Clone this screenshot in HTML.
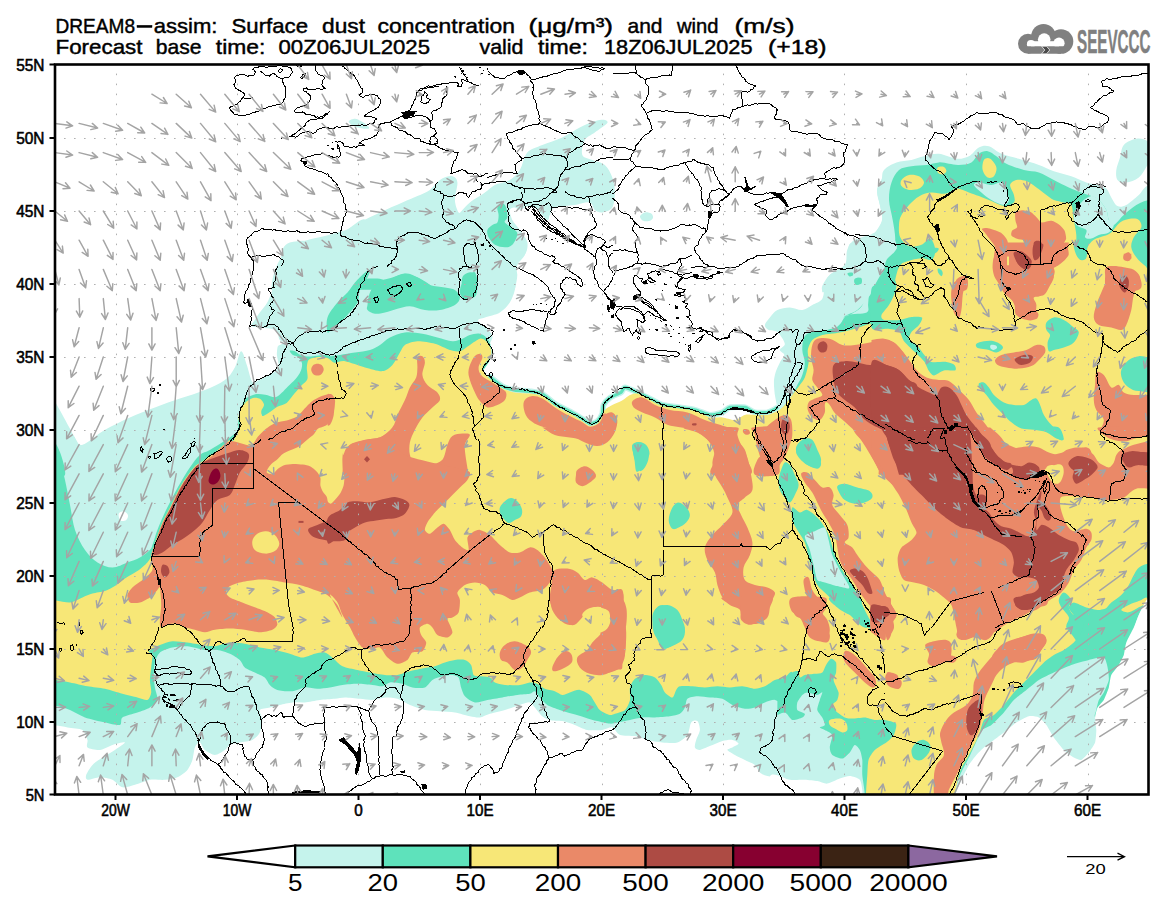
<!DOCTYPE html>
<html><head><meta charset="utf-8"><title>DREAM8 dust forecast</title>
<style>html,body{margin:0;padding:0;background:#fff;}body{width:1165px;height:907px;overflow:hidden;font-family:"Liberation Sans",sans-serif;}svg{display:block;font-family:"Liberation Sans",sans-serif;}.t{fill:#000;}</style></head><body>
<svg width="1165" height="907" viewBox="0 0 1165 907">
<rect x="0" y="0" width="1165" height="907" fill="#fff"/>
<defs><clipPath id="clip"><rect x="55.0" y="64.5" width="1093.5" height="730.0"/></clipPath></defs>
<g clip-path="url(#clip)">
<g id="fills" stroke="none">
<path fill="#c5f3ec" d="M271.1,289.8C271.9,284.8 272.1,279.8 273.6,274.8C275.0,269.8 277.1,264.0 279.8,259.8C282.5,255.7 285.6,253.0 289.8,249.8C294.0,246.7 299.0,243.4 304.8,241.1C310.6,238.8 317.9,238.0 324.8,236.1C331.6,234.2 338.9,232.1 346.0,229.9C353.1,227.6 363.9,212.8 367.2,222.4C370.8,232.4 367.2,267.3 367.2,289.8L271.1,289.8Z"/>
<path fill="#c5f3ec" d="M52.5,397.4C55.8,403.2 58.7,408.2 62.5,414.9C66.2,421.5 71.7,432.3 75.0,437.3C77.6,441.3 77.9,446.0 82.5,444.8C87.5,443.6 97.0,434.4 105.0,429.8C112.9,425.3 121.6,421.1 129.9,417.4C138.3,413.6 146.6,410.5 154.9,407.4C163.2,404.2 171.6,401.5 179.9,398.6C188.2,395.7 197.4,393.0 204.9,389.9C212.4,386.8 219.9,383.6 224.9,379.9C229.9,376.1 232.1,372.2 234.8,367.4C237.6,362.6 239.1,351.6 241.1,351.2C243.1,350.7 245.0,359.9 246.8,364.9C248.6,369.9 250.1,377.7 251.8,381.1C253.3,383.9 254.2,385.0 257.3,385.4C262.0,386.0 272.3,385.0 279.8,384.9L354.7,384.9L354.7,494.8L52.5,494.8L52.5,397.4Z"/>
<path fill="#c5f3ec" d="M289.8,242.5C278.3,246.3 282.3,261.7 279.8,267.5C277.8,272.1 276.1,273.7 274.8,277.5C273.6,281.2 273.6,285.8 272.3,290.0C271.1,294.1 269.4,298.7 267.3,302.5C265.2,306.2 261.9,309.5 259.8,312.4C257.7,315.4 256.1,317.6 254.8,319.9C253.6,322.2 249.6,324.8 252.3,326.2C255.7,327.8 270.2,327.6 274.8,329.9C279.3,332.2 277.9,337.4 279.8,339.9C281.7,342.4 286.1,341.3 286.1,344.9C286.1,349.1 282.5,359.1 279.8,364.9C277.1,370.7 269.8,374.9 269.8,379.9C269.8,384.9 276.5,389.9 279.8,394.9L354.7,394.9L354.7,242.5C333.1,242.5 302.3,238.3 289.8,242.5Z"/>
<path fill="#c5f3ec" d="M287.9,342.6C283.1,342.8 278.6,345.5 277.9,346.3C277.2,347.2 276.8,353.8 276.9,355.1C277.0,356.5 279.0,365.3 278.9,366.4C278.8,367.5 276.9,370.5 275.4,371.5C273.9,372.5 258.3,380.3 256.5,381.5C254.7,382.7 249.1,388.0 248.4,389.0C247.6,390.1 245.6,396.7 245.2,397.8L350.8,397.8C350.8,390.5 354.9,346.2 350.8,342.6C346.6,338.9 292.8,342.3 287.9,342.6Z"/>
<path fill="#c5f3ec" d="M304.8,784.8C305.8,783.6 310.4,781.9 312.3,782.3C314.2,782.8 316.0,785.9 316.0,787.3C316.0,788.8 313.9,790.7 312.3,791.1C310.6,791.5 307.3,790.9 306.0,789.8C304.8,788.8 303.7,786.1 304.8,784.8Z"/>
<path fill="#c5f3ec" d="M327.5,238.6C328.8,232.9 335.4,237.1 340.0,234.9C344.6,232.6 348.3,228.6 355.0,224.9C361.6,221.1 372.0,216.1 380.0,212.4C387.9,208.6 396.2,205.1 402.4,202.4C408.7,199.7 412.8,198.2 417.4,196.1C422.0,194.1 426.2,192.6 429.9,189.9C433.7,187.2 436.2,182.2 439.9,179.9C443.7,177.6 449.5,175.7 452.4,176.2C455.3,176.6 457.0,178.8 457.4,182.4C457.8,186.4 454.7,194.9 454.9,199.9C455.1,204.9 457.4,210.7 458.6,212.4C459.9,214.0 460.9,211.2 462.4,209.9C464.3,208.2 466.1,205.3 469.9,202.4C473.6,199.5 480.7,195.3 484.9,192.4C489.0,189.5 490.7,187.0 494.9,184.9C499.0,182.8 505.7,182.4 509.8,179.9C514.0,177.4 516.9,174.5 519.8,169.9C522.8,165.3 523.6,156.6 527.3,152.4C531.1,148.3 536.5,147.4 542.3,144.9C548.1,142.4 556.1,140.3 562.3,137.4C568.5,134.5 574.4,130.1 579.8,127.4C585.2,124.7 590.6,122.4 594.8,121.2C598.9,119.9 602.7,119.7 604.8,119.9C606.5,120.2 608.4,121.6 607.3,122.9C605.6,125.0 598.5,129.6 594.8,132.4C591.0,135.3 586.9,136.2 584.8,139.9C582.7,143.7 581.0,151.6 582.3,154.9C583.5,158.2 588.5,158.2 592.3,159.9C596.0,161.6 601.4,162.0 604.8,164.9C608.1,167.8 610.6,172.8 612.3,177.4C613.9,182.0 614.8,187.4 614.8,192.4C614.8,197.4 614.3,204.0 612.3,207.4C610.2,210.7 605.2,212.0 602.3,212.4C599.4,212.8 596.9,211.5 594.8,209.9C592.7,208.2 593.1,203.2 589.8,202.4C586.4,201.5 580.6,204.0 574.8,204.9C569.0,205.7 559.0,205.7 554.8,207.4C551.0,208.9 551.1,212.8 549.8,214.9C548.6,216.9 549.4,220.7 547.3,219.9C545.2,219.0 540.2,212.2 537.3,209.9C534.4,207.6 531.9,206.5 529.8,206.1C527.7,205.7 526.5,206.8 524.8,207.4C523.2,208.0 521.5,209.9 519.8,209.9C518.2,209.9 516.5,207.4 514.8,207.4C513.2,207.4 510.3,207.8 509.8,209.9C509.4,212.0 510.7,216.5 512.3,219.9C514.0,223.2 517.3,226.1 519.8,229.9C522.3,233.6 526.5,238.2 527.3,242.3C528.2,246.5 526.9,251.5 524.8,254.8C522.8,258.2 516.1,259.0 514.8,262.3C513.6,265.7 517.3,270.2 517.3,274.8C517.3,279.4 515.7,284.8 514.8,289.8L327.5,289.8C327.5,272.7 325.4,247.8 327.5,238.6Z"/>
<path fill="#c5f3ec" d="M348.7,121.2C349.2,120.1 352.9,118.7 355.0,118.7C357.1,118.7 359.1,120.1 361.2,121.2C363.3,122.3 366.2,124.2 367.5,125.4C368.6,126.6 370.0,128.3 368.7,128.7C367.5,129.1 362.7,128.5 360.0,127.9C357.3,127.4 354.4,126.6 352.5,125.4C350.6,124.3 348.3,122.3 348.7,121.2Z"/>
<path fill="#c5f3ec" d="M327.5,242.5L527.3,242.5C526.5,246.7 526.5,251.2 524.8,255.0C523.2,258.7 518.8,261.2 517.3,265.0C515.9,268.7 516.5,273.3 516.1,277.5C515.7,281.6 515.9,285.8 514.8,290.0C513.8,294.1 512.3,298.7 509.8,302.5C507.3,306.2 504.0,309.9 499.9,312.4C495.7,314.9 488.5,316.1 484.9,317.4C481.7,318.6 477.7,318.8 477.9,320.4C478.1,322.1 483.7,324.8 486.1,327.4C488.5,330.1 491.7,333.3 492.4,336.2C493.0,339.1 489.9,341.8 489.9,344.9C489.9,348.0 493.4,351.6 492.4,354.9C491.3,358.2 484.9,362.0 483.6,364.9C482.4,367.8 483.4,369.9 484.9,372.4C486.3,374.9 489.4,377.2 492.4,379.9C495.3,382.6 499.0,385.7 502.4,388.6L327.5,388.6L327.5,242.5Z"/>
<path fill="#c5f3ec" d="M361.2,778.6C361.6,776.5 364.3,772.1 367.5,769.9C370.6,767.6 376.2,765.9 380.0,764.9C383.7,763.8 387.0,763.4 389.9,763.6C392.9,763.8 397.0,764.7 397.4,766.1C397.9,767.6 395.4,770.9 392.4,772.4C389.5,773.8 383.7,773.6 380.0,774.9C376.2,776.1 372.5,778.6 370.0,779.8C367.7,781.0 366.4,782.6 365.0,782.3C363.5,782.1 360.8,780.7 361.2,778.6Z"/>
<path fill="#c5f3ec" d="M640.0,216.1C640.4,214.8 643.1,212.8 645.0,212.4C646.8,212.0 649.9,212.7 651.2,213.6C652.5,214.5 653.4,216.6 653.0,217.9C652.5,219.1 650.5,220.7 648.7,221.1C647.0,221.5 643.9,221.2 642.5,220.4C641.0,219.5 639.6,217.4 640.0,216.1Z"/>
<path fill="#c5f3ec" d="M897.3,164.9C891.8,166.6 888.1,170.7 884.8,174.9C881.4,179.1 878.1,184.9 877.3,189.9C876.4,194.9 878.9,199.9 879.8,204.9C880.6,209.9 883.1,215.3 882.3,219.9C881.4,224.4 879.4,229.0 874.8,232.4C870.2,235.7 859.4,236.9 854.8,239.8C850.2,242.8 849.0,245.7 847.3,249.8C845.6,254.0 847.7,260.7 844.8,264.8C841.9,269.0 833.6,271.3 829.8,274.8C826.1,278.4 823.6,283.1 822.3,286.1C821.2,288.6 822.3,290.2 822.3,292.3L917.2,292.3L917.2,164.9C910.6,164.9 902.7,163.2 897.3,164.9Z"/>
<path fill="#c5f3ec" d="M852.3,242.5C844.6,244.5 851.5,255.8 849.8,260.0C848.1,264.2 845.6,265.0 842.3,267.5C839.0,270.0 832.7,272.1 829.8,275.0C826.9,277.9 826.1,281.0 824.8,285.0C823.6,288.9 824.4,295.4 822.3,298.7C820.2,302.0 815.7,303.1 812.3,304.9C809.0,306.8 806.1,309.5 802.3,309.9C798.6,310.4 794.0,307.4 789.8,307.4C785.7,307.4 780.7,308.3 777.4,309.9C774.0,311.6 771.9,314.9 769.9,317.4C767.8,319.9 765.1,322.9 764.9,324.9C764.7,327.0 766.5,328.8 768.6,329.9C770.7,331.1 774.6,329.6 777.4,331.9C780.1,334.2 784.4,340.7 784.8,343.7C785.3,346.7 779.9,348.0 779.9,349.9C779.8,351.8 784.3,352.8 784.3,354.9C784.3,357.0 781.4,359.1 779.9,362.4C778.3,365.7 775.9,370.3 774.9,374.9C773.8,379.5 773.4,384.9 773.6,389.9C773.8,394.9 775.1,401.1 776.1,404.9C777.1,408.5 778.6,409.9 779.9,412.4L917.2,412.4L917.2,242.5C895.6,242.5 863.5,239.6 852.3,242.5Z"/>
<path fill="#c5f3ec" d="M881.5,179.9C882.7,176.6 881.5,172.8 884.0,169.9C886.5,167.0 891.9,164.1 896.5,162.4C901.1,160.7 906.9,161.0 911.5,159.9C916.0,158.9 919.4,157.2 924.0,156.2C928.5,155.1 933.5,153.3 938.9,153.7C944.4,154.1 951.4,158.2 956.4,158.7C961.4,159.1 965.2,158.0 968.9,156.2C972.7,154.3 975.6,149.1 978.9,147.4C982.2,145.8 985.2,145.1 988.9,146.2C992.6,147.2 996.4,151.6 1001.4,153.7C1006.4,155.8 1012.6,156.8 1018.9,158.7C1025.1,160.5 1033.0,162.8 1038.9,164.9C1044.7,167.0 1048.4,169.3 1053.8,171.2C1059.3,173.0 1065.9,174.3 1071.3,176.2C1076.7,178.0 1081.7,180.9 1086.3,182.4C1090.9,183.9 1095.5,183.9 1098.8,184.9C1102.1,185.9 1104.2,186.6 1106.3,188.6C1108.4,190.7 1109.4,194.5 1111.3,197.4C1113.2,200.3 1115.0,204.9 1117.5,206.1C1120.0,207.4 1122.8,206.7 1126.3,204.9C1129.8,203.0 1135.0,198.2 1138.8,194.9C1142.5,191.6 1142.9,187.4 1148.8,184.9C1154.6,182.4 1165.4,181.6 1173.7,179.9L1173.7,289.8L871.5,289.8C871.5,271.5 870.9,244.4 871.5,234.9C871.6,232.9 873.9,233.9 875.0,232.4C876.7,229.9 881.2,224.4 882.0,219.9C882.8,215.3 880.8,209.9 880.0,204.9C879.2,199.9 876.7,194.1 877.0,189.9C877.2,185.7 880.3,183.2 881.5,179.9Z"/>
<path fill="#c5f3ec" d="M1123.8,144.9C1126.5,141.8 1132.3,139.3 1136.3,138.7C1140.2,138.1 1144.6,138.9 1147.5,141.2C1150.4,143.5 1153.8,148.5 1153.8,152.4C1153.8,156.4 1150.0,160.7 1147.5,164.9C1145.0,169.1 1142.3,174.5 1138.8,177.4C1135.2,180.3 1129.8,182.0 1126.3,182.4C1122.7,182.8 1119.2,182.0 1117.5,179.9C1115.9,177.8 1115.9,173.7 1116.3,169.9C1116.7,166.2 1118.8,161.6 1120.0,157.4C1121.3,153.3 1121.1,148.1 1123.8,144.9Z"/>
<path fill="#c5f3ec" d="M50.0,480.0L1000.0,480.0L1000.0,830.0L50.0,830.0Z"/>
<path fill="#ffffff" d="M73.7,432.5C74.2,430.4 77.7,429.0 80.0,428.8C82.3,428.5 86.0,429.8 87.5,431.2C88.9,432.7 89.3,435.6 88.7,437.5C88.1,439.4 85.6,441.9 83.7,442.5C81.9,443.1 79.1,442.9 77.5,441.2C75.8,439.6 73.3,434.6 73.7,432.5Z"/>
<path fill="#ffffff" d="M118.7,513.7C119.2,512.1 122.2,511.0 123.7,511.2C125.2,511.4 127.5,513.5 127.9,514.9C128.4,516.4 127.4,519.0 126.2,519.9C124.9,520.8 121.7,521.5 120.4,520.4C119.2,519.4 118.2,515.2 118.7,513.7Z"/>
<path fill="#ffffff" d="M489.9,369.9C489.9,371.4 488.6,375.7 489.9,377.4C491.1,379.1 499.9,385.6 502.4,386.9C504.9,388.2 512.1,390.1 514.8,390.6C517.6,391.1 527.1,391.5 529.8,391.9C532.6,392.2 539.8,393.1 542.3,394.4C544.8,395.6 552.1,402.6 554.8,404.4C557.6,406.1 567.0,410.4 569.8,411.9C572.5,413.4 580.3,418.1 582.3,419.4C584.3,420.6 588.3,424.1 589.8,424.3C591.3,424.6 596.0,422.8 597.3,421.8C598.5,420.9 601.6,416.1 602.3,414.4C602.9,412.7 602.8,406.5 603.5,404.9C604.3,403.2 608.0,399.1 609.8,397.9C611.5,396.7 619.5,393.9 621.0,392.9C622.5,391.9 623.3,387.9 625.0,387.9C626.6,387.9 635.2,391.9 637.5,392.9C639.7,393.9 645.0,396.6 647.5,397.9C650.0,399.1 659.2,404.4 662.5,405.4C665.7,406.4 676.7,407.4 679.9,407.9C683.2,408.4 691.9,409.6 694.9,410.4C697.9,411.1 707.2,415.1 709.9,415.4C712.7,415.6 720.4,413.6 722.4,412.9C724.4,412.1 727.6,408.4 729.9,407.9C732.1,407.4 742.4,407.4 744.9,407.9C747.4,408.4 752.6,412.4 754.9,412.9C757.1,413.4 765.2,413.3 767.4,412.9C769.6,412.4 776.1,410.4 776.9,408.6C777.6,406.8 775.2,397.7 774.9,394.9C774.5,392.0 773.7,382.4 773.6,379.9C773.5,377.4 773.6,371.9 773.6,369.9L489.9,369.9Z"/>
<path fill="none" stroke="#c5f3ec" stroke-width="6.0" stroke-linejoin="round" stroke-linecap="round" d="M489.9,376.9C491.1,377.8 499.9,385.1 502.4,386.4C504.9,387.7 512.1,389.6 514.8,390.1C517.6,390.6 527.1,391.0 529.8,391.4C532.6,391.8 539.8,392.6 542.3,393.9C544.8,395.1 552.1,402.1 554.8,403.9C557.6,405.6 567.0,409.9 569.8,411.4C572.5,412.9 580.3,417.6 582.3,418.9C584.3,420.1 588.3,423.6 589.8,423.8C591.3,424.1 596.0,422.3 597.3,421.4C598.5,420.4 601.6,415.5 602.3,413.9C602.9,412.2 602.8,406.5 603.5,404.9C604.3,403.3 608.0,399.1 609.8,397.9C611.5,396.6 619.5,393.4 621.0,392.4C622.5,391.3 623.3,387.4 625.0,387.4C626.6,387.4 635.2,391.4 637.5,392.4C639.7,393.4 645.0,396.1 647.5,397.4C650.0,398.6 659.2,403.9 662.5,404.9C665.7,405.9 676.7,406.9 679.9,407.4C683.2,407.9 691.9,409.1 694.9,409.9C697.9,410.6 707.2,414.6 709.9,414.9C712.7,415.1 720.4,413.1 722.4,412.4C724.4,411.6 727.6,407.9 729.9,407.4C732.1,406.9 742.4,406.9 744.9,407.4C747.4,407.9 752.6,411.9 754.9,412.4C757.1,412.9 765.2,412.8 767.4,412.4C769.6,411.9 775.9,408.5 776.9,408.1"/>
<path fill="#ffffff" d="M52.5,724.9C56.5,725.6 63.5,726.7 67.5,727.4C71.5,728.1 79.8,728.2 82.5,729.9C85.1,731.6 86.8,737.5 87.5,739.9C88.1,742.2 85.8,746.0 87.5,747.4C89.1,748.7 96.6,750.2 100.0,749.9C103.3,749.5 109.1,745.9 112.5,744.9C115.8,743.9 124.6,741.7 124.9,742.4C125.3,743.0 117.9,747.9 114.9,749.9C112.0,751.9 105.5,755.4 102.5,757.4C99.5,759.4 94.6,762.5 92.5,764.9C90.3,767.2 86.9,772.9 86.2,774.9C85.6,776.8 85.6,779.5 87.5,779.8C89.3,780.2 96.6,777.3 100.0,777.3C103.3,777.3 109.5,778.5 112.5,779.8C115.4,781.2 119.4,786.7 122.4,787.3C125.4,788.0 131.3,785.8 134.9,784.8C138.6,783.8 145.9,780.5 149.9,779.8C153.9,779.2 161.2,780.2 164.9,779.8C168.6,779.5 174.4,778.7 177.4,777.3C180.4,776.0 185.4,772.2 187.4,769.9C189.4,767.5 191.4,762.9 192.4,759.9C193.4,756.9 193.9,749.7 194.9,747.4C195.9,745.0 198.5,742.0 199.9,742.4C201.2,742.7 202.9,748.2 204.9,749.9C206.9,751.5 212.2,754.9 214.9,754.9C217.5,754.9 222.9,751.2 224.9,749.9C226.9,748.5 227.9,745.9 229.9,744.9C231.8,743.9 236.8,743.0 239.8,742.4C242.8,741.7 249.7,741.2 252.3,739.9C255.0,738.5 258.5,735.1 259.8,732.4C261.2,729.7 262.3,722.9 262.3,719.9C262.3,716.9 258.8,711.6 259.8,709.9C260.8,708.2 267.2,708.1 269.8,707.4C272.5,706.7 276.8,705.6 279.8,704.9C282.8,704.2 289.0,702.7 292.3,702.4C295.6,702.1 301.1,702.7 304.8,702.4C308.5,702.1 315.8,700.4 319.8,699.9C323.8,699.4 331.4,699.0 334.8,698.7C338.1,698.3 341.6,697.4 345.0,697.4C348.3,697.4 356.3,698.3 360.0,698.7C363.6,699.0 369.1,700.1 372.5,699.9C375.8,699.7 381.6,697.6 385.0,697.4C388.3,697.3 394.1,697.7 397.4,698.7C400.8,699.7 406.3,703.4 409.9,704.9C413.6,706.4 420.9,709.1 424.9,709.9C428.9,710.7 435.9,710.8 439.9,711.2C443.9,711.5 450.9,711.7 454.9,712.4C458.9,713.1 466.6,715.5 469.9,716.2C473.2,716.8 477.2,717.7 479.9,717.4C482.5,717.1 486.5,714.7 489.9,713.7C493.2,712.7 500.9,711.1 504.9,709.9C508.8,708.7 516.5,705.9 519.8,704.9C523.2,703.9 527.8,702.1 529.8,702.4C531.8,702.7 533.2,705.6 534.8,707.4C536.5,709.2 540.3,714.5 542.3,716.2C544.3,717.8 547.1,719.2 549.8,719.9C552.5,720.6 559.0,720.5 562.3,721.1C565.6,721.8 571.5,723.7 574.8,724.9C578.1,726.1 583.6,729.2 587.3,729.9C590.9,730.6 598.9,730.2 602.3,729.9C605.6,729.6 609.9,726.7 612.3,727.4C614.6,728.1 617.0,733.7 620.0,734.9C623.0,736.1 631.3,735.5 635.0,736.1C638.6,736.8 643.8,739.0 647.5,739.9C651.1,740.7 658.5,742.0 662.5,742.4C666.4,742.7 674.1,743.4 677.4,742.4C680.8,741.4 685.6,737.5 687.4,734.9C689.3,732.2 689.8,724.2 691.2,722.4C692.5,720.6 696.3,720.1 697.4,721.1C698.6,722.1 700.1,727.4 699.9,729.9C699.8,732.4 696.8,737.5 696.2,739.9C695.5,742.2 694.4,746.0 694.9,747.4C695.4,748.7 697.9,750.0 699.9,749.9C701.9,749.7 706.9,747.3 709.9,746.1C712.9,745.0 719.4,742.0 722.4,741.1C725.4,740.3 730.2,739.5 732.4,739.9C734.6,740.2 738.6,742.6 738.6,743.6C738.6,744.6 733.9,746.5 732.4,747.4C730.9,748.2 727.1,748.9 727.4,749.9C727.7,750.9 732.6,753.5 734.9,754.9C737.2,756.2 742.2,758.5 744.9,759.9C747.5,761.2 752.9,763.2 754.9,764.9C756.9,766.5 758.2,770.9 759.9,772.4C761.5,773.9 764.7,775.4 767.4,776.1C770.0,776.8 775.5,776.8 779.9,777.3C784.2,777.9 797.3,771.6 800.0,780.0C802.7,788.4 800.0,824.0 800.0,840.0L40.0,840.0L52.5,724.9Z"/>
<path fill="#5ee2bb" d="M52.5,442.3C53.8,438.6 58.0,447.1 60.0,452.3C62.1,457.7 66.2,471.1 65.0,474.8C63.7,478.6 54.5,480.1 52.5,474.8C50.4,469.4 51.3,446.1 52.5,442.3Z"/>
<path fill="#5ee2bb" d="M289.8,350.7C290.2,350.1 293.7,350.6 295.5,351.4C297.3,352.1 298.2,354.2 300.5,355.1C302.8,356.0 305.3,356.6 309.3,356.6C313.5,356.6 321.2,354.9 325.6,355.1C330.0,355.4 331.5,357.6 335.7,358.3C339.9,358.9 349.1,352.3 350.8,358.9C353.3,368.8 350.8,398.3 350.8,417.9L262.8,417.9C262.0,415.4 260.3,412.7 260.3,410.4C260.3,408.1 262.9,405.9 262.8,404.1C262.7,402.3 261.1,400.7 259.7,399.7C258.2,398.8 256.2,398.0 254.0,398.5C251.8,398.9 248.5,400.8 246.5,402.2C244.5,403.7 242.5,407.6 242.1,407.3C241.7,406.9 242.6,402.2 244.0,400.4C245.3,398.5 248.2,397.0 250.3,396.0C252.3,394.9 254.0,394.3 256.5,394.1C259.0,393.9 262.2,394.2 265.3,394.7C268.5,395.2 272.7,397.5 275.4,397.2C278.1,396.9 279.6,394.6 281.7,392.8C283.8,391.0 285.6,388.8 287.9,386.5C290.2,384.2 293.4,381.5 295.5,379.0C297.6,376.5 299.4,374.1 300.5,371.5C301.6,368.8 302.4,365.7 302.0,363.3C301.6,360.9 299.5,358.4 298.0,357.0C296.5,355.6 294.3,356.2 293.0,355.1C291.6,354.1 289.4,351.4 289.8,350.7Z"/>
<path fill="#5ee2bb" d="M240.2,416.7C241.4,417.1 243.2,420.9 245.2,423.0C247.2,425.1 251.7,426.9 252.1,429.2C252.6,431.5 249.9,434.7 247.7,436.8C245.5,438.9 241.2,440.3 238.9,441.8C236.6,443.3 235.4,444.9 233.9,445.6C232.5,446.2 229.7,447.2 230.2,445.6C230.8,443.1 236.3,434.7 237.7,430.5C239.0,426.3 237.9,422.8 238.3,420.5C238.7,418.6 239.0,416.3 240.2,416.7Z"/>
<path fill="#5ee2bb" d="M52.5,442.5C53.3,442.5 54.6,441.5 55.0,442.5C56.2,445.4 58.3,453.7 60.0,460.0C61.7,466.2 63.3,472.5 65.0,480.0C66.7,487.5 68.3,496.6 70.0,504.9C71.7,513.3 72.5,522.4 75.0,529.9C77.5,537.4 81.2,544.5 85.0,549.9C88.7,555.3 92.9,559.5 97.5,562.4C102.0,565.3 107.5,567.4 112.5,567.4C117.4,567.4 122.9,564.1 127.4,562.4C132.0,560.7 136.2,559.5 139.9,557.4C143.7,555.3 147.8,552.2 149.9,549.9C152.1,547.6 151.8,546.6 152.9,543.7C154.2,540.3 155.4,535.1 157.4,529.9C159.4,524.7 162.4,517.8 164.9,512.4C167.4,507.0 169.9,502.2 172.4,497.4C174.9,492.7 177.0,488.7 179.9,483.7C182.8,478.7 186.6,472.3 189.9,467.5C193.2,462.7 196.5,457.9 199.9,455.0C203.2,452.1 205.5,452.5 209.9,450.0C214.9,447.1 224.4,441.2 229.9,437.5C235.3,433.7 238.2,430.8 242.3,427.5L354.7,427.5L354.7,629.8L52.5,629.8L52.5,442.5Z"/>
<path fill="#5ee2bb" d="M497.4,207.4C498.0,205.5 500.9,203.6 502.4,203.6C503.8,203.6 505.3,205.1 506.1,207.4C506.9,209.7 507.6,214.9 507.3,217.4C507.1,219.9 503.6,220.3 504.9,222.4C506.1,224.4 512.8,227.8 514.8,229.9C516.6,231.6 517.8,232.4 517.3,234.9C516.9,237.3 514.4,242.8 512.3,244.8C510.3,246.9 507.8,247.3 504.9,247.3C501.9,247.3 497.6,246.5 494.9,244.8C492.2,243.2 489.9,239.8 488.6,237.3C487.4,234.9 486.7,231.9 487.4,229.9C488.0,227.8 490.7,226.1 492.4,224.9C494.0,223.6 496.3,224.0 497.4,222.4C498.4,220.7 498.6,217.4 498.6,214.9C498.6,212.4 496.7,209.2 497.4,207.4Z"/>
<path fill="#5ee2bb" d="M462.4,277.3C463.4,274.4 467.8,272.7 469.9,272.3C472.0,271.9 474.0,272.5 474.9,274.8C475.9,277.7 478.0,287.3 476.1,289.8C474.3,292.3 465.9,291.9 463.6,289.8C461.3,287.7 461.3,280.2 462.4,277.3Z"/>
<path fill="#5ee2bb" d="M355.0,289.8C357.5,286.5 358.7,281.7 362.5,279.8C366.2,277.9 373.3,278.6 377.5,278.6C381.6,278.6 383.0,280.6 387.5,279.8C392.0,279.0 399.9,274.0 404.9,273.6C409.9,273.2 413.3,275.4 417.4,277.3C421.6,279.2 427.4,282.7 429.9,284.8C431.8,286.4 431.6,288.1 432.4,289.8L355.0,289.8Z"/>
<path fill="#5ee2bb" d="M367.5,304.9C367.9,302.0 368.3,296.2 370.0,292.5C371.6,288.7 373.7,285.0 377.5,282.5C381.2,280.0 387.9,278.9 392.4,277.5C397.0,276.0 400.8,273.7 404.9,273.7C409.1,273.7 413.3,275.6 417.4,277.5C421.6,279.3 425.3,283.3 429.9,285.0C434.5,286.6 440.7,286.6 444.9,287.5C449.1,288.3 452.4,288.3 454.9,290.0C457.4,291.6 459.9,295.0 459.9,297.5C459.9,300.0 458.2,302.9 454.9,304.9C451.6,307.0 444.9,309.1 439.9,309.9C434.9,310.8 429.9,310.6 424.9,309.9C419.9,309.3 414.5,306.4 409.9,306.2C405.4,306.0 401.6,307.7 397.4,308.7C393.3,309.7 388.7,311.6 385.0,312.4C381.2,313.3 377.9,314.1 375.0,313.7C372.0,313.3 368.7,311.4 367.5,309.9C366.2,308.5 367.2,307.2 367.5,304.9Z"/>
<path fill="#5ee2bb" d="M462.4,282.5C464.1,279.6 467.8,276.6 469.9,275.0C471.8,273.4 473.6,271.2 474.9,272.5C476.1,273.7 477.2,278.7 477.4,282.5C477.6,286.2 477.4,292.3 476.1,295.0C474.9,297.7 472.0,298.1 469.9,298.7C467.8,299.3 465.3,299.7 463.6,298.7C462.0,297.7 460.1,295.2 459.9,292.5C459.7,289.8 460.7,285.4 462.4,282.5Z"/>
<path fill="#5ee2bb" d="M327.5,317.4C329.2,312.4 334.2,306.6 337.5,302.5C340.8,298.3 344.6,295.8 347.5,292.5C350.4,289.1 352.1,285.8 355.0,282.5C357.9,279.1 362.5,274.6 365.0,272.5C366.9,270.9 369.5,269.1 370.0,270.0C370.4,270.8 369.1,274.3 367.5,277.5C365.8,280.8 361.6,285.8 360.0,290.0C358.3,294.1 359.6,298.3 357.5,302.5C355.4,306.6 350.4,311.6 347.5,314.9C344.6,318.3 342.9,319.7 340.0,322.4C337.1,325.1 332.1,329.5 330.0,331.2C329.0,332.0 327.7,333.7 327.5,332.4C327.1,330.1 325.8,322.4 327.5,317.4Z"/>
<path fill="#5ee2bb" d="M327.5,358.7C329.6,355.3 335.4,355.9 340.0,354.9C344.6,353.9 350.0,353.2 355.0,352.4C360.0,351.6 365.8,351.2 370.0,349.9C374.1,348.7 376.6,347.0 380.0,344.9C383.3,342.8 385.8,339.5 389.9,337.4C394.1,335.3 399.5,333.1 404.9,332.4C410.3,331.8 417.0,332.8 422.4,333.7C427.8,334.5 432.4,336.2 437.4,337.4C442.4,338.7 448.2,341.0 452.4,341.2C456.6,341.4 459.5,339.7 462.4,338.7C465.3,337.6 467.0,335.8 469.9,334.9C472.8,334.1 477.0,333.1 479.9,333.7C482.8,334.3 485.5,336.4 487.4,338.7C489.2,341.0 490.7,343.9 491.1,347.4C491.5,351.0 491.7,355.3 489.9,359.9C488.0,364.5 483.2,369.9 479.9,374.9L327.5,374.9C327.5,369.5 325.4,362.0 327.5,358.7Z"/>
<path fill="#5ee2bb" d="M897.3,258.7C891.0,259.2 884.3,260.4 879.8,261.2C875.2,262.1 871.4,261.0 869.8,263.7C868.1,266.4 869.4,273.1 869.8,277.5C870.2,281.8 872.7,286.4 872.3,290.0C871.9,293.5 869.8,295.4 867.3,298.7C864.8,302.0 861.0,307.0 857.3,309.9C853.5,312.9 847.9,313.7 844.8,316.2C841.7,318.7 841.5,322.6 838.6,324.9C835.6,327.2 831.3,328.9 827.3,329.9C823.4,331.0 818.6,330.1 814.8,331.2C811.1,332.2 806.9,333.1 804.8,336.2C802.7,339.3 802.3,345.5 802.3,349.9C802.3,354.3 804.8,358.2 804.8,362.4C804.8,366.6 803.6,371.1 802.3,374.9C801.1,378.6 799.0,381.6 797.3,384.9C795.7,388.2 794.4,391.5 792.3,394.9C790.3,398.2 786.9,401.9 784.8,404.9C782.8,407.8 780.7,409.0 779.9,412.4C779.0,415.7 779.9,420.7 779.9,424.8L917.2,424.8L917.2,258.7C910.6,258.7 903.5,258.3 897.3,258.7Z"/>
<path fill="#5ee2bb" d="M854.8,278.7C855.7,278.0 858.7,277.3 859.8,278.0C860.8,278.6 861.5,281.3 861.0,282.5C860.5,283.6 857.9,285.0 856.8,285.0C855.7,285.0 854.6,283.5 854.3,282.5C854.0,281.4 853.9,279.5 854.8,278.7Z"/>
<path fill="none" stroke="#5ee2bb" stroke-width="3.2" stroke-linejoin="round" stroke-linecap="round" d="M489.9,376.9C491.1,377.8 499.9,385.1 502.4,386.4C504.9,387.7 512.1,389.6 514.8,390.1C517.6,390.6 527.1,391.0 529.8,391.4C532.6,391.8 539.8,392.6 542.3,393.9C544.8,395.1 552.1,402.1 554.8,403.9C557.6,405.6 567.0,409.9 569.8,411.4C572.5,412.9 580.3,417.6 582.3,418.9C584.3,420.1 588.3,423.6 589.8,423.8C591.3,424.1 596.0,422.3 597.3,421.4C598.5,420.4 601.6,415.5 602.3,413.9C602.9,412.2 602.8,406.5 603.5,404.9C604.3,403.3 608.0,399.1 609.8,397.9C611.5,396.6 619.5,393.4 621.0,392.4C622.5,391.3 623.3,387.4 625.0,387.4C626.6,387.4 635.2,391.4 637.5,392.4C639.7,393.4 645.0,396.1 647.5,397.4C650.0,398.6 659.2,403.9 662.5,404.9C665.7,405.9 676.7,406.9 679.9,407.4C683.2,407.9 691.9,409.1 694.9,409.9C697.9,410.6 707.2,414.6 709.9,414.9C712.7,415.1 720.4,413.1 722.4,412.4C724.4,411.6 727.6,407.9 729.9,407.4C732.1,406.9 742.4,406.9 744.9,407.4C747.4,407.9 752.6,411.9 754.9,412.4C757.1,412.9 765.2,412.8 767.4,412.4C769.6,411.9 775.9,408.5 776.9,408.1"/>
<path fill="#5ee2bb" d="M892.7,219.9C891.7,213.2 889.2,206.1 889.0,199.9C888.8,193.6 889.8,187.4 891.5,182.4C893.2,177.4 895.6,172.6 899.0,169.9C902.3,167.2 906.9,167.0 911.5,166.2C916.0,165.3 921.9,165.5 926.5,164.9C931.0,164.3 935.2,162.6 938.9,162.4C942.7,162.2 945.6,163.2 948.9,163.7C952.3,164.1 955.2,165.1 958.9,164.9C962.7,164.7 968.1,164.3 971.4,162.4C974.7,160.5 976.2,155.5 978.9,153.7C981.6,151.8 984.7,150.8 987.7,151.2C990.6,151.6 993.3,154.1 996.4,156.2C999.5,158.2 1001.8,161.4 1006.4,163.7C1011.0,166.0 1018.5,168.4 1023.9,169.9C1029.3,171.4 1033.9,170.7 1038.9,172.4C1043.9,174.1 1048.9,177.4 1053.8,179.9C1058.8,182.4 1064.3,185.3 1068.8,187.4C1073.4,189.5 1077.6,190.9 1081.3,192.4C1085.1,193.8 1088.4,194.9 1091.3,196.1C1094.2,197.4 1096.3,197.6 1098.8,199.9C1101.3,202.2 1104.6,206.5 1106.3,209.9C1108.0,213.2 1107.6,217.4 1108.8,219.9C1110.0,222.4 1111.3,225.7 1113.8,224.9C1116.3,224.0 1120.0,218.2 1123.8,214.9C1127.5,211.5 1132.1,207.4 1136.3,204.9C1140.4,202.4 1142.9,201.4 1148.8,199.9C1155.0,198.2 1165.4,196.6 1173.7,194.9L1173.7,289.8L871.5,289.8C871.5,282.3 869.8,271.7 871.5,267.3C873.2,263.0 878.2,265.7 881.5,263.6C884.8,261.5 889.2,258.8 891.5,254.8C893.8,250.9 895.0,245.7 895.2,239.8C895.4,234.0 893.8,226.5 892.7,219.9Z"/>
<path fill="#5ee2bb" d="M52.5,704.9C57.8,706.2 65.7,708.2 70.0,709.9C74.3,711.6 80.3,715.7 85.0,717.4C89.6,719.1 100.3,721.4 105.0,722.4C109.6,723.4 117.6,725.6 119.9,724.9C122.3,724.2 120.1,719.1 122.4,717.4C124.8,715.7 133.8,713.7 137.4,712.4C141.1,711.1 147.3,709.1 149.9,707.4C152.6,705.7 156.7,702.6 157.4,699.9C158.1,697.3 155.4,690.8 154.9,687.4C154.4,684.1 153.7,678.3 153.7,674.9C153.7,671.6 154.1,665.4 154.9,662.4C155.7,659.4 157.6,654.5 159.9,652.5C162.2,650.5 168.7,648.3 172.4,647.5C176.1,646.6 183.1,645.9 187.4,646.2C191.7,646.5 200.9,649.5 204.9,650.0C208.9,650.5 214.0,649.5 217.4,650.0C220.7,650.5 226.9,652.4 229.9,653.7C232.8,655.0 237.8,658.1 239.8,659.9C241.8,661.8 242.8,665.8 244.8,667.4C246.8,669.1 252.2,671.1 254.8,672.4C257.5,673.8 262.8,675.8 264.8,677.4C266.8,679.1 268.2,683.3 269.8,684.9C271.5,686.6 274.3,689.1 277.3,689.9C280.3,690.8 288.6,691.5 292.3,691.2C296.0,690.8 301.5,687.8 304.8,687.4C308.1,687.1 313.9,688.7 317.3,688.7C320.6,688.7 326.4,687.9 329.8,687.4C333.1,686.9 338.8,685.4 342.5,684.9C346.2,684.4 353.5,683.7 357.5,683.7C361.5,683.7 369.1,684.6 372.5,684.9C375.8,685.3 380.1,686.5 382.5,686.2C384.8,685.8 387.3,682.8 389.9,682.4C392.6,682.1 399.4,683.0 402.4,683.7C405.4,684.3 409.4,686.9 412.4,687.4C415.4,687.9 422.3,688.4 424.9,687.4C427.6,686.4 430.1,681.4 432.4,679.9C434.7,678.4 439.7,676.9 442.4,676.2C445.1,675.5 450.2,674.8 452.4,674.9C454.6,675.1 457.5,675.8 458.6,677.4C459.8,679.1 460.3,684.9 461.1,687.4C462.0,689.9 463.1,694.2 464.9,696.2C466.7,698.2 471.9,701.9 474.9,702.4C477.9,702.9 483.7,700.6 487.4,699.9C491.0,699.2 498.4,698.1 502.4,697.4C506.4,696.8 513.7,695.4 517.3,694.9C521.0,694.4 527.5,694.2 529.8,693.7C532.2,693.2 533.5,690.7 534.8,691.2C536.2,691.7 538.2,695.6 539.8,697.4C541.5,699.2 544.7,703.2 547.3,704.9C550.0,706.6 556.5,708.7 559.8,709.9C563.1,711.1 569.0,712.7 572.3,713.7C575.6,714.7 581.5,716.4 584.8,717.4C588.1,718.4 593.9,720.3 597.3,721.1C600.6,722.0 607.1,723.5 609.8,723.6C612.5,723.8 614.8,722.9 617.5,722.4C620.2,721.9 626.6,720.6 630.0,719.9C633.3,719.2 639.1,717.7 642.5,717.4C645.8,717.1 651.3,717.6 655.0,717.4C658.6,717.2 666.6,716.7 669.9,716.2C673.3,715.7 677.9,714.8 679.9,713.7C681.9,712.5 683.9,709.4 684.9,707.4C685.9,705.4 685.8,700.2 687.4,698.7C689.1,697.2 694.4,696.3 697.4,696.2C700.4,696.0 706.6,697.1 709.9,697.4C713.2,697.8 719.4,697.7 722.4,698.7C725.4,699.7 729.4,703.6 732.4,704.9C735.4,706.2 741.9,708.3 744.9,708.7C747.9,709.0 752.2,708.2 754.9,707.4C757.5,706.6 762.2,703.4 764.9,702.4C767.5,701.4 772.5,699.6 774.9,699.9C777.2,700.2 781.0,703.2 782.3,704.9C783.7,706.6 783.5,710.4 784.8,712.4C786.2,714.4 790.3,721.6 792.3,719.9C794.4,718.2 798.0,705.3 800.0,700.0L800.0,600.0L30.0,600.0L30.0,700.0C36.0,701.3 47.2,703.6 52.5,704.9Z"/>
<path fill="#c5f3ec" d="M1091.3,196.1C1088.4,196.6 1084.2,199.3 1081.3,202.4C1078.4,205.5 1074.7,211.1 1073.8,214.9C1073.0,218.6 1074.2,222.4 1076.3,224.9C1078.4,227.4 1084.9,227.8 1086.3,229.9C1087.8,231.9 1084.2,235.9 1085.1,237.3C1085.9,238.8 1089.0,239.0 1091.3,238.6C1093.6,238.2 1095.9,235.9 1098.8,234.9C1101.7,233.8 1106.3,234.0 1108.8,232.4C1111.3,230.7 1113.8,226.9 1113.8,224.9C1113.8,222.8 1110.0,222.4 1108.8,219.9C1107.6,217.4 1108.0,213.2 1106.3,209.9C1104.6,206.5 1101.3,202.2 1098.8,199.9C1096.3,197.6 1094.2,195.7 1091.3,196.1Z"/>
<path fill="#c5f3ec" d="M978.9,182.4C981.8,182.4 987.7,184.9 991.4,184.9C995.1,184.9 998.9,181.6 1001.4,182.4C1003.9,183.2 1005.1,187.0 1006.4,189.9C1007.6,192.8 1009.3,197.4 1008.9,199.9C1008.5,202.4 1006.8,204.9 1003.9,204.9C1001.0,204.9 995.1,202.0 991.4,199.9C987.7,197.8 984.3,194.9 981.4,192.4C978.5,189.9 974.3,186.6 973.9,184.9C973.5,183.2 976.4,182.4 978.9,182.4Z"/>
<path fill="#c5f3ec" d="M891.4,228.6C892.1,229.3 892.1,231.7 892.8,234.1C893.7,237.3 897.1,244.0 896.9,247.9C896.7,251.7 893.0,254.5 891.4,257.5C889.8,260.4 889.1,262.7 887.3,265.7C885.5,268.7 882.5,272.1 880.4,275.3C878.4,278.5 876.8,281.7 874.9,284.9C873.1,288.1 870.6,291.3 869.4,294.6C868.3,297.8 868.5,301.2 868.1,304.2C867.6,307.1 870.0,310.6 866.7,312.4C863.3,314.2 851.8,313.3 847.5,315.2C843.1,317.0 842.9,321.1 840.6,323.4C838.3,325.7 835.8,328.4 833.7,328.9C831.7,329.3 827.8,327.5 828.2,326.1C828.7,324.8 832.6,322.9 836.5,320.6C842.0,317.4 856.4,312.9 861.2,306.9C866.0,301.0 864.4,292.3 865.3,284.9C866.2,277.6 863.3,269.4 866.7,263.0C870.1,256.6 882.3,252.0 885.9,246.5C889.6,241.0 887.8,233.0 888.7,230.0C889.1,228.7 890.7,227.9 891.4,228.6Z"/>
<path fill="#f7e777" d="M901.5,179.9C902.7,178.0 906.1,175.5 909.0,174.9C911.9,174.3 916.5,174.9 919.0,176.2C921.5,177.4 924.0,180.3 924.0,182.4C924.0,184.5 921.5,187.4 919.0,188.6C916.5,189.9 911.9,190.3 909.0,189.9C906.1,189.5 902.7,187.8 901.5,186.1C900.2,184.5 900.2,181.8 901.5,179.9Z"/>
<path fill="#f7e777" d="M937.7,167.4C938.7,166.5 942.5,166.3 943.9,166.9C945.4,167.5 946.6,169.9 946.4,171.2C946.2,172.4 944.1,174.2 942.7,174.4C941.2,174.6 938.5,173.6 937.7,172.4C936.9,171.2 936.7,168.3 937.7,167.4Z"/>
<path fill="#f7e777" d="M983.9,159.9C985.2,158.0 988.1,157.4 990.2,158.7C992.2,159.9 995.8,164.5 996.4,167.4C997.0,170.3 995.4,174.5 993.9,176.2C992.4,177.8 989.5,178.4 987.7,177.4C985.8,176.4 983.3,172.8 982.7,169.9C982.0,167.0 982.7,161.8 983.9,159.9Z"/>
<path fill="#f7e777" d="M899.0,224.9C899.2,221.1 899.4,218.6 901.5,214.9C903.6,211.1 908.1,205.7 911.5,202.4C914.8,199.0 918.1,196.6 921.5,194.9C924.8,193.2 927.3,192.6 931.5,192.4C935.6,192.2 942.3,194.3 946.4,193.6C950.6,193.0 952.7,188.8 956.4,188.6C960.2,188.4 965.2,191.1 968.9,192.4C972.7,193.6 975.2,194.7 978.9,196.1C982.7,197.6 987.2,199.5 991.4,201.1C995.6,202.8 1000.1,205.9 1003.9,206.1C1007.6,206.3 1012.2,204.3 1013.9,202.4C1015.5,200.5 1014.5,197.8 1013.9,194.9C1013.3,192.0 1009.7,187.4 1010.1,184.9C1010.6,182.4 1013.7,180.5 1016.4,179.9C1019.1,179.3 1023.0,179.9 1026.4,181.1C1029.7,182.4 1033.0,185.1 1036.4,187.4C1039.7,189.7 1043.4,192.8 1046.4,194.9C1049.3,197.0 1050.9,198.6 1053.8,199.9C1056.8,201.1 1060.9,201.5 1063.8,202.4C1066.8,203.2 1069.7,202.0 1071.3,204.9C1073.0,207.8 1073.0,214.9 1073.8,219.9C1074.7,224.9 1075.9,229.9 1076.3,234.9C1076.7,239.8 1075.7,245.7 1076.3,249.8C1077.0,254.0 1078.4,258.6 1080.1,259.8C1081.7,261.1 1085.1,259.4 1086.3,257.3C1087.6,255.3 1086.3,250.3 1087.6,247.3C1088.8,244.4 1091.1,241.7 1093.8,239.8C1096.5,238.0 1100.9,237.3 1103.8,236.1C1106.7,234.9 1108.6,234.6 1111.3,232.4C1114.0,230.1 1116.7,224.7 1120.0,222.4C1123.4,220.1 1128.2,219.0 1131.3,218.6C1134.4,218.2 1137.1,218.4 1138.8,219.9C1140.4,221.3 1142.1,224.4 1141.3,227.4C1140.4,230.3 1135.4,234.0 1133.8,237.3C1132.1,240.7 1130.9,244.0 1131.3,247.3C1131.7,250.7 1134.2,254.4 1136.3,257.3C1138.4,260.2 1141.7,263.2 1143.8,264.8C1145.7,266.4 1146.3,267.1 1148.8,267.3C1153.8,267.7 1169.6,263.6 1173.7,267.3C1177.9,271.1 1173.7,282.3 1173.7,289.8L894.0,289.8C894.4,286.5 894.4,283.6 895.2,279.8C896.1,276.1 897.1,270.7 899.0,267.3C900.9,264.0 903.1,261.5 906.5,259.8C909.8,258.2 914.8,257.3 919.0,257.3C923.1,257.3 928.7,261.1 931.5,259.8C934.2,258.6 935.4,253.4 935.2,249.8C935.0,246.3 932.5,239.4 930.2,238.6C927.9,237.8 925.0,243.6 921.5,244.8C917.9,246.1 912.5,247.3 909.0,246.1C905.4,244.8 901.9,240.9 900.2,237.3C898.6,233.8 898.8,228.6 899.0,224.9Z"/>
<path fill="#f7e777" d="M52.5,599.9C57.8,600.4 66.0,602.7 70.0,602.4C74.0,602.0 79.5,598.5 82.5,597.4C85.5,596.2 89.5,594.4 92.5,593.6C95.5,592.8 102.0,592.1 105.0,591.1C108.0,590.1 112.3,587.8 114.9,586.1C117.6,584.5 121.9,580.6 124.9,578.6C127.9,576.6 134.4,573.3 137.4,571.1C140.4,569.0 145.6,564.4 147.4,562.4C149.3,560.4 150.6,558.2 151.4,556.1C152.3,554.1 152.6,551.0 153.9,546.9C155.2,542.7 159.1,530.5 161.4,524.9C163.7,519.3 168.7,510.3 171.4,504.9C174.1,499.6 178.4,489.9 181.4,485.0C184.4,480.0 191.2,470.5 193.9,467.5C196.5,464.4 198.6,464.0 201.4,462.0C204.2,460.0 211.1,455.4 214.9,452.5C218.7,449.6 227.6,441.2 229.9,440.0C231.4,439.1 230.3,445.1 231.4,443.7C232.8,441.9 239.3,430.2 240.2,426.7C241.1,423.3 238.2,420.4 238.3,417.9C238.4,415.5 240.3,410.0 240.8,408.5C241.1,407.6 241.5,407.6 242.1,406.9C242.8,406.0 244.9,402.8 246.5,401.6C248.1,400.4 252.2,398.2 254.0,397.8C255.9,397.5 259.0,398.2 260.3,399.1C261.6,400.0 263.9,403.2 264.1,404.7C264.2,406.3 261.5,409.5 261.3,411.0C261.1,412.5 261.4,416.0 262.6,416.1C263.8,416.1 268.3,412.9 270.4,411.7C272.4,410.4 275.7,407.8 277.9,406.6C280.1,405.5 284.7,404.4 286.7,402.9C288.7,401.4 291.1,397.5 293.0,395.3C294.8,393.1 298.6,388.7 300.5,386.5C302.4,384.4 306.6,381.5 307.4,379.0C308.2,376.5 306.7,370.2 306.8,367.7C306.9,365.2 307.5,361.5 308.3,360.2C309.1,358.8 311.4,358.3 313.1,357.9C314.7,357.5 318.6,357.0 320.6,357.0C322.6,357.1 326.3,357.5 328.1,358.3C330.0,359.0 332.2,362.3 334.4,362.7C336.7,363.0 340.9,360.5 345.0,361.2C349.1,361.8 360.0,366.1 365.0,367.4C370.0,368.7 378.8,371.5 382.5,371.1C386.1,370.8 390.1,367.4 392.4,364.9C394.8,362.4 398.3,355.1 399.9,352.4C401.6,349.7 402.6,346.4 404.9,344.9C407.3,343.4 413.4,341.3 417.4,341.2C421.4,341.0 430.6,342.5 434.9,343.7C439.2,344.8 446.6,348.9 449.9,349.9C453.2,350.9 457.2,351.8 459.9,351.2C462.6,350.5 467.2,346.6 469.9,344.9C472.5,343.2 477.7,339.2 479.9,338.7C482.0,338.2 484.6,339.7 486.1,341.2C487.6,342.7 490.6,347.7 491.1,349.9C491.6,352.1 491.0,355.2 489.9,357.4C488.8,359.6 483.5,364.0 482.9,366.1C482.2,368.3 483.6,371.6 484.9,373.6C486.1,375.6 490.0,379.1 492.4,381.1C494.7,383.1 499.4,387.1 502.4,388.6C505.4,390.1 511.2,391.7 514.8,392.4C518.5,393.0 526.2,393.1 529.8,393.6C533.5,394.1 539.0,394.5 542.3,396.1C545.7,397.8 551.1,403.8 554.8,406.1C558.5,408.4 566.1,411.6 569.8,413.6C573.5,415.6 579.6,419.4 582.3,421.1C584.9,422.8 587.8,425.8 589.8,426.1C591.8,426.4 595.5,424.9 597.3,423.6C599.0,422.3 601.8,417.9 602.8,416.1C603.8,414.3 603.5,411.4 604.8,409.9C606.0,408.4 610.1,406.0 612.3,404.9C614.5,403.7 618.9,402.4 621.2,401.1C623.6,399.8 627.8,395.9 630.0,394.9C632.1,393.9 635.1,393.1 637.5,393.6C639.8,394.1 644.1,397.0 647.5,398.6C650.8,400.3 658.1,404.8 662.5,406.1C666.8,407.4 675.6,407.9 679.9,408.6C684.3,409.3 690.9,409.9 694.9,411.1C698.9,412.3 706.2,416.5 709.9,417.4C713.6,418.2 719.1,417.0 722.4,417.4C725.7,417.7 731.9,420.2 734.9,419.9C737.9,419.5 742.2,415.5 744.9,414.9C747.5,414.2 751.9,414.9 754.9,414.9C757.9,414.9 764.4,415.4 767.4,414.9C770.4,414.4 775.0,412.4 777.4,411.1C779.7,409.8 782.8,407.0 784.8,404.9C786.8,402.7 790.3,397.5 792.3,394.9C794.3,392.2 798.2,387.2 799.8,384.9C801.5,382.5 803.7,380.4 804.8,377.4C806.0,374.4 808.2,366.1 808.6,362.4C809.0,358.7 807.3,352.9 807.8,349.9C808.3,346.9 810.4,341.9 812.3,339.9C814.3,337.9 818.7,335.9 822.3,334.9C826.0,333.9 835.5,333.3 839.8,332.4C844.1,331.6 850.8,329.8 854.8,328.7C858.8,327.5 866.4,324.8 869.8,323.7C873.1,322.5 878.2,321.8 879.8,319.9C881.4,318.1 880.6,313.1 881.8,309.9C882.9,306.8 886.4,298.7 888.5,296.2C890.6,293.7 894.9,292.5 897.3,291.2L1180.0,291.0L1180.0,830.0L800.0,830.0L797.0,760.0C796.5,744.0 795.6,711.7 795.0,700.0C794.4,688.3 793.7,675.4 792.3,672.4C791.0,669.4 787.2,676.4 784.8,677.4C782.5,678.4 777.5,678.8 774.9,679.9C772.2,681.1 767.5,685.0 764.9,686.2C762.2,687.3 757.9,688.7 754.9,688.7C751.9,688.7 745.7,686.3 742.4,686.2C739.1,686.0 733.2,687.4 729.9,687.4C726.6,687.4 720.7,686.2 717.4,686.2C714.1,686.2 708.2,687.4 704.9,687.4C701.6,687.4 695.8,686.3 692.4,686.2C689.1,686.0 682.1,685.7 679.9,686.2C677.8,686.7 677.2,688.4 676.2,689.9C675.2,691.4 673.9,697.1 672.4,697.4C670.9,697.8 666.4,694.1 664.9,692.4C663.5,690.8 662.5,686.9 661.2,684.9C659.9,682.9 657.1,678.8 655.0,677.4C652.8,676.1 647.6,674.8 645.0,674.9C642.3,675.1 637.0,677.0 635.0,678.7C633.0,680.3 630.6,684.6 630.0,687.4C629.3,690.3 630.6,696.9 630.0,699.9C629.3,702.9 627.0,708.1 625.0,709.9C623.0,711.7 617.0,713.0 615.0,713.7C613.0,714.3 611.8,715.4 609.8,714.9C607.7,714.4 601.8,711.6 599.8,709.9C597.8,708.2 596.1,704.4 594.8,702.4C593.4,700.4 591.8,696.6 589.8,694.9C587.8,693.3 582.5,690.3 579.8,689.9C577.1,689.6 572.1,691.8 569.8,692.4C567.5,693.1 564.3,695.1 562.3,694.9C560.3,694.8 557.1,692.0 554.8,691.2C552.5,690.3 547.1,689.7 544.8,688.7C542.5,687.7 539.3,684.5 537.3,683.7C535.3,682.8 532.2,682.3 529.8,682.4C527.5,682.6 523.2,684.6 519.8,684.9C516.5,685.3 508.2,685.3 504.9,684.9C501.5,684.6 496.9,683.4 494.9,682.4C492.9,681.4 491.9,678.3 489.9,677.4C487.9,676.6 482.0,676.5 479.9,676.2C477.7,675.9 474.8,676.4 473.6,674.9C472.5,673.4 472.3,666.9 471.1,664.9C470.0,662.9 467.1,660.6 464.9,659.9C462.7,659.3 457.6,659.6 454.9,659.9C452.2,660.3 447.6,661.6 444.9,662.4C442.2,663.3 437.2,665.5 434.9,666.2C432.6,666.9 430.1,666.9 427.4,667.4C424.8,667.9 417.9,669.3 414.9,669.9C411.9,670.6 407.3,671.8 404.9,672.4C402.6,673.1 400.1,674.6 397.4,674.9C394.8,675.3 388.6,675.3 385.0,674.9C381.3,674.6 373.6,673.1 370.0,672.4C366.3,671.8 361.1,670.8 357.5,669.9C353.8,669.1 345.9,667.9 342.5,666.2C339.1,664.5 334.6,659.3 332.3,657.5C329.9,655.6 327.1,653.0 324.8,652.5C322.4,652.0 317.8,653.0 314.8,653.7C311.8,654.4 305.6,657.5 302.3,657.5C299.0,657.5 293.5,654.7 289.8,653.7C286.1,652.7 278.8,650.8 274.8,650.0C270.8,649.1 263.8,648.3 259.8,647.5C255.8,646.6 248.8,644.4 244.8,643.7C240.8,643.0 233.8,642.1 229.9,642.5C225.9,642.8 218.5,645.9 214.9,646.2C211.2,646.5 206.0,645.5 202.4,645.0C198.7,644.5 191.4,643.0 187.4,642.5C183.4,642.0 176.1,640.9 172.4,641.2C168.7,641.5 163.1,643.6 159.9,645.0C156.7,646.3 149.7,649.9 148.7,651.2C147.7,652.5 152.1,652.8 152.4,655.0C152.8,657.1 151.5,664.1 151.2,667.4C150.8,670.8 149.9,676.6 149.9,679.9C149.9,683.3 151.5,689.8 151.2,692.4C150.8,695.1 149.3,699.2 147.4,699.9C145.6,700.6 140.8,698.2 137.4,697.4C134.1,696.6 126.8,694.8 122.4,693.7C118.1,692.5 109.6,689.7 105.0,688.7C100.3,687.7 92.1,687.0 87.5,686.2C82.8,685.3 74.6,683.3 70.0,682.4C65.3,681.6 57.8,680.0 52.5,679.9C47.2,679.9 34.3,687.3 30.0,682.0C25.7,676.7 20.0,651.2 20.0,640.0C20.0,628.8 25.7,603.4 30.0,598.0C34.3,592.6 47.2,599.3 52.5,599.9Z"/>
<path fill="#f7e777" d="M893.0,280.0L1180.0,280.0L1180.0,300.0L893.0,300.0Z"/>
<path fill="#5ee2bb" d="M499.9,507.4C500.6,505.4 503.0,502.8 504.9,501.2C506.7,499.6 509.0,497.9 511.1,497.9C513.2,497.9 515.6,499.4 517.3,501.2C519.1,503.0 521.2,506.2 521.8,508.7C522.5,511.2 522.3,514.3 521.1,516.2C519.9,518.1 516.9,518.8 514.8,519.9C512.8,521.0 510.5,523.1 508.6,522.9C506.7,522.7 505.0,520.2 503.6,518.7C502.2,517.1 501.0,515.6 500.4,513.7C499.7,511.8 499.1,509.5 499.9,507.4Z"/>
<path fill="#5ee2bb" d="M797.3,444.8C798.8,442.7 802.3,439.4 804.8,438.6C807.3,437.8 810.2,438.0 812.3,439.8C814.4,441.7 815.9,446.5 817.3,449.8C818.8,453.2 821.1,456.9 821.1,459.8C821.1,462.7 819.6,466.5 817.3,467.3C815.0,468.1 810.2,466.5 807.3,464.8C804.4,463.1 801.7,459.6 799.8,457.3C798.0,455.0 796.5,453.2 796.1,451.1C795.7,449.0 795.9,446.9 797.3,444.8Z"/>
<path fill="#5ee2bb" d="M632.5,444.8C633.5,442.7 637.7,441.9 640.0,442.3C642.3,442.7 644.8,444.8 646.2,447.3C647.7,449.8 648.9,454.0 648.7,457.3C648.5,460.7 646.4,465.0 645.0,467.3C643.5,469.6 641.4,471.5 640.0,471.1C638.5,470.6 637.3,467.5 636.2,464.8C635.2,462.1 634.4,458.2 633.7,454.8C633.1,451.5 631.4,446.9 632.5,444.8Z"/>
<path fill="#5ee2bb" d="M632.5,445.0C633.4,443.2 636.4,442.0 638.7,442.0C641.0,442.0 644.4,443.0 646.2,445.0C648.0,446.9 649.7,450.8 649.5,453.7C649.3,456.6 646.5,459.8 645.0,462.5C643.4,465.2 641.4,468.5 640.0,470.0C638.7,471.2 637.1,472.8 636.2,471.2C635.3,469.5 635.0,463.1 634.5,460.0C633.9,456.9 633.3,455.0 633.0,452.5C632.6,450.0 631.5,446.7 632.5,445.0Z"/>
<path fill="#5ee2bb" d="M668.7,519.9C668.7,516.4 670.8,510.3 672.4,507.4C674.1,504.5 676.4,502.4 678.7,502.4C681.0,502.4 684.3,505.4 686.2,507.4C688.1,509.5 689.9,512.4 689.9,514.9C689.9,517.4 688.1,520.3 686.2,522.4C684.3,524.5 681.0,526.4 678.7,527.4C676.4,528.5 674.1,529.9 672.4,528.7C670.8,527.4 668.7,523.5 668.7,519.9Z"/>
<path fill="#5ee2bb" d="M652.5,622.3C652.7,618.6 653.3,612.8 655.0,609.8C656.6,606.9 659.5,604.9 662.5,604.9C665.4,604.9 669.5,607.3 672.4,609.8C675.4,612.3 677.9,616.5 679.9,619.8C682.0,623.2 684.5,626.5 684.9,629.8C685.3,633.2 684.5,637.1 682.4,639.8C680.4,642.5 675.8,644.6 672.4,646.1C669.1,647.5 664.9,649.6 662.5,648.6C660.0,647.5 658.9,642.5 657.5,639.8C656.0,637.1 654.5,635.2 653.7,632.3C652.9,629.4 652.3,626.1 652.5,622.3Z"/>
<path fill="#5ee2bb" d="M796.1,451.2C796.5,448.7 800.0,445.8 802.3,443.7C804.6,441.7 808.0,438.5 809.8,438.7C811.7,439.0 812.3,442.3 813.6,445.0C814.8,447.7 816.1,451.9 817.3,455.0C818.6,458.1 821.1,461.4 821.1,463.7C821.1,466.0 819.6,468.5 817.3,468.7C815.0,468.9 810.2,466.6 807.3,465.0C804.4,463.3 801.7,461.0 799.8,458.7C798.0,456.4 795.7,453.7 796.1,451.2Z"/>
<path fill="#5ee2bb" d="M837.3,486.2C838.1,484.5 841.5,483.5 844.8,483.7C848.1,483.9 853.1,486.2 857.3,487.5C861.4,488.7 867.3,489.5 869.8,491.2C872.3,492.9 873.1,495.6 872.3,497.4C871.4,499.3 867.7,501.4 864.8,502.4C861.9,503.5 858.1,504.1 854.8,503.7C851.5,503.3 847.3,501.6 844.8,499.9C842.3,498.3 841.0,496.0 839.8,493.7C838.6,491.4 836.5,487.9 837.3,486.2Z"/>
<path fill="#5ee2bb" d="M784.8,462.5C786.3,461.6 788.3,463.0 789.8,465.0C791.5,467.1 793.4,471.6 794.8,475.0C796.3,478.3 798.6,481.6 798.6,485.0C798.6,488.3 796.3,492.0 794.8,494.9C793.4,497.9 791.5,502.0 789.8,502.4C788.2,502.9 786.5,499.5 784.8,497.4C783.2,495.4 780.9,492.9 779.9,489.9C778.8,487.0 778.4,483.3 778.6,480.0C778.8,476.6 780.1,472.9 781.1,470.0C782.1,467.1 783.4,463.3 784.8,462.5Z"/>
<path fill="#5ee2bb" d="M792.3,507.4C793.6,506.2 797.3,512.0 799.8,512.4C802.3,512.8 804.4,509.1 807.3,509.9C810.2,510.8 814.4,514.5 817.3,517.4C820.2,520.3 822.7,524.1 824.8,527.4C826.9,530.7 828.1,532.8 829.8,537.4C831.5,542.0 832.7,549.5 834.8,554.9C836.9,560.3 839.4,564.9 842.3,569.9C845.2,574.9 849.4,579.9 852.3,584.9C855.2,589.9 857.5,594.9 859.8,599.9C862.1,604.9 864.8,610.3 866.0,614.8C867.3,619.4 868.3,625.7 867.3,627.3C866.2,629.0 862.7,626.9 859.8,624.8C856.9,622.8 853.5,618.2 849.8,614.8C846.0,611.5 841.0,608.2 837.3,604.9C833.6,601.5 830.6,598.2 827.3,594.9C824.0,591.5 819.8,588.6 817.3,584.9C814.8,581.1 813.8,577.0 812.3,572.4C810.9,567.8 809.8,562.4 808.6,557.4C807.3,552.4 806.7,547.0 804.8,542.4C803.0,537.8 799.4,533.7 797.3,529.9C795.3,526.2 793.2,523.7 792.3,519.9C791.5,516.2 791.1,508.7 792.3,507.4Z"/>
<path fill="#5ee2bb" d="M652.5,615.0C653.1,612.1 655.0,609.2 657.5,607.5C660.0,605.8 664.1,604.6 667.4,605.0C670.8,605.4 674.9,607.5 677.4,610.0C679.9,612.5 681.2,616.7 682.4,620.0C683.7,623.3 685.3,626.6 684.9,630.0C684.5,633.3 682.0,637.5 679.9,640.0C677.9,642.5 674.9,643.5 672.4,645.0C669.9,646.4 667.0,649.1 664.9,648.7C662.9,648.3 661.0,645.2 660.0,642.5C658.9,639.8 659.7,635.4 658.7,632.5C657.7,629.6 654.7,627.9 653.7,625.0C652.7,622.1 651.8,617.9 652.5,615.0Z"/>
<path fill="#5ee2bb" d="M829.8,597.5C826.1,599.2 834.8,605.0 837.3,607.5C839.8,610.0 841.9,610.8 844.8,612.5C847.7,614.2 851.5,615.4 854.8,617.5C858.1,619.6 862.3,623.1 864.8,625.0C867.0,626.7 868.5,628.7 869.8,628.7C871.0,628.7 872.6,627.0 872.3,625.0C871.9,622.7 868.9,618.3 867.3,615.0C865.6,611.7 863.5,607.9 862.3,605.0C861.0,602.1 863.2,598.3 859.8,597.5C854.4,596.3 833.6,595.8 829.8,597.5Z"/>
<path fill="#5ee2bb" d="M792.3,672.4C793.9,671.1 797.7,670.6 798.6,671.2C799.5,671.8 799.1,677.0 799.8,677.4C800.6,677.9 803.1,675.4 804.8,674.9C806.6,674.5 812.8,674.0 814.8,673.7C816.9,673.4 821.0,673.5 822.3,672.4C823.6,671.4 825.0,666.5 826.1,664.9C827.1,663.3 829.9,659.0 831.1,658.7C832.2,658.4 835.5,660.8 836.1,662.4C836.6,664.0 836.3,670.4 836.1,672.4C835.8,674.5 833.3,677.6 833.6,679.9C833.8,682.3 838.1,690.1 838.6,692.4C839.0,694.8 838.0,698.5 837.3,699.9C836.6,701.4 832.5,703.6 832.3,704.9C832.2,706.2 834.6,709.7 836.1,711.2C837.5,712.6 842.9,716.5 844.8,717.4C846.7,718.3 850.0,718.6 852.3,718.6C854.6,718.6 862.2,717.3 864.8,717.4C867.4,717.5 872.4,719.6 874.8,719.9C877.1,720.2 882.3,719.5 884.8,719.9C887.2,720.3 895.0,721.9 896.0,723.6C897.1,725.4 894.9,732.7 893.8,734.9C892.6,737.1 888.5,740.6 886.3,742.4C884.0,744.1 876.8,747.8 874.8,749.9C872.7,751.9 869.4,756.9 868.5,759.9C867.7,762.8 867.6,770.8 867.3,774.9C867.0,778.9 866.2,788.4 866.0,794.8C865.9,801.2 866.0,821.6 866.0,829.8L777.4,829.8L777.4,699.9C779.1,695.8 783.1,685.6 784.8,682.4C786.6,679.2 790.7,673.7 792.3,672.4Z"/>
<path fill="#5ee2bb" d="M847.5,273.3C847.9,272.6 851.4,272.2 852.3,272.6C853.2,272.9 853.4,274.7 853.0,275.3C852.5,276.0 850.4,276.8 849.5,276.4C848.6,276.1 847.0,273.9 847.5,273.3Z"/>
<path fill="#5ee2bb" d="M855.4,278.8C856.3,277.7 860.2,277.3 861.2,278.1C862.2,278.9 862.3,282.5 861.5,283.6C860.6,284.6 857.0,285.1 856.0,284.3C855.0,283.4 854.6,279.8 855.4,278.8Z"/>
<path fill="#5ee2bb" d="M899.0,248.0C896.0,248.3 895.6,250.9 894.0,252.5C892.3,254.1 887.8,257.7 886.5,260.0C885.2,262.3 884.7,267.0 884.0,270.0C883.3,273.0 883.2,280.0 881.5,282.5C879.8,285.0 872.7,283.5 871.5,288.7C870.2,294.7 869.5,322.1 871.5,327.4C873.5,332.8 882.8,328.2 886.5,328.7C890.2,329.2 896.6,329.5 899.0,331.2C901.3,332.8 902.0,338.5 904.0,341.2C906.0,343.8 911.3,348.5 914.0,351.2C916.6,353.8 922.0,358.5 924.0,361.2C926.0,363.8 927.6,369.2 929.0,371.1C930.3,373.0 932.0,375.5 933.9,375.4C935.9,375.3 941.1,371.1 943.9,370.4C946.8,369.7 953.8,371.1 955.2,370.4C956.6,369.7 955.6,366.0 954.4,364.9C953.3,363.8 949.5,362.3 946.4,361.9C943.4,361.5 934.4,362.9 931.5,361.9C928.5,360.9 926.0,356.7 924.0,354.4C922.0,352.1 918.5,346.4 916.5,344.4C914.5,342.4 909.6,341.1 909.0,339.4C908.3,337.8 910.1,333.9 911.5,331.9C912.8,330.0 917.6,326.9 919.0,324.9C920.4,323.0 923.0,318.5 922.0,317.4C921.0,316.4 914.5,316.6 911.5,316.9C908.4,317.3 902.6,319.5 899.0,319.9C895.3,320.3 886.3,320.6 884.0,319.9C881.7,319.3 880.8,316.9 881.5,314.9C882.2,312.9 887.3,307.6 889.0,304.9C890.7,302.3 893.0,297.6 894.0,295.0C895.0,292.3 896.5,287.6 896.5,285.0C896.5,282.3 893.6,277.6 894.0,275.0C894.3,272.3 896.6,267.0 899.0,265.0C901.3,263.0 908.1,261.0 911.5,260.0C914.8,259.0 920.6,258.5 924.0,257.5C927.3,256.5 934.6,253.8 936.4,252.5C938.2,251.3 939.8,248.2 937.7,248.0C932.7,247.4 904.8,247.4 899.0,248.0Z"/>
<path fill="#5ee2bb" d="M1046.4,322.4C1047.6,320.4 1050.9,317.9 1053.8,317.4C1056.8,317.0 1060.5,318.3 1063.8,319.9C1067.2,321.6 1071.3,325.3 1073.8,327.4C1076.3,329.5 1078.8,329.9 1078.8,332.4C1078.8,334.9 1076.3,339.9 1073.8,342.4C1071.3,344.9 1067.2,346.2 1063.8,347.4C1060.5,348.7 1056.3,349.3 1053.8,349.9C1051.6,350.5 1049.9,352.4 1048.9,351.2C1047.8,349.9 1047.4,345.1 1047.6,342.4C1047.8,339.7 1050.3,337.0 1050.1,334.9C1049.9,332.8 1047.0,332.0 1046.4,329.9C1045.7,327.8 1045.1,324.5 1046.4,322.4Z"/>
<path fill="#5ee2bb" d="M976.4,343.7C977.6,342.6 981.0,341.6 983.9,341.2C986.8,340.8 991.0,340.5 993.9,341.2C996.8,341.8 999.9,343.7 1001.4,344.9C1002.7,346.1 1003.5,347.4 1002.6,348.7C1001.8,349.9 998.7,352.2 996.4,352.4C994.1,352.6 991.4,350.5 988.9,349.9C986.4,349.3 983.4,349.1 981.4,348.7C979.4,348.2 977.7,348.2 976.9,347.4C976.1,346.6 975.2,344.7 976.4,343.7Z"/>
<path fill="#5ee2bb" d="M978.9,383.6C979.5,382.6 982.2,381.8 983.9,382.4C985.6,383.0 987.2,385.3 988.9,387.4C990.6,389.5 991.4,392.4 993.9,394.9C996.4,397.4 1000.6,400.7 1003.9,402.4C1007.2,404.0 1010.6,404.4 1013.9,404.9C1017.2,405.3 1021.0,405.7 1023.9,404.9C1026.8,404.0 1029.3,400.9 1031.4,399.9C1033.4,398.8 1034.9,397.8 1036.4,398.6C1037.8,399.5 1038.9,402.2 1040.1,404.9C1041.4,407.6 1042.0,411.5 1043.9,414.9C1045.7,418.2 1048.4,421.5 1051.3,424.8C1054.3,428.2 1059.5,432.3 1061.3,434.8C1062.7,436.7 1063.4,439.2 1062.6,439.8C1061.8,440.5 1058.9,439.8 1056.3,438.6C1053.6,437.3 1050.1,433.8 1046.4,432.3C1042.6,430.9 1038.0,430.5 1033.9,429.8C1029.7,429.2 1025.1,429.8 1021.4,428.6C1017.6,427.3 1014.3,424.6 1011.4,422.3C1008.5,420.1 1006.8,417.8 1003.9,414.9C1001.0,411.9 996.8,408.2 993.9,404.9C991.0,401.5 988.7,397.6 986.4,394.9C984.1,392.2 981.4,390.5 980.2,388.6C978.9,386.8 978.3,384.7 978.9,383.6Z"/>
<path fill="#5ee2bb" d="M1121.3,369.9C1122.3,366.6 1125.9,362.2 1128.8,359.9C1131.7,357.6 1135.4,356.6 1138.8,356.2C1142.1,355.7 1145.0,357.2 1148.8,357.4C1152.5,357.6 1159.2,352.2 1161.3,357.4C1163.3,362.8 1165.0,384.3 1161.3,389.9C1157.5,395.5 1144.2,391.5 1138.8,391.1C1134.0,390.8 1131.5,389.3 1128.8,387.4C1126.1,385.5 1123.8,382.8 1122.5,379.9C1121.3,377.0 1120.2,373.2 1121.3,369.9Z"/>
<path fill="#5ee2bb" d="M1073.8,242.5C1072.6,244.6 1075.1,252.1 1076.3,255.0C1077.6,257.9 1079.7,259.6 1081.3,260.0C1083.0,260.4 1086.0,260.0 1086.3,257.5C1086.7,254.6 1085.9,245.0 1083.8,242.5C1081.7,240.0 1075.1,240.4 1073.8,242.5Z"/>
<path fill="#5ee2bb" d="M1138.8,242.5C1135.9,245.4 1142.1,255.4 1143.8,260.0C1145.4,264.6 1145.9,268.3 1148.8,270.0C1151.7,271.6 1159.2,274.6 1161.3,270.0C1163.3,265.4 1165.0,247.1 1161.3,242.5C1157.5,237.9 1141.7,239.6 1138.8,242.5Z"/>
<path fill="#5ee2bb" d="M937.7,268.7C938.1,268.1 940.1,268.8 940.9,269.5C941.8,270.2 942.6,271.9 942.7,273.0C942.8,274.1 942.2,276.2 941.4,276.2C940.7,276.2 939.1,274.2 938.4,273.0C937.8,271.7 937.3,269.3 937.7,268.7Z"/>
<path fill="#5ee2bb" d="M1046.4,427.5C1045.5,428.5 1051.6,431.7 1053.8,433.7C1056.1,435.8 1058.4,439.2 1060.1,440.0C1061.7,440.8 1064.0,440.5 1063.8,438.7C1063.6,436.7 1061.8,429.4 1058.8,427.5C1055.9,425.6 1047.2,426.5 1046.4,427.5Z"/>
<path fill="#5ee2bb" d="M1058.8,599.9C1059.3,597.4 1061.8,592.4 1063.8,592.4C1065.9,592.4 1070.5,597.4 1071.3,599.9C1072.2,602.4 1068.4,604.9 1068.8,607.3C1069.3,609.8 1071.7,614.4 1073.8,614.8C1075.9,615.3 1078.4,610.3 1081.3,609.8C1084.2,609.4 1087.6,612.3 1091.3,612.3C1095.1,612.3 1100.5,611.5 1103.8,609.8C1107.1,608.2 1108.4,604.9 1111.3,602.4C1114.2,599.9 1118.4,597.8 1121.3,594.9C1124.2,591.9 1126.7,588.2 1128.8,584.9C1130.9,581.5 1131.7,578.0 1133.8,574.9C1135.9,571.8 1136.7,568.6 1141.3,566.1C1145.9,563.6 1154.6,562.0 1161.3,559.9L1161.3,659.8L1073.8,659.8C1075.5,655.6 1078.8,651.1 1078.8,647.3C1078.8,643.6 1075.9,640.7 1073.8,637.3C1071.7,634.0 1067.2,630.7 1066.3,627.3C1065.5,624.0 1069.7,620.7 1068.8,617.3C1068.0,614.0 1063.0,610.3 1061.3,607.3C1059.7,604.4 1058.4,602.4 1058.8,599.9Z"/>
<path fill="#5ee2bb" d="M983.9,719.9C985.7,717.6 991.6,716.7 993.9,714.9C996.2,713.2 1001.6,707.5 1003.9,704.9C1006.2,702.3 1011.5,695.0 1013.9,692.4C1016.2,689.8 1021.5,684.8 1023.9,682.4C1026.2,680.1 1031.5,674.8 1033.9,672.4C1036.2,670.1 1041.5,664.5 1043.9,662.4C1046.2,660.4 1051.5,656.4 1053.8,655.0C1056.2,653.5 1061.5,651.4 1063.8,650.0C1066.2,648.5 1071.8,644.5 1073.8,642.5C1075.9,640.4 1080.2,634.8 1081.3,632.5C1082.5,630.1 1084.7,624.5 1083.8,622.5C1082.9,620.4 1075.6,616.7 1073.8,615.0C1072.1,613.2 1068.8,609.0 1068.8,607.5C1068.8,606.0 1071.8,602.5 1073.8,602.5C1075.9,602.5 1083.4,606.6 1086.3,607.5C1089.2,608.4 1095.9,610.0 1098.8,610.0C1101.7,610.0 1108.7,607.5 1111.3,607.5C1113.9,607.5 1119.0,610.0 1121.3,610.0C1123.6,610.0 1129.2,608.4 1131.3,607.5C1133.3,606.6 1137.3,603.7 1138.8,602.5C1140.2,601.3 1141.1,598.1 1143.8,597.5C1146.4,596.9 1157.2,597.5 1161.3,597.5L1161.3,829.8L948.9,829.8C951.3,817.0 956.6,783.6 958.9,774.9C961.3,766.1 966.6,759.5 968.9,754.9C971.3,750.2 977.2,739.0 978.9,734.9C980.7,730.8 982.2,722.2 983.9,719.9Z"/>
<path fill="#5ee2bb" d="M911.5,749.9C911.9,747.2 914.4,744.0 916.5,742.4C918.5,740.7 921.7,739.5 924.0,739.9C926.2,740.3 929.4,742.8 930.2,744.9C931.0,747.0 930.4,749.9 929.0,752.4C927.5,754.9 924.0,758.8 921.5,759.9C919.0,760.9 915.6,760.3 914.0,758.6C912.3,756.9 911.1,752.6 911.5,749.9Z"/>
<path fill="#c5f3ec" d="M804.8,536.2C805.3,534.3 812.8,532.0 814.8,531.2C816.8,530.3 823.4,526.5 824.8,527.4C826.2,528.3 827.8,537.2 828.6,539.9C829.3,542.7 831.2,551.9 832.3,554.9C833.4,557.9 838.2,566.9 839.8,569.9C841.4,572.9 847.7,583.0 848.5,584.9C849.3,586.4 849.7,588.5 848.5,588.6C847.4,588.7 839.7,586.7 837.3,586.1C834.9,585.5 826.8,583.0 824.8,582.4C822.8,581.7 818.4,581.6 817.3,579.9C816.2,578.1 814.3,567.9 813.6,564.9C812.8,561.9 810.7,552.8 809.8,549.9C809.0,547.0 804.3,538.0 804.8,536.2Z"/>
<path fill="#c5f3ec" d="M784.8,712.4C787.2,712.7 790.3,719.3 792.3,719.9C794.4,720.5 800.9,718.1 802.3,717.4C803.8,716.7 805.4,714.5 804.8,713.7C804.2,712.8 798.2,711.2 797.3,709.9C796.5,708.6 796.8,704.2 797.3,702.4C797.9,700.7 801.2,696.1 802.3,694.9C803.5,693.8 805.6,692.4 807.3,692.4C809.1,692.4 815.6,694.9 817.3,694.9C819.1,694.9 822.0,691.8 822.3,692.4C822.6,693.0 820.4,697.9 819.8,699.9C819.2,702.0 817.0,707.9 817.3,709.9C817.6,711.9 821.4,715.7 822.3,717.4C823.2,719.1 825.1,723.7 824.8,724.9C824.5,726.1 819.8,726.8 819.8,727.4C819.8,728.0 823.4,729.0 824.8,729.9C826.3,730.8 831.7,732.8 832.3,734.9C832.9,736.9 829.8,745.0 829.8,747.4C829.8,749.7 830.8,753.6 832.3,754.9C833.8,756.2 840.3,758.9 842.3,758.6C844.3,758.3 848.3,754.0 849.8,752.4C851.2,750.8 853.6,745.2 854.8,744.9C856.0,744.6 858.9,748.1 859.8,749.9C860.7,751.6 862.0,756.9 862.3,759.9C862.6,762.8 862.0,770.8 862.3,774.9C862.6,778.9 864.5,788.4 864.8,794.8C865.1,801.2 864.8,821.6 864.8,829.8L772.4,829.8L772.4,717.4C775.3,716.2 782.5,712.1 784.8,712.4Z"/>
<path fill="#c5f3ec" d="M990.9,344.9C991.8,344.5 994.9,344.9 995.9,345.4C996.9,345.9 997.3,347.2 996.9,347.9C996.5,348.7 994.5,349.9 993.4,349.9C992.3,349.9 990.8,348.7 990.4,347.9C990.0,347.1 990.0,345.3 990.9,344.9Z"/>
<path fill="#c5f3ec" d="M1126.3,659.8C1120.9,657.3 1127.5,649.8 1128.8,644.8C1130.0,639.8 1132.1,634.8 1133.8,629.8C1135.4,624.8 1136.7,619.4 1138.8,614.8C1140.9,610.3 1142.5,606.1 1146.3,602.4C1150.0,598.6 1159.2,584.5 1161.3,592.4C1163.8,601.9 1167.1,648.6 1161.3,659.8C1155.4,671.0 1131.7,662.3 1126.3,659.8Z"/>
<path fill="#c5f3ec" d="M981.4,729.9C982.6,728.9 989.2,726.6 991.4,724.9C993.6,723.1 1001.6,714.9 1003.9,712.4C1006.1,709.9 1011.6,702.2 1013.9,699.9C1016.1,697.7 1023.9,691.9 1026.4,689.9C1028.9,687.9 1036.1,681.7 1038.9,679.9C1041.6,678.2 1050.6,673.9 1053.8,672.4C1057.1,670.9 1067.8,666.2 1071.3,664.9C1074.8,663.7 1085.6,660.7 1088.8,659.9C1092.1,659.2 1101.9,656.7 1103.8,657.5C1105.7,658.2 1107.1,665.2 1107.6,667.4C1108.1,669.7 1109.2,677.4 1108.8,679.9C1108.4,682.4 1104.8,690.4 1103.8,692.4C1102.8,694.4 1099.6,698.2 1098.8,699.9C1098.1,701.7 1096.6,708.2 1096.3,709.9C1096.0,711.7 1093.1,716.7 1095.8,717.4C1098.6,718.1 1117.2,721.6 1123.8,717.4C1130.3,713.2 1153.8,683.4 1161.3,674.9L1161.3,829.8L951.4,829.8C952.0,822.8 953.6,800.3 954.4,794.8C955.3,789.3 958.6,778.8 960.2,774.9C961.8,770.9 968.2,758.9 970.2,754.9C972.1,750.9 978.3,737.4 979.4,734.9C980.4,732.7 980.2,730.9 981.4,729.9Z"/>
<path fill="#ffffff" d="M769.9,776.4C772.2,770.5 785.8,779.4 789.8,779.8C793.9,780.3 801.6,779.7 804.8,779.8C808.0,780.0 814.7,780.7 817.3,781.1C819.9,781.5 824.7,783.9 827.3,783.6C829.9,783.3 837.2,779.5 839.8,778.6C842.4,777.7 847.5,776.0 849.8,776.1C852.1,776.2 858.3,778.2 859.8,779.8C861.2,781.4 862.0,787.8 862.3,789.8C862.6,791.9 862.3,794.0 862.3,797.3C862.3,802.0 862.3,822.2 862.3,829.8L769.9,829.8C769.9,817.3 767.5,782.2 769.9,776.4Z"/>
<path fill="#f7e777" d="M829.8,719.9C831.5,718.9 837.1,718.2 839.8,718.6C842.5,719.1 844.8,720.5 846.0,722.4C847.3,724.3 847.9,728.2 847.3,729.9C846.7,731.6 844.4,732.6 842.3,732.4C840.2,732.2 836.9,729.9 834.8,728.6C832.7,727.4 830.6,726.4 829.8,724.9C829.0,723.4 828.1,720.9 829.8,719.9Z"/>
<path fill="#ffffff" d="M1133.8,659.8C1129.6,656.9 1135.4,647.7 1136.3,642.3C1137.1,636.9 1137.5,632.3 1138.8,627.3C1140.0,622.3 1142.1,616.5 1143.8,612.3C1145.4,608.2 1145.9,604.9 1148.8,602.4C1151.7,599.9 1160.0,591.4 1161.3,597.4C1163.3,606.9 1165.8,649.4 1161.3,659.8C1156.7,670.2 1137.9,662.7 1133.8,659.8Z"/>
<path fill="#f7e777" d="M1121.3,609.8C1121.3,608.6 1125.9,606.3 1128.8,604.9C1131.7,603.4 1135.9,602.4 1138.8,601.1C1141.7,599.9 1144.8,597.1 1146.3,597.4C1147.7,597.6 1148.8,600.7 1147.5,602.4C1146.3,604.0 1141.9,605.7 1138.8,607.3C1135.7,609.0 1131.7,611.9 1128.8,612.3C1125.9,612.8 1121.3,611.1 1121.3,609.8Z"/>
<path fill="#ffffff" d="M953.9,799.8C954.7,794.8 959.9,783.3 961.4,779.8C962.9,776.4 967.4,767.4 968.9,764.9C970.4,762.4 974.9,756.6 976.4,754.9C977.9,753.1 982.2,748.9 983.9,747.4C985.7,745.9 991.9,741.4 993.9,739.9C995.9,738.4 1001.6,734.1 1003.9,732.4C1006.1,730.6 1013.9,724.0 1016.4,722.4C1018.9,720.8 1026.6,716.7 1028.9,716.2C1031.1,715.7 1037.1,716.5 1038.9,717.4C1040.6,718.3 1044.9,722.9 1046.4,724.9C1047.9,726.9 1052.1,734.9 1053.8,737.4C1055.6,739.9 1061.8,747.9 1063.8,749.9C1065.8,751.9 1072.1,756.4 1073.8,757.4C1075.6,758.4 1079.8,760.4 1081.3,759.9C1082.8,759.4 1087.4,754.1 1088.8,752.4C1090.2,750.6 1094.3,744.6 1095.1,742.4C1095.8,740.1 1096.3,732.4 1096.3,729.9C1096.3,727.4 1094.9,719.6 1095.1,717.4C1095.2,715.2 1096.7,709.2 1097.6,707.4C1098.4,705.7 1102.7,701.9 1103.8,699.9C1104.9,697.9 1108.1,689.9 1108.8,687.4C1109.5,684.9 1110.3,677.2 1111.3,674.9C1112.3,672.7 1117.5,666.9 1118.8,664.9C1120.0,662.9 1123.0,657.2 1123.8,655.0C1124.5,652.7 1125.3,645.2 1126.3,642.5C1127.3,639.7 1132.5,630.2 1133.8,627.5C1135.0,624.7 1137.8,617.2 1138.8,615.0C1139.8,612.7 1142.8,606.7 1143.8,605.0C1144.8,603.2 1147.0,598.3 1148.8,597.5C1150.5,596.8 1158.8,597.5 1161.3,597.5L1161.3,829.8L953.9,829.8C953.9,823.8 953.2,804.8 953.9,799.8Z"/>
<path fill="#ea8968" d="M317.5,363.7C318.9,363.7 320.8,364.2 321.9,365.2C322.9,366.2 323.8,368.1 323.7,369.6C323.7,371.0 322.7,373.0 321.6,374.0C320.6,375.0 318.9,375.5 317.5,375.5C316.0,375.5 314.1,375.0 313.1,374.0C312.0,373.0 311.2,371.0 311.2,369.6C311.2,368.1 312.0,366.2 313.1,365.2C314.1,364.2 316.0,363.7 317.5,363.7Z"/>
<path fill="#ea8968" d="M327.5,394.9C328.4,391.4 332.7,396.5 333.7,399.9C334.8,403.2 334.4,410.7 333.7,414.9C333.1,419.0 331.0,423.2 330.0,424.8C329.4,425.8 327.6,426.0 327.5,424.8C327.1,419.9 326.5,399.0 327.5,394.9Z"/>
<path fill="#ea8968" d="M417.4,357.4C418.3,355.5 421.2,355.3 422.4,356.2C423.7,357.0 424.9,359.4 424.9,362.4C424.9,365.5 422.0,371.1 422.4,374.9C422.8,378.6 424.9,382.0 427.4,384.9C429.9,387.8 435.3,389.9 437.4,392.4C439.5,394.9 440.7,397.4 439.9,399.9C439.1,402.4 435.3,404.4 432.4,407.4C429.5,410.3 425.3,413.6 422.4,417.4C419.5,421.1 417.0,425.7 414.9,429.8C412.8,434.0 410.8,438.2 409.9,442.3C409.1,446.5 409.1,451.5 409.9,454.8C410.8,458.2 411.6,460.7 414.9,462.3C418.3,464.0 425.3,465.2 429.9,464.8C434.5,464.4 439.5,463.1 442.4,459.8C445.3,456.5 445.7,448.8 447.4,444.8C449.1,440.9 449.9,438.0 452.4,436.1C454.9,434.2 459.5,433.8 462.4,433.6C465.3,433.4 469.5,433.0 469.9,434.8C470.3,436.7 465.5,440.7 464.9,444.8C464.3,449.0 465.5,454.8 466.1,459.8C466.8,464.8 467.8,469.8 468.6,474.8L342.5,474.8C342.9,468.1 342.5,459.8 343.7,454.8C345.0,449.8 346.4,447.3 350.0,444.8C353.5,442.3 360.0,441.1 365.0,439.8C370.0,438.6 375.4,439.4 380.0,437.3C384.5,435.3 389.5,431.1 392.4,427.3C395.4,423.6 395.4,419.4 397.4,414.9C399.5,410.3 402.9,404.4 404.9,399.9C407.0,395.3 408.1,391.1 409.9,387.4C411.8,383.6 414.9,380.7 416.2,377.4C417.4,374.1 417.2,370.7 417.4,367.4C417.6,364.1 416.6,359.3 417.4,357.4Z"/>
<path fill="#ea8968" d="M473.6,357.4C475.5,354.7 478.4,353.7 479.9,353.7C481.3,353.7 482.6,355.4 482.4,357.4C482.2,359.7 478.8,364.5 478.6,367.4C478.4,370.3 479.2,372.6 481.1,374.9C483.0,377.2 486.7,379.1 489.9,381.1C493.0,383.2 497.1,385.5 499.9,387.4C502.6,389.3 505.3,390.3 506.1,392.4C506.9,394.5 506.3,397.8 504.9,399.9C503.4,401.9 500.3,403.6 497.4,404.9C494.4,406.1 490.3,408.0 487.4,407.4C484.5,406.7 482.0,403.6 479.9,401.1C477.8,398.6 476.5,395.9 474.9,392.4C473.2,388.8 470.9,383.6 469.9,379.9C468.8,376.1 468.0,373.6 468.6,369.9C469.3,366.1 471.8,360.1 473.6,357.4Z"/>
<path fill="#ea8968" d="M524.8,399.9C526.3,398.0 529.4,396.3 532.3,396.1C535.2,395.9 538.6,396.7 542.3,398.6C546.1,400.5 550.2,404.4 554.8,407.4C559.4,410.3 565.2,413.6 569.8,416.1C574.4,418.6 579.0,420.6 582.3,422.3C585.6,424.1 587.1,426.6 589.8,426.8C592.5,427.1 596.0,425.6 598.5,423.6C601.0,421.6 602.5,416.7 604.8,414.9C607.1,413.0 610.2,411.5 612.3,412.4C614.3,413.2 616.8,416.5 617.3,419.9C617.7,423.2 616.4,428.6 614.8,432.3C613.1,436.1 610.2,440.0 607.3,442.3C604.4,444.6 600.6,445.9 597.3,446.1C593.9,446.3 591.0,445.0 587.3,443.6C583.5,442.1 579.0,439.6 574.8,437.3C570.6,435.0 566.5,431.3 562.3,429.8C558.1,428.4 554.0,429.4 549.8,428.6C545.7,427.8 541.1,426.7 537.3,424.8C533.6,423.0 529.6,420.3 527.3,417.4C525.0,414.4 524.0,410.3 523.6,407.4C523.2,404.4 523.4,401.7 524.8,399.9Z"/>
<path fill="#ea8968" d="M542.3,427.5C546.5,430.0 550.2,433.3 554.8,435.0C559.4,436.7 564.8,436.7 569.8,437.5C574.8,438.3 580.2,439.0 584.8,440.0C589.4,441.0 593.9,443.3 597.3,443.7C600.6,444.2 602.3,443.9 604.8,442.5C607.3,441.0 610.6,437.5 612.3,435.0C613.9,432.5 613.9,430.0 614.8,427.5L542.3,427.5Z"/>
<path fill="#ea8968" d="M577.3,470.0C578.7,468.5 582.3,466.2 584.8,466.2C587.3,466.2 590.4,468.3 592.3,470.0C594.2,471.6 596.4,474.1 596.0,476.2C595.6,478.3 592.1,480.8 589.8,482.5C587.5,484.1 584.6,486.2 582.3,486.2C580.0,486.2 577.1,484.3 576.0,482.5C575.0,480.6 575.8,477.0 576.0,475.0C576.2,472.9 575.8,471.4 577.3,470.0Z"/>
<path fill="#ea8968" d="M554.8,569.9C557.3,568.4 563.6,568.2 567.3,568.6C571.0,569.0 574.4,570.5 577.3,572.4C580.2,574.3 582.3,579.0 584.8,579.9C587.3,580.7 589.4,577.0 592.3,577.4C595.2,577.8 598.9,580.3 602.3,582.4C605.6,584.5 608.9,588.6 612.3,589.9C615.6,591.1 620.6,587.4 622.3,589.9C623.9,592.4 624.3,601.9 622.3,604.9C620.2,607.8 613.5,607.3 609.8,607.3C606.0,607.3 603.1,604.4 599.8,604.9C596.4,605.3 592.7,607.8 589.8,609.8C586.9,611.9 584.8,614.8 582.3,617.3C579.8,619.8 577.3,623.8 574.8,624.8C572.3,625.9 569.8,624.8 567.3,623.6C564.8,622.3 562.1,619.6 559.8,617.3C557.5,615.1 555.2,612.8 553.6,609.8C551.9,606.9 550.2,603.6 549.8,599.9C549.4,596.1 550.6,591.1 551.1,587.4C551.5,583.6 551.7,580.3 552.3,577.4C552.9,574.5 552.3,571.3 554.8,569.9Z"/>
<path fill="#ea8968" d="M499.9,652.5C500.5,650.0 502.4,646.8 504.9,645.0C507.3,643.1 511.1,641.0 514.8,641.2C518.6,641.4 524.6,644.3 527.3,646.2C530.0,648.1 531.1,650.2 531.1,652.5C531.1,654.7 528.8,657.5 527.3,659.9C525.9,662.4 524.4,665.8 522.3,667.4C520.3,669.1 517.3,670.8 514.8,669.9C512.3,669.1 509.6,664.1 507.3,662.4C505.1,660.8 502.4,661.6 501.1,659.9C499.9,658.3 499.2,655.0 499.9,652.5Z"/>
<path fill="#ea8968" d="M549.8,597.5C550.6,601.7 550.6,606.2 552.3,610.0C554.0,613.7 556.9,617.5 559.8,620.0C562.7,622.5 566.5,625.0 569.8,625.0C573.1,625.0 577.3,622.1 579.8,620.0C582.3,617.9 582.7,614.6 584.8,612.5C586.9,610.4 589.4,608.3 592.3,607.5C595.2,606.7 599.6,606.2 602.3,607.5C605.0,608.7 607.7,611.7 608.5,615.0C609.3,618.3 608.7,624.1 607.3,627.5C605.8,630.8 602.3,632.5 599.8,635.0C597.3,637.5 594.4,640.0 592.3,642.5C590.2,645.0 589.8,647.5 587.3,650.0C584.8,652.5 578.5,654.5 577.3,657.5C576.0,660.4 577.7,664.7 579.8,667.4C581.9,670.1 586.0,672.4 589.8,673.7C593.5,674.9 598.1,675.6 602.3,674.9C606.4,674.3 611.4,671.2 614.8,669.9C618.1,668.7 621.9,671.0 622.3,667.4C623.5,655.4 622.3,620.8 622.3,597.5L549.8,597.5Z"/>
<path fill="#ea8968" d="M552.3,667.4C552.9,665.2 555.2,660.2 557.3,657.5C559.4,654.7 562.5,651.8 564.8,651.2C567.1,650.6 569.8,652.0 571.0,653.7C572.3,655.4 572.9,659.1 572.3,661.2C571.7,663.3 569.4,664.7 567.3,666.2C565.2,667.7 562.1,669.1 559.8,669.9C557.5,670.8 554.8,671.6 553.6,671.2C552.3,670.8 551.8,669.2 552.3,667.4Z"/>
<path fill="#ea8968" d="M632.5,401.1C633.9,399.5 638.7,396.7 642.5,397.4C646.2,398.0 650.4,402.8 655.0,404.9C659.5,406.9 664.5,408.6 669.9,409.9C675.4,411.1 681.6,410.7 687.4,412.4C693.3,414.0 699.5,417.8 704.9,419.9C710.3,421.9 715.3,423.2 719.9,424.8C724.5,426.5 729.5,427.3 732.4,429.8C735.3,432.3 735.3,436.5 737.4,439.8C739.5,443.2 743.2,446.5 744.9,449.8C746.5,453.2 746.5,455.7 747.4,459.8C748.2,464.0 755.7,472.3 749.9,474.8C744.0,477.3 718.2,477.3 712.4,474.8C706.6,472.3 714.9,464.4 714.9,459.8C714.9,455.2 714.1,451.1 712.4,447.3C710.7,443.6 708.2,440.3 704.9,437.3C701.6,434.4 696.6,431.5 692.4,429.8C688.3,428.2 684.1,428.2 679.9,427.3C675.8,426.5 671.6,426.5 667.4,424.8C663.3,423.2 659.1,419.4 655.0,417.4C650.8,415.3 646.0,414.0 642.5,412.4C638.9,410.7 635.4,409.2 633.7,407.4C632.1,405.5 631.0,402.8 632.5,401.1Z"/>
<path fill="#ea8968" d="M602.5,414.9C604.2,411.1 610.2,415.7 612.5,417.4C614.8,419.0 616.2,421.9 616.2,424.8C616.2,427.8 614.4,432.3 612.5,434.8C610.6,437.3 606.7,439.0 605.0,439.8C604.0,440.3 602.6,441.0 602.5,439.8C602.1,435.7 600.8,418.6 602.5,414.9Z"/>
<path fill="#ea8968" d="M743.6,429.3C744.5,428.9 747.6,429.1 748.6,429.8C749.7,430.6 750.3,432.8 749.9,433.6C749.5,434.4 747.3,435.0 746.1,434.8C745.0,434.6 743.5,433.3 743.1,432.3C742.7,431.4 742.7,429.8 743.6,429.3Z"/>
<path fill="#ea8968" d="M764.9,429.8C766.1,426.1 771.5,422.3 774.9,419.9C778.2,417.4 782.1,414.9 784.8,414.9C787.6,414.9 789.8,416.5 791.1,419.9C792.3,423.2 792.5,430.7 792.3,434.8C792.1,439.0 791.1,441.1 789.8,444.8C788.6,448.6 786.5,454.0 784.8,457.3C783.2,460.7 781.1,461.9 779.9,464.8C778.6,467.7 781.5,473.1 777.4,474.8C773.2,476.5 758.2,477.3 754.9,474.8C751.5,472.3 755.7,463.6 757.4,459.8C759.0,456.1 763.2,455.2 764.9,452.3C766.5,449.4 767.4,446.1 767.4,442.3C767.4,438.6 763.6,433.6 764.9,429.8Z"/>
<path fill="#ea8968" d="M812.3,344.9C813.4,341.8 814.4,339.7 817.3,338.7C820.2,337.6 825.6,337.6 829.8,338.7C834.0,339.7 838.1,343.9 842.3,344.9C846.5,346.0 850.2,345.3 854.8,344.9C859.4,344.5 864.8,343.2 869.8,342.4C874.8,341.6 880.8,339.9 884.8,339.9C888.8,339.9 891.0,340.8 893.8,342.4C896.5,344.1 898.8,347.0 901.2,349.9C903.7,352.8 906.2,356.6 908.7,359.9C911.2,363.2 913.7,366.6 916.2,369.9L917.2,474.8C904.7,474.8 886.2,475.6 879.8,474.8C877.5,474.5 879.4,471.9 878.5,469.8C877.5,467.5 875.9,464.6 873.8,460.8C871.6,457.1 868.9,452.2 865.8,447.3C862.7,442.5 859.1,436.4 855.3,431.8C851.5,427.3 846.2,423.0 842.8,419.9C839.4,416.7 837.0,415.4 834.8,412.9C832.6,410.4 831.3,406.7 829.8,404.9C828.5,403.2 826.9,401.9 826.1,401.9C825.2,401.9 825.0,403.4 824.8,404.9C824.6,406.6 825.6,409.9 824.8,412.4C824.0,414.9 821.9,419.0 819.8,419.9C817.7,420.7 814.3,419.0 812.3,417.4C810.3,415.7 808.5,412.4 807.8,409.9C807.2,407.4 807.4,404.2 808.6,402.4C809.7,400.5 812.5,399.9 814.8,398.6C817.1,397.4 821.9,396.7 822.3,394.9C822.7,393.0 819.0,389.9 817.3,387.4C815.7,384.9 812.9,382.8 812.3,379.9C811.7,377.0 813.8,373.6 813.6,369.9C813.4,366.1 811.3,361.6 811.1,357.4C810.9,353.2 811.3,348.0 812.3,344.9Z"/>
<path fill="#ea8968" d="M684.9,427.5C678.9,428.3 694.1,430.8 697.4,432.5C700.8,434.2 702.0,435.0 704.9,437.5C707.8,440.0 713.7,443.3 714.9,447.5C716.2,451.6 712.4,457.9 712.4,462.5C712.4,467.1 713.2,470.8 714.9,475.0C716.6,479.1 720.3,483.7 722.4,487.5C724.5,491.2 725.7,493.3 727.4,497.4C729.1,501.6 733.2,507.9 732.4,512.4C731.6,517.0 725.7,521.2 722.4,524.9C719.1,528.7 715.3,531.2 712.4,534.9C709.5,538.7 705.7,543.2 704.9,547.4C704.1,551.6 705.7,555.7 707.4,559.9C709.1,564.1 713.2,568.2 714.9,572.4C716.6,576.5 716.2,580.7 717.4,584.9C718.7,589.0 720.3,594.0 722.4,597.4C724.5,600.7 727.0,602.8 729.9,604.9C732.8,606.9 738.0,607.3 739.9,609.8C741.8,612.3 739.5,617.3 741.1,619.8C742.8,622.3 746.3,624.8 749.9,624.8C753.4,624.8 759.5,622.3 762.4,619.8C765.3,617.3 765.7,613.2 767.4,609.8C769.0,606.5 771.1,602.8 772.4,599.9C773.6,596.9 775.7,594.4 774.9,592.4C774.0,590.3 770.7,588.6 767.4,587.4C764.0,586.1 758.6,586.1 754.9,584.9C751.1,583.6 746.8,582.8 744.9,579.9C743.0,577.0 742.8,571.5 743.6,567.4C744.5,563.2 748.4,559.1 749.9,554.9C751.3,550.7 752.8,547.0 752.4,542.4C752.0,537.8 749.3,532.0 747.4,527.4C745.5,522.8 742.8,518.7 741.1,514.9C739.5,511.2 736.8,507.9 737.4,504.9C738.0,502.0 742.4,499.9 744.9,497.4C747.4,494.9 751.3,493.7 752.4,489.9C753.4,486.2 752.0,480.4 751.1,475.0C750.3,469.5 749.0,462.5 747.4,457.5C745.7,452.5 742.8,448.7 741.1,445.0C739.5,441.2 738.0,437.9 737.4,435.0C736.8,432.1 740.7,428.0 737.4,427.5C728.6,426.3 691.6,426.7 684.9,427.5Z"/>
<path fill="#ea8968" d="M752.4,427.5C748.9,428.2 754.0,431.7 754.9,435.0C755.7,438.3 756.1,442.9 757.4,447.5C758.6,452.1 760.5,458.5 762.4,462.5C764.2,466.4 766.7,471.2 768.6,471.2C770.5,471.2 772.1,465.2 773.6,462.5C775.1,459.8 775.7,457.1 777.4,455.0C779.0,452.9 781.7,452.5 783.6,450.0C785.5,447.5 787.6,443.7 788.6,440.0C789.6,436.2 795.2,429.3 789.8,427.5C783.8,425.4 758.2,426.3 752.4,427.5Z"/>
<path fill="#ea8968" d="M801.1,473.7C801.5,472.0 805.0,471.4 807.3,472.5C809.6,473.5 812.3,477.5 814.8,480.0C817.3,482.5 819.8,486.2 822.3,487.5C824.8,488.7 827.9,486.2 829.8,487.5C831.7,488.7 833.1,492.0 833.6,494.9C834.0,497.9 831.3,501.6 832.3,504.9C833.3,508.3 837.3,511.6 839.8,514.9C842.3,518.3 845.8,521.2 847.3,524.9C848.8,528.7 849.0,534.5 848.5,537.4C848.1,540.2 844.2,540.7 844.8,542.4C845.4,544.1 850.2,545.3 852.3,547.4C854.4,549.5 855.2,552.0 857.3,554.9C859.4,557.8 862.3,562.0 864.8,564.9C867.3,567.8 869.8,569.9 872.3,572.4C874.8,574.9 877.7,576.5 879.8,579.9C881.8,583.2 882.8,588.2 884.8,592.4C886.7,596.5 889.3,601.1 891.3,604.9C893.2,608.6 896.3,611.9 896.3,614.8C896.3,617.8 892.9,619.8 891.3,622.3C889.6,624.8 887.3,626.9 886.3,629.8C885.2,632.7 885.3,640.2 885.0,639.8C884.8,639.4 886.1,631.1 884.8,627.3C883.5,623.6 879.1,620.3 877.3,617.3C875.4,614.4 875.2,612.3 873.5,609.8C871.9,607.3 869.6,605.3 867.3,602.4C865.0,599.4 862.3,596.1 859.8,592.4C857.3,588.6 854.8,583.6 852.3,579.9C849.8,576.1 846.9,573.2 844.8,569.9C842.7,566.6 841.0,563.6 839.8,559.9C838.6,556.1 838.1,551.6 837.3,547.4C836.5,543.2 836.3,539.1 834.8,534.9C833.3,530.7 830.6,526.2 828.6,522.4C826.5,518.7 824.2,515.8 822.3,512.4C820.4,509.1 819.0,505.8 817.3,502.4C815.7,499.1 814.4,495.8 812.3,492.4C810.2,489.1 806.7,485.6 804.8,482.5C803.0,479.3 800.7,475.4 801.1,473.7Z"/>
<path fill="#ea8968" d="M791.1,602.4C791.5,599.4 794.6,597.8 797.3,597.4C800.0,596.9 806.1,601.1 807.3,599.9C808.6,598.6 805.5,593.2 804.8,589.9C804.2,586.5 803.0,582.0 803.6,579.9C804.2,577.8 807.1,575.7 808.6,577.4C810.0,579.0 810.5,586.1 812.3,589.9C814.2,593.6 817.5,596.9 819.8,599.9C822.1,602.8 825.6,604.9 826.1,607.3C826.5,609.8 822.5,611.9 822.3,614.8C822.1,617.8 823.6,621.5 824.8,624.8C826.1,628.2 829.4,631.9 829.8,634.8C830.2,637.7 829.4,641.5 827.3,642.3C825.2,643.2 820.2,641.9 817.3,639.8C814.4,637.7 812.3,633.2 809.8,629.8C807.3,626.5 804.8,622.3 802.3,619.8C799.8,617.3 796.7,617.8 794.8,614.8C793.0,611.9 790.7,605.3 791.1,602.4Z"/>
<path fill="#ea8968" d="M602.5,592.4C603.6,586.7 611.7,594.9 615.0,594.9C618.3,594.9 621.0,590.7 622.5,592.4C623.9,594.0 623.3,600.3 623.7,604.9C624.2,609.4 624.6,614.4 625.0,619.8C625.4,625.3 626.6,630.7 626.2,637.3C625.8,644.0 626.4,656.1 622.5,659.8C618.5,663.6 605.1,668.4 602.5,659.8C599.2,648.6 600.4,603.2 602.5,592.4Z"/>
<path fill="#ea8968" d="M602.5,427.5C604.6,425.0 613.7,425.8 615.0,427.5C616.2,429.2 612.1,435.0 610.0,437.5C607.9,440.0 603.8,444.2 602.5,442.5C601.3,440.8 600.4,430.0 602.5,427.5Z"/>
<path fill="#ea8968" d="M854.8,427.5C849.5,430.4 862.6,439.8 865.8,445.0C868.9,450.1 871.6,454.7 873.8,458.5C875.9,462.2 876.7,464.3 878.5,467.5C880.3,470.6 881.6,474.8 884.8,477.5C887.9,480.2 895.7,489.8 897.3,483.7C899.3,475.4 904.3,436.9 897.3,427.5C890.2,418.1 860.0,424.6 854.8,427.5Z"/>
<path fill="#ea8968" d="M602.5,597.5C608.3,597.5 616.0,595.8 620.0,597.5C623.9,599.2 625.2,602.9 626.2,607.5C627.3,612.1 626.9,619.6 626.2,625.0C625.6,630.4 622.7,635.0 622.5,640.0C622.3,645.0 625.4,650.4 625.0,655.0C624.6,659.5 622.5,664.5 620.0,667.4C617.5,670.4 612.9,671.4 610.0,672.4C607.1,673.5 605.0,673.3 602.5,673.7L602.5,597.5Z"/>
<path fill="#ea8968" d="M722.4,597.5C718.1,598.2 727.0,602.5 729.9,603.7C732.8,605.0 738.0,603.1 739.9,605.0C741.8,606.9 739.9,612.1 741.1,615.0C742.4,617.9 744.7,621.0 747.4,622.5C750.1,623.9 754.0,624.6 757.4,623.7C760.7,622.9 765.3,620.2 767.4,617.5C769.4,614.8 769.2,610.8 769.9,607.5C770.5,604.2 775.5,598.4 771.1,597.5C763.2,595.8 729.3,596.5 722.4,597.5Z"/>
<path fill="#ea8968" d="M792.3,597.5C787.0,599.5 789.8,606.7 791.1,610.0C792.3,613.3 797.5,614.6 799.8,617.5C802.1,620.4 803.2,624.1 804.8,627.5C806.5,630.8 807.3,635.2 809.8,637.5C812.3,639.8 816.9,641.2 819.8,641.2C822.7,641.2 825.6,639.3 827.3,637.5C829.0,635.6 829.8,632.9 829.8,630.0C829.8,627.1 828.6,622.9 827.3,620.0C826.1,617.1 822.5,615.0 822.3,612.5C822.1,610.0 825.6,607.5 826.1,605.0C826.5,602.5 828.2,598.2 824.8,597.5C819.2,596.3 798.0,595.4 792.3,597.5Z"/>
<path fill="#ea8968" d="M844.8,651.2C846.0,650.2 848.6,651.0 851.0,652.5C853.5,653.9 857.1,657.2 859.8,659.9C862.5,662.7 864.8,665.8 867.3,668.7C869.8,671.6 873.3,674.7 874.8,677.4C876.2,680.1 876.4,683.3 876.0,684.9C875.6,686.6 874.1,687.8 872.3,687.4C870.4,687.0 867.7,684.9 864.8,682.4C861.9,679.9 857.7,675.4 854.8,672.4C851.9,669.5 849.2,667.2 847.3,664.9C845.4,662.7 844.0,661.0 843.5,658.7C843.1,656.4 843.5,652.2 844.8,651.2Z"/>
<path fill="#ea8968" d="M869.8,602.5C870.2,600.0 873.9,598.3 877.3,597.5C880.6,596.7 887.4,596.3 889.8,597.5C892.1,598.8 890.2,602.1 891.3,605.0C892.3,607.9 896.1,611.9 896.3,615.0C896.4,618.1 893.1,620.4 892.3,623.7C891.4,627.1 891.8,632.3 891.0,635.0C890.2,637.7 888.3,640.8 887.3,640.0C886.2,639.1 885.6,633.3 884.8,630.0C883.9,626.6 883.9,622.9 882.3,620.0C880.6,617.1 876.9,615.4 874.8,612.5C872.7,609.6 869.4,605.0 869.8,602.5Z"/>
<path fill="#ea8968" d="M887.3,672.4C888.5,671.6 895.6,673.3 897.3,674.9C898.9,676.6 898.5,681.6 897.3,682.4C896.0,683.3 891.4,681.6 889.8,679.9C888.1,678.3 886.0,673.3 887.3,672.4Z"/>
<path fill="#ea8968" d="M1123.8,254.8C1124.6,253.6 1127.5,251.9 1128.8,252.3C1130.0,252.8 1131.3,255.9 1131.3,257.3C1131.3,258.8 1130.0,260.7 1128.8,261.1C1127.5,261.5 1124.6,260.9 1123.8,259.8C1123.0,258.8 1123.0,256.1 1123.8,254.8Z"/>
<path fill="#ea8968" d="M1106.3,267.3C1107.8,265.9 1110.9,266.1 1113.8,266.1C1116.7,266.1 1120.5,266.7 1123.8,267.3C1127.1,267.9 1131.1,268.2 1133.8,269.8C1136.5,271.5 1139.2,274.0 1140.0,277.3C1140.9,280.6 1144.0,287.7 1138.8,289.8C1133.6,291.9 1114.4,292.3 1108.8,289.8C1103.2,287.3 1105.5,278.6 1105.1,274.8C1104.7,271.4 1104.8,268.8 1106.3,267.3Z"/>
<path fill="#ea8968" d="M956.4,279.8C957.7,277.5 962.1,276.1 963.9,276.1C965.8,276.1 967.3,277.5 967.7,279.8C968.1,282.1 968.3,288.1 966.4,289.8C964.5,291.5 958.1,291.5 956.4,289.8C954.8,288.1 955.2,282.1 956.4,279.8Z"/>
<path fill="#ea8968" d="M1015.5,212.6C1016.4,211.2 1020.1,210.3 1022.0,210.2C1024.0,210.1 1028.2,210.9 1030.2,211.8C1032.2,212.8 1035.2,216.1 1036.7,217.5C1038.2,219.0 1039.7,222.0 1041.6,222.4C1043.6,222.9 1049.0,220.5 1051.4,220.8C1053.8,221.1 1057.8,223.6 1059.6,224.9C1061.3,226.2 1063.6,228.8 1064.5,230.6C1065.3,232.5 1066.3,236.8 1066.1,238.8C1065.9,240.7 1062.6,244.0 1062.8,245.3C1063.1,246.6 1067.0,247.3 1067.7,248.6C1068.5,249.9 1069.0,253.6 1068.6,255.1C1068.1,256.6 1065.9,258.9 1064.5,260.0C1063.1,261.1 1059.5,262.6 1057.9,263.3C1056.4,263.9 1053.5,263.8 1053.0,264.9C1052.6,266.0 1054.7,269.7 1054.7,271.4C1054.7,273.2 1053.9,276.2 1053.0,277.9C1052.2,279.7 1049.2,282.7 1048.1,284.5C1047.1,286.2 1046.0,289.5 1044.9,291.0C1043.8,292.5 1041.5,295.1 1040.0,295.9C1038.5,296.7 1034.8,296.1 1033.5,296.7C1032.2,297.4 1030.2,299.4 1030.2,300.8C1030.2,302.2 1032.4,305.6 1033.5,307.3C1034.5,309.1 1037.9,312.3 1038.4,313.9C1038.8,315.4 1037.8,317.9 1036.7,318.8C1035.6,319.6 1032.2,320.4 1030.2,320.4C1028.2,320.4 1024.0,319.6 1022.0,318.8C1020.1,317.9 1016.5,315.6 1015.5,313.9C1014.5,312.1 1015.3,307.9 1014.7,305.7C1014.0,303.5 1012.0,299.3 1010.6,297.5C1009.2,295.8 1005.6,294.4 1004.1,292.6C1002.6,290.9 1000.5,286.6 999.2,284.5C997.9,282.3 995.2,278.5 994.3,276.3C993.4,274.1 992.8,270.5 992.6,268.1C992.5,265.8 992.8,260.5 993.5,258.4C994.1,256.2 997.4,253.6 997.5,251.8C997.7,250.1 995.4,247.0 994.3,245.3C993.2,243.6 990.7,240.5 989.4,238.8C988.1,237.0 985.5,233.5 984.5,232.2C983.5,230.9 981.6,229.5 982.0,229.0C982.5,228.4 985.9,227.9 987.8,228.2C989.6,228.4 994.0,229.8 995.9,230.6C997.9,231.4 1000.9,232.6 1002.4,233.9C1004.0,235.2 1006.5,238.4 1007.3,240.4C1008.2,242.4 1008.1,247.3 1009.0,248.6C1009.8,249.9 1012.3,250.2 1013.9,250.2C1015.4,250.2 1018.9,249.2 1020.4,248.6C1021.9,247.9 1024.9,246.4 1025.3,245.3C1025.7,244.2 1024.8,241.3 1023.7,240.4C1022.6,239.5 1018.8,239.4 1017.1,238.8C1015.5,238.1 1012.1,236.6 1011.4,235.5C1010.8,234.4 1011.5,231.7 1012.2,230.6C1013.0,229.5 1016.7,228.6 1017.1,227.3C1017.6,226.0 1015.7,222.8 1015.5,220.8C1015.3,218.9 1014.6,214.1 1015.5,212.6Z"/>
<path fill="#ea8968" d="M953.9,282.5C955.4,280.8 958.3,280.0 960.2,280.0C962.1,280.0 964.8,280.0 965.2,282.5C965.6,285.0 963.3,290.4 962.7,295.0C962.1,299.5 962.1,306.2 961.4,309.9C960.8,313.5 960.2,317.0 958.9,317.4C957.7,317.9 955.2,315.4 953.9,312.4C952.7,309.5 951.9,303.7 951.4,300.0C951.0,296.2 951.0,292.9 951.4,290.0C951.9,287.0 952.5,284.1 953.9,282.5Z"/>
<path fill="#ea8968" d="M996.4,242.5C995.6,248.3 993.5,254.2 993.9,260.0C994.3,265.8 997.2,272.1 998.9,277.5C1000.6,282.9 1001.4,288.3 1003.9,292.5C1006.4,296.6 1011.6,298.7 1013.9,302.5C1016.2,306.2 1016.0,312.4 1017.6,314.9C1019.3,317.4 1021.2,317.4 1023.9,317.4C1026.6,317.4 1031.8,317.0 1033.9,314.9C1035.9,312.9 1036.4,307.9 1036.4,304.9C1036.4,302.0 1032.6,299.1 1033.9,297.5C1035.1,295.8 1041.4,296.6 1043.9,295.0C1046.4,293.3 1047.2,290.4 1048.9,287.5C1050.5,284.5 1053.4,280.4 1053.8,277.5C1054.3,274.6 1050.5,272.1 1051.3,270.0C1052.2,267.9 1056.3,267.1 1058.8,265.0C1061.3,262.9 1064.7,261.2 1066.3,257.5C1068.0,253.7 1068.0,247.5 1068.8,242.5L996.4,242.5Z"/>
<path fill="#ea8968" d="M1106.3,270.0C1107.6,267.9 1110.5,267.7 1113.8,267.5C1117.1,267.3 1122.5,267.9 1126.3,268.7C1130.0,269.6 1134.0,270.6 1136.3,272.5C1138.6,274.4 1140.4,276.2 1140.0,280.0C1139.6,283.7 1135.2,290.0 1133.8,295.0C1132.3,300.0 1132.5,304.9 1131.3,309.9C1130.0,314.9 1128.0,321.6 1126.3,324.9C1124.9,327.8 1123.8,329.5 1121.3,329.9C1118.8,330.3 1115.0,328.3 1111.3,327.4C1107.6,326.6 1101.7,326.6 1098.8,324.9C1095.9,323.3 1094.2,320.8 1093.8,317.4C1093.4,314.1 1095.1,309.1 1096.3,304.9C1097.6,300.8 1099.6,296.6 1101.3,292.5C1103.0,288.3 1105.5,283.7 1106.3,280.0C1107.1,276.2 1105.1,272.1 1106.3,270.0Z"/>
<path fill="#ea8968" d="M1123.8,253.7L1131.3,253.7L1131.3,258.7L1123.8,258.7Z"/>
<path fill="#ea8968" d="M995.1,359.9C995.8,358.2 998.3,356.2 1001.4,354.9C1004.5,353.7 1009.7,353.2 1013.9,352.4C1018.0,351.6 1022.6,351.2 1026.4,349.9C1030.1,348.7 1033.4,345.5 1036.4,344.9C1039.3,344.3 1042.4,344.9 1043.9,346.2C1045.3,347.4 1045.9,350.1 1045.1,352.4C1044.3,354.7 1041.1,357.6 1038.9,359.9C1036.6,362.2 1034.7,364.7 1031.4,366.1C1028.0,367.6 1023.0,368.4 1018.9,368.6C1014.7,368.9 1009.9,368.0 1006.4,367.4C1002.8,366.8 999.5,366.1 997.6,364.9C995.8,363.6 994.5,361.6 995.1,359.9Z"/>
<path fill="#ea8968" d="M1096.3,372.4C1097.8,370.7 1101.3,372.4 1103.8,374.9C1106.3,377.4 1108.8,385.7 1111.3,387.4C1113.8,389.0 1116.7,384.0 1118.8,384.9C1120.9,385.7 1121.3,390.7 1123.8,392.4C1126.3,394.0 1129.6,394.5 1133.8,394.9C1137.9,395.3 1144.2,394.9 1148.8,394.9C1153.3,394.9 1159.4,389.6 1161.3,394.9C1163.3,400.9 1165.0,424.2 1161.3,431.1C1157.5,438.0 1145.0,435.0 1138.8,436.1C1132.5,437.1 1129.2,437.5 1123.8,437.3C1118.4,437.1 1110.3,435.7 1106.3,434.8C1103.3,434.2 1100.5,434.8 1100.1,432.3C1099.6,429.8 1104.4,423.6 1103.8,419.9C1103.2,416.1 1098.0,413.2 1096.3,409.9C1094.6,406.5 1094.0,404.0 1093.8,399.9C1093.6,395.7 1094.6,389.5 1095.1,384.9C1095.5,380.3 1094.9,374.1 1096.3,372.4Z"/>
<path fill="#ea8968" d="M1161.3,442.3C1156.7,437.3 1140.4,443.2 1133.8,444.8C1127.4,446.4 1124.2,449.4 1121.3,452.3C1118.4,455.2 1117.5,458.6 1116.3,462.3C1115.0,466.1 1108.3,473.3 1113.8,474.8C1121.3,476.9 1153.3,480.2 1161.3,474.8C1169.2,469.4 1165.8,447.3 1161.3,442.3Z"/>
<path fill="#ea8968" d="M871.5,339.9C875.7,339.5 880.2,338.3 884.0,338.7C887.7,339.1 891.1,340.5 894.0,342.4C896.9,344.3 899.0,347.0 901.5,349.9C904.0,352.8 906.5,356.6 909.0,359.9C911.5,363.2 913.5,367.0 916.5,369.9C919.4,372.8 922.7,375.7 926.5,377.4C930.2,379.1 935.2,379.3 938.9,379.9C942.7,380.5 945.6,379.5 948.9,381.1C952.3,382.8 955.6,386.8 958.9,389.9C962.3,393.0 966.0,396.1 968.9,399.9C971.8,403.6 973.9,408.6 976.4,412.4C978.9,416.1 981.0,418.6 983.9,422.3C986.8,426.1 990.6,431.5 993.9,434.8C997.2,438.2 1000.6,440.3 1003.9,442.3C1007.2,444.4 1009.7,445.7 1013.9,447.3C1018.0,449.0 1023.9,450.7 1028.9,452.3C1033.9,454.0 1039.7,456.9 1043.9,457.3C1048.0,457.7 1050.5,455.7 1053.8,454.8C1057.2,454.0 1060.5,453.2 1063.8,452.3C1067.2,451.5 1070.1,450.7 1073.8,449.8C1077.6,449.0 1083.4,446.9 1086.3,447.3C1089.2,447.7 1090.9,450.2 1091.3,452.3C1091.7,454.4 1087.7,456.4 1088.8,459.8C1090.1,463.6 1095.5,469.8 1098.8,474.8L881.5,474.8C880.6,473.1 880.0,472.1 878.7,469.8C877.5,467.5 875.2,463.1 874.0,460.8C872.9,458.7 872.3,457.7 871.5,456.1L871.5,339.9Z"/>
<path fill="#ea8968" d="M871.5,427.5L990.2,427.5C992.5,429.5 997.1,433.2 998.9,435.0C1000.7,436.8 1002.6,439.4 1003.9,441.2C1005.2,443.1 1006.9,447.9 1008.9,448.7C1010.9,449.6 1016.2,447.8 1018.9,447.5C1021.5,447.2 1026.2,446.2 1028.9,446.2C1031.5,446.2 1036.2,446.7 1038.9,447.5C1041.5,448.3 1046.2,451.5 1048.9,452.5C1051.5,453.5 1056.5,455.3 1058.8,455.0C1061.2,454.6 1064.0,451.0 1066.3,450.0C1068.7,449.0 1073.7,447.7 1076.3,447.5C1079.0,447.3 1084.0,447.7 1086.3,448.7C1088.7,449.7 1092.1,453.1 1093.8,455.0C1095.5,456.8 1096.8,460.8 1098.8,462.5C1100.8,464.1 1106.8,467.5 1108.8,467.5C1110.8,467.5 1112.8,464.1 1113.8,462.5C1114.8,460.8 1115.3,456.6 1116.3,455.0C1117.3,453.3 1119.0,451.0 1121.3,450.0C1123.6,449.0 1128.5,447.7 1133.8,447.5C1139.1,447.3 1157.6,443.6 1161.3,448.7C1164.9,453.9 1164.6,480.9 1161.3,486.2C1157.9,491.5 1141.3,487.2 1136.3,488.7C1131.3,490.2 1127.5,495.9 1123.8,497.4C1120.1,498.9 1113.5,499.9 1108.8,499.9C1104.1,499.9 1093.5,497.9 1088.8,497.4C1084.2,496.9 1077.5,496.3 1073.8,496.2C1070.2,496.1 1063.2,495.8 1061.3,496.9C1059.5,498.1 1059.9,502.5 1060.1,504.9C1060.3,507.3 1061.6,512.1 1062.6,514.9C1063.6,517.8 1066.1,524.0 1067.6,526.2C1069.1,528.3 1071.3,530.8 1073.8,531.2C1076.3,531.5 1084.0,528.5 1086.3,528.7C1088.7,528.8 1090.6,530.9 1091.3,532.4C1092.0,533.9 1092.0,537.9 1091.3,539.9C1090.6,541.9 1087.7,544.7 1086.3,547.4C1085.0,550.1 1083.0,556.9 1081.3,559.9C1079.7,562.9 1075.5,566.9 1073.8,569.9C1072.2,572.9 1070.5,579.4 1068.8,582.4C1067.2,585.4 1063.3,590.4 1061.3,592.4C1059.3,594.4 1055.8,596.0 1053.8,597.4C1051.8,598.7 1048.7,600.7 1046.4,602.4C1044.0,604.0 1038.7,608.5 1036.4,609.8C1034.0,611.2 1031.2,611.3 1028.9,612.3C1026.5,613.3 1021.5,616.0 1018.9,617.3C1016.2,618.7 1011.2,621.0 1008.9,622.3C1006.6,623.7 1003.4,626.0 1001.4,627.3C999.4,628.7 996.2,632.0 993.9,632.3C991.6,632.7 986.2,629.5 983.9,629.8C981.6,630.2 978.7,633.5 976.4,634.8C974.1,636.2 968.8,639.5 966.4,639.8C964.1,640.2 960.3,639.0 958.9,637.3C957.6,635.7 957.1,630.3 956.4,627.3C955.8,624.3 954.6,617.8 953.9,614.8C953.3,611.8 952.8,607.2 951.4,604.9C950.1,602.5 946.3,599.4 943.9,597.4C941.6,595.4 936.6,591.5 933.9,589.9C931.3,588.2 926.6,585.9 924.0,584.9C921.3,583.9 916.6,583.0 914.0,582.4C911.3,581.7 906.0,581.5 904.0,579.9C902.0,578.2 899.8,572.9 899.0,569.9C898.1,566.9 897.4,560.4 897.7,557.4C898.1,554.4 899.6,549.7 901.5,547.4C903.3,545.1 909.5,541.9 911.5,539.9C913.5,537.9 916.5,534.7 916.5,532.4C916.5,530.1 912.8,525.4 911.5,522.4C910.1,519.4 908.1,513.6 906.5,509.9C904.8,506.3 901.3,498.9 899.0,494.9C896.6,490.9 891.3,483.6 889.0,480.0C886.7,476.3 883.5,470.8 881.5,467.5C879.5,464.1 875.3,457.0 874.0,455.0C873.1,453.7 871.6,454.1 871.5,452.5C871.2,448.8 871.5,434.2 871.5,427.5Z"/>
<path fill="#ea8968" d="M1098.8,427.5C1094.8,428.0 1101.3,432.9 1103.8,435.0C1106.3,437.1 1110.0,439.0 1113.8,440.0C1117.5,441.0 1122.1,441.7 1126.3,441.2C1130.4,440.8 1133.0,438.5 1138.8,437.5C1144.6,436.5 1157.5,436.7 1161.3,435.0C1164.3,433.6 1164.6,427.9 1161.3,427.5C1150.8,426.3 1108.4,426.3 1098.8,427.5Z"/>
<path fill="#ea8968" d="M993.9,659.8C988.2,657.8 996.4,650.4 998.9,647.3C1001.4,644.2 1005.1,642.7 1008.9,641.1C1012.6,639.4 1017.2,638.6 1021.4,637.3C1025.5,636.1 1030.1,634.0 1033.9,633.6C1037.6,633.2 1041.8,633.4 1043.9,634.8C1045.9,636.3 1046.8,639.8 1046.4,642.3C1045.9,644.8 1043.4,646.9 1041.4,649.8C1039.3,652.7 1039.4,658.6 1033.9,659.8C1026.0,661.5 999.7,661.9 993.9,659.8Z"/>
<path fill="#ea8968" d="M871.5,582.4C872.5,577.8 879.2,582.8 881.5,584.9C883.8,586.9 883.6,591.5 885.2,594.9C886.9,598.2 889.6,601.5 891.5,604.9C893.4,608.2 896.5,611.9 896.5,614.8C896.5,617.8 893.2,619.8 891.5,622.3C889.8,624.8 887.5,626.9 886.5,629.8C885.4,632.7 886.5,638.6 885.2,639.8C884.0,641.1 881.3,639.0 879.0,637.3C876.7,635.7 872.1,634.6 871.5,629.8C870.3,620.7 869.8,589.9 871.5,582.4Z"/>
<path fill="#ea8968" d="M938.9,642.3C940.6,639.3 944.4,640.2 946.4,641.1C948.5,641.9 951.0,644.2 951.4,647.3C951.9,650.4 951.4,657.7 948.9,659.8C946.4,661.9 938.1,662.7 936.4,659.8C934.8,656.9 937.3,645.4 938.9,642.3Z"/>
<path fill="#ea8968" d="M973.9,682.4C975.0,678.7 976.4,676.2 978.9,672.4C981.4,668.7 985.2,664.1 988.9,659.9C992.6,655.8 997.2,650.8 1001.4,647.5C1005.6,644.1 1009.3,642.0 1013.9,640.0C1018.5,637.9 1024.3,636.0 1028.9,635.0C1033.4,633.9 1038.4,632.9 1041.4,633.7C1044.3,634.6 1046.4,637.3 1046.4,640.0C1046.4,642.7 1043.4,647.0 1041.4,650.0C1039.3,652.9 1036.8,655.4 1033.9,657.5C1030.9,659.5 1027.2,661.6 1023.9,662.4C1020.5,663.3 1017.2,661.6 1013.9,662.4C1010.6,663.3 1006.8,665.4 1003.9,667.4C1001.0,669.5 998.5,672.0 996.4,674.9C994.3,677.9 993.1,681.6 991.4,684.9C989.7,688.3 987.7,692.0 986.4,694.9C985.2,697.8 984.5,699.5 983.9,702.4C983.3,705.3 983.5,707.9 982.7,712.4C981.8,717.0 980.8,724.5 978.9,729.9C977.0,735.3 973.9,739.9 971.4,744.9C968.9,749.9 966.4,754.9 963.9,759.9C961.4,764.9 958.9,769.9 956.4,774.9C953.9,779.8 950.6,785.7 948.9,789.8C947.3,794.0 948.7,798.2 946.4,799.8C944.1,801.5 937.3,803.6 935.2,799.8C933.1,796.1 933.7,783.2 933.9,777.3C934.2,771.6 934.8,768.6 936.4,764.9C938.1,761.1 943.1,758.6 943.9,754.9C944.8,751.1 942.1,746.1 941.4,742.4C940.8,738.6 939.4,736.1 940.2,732.4C941.0,728.6 944.1,723.2 946.4,719.9C948.7,716.6 950.6,714.9 953.9,712.4C957.3,709.9 963.3,707.8 966.4,704.9C969.5,702.0 971.4,698.7 972.7,694.9C973.9,691.2 972.9,686.2 973.9,682.4Z"/>
<path fill="#ea8968" d="M951.4,597.5C952.3,602.5 952.7,607.9 953.9,612.5C955.2,617.1 958.5,621.2 958.9,625.0C959.3,628.7 956.0,632.5 956.4,635.0C956.8,637.5 958.5,639.5 961.4,640.0C964.3,640.4 969.8,637.5 973.9,637.5C978.1,637.5 983.1,640.8 986.4,640.0C989.7,639.1 992.2,635.4 993.9,632.5C995.6,629.6 994.3,624.6 996.4,622.5C998.5,620.4 1002.6,620.8 1006.4,620.0C1010.1,619.2 1015.1,618.7 1018.9,617.5C1022.6,616.2 1026.0,614.2 1028.9,612.5C1031.8,610.8 1033.4,608.7 1036.4,607.5C1039.3,606.2 1044.3,606.7 1046.4,605.0C1048.4,603.3 1048.0,600.0 1048.9,597.5L951.4,597.5Z"/>
<path fill="#ea8968" d="M925.2,645.0C926.0,642.9 930.4,642.0 933.9,641.2C937.5,640.4 943.5,639.3 946.4,640.0C949.4,640.6 951.0,642.7 951.4,645.0C951.9,647.3 948.1,651.6 948.9,653.7C949.8,655.8 955.6,656.0 956.4,657.5C957.3,658.9 956.0,661.6 953.9,662.4C951.9,663.3 947.3,661.8 943.9,662.4C940.6,663.1 936.7,666.2 933.9,666.2C931.2,666.2 928.5,664.5 927.7,662.4C926.9,660.4 929.4,656.6 929.0,653.7C928.5,650.8 924.4,647.0 925.2,645.0Z"/>
<path fill="#ea8968" d="M871.5,612.5C873.6,609.0 880.7,610.4 884.0,611.2C887.3,612.1 889.8,614.8 891.5,617.5C893.2,620.2 894.4,624.6 894.0,627.5C893.6,630.4 891.1,634.6 889.0,635.0C886.9,635.4 884.4,630.4 881.5,630.0C878.6,629.6 873.2,635.4 871.5,632.5C869.8,629.6 869.4,616.0 871.5,612.5Z"/>
<path fill="#ea8968" d="M887.7,672.4C889.2,671.8 891.7,673.5 894.0,674.9C896.3,676.4 900.6,678.9 901.5,681.2C902.3,683.5 901.1,687.8 899.0,688.7C896.9,689.5 891.3,687.8 889.0,686.2C886.7,684.5 885.4,681.0 885.2,678.7C885.0,676.4 886.3,673.1 887.7,672.4Z"/>
<path fill="#ea8968" d="M330.7,394.1C328.7,393.6 323.1,395.6 320.6,396.6C318.1,397.6 314.2,399.8 311.8,401.6C309.5,403.5 305.0,408.4 303.0,410.4C301.0,412.4 298.9,415.3 296.7,416.7C294.6,418.0 289.5,419.6 286.7,420.5C283.8,421.3 278.2,421.8 275.4,423.0C272.5,424.1 267.7,427.4 265.3,429.2C263.0,431.1 259.8,434.6 257.8,436.8C255.8,439.0 254.0,445.0 250.3,445.6C246.5,446.2 234.6,440.2 229.9,441.2C225.1,442.3 218.7,450.7 214.9,453.7C211.0,456.7 204.0,461.7 201.1,463.7C198.3,465.7 196.3,465.7 193.6,468.7C191.0,471.7 184.1,481.2 181.1,486.2C178.1,491.2 173.8,500.9 171.2,506.2C168.5,511.5 163.5,520.7 161.2,526.2C158.8,531.7 155.0,543.4 153.7,547.4C152.4,551.3 151.3,553.1 151.2,556.1C151.0,559.1 153.6,566.7 152.4,569.9C151.3,573.0 145.1,577.5 142.4,579.9C139.8,582.2 134.4,585.4 132.4,587.4C130.4,589.4 127.8,592.9 127.4,594.9C127.1,596.9 128.3,601.4 129.9,602.4C131.6,603.4 137.3,603.0 139.9,602.4C142.6,601.7 147.6,599.0 149.9,597.4C152.3,595.7 156.1,591.2 157.4,589.9C158.5,588.7 159.5,585.8 159.9,587.4C160.4,589.4 161.2,600.5 161.2,604.9C161.2,609.2 159.9,616.8 159.9,619.8C159.9,622.8 159.5,626.8 161.2,627.3C162.8,627.8 169.2,623.6 172.4,623.6C175.6,623.6 181.9,626.5 184.9,627.3C187.9,628.2 192.2,629.2 194.9,629.8C197.5,630.5 202.2,632.3 204.9,632.3C207.5,632.3 211.5,630.3 214.9,629.8C218.2,629.3 225.9,628.6 229.9,628.6C233.8,628.6 240.8,629.3 244.8,629.8C248.8,630.3 256.2,632.3 259.8,632.3C263.5,632.3 270.0,630.8 272.3,629.8C274.6,628.8 277.0,626.5 277.3,624.8C277.6,623.2 276.1,619.0 274.8,617.3C273.5,615.7 270.0,613.7 267.3,612.3C264.7,611.0 258.2,608.7 254.8,607.3C251.5,606.0 245.7,603.7 242.3,602.4C239.0,601.0 232.0,598.7 229.9,597.4C227.7,596.0 226.1,593.9 226.1,592.4C226.1,590.9 228.0,587.4 229.9,586.1C231.7,584.8 236.5,583.2 239.8,582.4C243.2,581.5 250.8,580.2 254.8,579.9C258.8,579.5 265.8,579.5 269.8,579.9C273.8,580.2 280.8,581.7 284.8,582.4C288.8,583.0 295.8,583.9 299.8,584.9C303.8,585.9 311.1,588.5 314.8,589.9C318.4,591.2 324.3,592.9 327.3,594.9C330.3,596.9 335.3,601.9 337.3,604.9C339.3,607.8 343.2,618.7 342.3,617.3C341.3,616.0 330.6,596.9 330.0,594.9C329.4,592.9 335.8,599.7 337.5,602.4C339.2,605.0 340.8,611.5 342.5,614.8C344.2,618.2 348.3,624.3 350.0,627.3C351.6,630.3 353.3,634.6 355.0,637.3C356.6,640.0 360.1,645.9 362.5,647.5C364.8,649.0 370.1,648.7 372.5,648.7C374.8,648.7 378.0,646.3 380.0,647.5C382.0,648.6 385.1,655.3 387.5,657.5C389.8,659.6 394.8,663.4 397.4,663.7C400.1,664.0 405.4,661.4 407.4,659.9C409.4,658.5 410.4,653.6 412.4,652.5C414.4,651.3 420.6,652.5 422.4,651.2C424.3,649.9 426.3,644.6 426.2,642.5C426.0,640.3 422.0,637.0 421.2,635.0C420.3,633.0 419.1,629.0 419.9,627.5C420.8,626.0 425.8,623.7 427.4,623.7C429.1,623.7 431.1,626.0 432.4,627.5C433.7,629.0 435.4,633.6 437.4,635.0C439.4,636.3 445.4,637.8 447.4,637.5C449.4,637.1 452.1,634.1 452.4,632.5C452.7,630.8 450.6,626.8 449.9,625.0C449.2,623.1 447.1,619.7 447.4,618.7C447.7,617.7 450.9,618.3 452.4,617.5C453.9,616.7 457.6,614.8 458.6,612.5C459.6,610.2 460.1,602.7 459.9,600.0C459.7,597.3 456.7,594.4 457.4,592.4C458.1,590.3 462.6,586.2 464.9,584.9C467.2,583.5 472.2,582.4 474.9,582.4C477.5,582.4 482.5,583.5 484.9,584.9C487.2,586.2 490.0,591.0 492.4,592.4C494.7,593.7 499.7,593.9 502.4,594.9C505.0,595.9 510.0,599.5 512.3,599.9C514.7,600.2 517.5,598.4 519.8,597.4C522.2,596.4 526.8,593.4 529.8,592.4C532.8,591.4 539.7,591.2 542.3,589.9C545.0,588.5 548.3,584.4 549.8,582.4C551.3,580.4 553.4,576.9 553.6,574.9C553.7,572.9 552.2,569.7 551.1,567.4C549.9,565.1 546.6,559.7 544.8,557.4C543.0,555.1 539.3,551.2 537.3,549.9C535.3,548.6 532.2,547.1 529.8,547.4C527.5,547.7 522.5,551.7 519.8,552.4C517.2,553.1 512.5,553.4 509.8,552.4C507.2,551.4 502.5,547.2 499.9,544.9C497.2,542.6 492.5,536.9 489.9,534.9C487.2,532.9 482.2,530.2 479.9,529.9C477.5,529.6 474.0,531.4 472.4,532.4C470.7,533.4 467.9,535.1 467.4,537.4C466.9,539.7 469.3,548.6 468.6,549.9C468.0,551.2 464.2,548.7 462.4,547.4C460.6,546.1 456.6,542.2 454.9,539.9C453.2,537.6 451.4,532.1 449.9,529.9C448.4,527.8 445.3,524.0 443.7,523.7C442.0,523.3 439.2,526.1 437.4,527.4C435.6,528.7 431.6,533.3 429.9,533.7C428.2,534.0 425.3,531.4 424.9,529.9C424.6,528.4 426.1,524.8 427.4,522.4C428.7,520.1 432.6,515.1 434.9,512.4C437.2,509.8 442.6,504.8 444.9,502.4C447.2,500.1 450.4,496.9 452.4,494.9C454.4,492.9 457.9,489.4 459.9,487.5C461.9,485.5 466.2,482.1 467.4,480.0C468.5,477.8 472.3,472.7 468.6,471.2C460.3,467.9 415.1,460.1 404.9,455.0C394.8,449.8 395.8,434.8 392.4,432.5C389.1,430.2 383.6,436.5 380.0,437.5C376.3,438.5 369.0,439.0 365.0,440.0C361.0,441.0 352.8,443.0 350.0,445.0C347.2,447.0 344.7,453.9 343.7,455.0C343.0,455.8 343.2,452.0 343.0,452.7C342.8,453.4 342.4,458.1 342.4,460.3C342.4,462.4 342.8,466.7 343.0,469.0C343.3,471.4 344.2,475.7 344.3,477.8C344.4,480.0 344.1,483.4 343.6,485.4C343.1,487.4 341.6,491.1 340.5,492.9C339.4,494.8 336.7,497.8 335.5,499.2C334.2,500.6 332.1,503.3 331.1,503.6C330.1,503.9 328.5,502.6 327.9,501.7C327.4,500.8 327.4,498.0 326.7,496.7C326.0,495.3 323.8,493.2 322.9,491.7C322.1,490.2 320.7,487.2 320.4,485.4C320.1,483.5 320.9,479.7 320.4,477.8C319.9,476.0 318.0,473.1 316.6,471.6C315.3,470.1 312.2,467.5 310.4,466.5C308.5,465.6 305.2,465.0 302.8,464.6C300.5,464.3 295.3,463.9 292.8,464.0C290.3,464.1 286.0,464.6 284.0,465.3C282.0,465.9 279.2,467.9 277.7,469.0C276.2,470.2 274.1,473.6 272.7,474.1C271.2,474.6 267.7,473.5 267.0,472.8C266.3,472.1 267.1,470.2 267.6,469.0C268.2,467.9 270.1,465.4 271.4,464.0C272.7,462.7 276.2,460.3 277.7,459.0C279.2,457.7 281.0,455.1 282.7,454.0C284.4,452.8 288.1,451.2 290.3,450.2C292.4,449.2 296.9,447.8 299.0,446.4C301.2,445.1 304.6,441.8 306.6,440.2C308.6,438.5 312.6,435.4 314.1,433.9C315.6,432.4 316.2,430.0 317.9,428.8C319.6,427.7 325.0,426.6 326.7,425.1C328.4,423.6 329.5,419.5 330.5,417.5C331.4,415.5 333.2,410.3 333.6,410.0C334.0,409.7 333.0,416.7 333.2,415.4C333.4,414.1 335.4,403.2 335.1,400.4C334.7,397.5 332.6,394.6 330.7,394.1Z"/>
<path fill="#f7e777" d="M252.3,541.2C252.7,538.4 255.0,535.3 257.3,533.7C259.6,532.0 263.2,531.0 266.1,531.2C269.0,531.4 272.6,532.8 274.8,534.9C277.0,537.0 279.3,540.9 279.3,543.7C279.3,546.4 277.2,549.5 274.8,551.1C272.4,552.8 268.2,553.9 264.8,553.6C261.5,553.4 256.9,552.0 254.8,549.9C252.7,547.8 251.9,543.9 252.3,541.2Z"/>
<path fill="#f7e777" d="M602.5,610.0C603.5,607.7 607.5,609.8 608.7,611.2C610.0,612.7 610.2,616.4 610.0,618.7C609.8,621.0 608.7,623.9 607.5,625.0C606.2,626.0 603.2,627.1 602.5,625.0C601.7,622.5 601.5,612.3 602.5,610.0Z"/>
<path fill="#f7e777" d="M582.2,614.6C582.6,612.7 585.6,610.3 587.7,609.1C589.7,607.8 592.3,607.2 594.6,607.0C596.8,606.8 599.4,607.1 601.4,607.7C603.5,608.3 605.5,609.1 606.9,610.4C608.3,611.8 609.1,614.1 609.7,615.9C610.2,617.8 610.6,619.6 610.3,621.4C610.1,623.3 609.3,625.3 608.3,626.9C607.3,628.5 606.0,629.9 604.2,631.0C602.3,632.2 599.4,632.6 597.3,633.8C595.2,634.9 593.4,636.3 591.8,637.9C590.2,639.5 588.8,641.6 587.7,643.4C586.5,645.2 585.9,648.4 584.9,648.9C584.0,649.3 582.2,647.9 582.2,646.1C582.2,643.9 584.0,638.4 584.9,635.2C585.9,631.9 587.7,629.4 587.7,626.9C587.7,624.4 585.9,622.1 584.9,620.0C584.0,618.0 581.7,616.4 582.2,614.6Z"/>
<path fill="#f7e777" d="M1046.4,467.5C1047.0,465.4 1050.5,464.6 1052.6,465.0C1054.7,465.4 1057.6,467.5 1058.8,470.0C1060.1,472.5 1060.7,477.7 1060.1,480.0C1059.5,482.2 1057.0,484.1 1055.1,483.7C1053.2,483.3 1050.3,480.2 1048.9,477.5C1047.4,474.8 1045.7,469.5 1046.4,467.5Z"/>
<path fill="#ad4b44" d="M202.4,462.5C205.7,460.8 210.3,459.1 214.9,457.5C219.4,455.8 225.7,453.7 229.9,452.5C234.0,451.2 236.7,449.8 239.8,450.0C243.0,450.2 247.3,451.6 248.6,453.7C249.8,455.8 248.8,459.4 247.3,462.5C245.9,465.6 241.9,468.7 239.8,472.5C237.8,476.2 236.5,481.2 234.8,485.0C233.2,488.7 232.8,492.4 229.9,494.9C226.9,497.4 220.7,497.4 217.4,499.9C214.0,502.4 212.4,506.2 209.9,509.9C207.4,513.7 204.9,519.1 202.4,522.4C199.9,525.8 197.8,527.4 194.9,529.9C192.0,532.4 188.6,534.9 184.9,537.4C181.1,539.9 176.1,542.4 172.4,544.9C168.7,547.4 165.5,550.7 162.4,552.4C159.3,554.1 154.9,555.7 153.7,554.9C152.4,554.1 154.0,550.7 154.9,547.4C156.4,542.4 159.5,532.0 162.4,524.9C165.3,517.8 169.1,511.6 172.4,504.9C175.7,498.3 178.6,491.2 182.4,485.0C186.1,478.7 191.6,471.2 194.9,467.5C197.6,464.4 199.0,464.1 202.4,462.5Z"/>
<path fill="#ad4b44" d="M162.4,564.9C163.4,563.8 166.2,564.9 167.4,566.1C168.6,567.4 169.8,570.5 169.4,572.4C169.0,574.3 166.3,577.4 164.9,577.4C163.5,577.4 161.6,574.5 161.2,572.4C160.7,570.3 161.4,565.9 162.4,564.9Z"/>
<path fill="#ad4b44" d="M308.5,528.7C309.8,527.2 313.7,526.4 317.3,524.9C320.8,523.5 326.0,521.6 329.8,519.9C333.5,518.3 336.8,516.2 339.8,514.9C342.7,513.7 346.1,509.1 347.3,512.4C348.5,516.2 349.3,532.6 347.3,537.4C345.2,542.2 338.5,540.7 334.8,541.2C331.0,541.6 328.1,540.5 324.8,539.9C321.4,539.3 317.3,538.4 314.8,537.4C312.3,536.4 310.8,535.1 309.8,533.7C308.7,532.2 307.3,530.1 308.5,528.7Z"/>
<path fill="#ad4b44" d="M298.5,520.9L303.5,520.9L303.5,522.9L298.5,522.9Z"/>
<path fill="#ad4b44" d="M367.0,456.1L370.0,459.3L367.0,462.6L364.0,459.3Z"/>
<path fill="#ad4b44" d="M327.5,518.7C329.6,513.3 336.7,512.6 340.0,509.9C343.3,507.2 344.6,503.9 347.5,502.4C350.4,501.0 354.1,501.2 357.5,501.2C360.8,501.2 364.6,502.4 367.5,502.4C370.4,502.4 372.0,501.8 375.0,501.2C377.9,500.6 381.6,499.4 385.0,498.7C388.3,498.0 391.6,496.7 394.9,496.9C398.3,497.2 402.5,498.6 404.9,499.9C407.4,501.3 409.4,502.6 409.4,504.9C409.4,507.2 407.1,511.5 404.9,513.7C402.7,515.8 399.3,517.1 396.2,517.9C393.1,518.8 389.5,518.5 386.2,518.9C382.9,519.3 379.7,519.8 376.2,520.4C372.7,521.0 368.5,521.3 365.0,522.4C361.4,523.6 358.3,525.5 355.0,527.4C351.6,529.3 348.3,531.6 345.0,533.7C341.7,535.7 337.9,538.4 335.0,539.9C332.1,541.4 328.7,545.8 327.5,542.4C326.3,538.9 325.4,524.1 327.5,518.7Z"/>
<path fill="#ad4b44" d="M818.6,343.7C819.5,342.4 822.1,341.0 823.6,341.2C825.0,341.4 826.9,343.2 827.3,344.9C827.7,346.6 827.1,349.9 826.1,351.2C825.0,352.4 822.4,352.8 821.1,352.4C819.7,352.0 818.2,350.1 817.8,348.7C817.4,347.2 817.6,344.9 818.6,343.7Z"/>
<path fill="#ad4b44" d="M833.6,364.9C835.4,361.8 840.8,361.6 844.8,361.2C848.8,360.7 853.1,361.8 857.3,362.4C861.4,363.0 866.0,364.8 869.8,364.9C873.5,365.0 877.0,362.9 879.8,362.9C882.5,362.9 883.4,363.8 886.3,364.9C889.4,366.1 895.0,367.4 898.8,369.9C902.5,372.4 905.7,377.2 908.7,379.9C911.8,382.6 916.7,381.4 917.2,386.1C918.7,398.2 920.8,442.5 917.2,452.3C913.8,461.9 900.6,447.3 896.0,444.8C892.1,442.7 892.0,439.8 889.8,437.3C887.5,434.8 885.2,431.9 882.3,429.8C879.4,427.8 875.6,426.9 872.3,424.8C868.9,422.8 865.2,420.3 862.3,417.4C859.4,414.4 857.7,410.3 854.8,407.4C851.9,404.4 847.7,402.4 844.8,399.9C841.9,397.4 839.2,395.7 837.3,392.4C835.4,389.0 834.2,384.5 833.6,379.9C832.9,375.3 831.7,368.0 833.6,364.9Z"/>
<path fill="#ad4b44" d="M782.3,419.9C783.4,418.0 786.1,417.4 787.3,418.6C788.6,419.9 790.1,424.6 789.8,427.3C789.6,430.1 787.6,434.4 786.1,434.8C784.6,435.3 781.7,432.3 781.1,429.8C780.5,427.3 781.3,421.7 782.3,419.9Z"/>
<path fill="#ad4b44" d="M692.4,423.6C693.1,423.3 695.5,423.1 696.2,423.3C696.8,423.6 696.8,425.0 696.2,425.3C695.5,425.7 693.1,425.6 692.4,425.3C691.8,425.1 691.8,423.9 692.4,423.6Z"/>
<path fill="#ad4b44" d="M849.8,571.1C849.8,569.7 852.7,568.6 854.8,568.6C856.9,568.6 860.2,569.7 862.3,571.1C864.4,572.6 865.8,574.7 867.3,577.4C868.7,580.1 870.2,584.7 871.0,587.4C871.9,590.1 872.9,592.8 872.3,593.6C871.6,594.4 868.9,593.8 867.3,592.4C865.6,590.9 864.4,587.4 862.3,584.9C860.2,582.4 856.9,579.7 854.8,577.4C852.7,575.1 849.8,572.6 849.8,571.1Z"/>
<path fill="#ad4b44" d="M873.5,609.8C873.9,608.2 877.5,606.5 879.8,606.1C882.1,605.7 885.6,606.1 887.3,607.3C888.9,608.6 890.4,611.9 889.8,613.6C889.1,615.3 885.6,616.9 883.5,617.3C881.4,617.8 878.9,617.3 877.3,616.1C875.6,614.8 873.1,611.5 873.5,609.8Z"/>
<path fill="#ad4b44" d="M882.3,427.5C880.6,429.2 884.8,434.6 887.3,437.5C889.8,440.4 895.6,446.7 897.3,445.0C898.9,443.3 899.7,430.4 897.3,427.5C894.8,424.6 883.9,425.8 882.3,427.5Z"/>
<path fill="#ad4b44" d="M873.5,610.0C873.9,608.3 877.5,606.7 879.8,606.2C882.1,605.8 885.6,606.2 887.3,607.5C888.9,608.7 890.2,612.1 889.8,613.7C889.3,615.4 886.8,617.1 884.8,617.5C882.7,617.9 879.1,617.5 877.3,616.2C875.4,615.0 873.1,611.7 873.5,610.0Z"/>
<path fill="#ad4b44" d="M1121.3,277.3C1122.3,276.1 1125.0,275.2 1126.3,276.1C1127.5,276.9 1129.2,280.0 1128.8,282.3C1128.4,284.6 1125.2,289.6 1123.8,289.8C1122.3,290.0 1120.5,285.6 1120.0,283.6C1119.6,281.5 1120.2,278.6 1121.3,277.3Z"/>
<path fill="#ad4b44" d="M1033.5,245.3C1034.4,243.7 1036.7,243.8 1038.4,243.7C1040.0,243.5 1042.7,243.1 1043.3,244.5C1043.8,245.8 1042.4,249.5 1041.6,251.8C1040.8,254.1 1039.6,257.0 1038.4,258.4C1037.1,259.7 1035.2,260.8 1034.3,260.0C1033.3,259.2 1032.8,255.9 1032.6,253.5C1032.5,251.0 1032.5,246.9 1033.5,245.3Z"/>
<path fill="#ad4b44" d="M1016.3,254.3C1017.3,253.2 1020.0,253.0 1022.0,253.5C1024.1,253.9 1026.9,255.4 1028.6,256.7C1030.2,258.1 1031.8,260.0 1031.8,261.6C1031.8,263.3 1029.9,265.4 1028.6,266.5C1027.2,267.6 1025.3,268.4 1023.7,268.1C1022.0,267.9 1020.0,266.2 1018.8,264.9C1017.5,263.5 1016.7,261.8 1016.3,260.0C1015.9,258.2 1015.4,255.4 1016.3,254.3Z"/>
<path fill="#ad4b44" d="M871.5,362.4C873.4,355.8 881.9,363.6 886.5,364.9C891.1,366.1 895.2,367.4 899.0,369.9C902.7,372.4 905.6,377.0 909.0,379.9C912.3,382.8 915.6,385.3 919.0,387.4C922.3,389.5 926.0,391.1 929.0,392.4C931.9,393.6 934.4,395.7 936.4,394.9C938.5,394.0 939.4,388.6 941.4,387.4C943.5,386.1 946.4,386.1 948.9,387.4C951.4,388.6 954.3,392.0 956.4,394.9C958.5,397.8 959.8,401.5 961.4,404.9C963.1,408.2 964.3,411.5 966.4,414.9C968.5,418.2 971.4,421.5 973.9,424.8C976.4,428.2 978.9,431.5 981.4,434.8C983.9,438.2 986.4,441.5 988.9,444.8C991.4,448.2 993.9,451.9 996.4,454.8C998.9,457.7 1001.8,459.0 1003.9,462.3C1006.0,465.6 1007.2,470.6 1008.9,474.8L899.0,474.8C897.3,469.0 895.6,462.3 894.0,457.3C892.3,452.3 890.7,449.4 889.0,444.8C887.3,440.3 886.5,434.4 884.0,429.8C881.5,425.3 876.1,419.4 874.0,417.4C873.2,416.6 871.6,418.5 871.5,417.4C871.1,408.2 869.0,371.1 871.5,362.4Z"/>
<path fill="#ad4b44" d="M1013.9,252.5C1014.9,251.2 1018.9,250.4 1021.4,251.2C1023.9,252.1 1027.2,255.2 1028.9,257.5C1030.5,259.8 1031.8,262.9 1031.4,265.0C1030.9,267.1 1028.5,270.0 1026.4,270.0C1024.3,270.0 1020.8,266.9 1018.9,265.0C1017.0,263.1 1016.0,260.8 1015.1,258.7C1014.3,256.7 1012.8,253.7 1013.9,252.5Z"/>
<path fill="#ad4b44" d="M1033.9,242.5C1034.9,240.0 1040.3,240.4 1041.4,242.5C1042.4,244.6 1041.1,252.5 1040.1,255.0C1039.1,257.3 1036.2,259.6 1035.1,257.5C1034.1,255.4 1032.8,245.0 1033.9,242.5Z"/>
<path fill="#ad4b44" d="M1015.1,358.7C1016.4,357.4 1021.0,355.3 1023.9,354.9C1026.8,354.5 1031.6,354.9 1032.6,356.2C1033.7,357.4 1032.0,360.9 1030.1,362.4C1028.2,363.9 1023.7,364.9 1021.4,364.9C1019.1,364.9 1017.4,363.4 1016.4,362.4C1015.3,361.4 1013.9,359.9 1015.1,358.7Z"/>
<path fill="#ad4b44" d="M1120.0,280.0C1121.1,278.3 1124.8,276.6 1126.3,277.5C1127.7,278.3 1129.0,282.5 1128.8,285.0C1128.6,287.5 1126.5,292.0 1125.0,292.5C1123.6,292.9 1120.9,289.5 1120.0,287.5C1119.2,285.4 1119.0,281.6 1120.0,280.0Z"/>
<path fill="#ad4b44" d="M1123.8,454.8C1125.0,453.2 1129.6,452.7 1133.8,452.3C1137.9,451.9 1144.2,452.3 1148.8,452.3C1153.3,452.3 1159.2,450.2 1161.3,452.3C1163.3,454.4 1165.8,462.7 1161.3,464.8C1156.7,466.9 1139.6,465.2 1133.8,464.8C1130.2,464.6 1128.0,464.0 1126.3,462.3C1124.6,460.7 1122.5,456.5 1123.8,454.8Z"/>
<path fill="#ad4b44" d="M1068.8,462.3C1069.9,460.7 1073.4,457.9 1076.3,457.3C1079.2,456.7 1083.4,457.3 1086.3,458.6C1089.2,459.8 1093.4,462.9 1093.8,464.8C1094.2,466.7 1091.7,468.8 1088.8,469.8C1085.9,470.8 1079.5,471.5 1076.3,471.1C1073.2,470.6 1071.3,468.8 1070.1,467.3C1068.8,465.9 1067.8,464.0 1068.8,462.3Z"/>
<path fill="#ad4b44" d="M884.0,427.5C885.3,432.2 887.7,440.7 889.0,445.0C890.3,449.3 892.3,456.3 894.0,460.0C895.6,463.6 899.1,469.1 901.5,472.5C903.8,475.8 908.5,481.6 911.5,485.0C914.5,488.3 920.6,494.1 924.0,497.4C927.3,500.8 933.1,506.9 936.4,509.9C939.8,512.9 945.6,517.6 948.9,519.9C952.3,522.3 958.1,526.1 961.4,527.4C964.8,528.7 970.9,528.9 973.9,529.9C976.9,530.9 981.2,533.6 983.9,534.9C986.6,536.2 991.2,538.6 993.9,539.9C996.6,541.2 1001.6,543.2 1003.9,544.9C1006.2,546.6 1010.1,550.1 1011.4,552.4C1012.7,554.7 1013.7,559.7 1013.9,562.4C1014.0,565.1 1012.0,570.4 1012.6,572.4C1013.3,574.4 1016.7,576.7 1018.9,577.4C1021.0,578.0 1026.5,577.0 1028.9,577.4C1031.2,577.7 1035.0,578.5 1036.4,579.9C1037.7,581.2 1039.2,585.7 1038.9,587.4C1038.5,589.0 1035.9,591.4 1033.9,592.4C1031.9,593.4 1026.2,593.9 1023.9,594.9C1021.5,595.9 1017.5,598.5 1016.4,599.9C1015.2,601.2 1014.5,603.5 1015.1,604.9C1015.8,606.2 1019.2,609.5 1021.4,609.8C1023.5,610.2 1028.7,608.3 1031.4,607.3C1034.0,606.4 1038.7,604.0 1041.4,602.4C1044.0,600.7 1049.0,596.5 1051.3,594.9C1053.7,593.2 1057.3,591.9 1058.8,589.9C1060.3,587.9 1061.6,582.5 1062.6,579.9C1063.6,577.2 1064.8,572.5 1066.3,569.9C1067.8,567.2 1072.2,562.6 1073.8,559.9C1075.5,557.2 1078.5,552.2 1078.8,549.9C1079.2,547.6 1077.7,543.7 1076.3,542.4C1075.0,541.1 1071.2,540.9 1068.8,539.9C1066.5,538.9 1061.5,536.6 1058.8,534.9C1056.2,533.2 1051.2,528.7 1048.9,527.4C1046.5,526.1 1043.0,524.6 1041.4,524.9C1039.7,525.3 1036.9,531.6 1036.4,529.9C1035.9,528.2 1036.9,517.4 1037.6,512.4C1038.3,507.4 1041.4,497.8 1041.4,492.4C1041.4,487.1 1038.3,476.1 1037.6,472.5C1037.0,469.1 1037.5,466.3 1036.4,465.0C1035.2,463.6 1030.9,462.3 1028.9,462.5C1026.9,462.6 1024.0,466.1 1021.4,466.2C1018.7,466.4 1011.9,464.9 1008.9,463.7C1005.9,462.6 1001.2,459.6 998.9,457.5C996.6,455.3 993.4,450.1 991.4,447.5C989.4,444.8 985.9,440.2 983.9,437.5C981.9,434.8 978.4,430.2 976.4,427.5L884.0,427.5Z"/>
<path fill="#ad4b44" d="M1068.8,462.5C1069.3,460.2 1073.4,457.1 1076.3,456.2C1079.2,455.4 1083.4,456.6 1086.3,457.5C1089.2,458.3 1091.9,459.6 1093.8,461.2C1095.7,462.9 1098.0,465.2 1097.6,467.5C1097.1,469.8 1093.6,472.9 1091.3,475.0C1089.0,477.0 1086.3,478.5 1083.8,480.0C1081.3,481.4 1078.2,484.1 1076.3,483.7C1074.5,483.3 1073.0,479.7 1072.6,477.5C1072.2,475.2 1074.5,472.5 1073.8,470.0C1073.2,467.5 1068.4,464.8 1068.8,462.5Z"/>
<path fill="#ad4b44" d="M1121.3,455.0C1122.5,453.1 1127.5,451.6 1131.3,451.2C1135.0,450.8 1138.8,451.9 1143.8,452.5C1148.8,453.1 1158.3,452.9 1161.3,455.0C1164.2,457.1 1165.0,463.3 1161.3,465.0C1157.5,466.6 1144.2,464.6 1138.8,465.0C1134.2,465.3 1131.3,467.9 1128.8,467.5C1126.3,467.1 1125.0,464.6 1123.8,462.5C1122.5,460.4 1120.0,456.9 1121.3,455.0Z"/>
<path fill="#ad4b44" d="M871.5,607.3C873.2,604.9 878.8,605.5 881.5,606.1C884.2,606.7 887.1,609.0 887.7,611.1C888.4,613.2 886.7,616.7 885.2,618.6C883.8,620.5 881.3,621.9 879.0,622.3C876.7,622.8 872.8,623.6 871.5,621.1C870.3,618.6 869.8,609.8 871.5,607.3Z"/>
<path fill="#ad4b44" d="M967.7,709.9C968.9,706.2 971.8,704.1 973.9,702.4C976.0,700.7 978.9,698.7 980.2,699.9C981.4,701.2 981.4,706.2 981.4,709.9C981.4,713.7 981.2,718.6 980.2,722.4C979.1,726.1 976.8,730.3 975.2,732.4C973.6,734.4 971.6,736.1 970.2,734.9C968.7,733.6 966.8,729.1 966.4,724.9C966.0,720.7 966.4,713.7 967.7,709.9Z"/>
<path fill="#ad4b44" d="M1015.1,597.5C1011.4,598.9 1014.9,604.2 1016.4,606.2C1017.8,608.3 1021.0,609.8 1023.9,610.0C1026.8,610.2 1031.4,609.6 1033.9,607.5C1036.4,605.4 1042.0,599.2 1038.9,597.5C1035.7,595.8 1018.9,596.0 1015.1,597.5Z"/>
<path fill="#ad4b44" d="M871.5,605.0C873.2,603.1 879.0,605.2 881.5,606.2C884.0,607.3 886.1,609.4 886.5,611.2C886.9,613.1 886.5,616.4 884.0,617.5C881.5,618.5 873.6,619.6 871.5,617.5C869.4,615.4 869.8,606.9 871.5,605.0Z"/>
<path fill="#f7e777" d="M1007.0,256.4L1009.0,256.4L1009.0,265.2L1007.0,265.2Z"/>
<path fill="#ea8968" d="M973.9,462.5C975.8,459.6 980.6,460.0 983.9,460.0C987.2,460.0 990.6,460.8 993.9,462.5C997.2,464.1 1000.6,467.7 1003.9,470.0C1007.2,472.3 1010.6,474.8 1013.9,476.2C1017.2,477.7 1020.5,478.5 1023.9,478.7C1027.2,478.9 1031.2,478.1 1033.9,477.5C1036.6,476.8 1038.4,474.1 1040.1,475.0C1041.8,475.8 1043.9,479.5 1043.9,482.5C1043.9,485.4 1041.4,489.1 1040.1,492.4C1038.9,495.8 1037.4,499.1 1036.4,502.4C1035.3,505.8 1033.9,509.1 1033.9,512.4C1033.9,515.8 1036.4,519.5 1036.4,522.4C1036.4,525.3 1035.1,527.6 1033.9,529.9C1032.6,532.2 1030.9,535.5 1028.9,536.2C1026.8,536.8 1024.3,534.9 1021.4,533.7C1018.5,532.4 1014.7,529.9 1011.4,528.7C1008.1,527.4 1004.3,527.6 1001.4,526.2C998.5,524.7 996.0,522.2 993.9,519.9C991.8,517.6 990.8,514.5 988.9,512.4C987.0,510.3 984.3,509.5 982.7,507.4C981.0,505.4 980.4,502.9 978.9,499.9C977.5,497.0 975.0,493.7 973.9,489.9C972.9,486.2 972.7,482.0 972.7,477.5C972.7,472.9 972.0,465.4 973.9,462.5Z"/>
<path fill="#ad4b44" d="M966.2,426.0C967.6,426.2 971.7,428.5 974.4,430.1C977.2,431.7 980.2,433.5 982.7,435.6C985.2,437.7 987.9,440.0 989.6,442.5C991.2,445.0 991.2,448.2 992.3,450.7C993.4,453.2 994.8,455.7 996.4,457.6C998.0,459.4 999.6,460.8 1001.9,461.7C1004.2,462.6 1008.6,462.2 1010.2,463.1C1011.8,464.0 1012.0,466.0 1011.5,467.2C1011.1,468.3 1009.0,469.7 1007.4,469.9C1005.8,470.2 1003.7,469.3 1001.9,468.6C1000.1,467.9 998.3,467.0 996.4,465.8C994.6,464.7 992.8,463.1 990.9,461.7C989.1,460.3 987.0,459.2 985.4,457.6C983.8,456.0 982.5,454.1 981.3,452.1C980.2,450.0 979.7,447.5 978.6,445.2C977.4,442.9 975.8,440.4 974.4,438.3C973.1,436.3 971.7,434.5 970.3,432.9C969.0,431.3 966.9,429.9 966.2,428.7C965.6,427.7 965.0,425.8 966.2,426.0Z"/>
<path fill="#ad4b44" d="M1010.2,471.3C1011.1,470.4 1015.6,470.6 1018.4,469.9C1021.1,469.3 1024.1,468.1 1026.6,467.2C1029.2,466.3 1031.4,464.4 1033.5,464.4C1035.6,464.4 1038.1,465.6 1039.0,467.2C1039.9,468.8 1039.9,472.5 1039.0,474.1C1038.1,475.7 1035.6,475.9 1033.5,476.8C1031.4,477.7 1028.9,479.2 1026.6,479.6C1024.3,479.9 1022.1,479.6 1019.8,478.9C1017.5,478.2 1014.5,476.7 1012.9,475.4C1011.3,474.2 1009.2,472.2 1010.2,471.3Z"/>
<path fill="#ad4b44" d="M977.2,497.4C977.4,495.8 978.6,494.9 979.9,494.7C981.3,494.4 984.3,494.9 985.4,496.0C986.6,497.2 986.8,499.7 986.8,501.5C986.8,503.4 986.3,505.9 985.4,507.0C984.5,508.2 982.5,508.9 981.3,508.4C980.2,507.9 979.3,506.1 978.6,504.3C977.9,502.4 977.0,499.0 977.2,497.4Z"/>
<path fill="#ad4b44" d="M1039.0,502.9C1039.9,502.4 1042.9,503.1 1044.5,504.3C1046.1,505.4 1047.5,507.7 1048.6,509.8C1049.8,511.8 1051.4,514.8 1051.4,516.6C1051.4,518.5 1049.8,520.5 1048.6,520.8C1047.5,521.0 1045.6,519.6 1044.5,518.0C1043.3,516.4 1042.7,513.0 1041.7,511.1C1040.8,509.3 1039.5,508.4 1039.0,507.0C1038.5,505.6 1038.1,503.4 1039.0,502.9Z"/>
<path fill="#f7e777" d="M1044.5,469.9C1044.7,469.0 1046.6,468.1 1048.6,467.2C1050.7,466.3 1054.6,464.7 1056.9,464.4C1059.1,464.2 1061.2,464.4 1062.3,465.8C1063.5,467.2 1063.9,470.2 1063.7,472.7C1063.5,475.2 1062.1,479.1 1061.0,480.9C1059.8,482.8 1058.0,483.9 1056.9,483.7C1055.7,483.4 1055.0,480.9 1054.1,479.6C1053.2,478.2 1052.5,476.6 1051.4,475.4C1050.2,474.3 1048.4,473.6 1047.2,472.7C1046.1,471.8 1044.3,470.9 1044.5,469.9Z"/>
<path fill="#ea8968" d="M970.3,432.9C970.9,432.2 973.1,436.3 974.4,438.3C975.8,440.4 977.4,442.9 978.6,445.2C979.7,447.5 980.2,450.0 981.3,452.1C982.5,454.1 983.8,456.0 985.4,457.6C987.0,459.2 989.1,460.3 990.9,461.7C992.8,463.1 994.6,464.7 996.4,465.8C998.3,467.0 1000.1,467.9 1001.9,468.6C1003.7,469.3 1005.8,470.2 1007.4,469.9C1009.0,469.7 1010.6,466.7 1011.5,467.2C1012.4,467.6 1013.6,471.3 1012.9,472.7C1012.2,474.1 1010.2,475.2 1007.4,475.4C1004.7,475.7 1000.1,474.5 996.4,474.1C992.8,473.6 988.6,473.1 985.4,472.7C982.2,472.2 979.4,471.8 977.2,471.3C975.0,470.9 973.2,472.1 972.4,469.9C971.5,467.4 971.9,460.8 971.7,456.2C971.5,451.6 971.2,446.4 971.0,442.5C970.8,438.6 969.8,433.5 970.3,432.9Z"/>
<path fill="#870030" d="M211.1,472.5C212.2,470.4 213.6,469.1 214.9,468.7C216.1,468.3 217.7,468.7 218.6,470.0C219.5,471.2 220.6,474.1 220.4,476.2C220.2,478.3 218.7,481.1 217.4,482.5C216.0,483.8 213.8,484.7 212.4,484.5C210.9,484.2 208.8,483.2 208.6,481.2C208.4,479.2 210.1,474.5 211.1,472.5Z"/>
</g>
<g id="grid" stroke="#b0b0b0" stroke-width="1" stroke-dasharray="1.6,8.4" fill="none">
<line x1="116.5" y1="73.6" x2="116.5" y2="794.5"/><line x1="237.5" y1="73.6" x2="237.5" y2="794.5"/><line x1="358.5" y1="73.6" x2="358.5" y2="794.5"/><line x1="480.5" y1="73.6" x2="480.5" y2="794.5"/><line x1="602.5" y1="73.6" x2="602.5" y2="794.5"/><line x1="723.5" y1="73.6" x2="723.5" y2="794.5"/><line x1="844.5" y1="73.6" x2="844.5" y2="794.5"/><line x1="966.5" y1="73.6" x2="966.5" y2="794.5"/><line x1="1088.5" y1="73.6" x2="1088.5" y2="794.5"/><line x1="64.0" y1="722.5" x2="1148.5" y2="722.5"/><line x1="64.0" y1="649.5" x2="1148.5" y2="649.5"/><line x1="64.0" y1="576.5" x2="1148.5" y2="576.5"/><line x1="64.0" y1="503.5" x2="1148.5" y2="503.5"/><line x1="64.0" y1="430.5" x2="1148.5" y2="430.5"/><line x1="64.0" y1="357.5" x2="1148.5" y2="357.5"/><line x1="64.0" y1="284.5" x2="1148.5" y2="284.5"/><line x1="64.0" y1="211.5" x2="1148.5" y2="211.5"/><line x1="64.0" y1="138.5" x2="1148.5" y2="138.5"/>
</g>
<g id="coast" stroke="#000" stroke-width="1" fill="none" stroke-linejoin="round" stroke-linecap="round" shape-rendering="crispEdges">
<path d="M236.4,75.1L239.0,75.0L241.5,74.4L243.8,74.4L245.7,75.4L247.7,76.3L249.8,75.5L252.0,75.8L254.0,75.1L254.9,73.6L255.3,71.9L254.4,70.3L252.8,69.4L254.4,67.9L256.5,67.5L259.0,66.9L261.6,66.5L264.2,66.5L266.6,67.8L268.3,66.6L270.4,66.3L272.9,66.4L275.4,66.5L277.4,65.7L279.5,65.7L281.7,66.0L283.7,66.5L285.8,66.7L287.9,66.9L290.1,67.8L291.7,69.4L292.1,71.0L292.7,72.6L291.2,73.5L290.5,75.1L289.0,77.1L286.7,77.8L284.4,77.9L282.3,78.8L282.6,81.4L283.5,83.9L284.4,85.5L285.3,87.0L285.4,88.9L285.1,91.5L286.1,93.9L285.7,95.7L285.4,97.5L284.2,98.9L283.4,101.4L281.7,103.3L280.4,104.6L277.8,104.4L275.4,105.2L272.8,105.7L270.4,106.5L268.5,106.7L266.9,107.4L265.3,108.4L263.6,108.9L261.7,109.0L260.3,110.3L258.7,111.0L256.9,111.4L255.3,112.1L253.4,112.3L251.9,113.2L250.3,114.0L247.6,114.1L245.2,115.3L242.7,115.5L240.2,115.9L238.4,115.0L236.4,114.6L234.2,114.0L232.7,112.1L231.3,110.9L230.3,109.4L229.5,107.7L231.5,106.2L233.9,105.9L235.6,104.6L237.7,104.0L238.5,102.3L240.2,101.5L241.2,99.4L242.7,97.7L244.1,95.9L245.2,93.9L243.2,92.8L241.5,91.4L239.5,90.6L237.7,89.5L236.1,88.6L235.2,87.0L234.2,85.6L233.9,83.9L235.2,82.5L235.2,80.7L235.1,79.1L234.5,77.6L235.6,76.4L236.4,75.1M260.3,71.3L262.5,72.5L264.1,74.4L265.6,75.4L267.6,75.2L269.1,76.3L270.9,74.6L272.9,73.2L275.4,74.4L276.8,76.6L279.1,77.6L280.6,78.4L282.3,78.8M278.5,70.7L280.4,68.8L282.9,69.4L281.7,71.9L279.1,72.3L278.5,70.7M300.5,77.6L301.8,76.1L303.0,74.4L305.5,73.2L304.9,75.7L303.4,77.0L302.4,78.6L300.5,77.6M242.7,97.7L245.2,98.5L247.7,98.3L250.0,98.4L252.1,97.7M315.6,65.7L315.7,67.9L314.9,70.1L316.8,71.5L317.5,73.8L319.2,74.5L320.6,75.7L322.2,75.7L323.7,76.3L324.4,78.8L322.5,80.7L322.6,82.7L321.9,84.5L322.3,86.2L323.7,87.0L325.6,88.9L323.9,88.7L322.5,89.5L320.8,89.4L319.3,88.6L317.4,88.7L315.6,89.1L313.7,89.7L311.8,89.9L310.0,89.1L308.0,89.5L306.2,87.9L303.6,88.6L303.3,90.8L306.2,91.4L306.8,92.7L308.1,93.6L309.3,94.5L310.3,96.0L310.6,97.7L310.3,99.7L309.3,101.5L308.0,102.6L306.8,104.0L305.1,105.2L303.0,105.9L300.8,106.7L298.6,107.7L296.7,108.2L295.5,109.6L294.2,111.5L296.7,112.8L298.6,112.3L300.5,112.1L302.5,112.0L304.3,112.8L305.9,114.2L308.0,114.3L309.9,114.8L311.8,115.3L314.0,115.7L315.6,117.2L317.6,116.8L319.3,117.8L320.7,116.6L322.5,116.5L324.2,115.4L325.6,114.0L327.8,113.1L329.4,111.5L328.2,112.8L327.3,114.5L325.6,115.3L323.9,117.0L321.9,118.4L319.3,118.0L316.8,119.0L314.3,119.3L311.8,119.7L309.6,120.0L308.0,121.6L306.4,122.4L305.5,124.1L304.8,126.1L303.0,127.2L300.9,128.5L299.2,130.4L297.2,131.7L295.5,133.5L293.6,134.4L291.7,135.4L289.8,136.6L291.3,136.0L293.0,136.0L295.5,137.3L297.5,136.2L299.2,134.7L300.9,133.3L303.0,132.9L304.9,132.1L306.8,131.6L308.7,131.9L310.6,132.2L312.3,133.2L314.3,132.9L316.0,132.0L316.8,130.4L318.6,129.1L320.6,128.5L322.5,127.8L324.4,127.2L326.3,127.0L328.1,127.8L329.9,128.8L331.9,128.5L334.0,128.4L335.7,127.2L338.0,126.4M296.7,65.7L298.2,66.4L299.2,67.5L301.8,66.3L300.5,65.0M335.1,141.7L336.5,142.0L338.0,142.2M338.0,144.0L337.8,146.0L337.6,147.9L338.0,148.5M338.0,156.8L336.4,157.0L334.8,157.2L333.2,157.4L331.6,156.5L329.9,156.0L328.1,155.5L325.7,155.0L323.7,153.6L322.1,153.5L320.6,154.2L318.1,154.5L315.6,154.8L313.0,155.1L310.6,156.1L308.0,156.7L305.5,157.4L303.9,158.7L301.8,158.6L300.5,160.5L303.0,161.8L304.9,161.8L306.8,162.4L306.0,164.2L304.3,164.9L305.1,166.4L306.8,166.8L309.2,168.0L311.8,168.0L313.5,169.4L315.6,169.9L317.6,170.6L319.3,171.8L322.0,171.8L324.4,173.1L326.1,174.1L328.1,173.9M328.0,173.9L328.9,176.3L331.4,177.5L332.3,179.9L333.9,181.5L336.1,182.8L337.3,184.9L338.0,186.0M338.0,233.3L336.0,232.8L333.9,232.7L331.8,233.5L329.8,232.9L327.3,232.7L324.8,232.4L322.2,232.6L319.8,231.5L317.3,231.9L314.8,232.1L312.3,232.5L309.8,232.1L307.3,231.9L304.8,232.4L302.2,232.5L299.8,232.1L297.4,230.9L294.8,231.1L292.3,231.1L289.8,231.1L287.3,230.9L284.8,231.4L282.3,231.1L279.8,230.6L277.3,230.5L274.8,229.8L272.3,230.1L269.8,229.4L267.3,229.5L264.8,229.5L262.3,228.6L260.6,229.3L259.2,230.6L257.3,231.1L255.4,231.4L253.8,232.3L252.3,233.6L251.1,235.5L249.3,236.7L247.3,237.8L246.7,239.7L246.9,241.8L246.1,243.6L247.4,245.0L247.2,247.2L248.6,248.6L247.9,251.1L247.3,253.6L248.6,254.8L249.5,256.4L251.1,257.3L251.5,259.2L253.2,260.5L253.6,262.3L254.0,264.2L253.2,266.0M251.1,257.3L253.1,256.6L255.2,256.1L257.3,255.6L259.8,255.7L262.3,256.3L264.8,256.1L267.4,255.9L269.9,256.0L272.3,254.8L274.4,254.9L276.1,255.9L278.0,256.5L279.8,257.3L280.7,259.0L282.6,259.6L283.6,261.1L283.3,262.9L282.3,264.4L281.6,266.0M253.0,266.0L253.4,268.9L252.9,271.4L252.1,273.9L251.8,276.5L250.9,278.9L250.6,281.5L249.6,283.9L248.4,285.4L248.4,287.3L247.7,289.0L246.0,290.9L245.2,293.4L244.5,295.5L244.0,297.8L244.3,300.1L243.3,302.2L244.8,303.2L246.5,302.8L247.8,301.8L248.4,300.3L248.7,302.0L250.3,302.8L248.8,303.7L248.4,305.3L250.1,306.4L252.1,306.6L252.3,309.1L251.5,311.6L251.2,314.1L250.9,316.6L251.3,319.1L250.9,321.6L250.4,324.2L249.6,326.7L251.4,325.6L253.4,325.6L255.3,325.4L257.6,326.7L260.3,326.7L262.8,327.9L264.3,326.6L266.4,326.2L267.8,324.8L269.9,324.5L272.0,324.2L274.1,324.1L275.6,326.0L277.9,326.7L278.5,329.0L280.4,330.4L281.6,332.7L282.9,334.8L283.9,336.9L285.4,338.6L287.6,339.8L289.2,341.7L291.2,342.1L293.0,343.0L294.8,341.5L295.5,339.2L297.4,337.7L299.2,336.1L301.0,335.1L302.8,334.3L304.3,332.9L306.2,331.9L308.5,332.2L310.6,331.7L313.1,331.5L315.6,331.8L318.1,331.1L320.2,330.8L322.2,332.2L324.4,331.7L326.7,330.4L329.4,330.4L331.4,330.3L333.2,331.1L334.5,329.6L335.7,327.9L337.1,326.3L338.0,324.4M278.2,266.0L277.3,267.0L276.7,268.8L275.4,270.1L276.3,272.6L276.0,275.2L275.1,277.3L275.4,279.5L274.8,281.3L273.5,282.7L273.7,285.2L274.1,287.7L272.0,288.0L270.0,288.7L267.8,289.0L269.0,290.9L270.4,292.7L271.4,294.4L271.9,296.4L273.5,297.8L273.6,299.7L272.9,301.5L271.0,303.2L269.7,305.3L271.0,307.0L271.6,309.1L273.2,309.6L274.7,310.3L273.3,311.7L272.2,313.5L271.2,314.9L269.7,316.0L269.4,318.3L268.5,320.4L267.8,322.5L267.8,324.8M287.9,343.8L286.7,345.1L286.4,347.4L285.1,349.3L284.2,351.4L282.8,353.0L282.2,354.9L282.9,357.2L281.7,358.9L281.2,361.1L280.3,363.2L279.1,365.2L277.4,366.5L276.2,368.2L275.4,370.2L273.4,371.0L272.1,372.9L270.4,374.0L268.5,375.5L265.9,375.6L264.1,377.1L262.3,377.7L260.6,378.6L259.0,379.6L256.8,379.9L255.3,381.5L253.9,382.6L253.3,384.5L251.5,385.3L249.6,386.9L248.4,389.0L247.7,391.1L246.5,392.8L245.9,395.3L245.9,397.8L244.4,399.2L244.7,401.4L243.3,402.9L243.0,404.8L242.2,406.5L240.8,407.9L240.1,410.4L239.6,412.9L239.6,415.5L238.9,417.9L239.4,420.5L240.2,423.0L239.6,425.4L239.6,428.0L238.9,430.3L237.3,432.1L236.4,434.3L235.7,436.1L234.4,437.6L233.3,439.3L232.9,440.0M287.9,343.8L290.5,344.1L293.0,343.2L293.1,345.0L294.2,346.3L296.0,347.9L296.7,350.1L298.7,351.3L300.5,352.6L303.1,352.9L305.5,353.9L307.9,352.5L310.6,352.6L313.0,353.3L315.6,353.2L317.3,352.8L318.8,351.7L320.6,351.4L322.3,352.9L324.4,353.9L326.9,354.6L329.4,355.1L331.3,354.7L333.2,354.5L335.3,352.9L338.0,352.7M335.1,355.1L336.3,357.0L335.8,359.5L336.9,361.4L336.7,363.3L337.6,365.0L338.0,366.7M338.0,398.5L335.6,398.0L333.2,398.5L331.1,398.5L329.0,399.2L326.9,398.8L324.9,399.9L322.8,400.1L320.6,400.4L318.7,400.7L317.1,401.6L315.6,402.9L313.7,403.7L312.4,405.4L312.2,408.0L313.1,410.4L314.1,412.1L314.3,414.2L312.6,415.7L310.6,416.7L308.9,417.9L306.8,417.9L304.7,418.8L303.0,420.5L301.0,421.0L299.7,422.7L298.0,423.6L296.0,425.0L294.2,426.7L292.6,428.4L290.5,429.2L288.6,429.3L286.9,430.0L285.4,431.1L282.7,431.1L280.4,432.4L278.9,433.0L277.9,434.3L275.7,435.1L274.1,436.8L272.8,438.3L270.6,438.1L269.1,439.3L267.7,440.0M241.1,424.8L240.4,426.8L238.6,428.3L237.9,430.3L237.3,432.3L235.7,433.6L234.5,435.2L233.9,437.2L232.3,438.6L231.2,440.0M151.2,387.4L152.9,388.4L154.9,388.6L153.7,391.1L151.6,391.1L149.9,389.9L151.2,387.4M190.6,443.6L192.5,442.9L193.7,441.2L195.8,442.4L194.6,443.7L194.4,445.4L193.1,446.4L191.5,446.7L191.5,445.1L190.6,443.6M187.5,450.5L189.0,449.1L190.6,447.8L190.9,450.0L190.6,452.2L189.0,454.0L188.0,456.2L187.0,457.6L185.5,458.4L183.8,459.0L182.4,458.1L183.4,456.4L185.1,455.3L185.8,453.9L186.8,452.7L187.5,450.5M166.7,459.1L167.4,457.1L169.4,456.3L171.4,457.3L171.9,459.3L170.7,461.3L168.7,462.1L167.2,461.1L166.7,459.1M153.7,453.6L156.0,453.2L158.1,452.6L159.9,451.1L162.4,452.3L161.4,454.2L159.7,455.5L158.7,457.3L156.8,458.1L154.9,458.6L155.0,455.9L153.7,453.6M148.2,457.3L149.4,456.1L150.7,457.3L149.4,458.8L148.2,457.3M141.2,446.8L142.1,448.1L143.2,449.3L142.2,450.7L142.4,452.3L140.7,450.3L140.4,448.5L141.2,446.8M232.3,440.0L230.2,441.2L229.4,443.7L227.4,445.0L225.0,445.6L223.5,447.8L221.7,449.2L219.4,450.1L217.4,451.2L215.2,452.2L213.5,454.0L211.3,454.8L209.4,456.2L207.4,457.5L205.9,459.2L204.2,460.5L202.9,462.4L201.1,463.7L199.6,465.3L199.2,467.7L196.9,468.6L196.1,470.7L194.9,472.5L193.1,474.3L191.6,476.2L190.2,478.3L189.0,480.6L187.4,482.5L186.7,484.9L184.7,486.5L183.9,488.8L182.6,490.9L180.7,492.6L179.9,494.9L178.4,497.0L177.7,499.6L176.4,501.8L175.0,504.0L173.6,506.2L172.8,508.2L171.9,510.3L171.2,512.4L169.8,514.2L168.7,516.2L167.1,517.9L166.4,520.1L165.1,521.9L164.5,524.1L163.7,526.2L162.9,528.3L161.6,530.1L161.3,532.5L159.9,534.3L158.7,536.2L157.8,538.4L156.7,540.5L155.6,542.6L154.9,544.9L154.3,547.4L153.8,549.9L153.5,552.5L152.4,554.9L151.8,557.4L151.2,559.9L151.4,562.2L152.4,564.2L153.7,566.1L155.1,568.1L156.1,570.3L156.5,572.7L157.4,574.9L157.8,576.8L158.9,578.5L158.8,580.6L159.9,582.4L160.0,584.5L160.5,586.6L161.2,588.6L162.2,590.7L162.8,592.9L163.7,595.0L163.7,597.4L164.3,599.8L164.3,602.3L164.1,604.9L164.9,607.3L165.2,609.9L164.4,612.4L163.8,614.8L163.7,617.3L163.5,619.9L162.1,622.3L161.8,624.8L161.2,627.3L160.9,628.0M201.1,463.2L253.6,463.2M253.6,445.0L253.6,488.0L212.4,488.0L212.4,524.9L211.0,526.5L209.1,527.2L208.1,529.2L206.1,529.9L204.3,531.2L202.7,532.8L201.9,535.0L199.9,536.2L200.0,538.7L200.4,541.2L199.2,543.7L199.8,546.2L200.6,548.6L200.3,551.1L199.4,553.6L199.9,556.1L152.4,556.1M253.6,445.0L255.3,443.7L257.3,442.9L259.0,441.5L260.6,440.0M253.6,468.7L338.0,531.7M298.5,502.9L296.0,502.2L293.5,502.8L291.0,502.3L288.6,502.4L286.1,502.8L283.6,502.6L281.1,502.9L278.6,502.9L283.6,554.9L288.6,604.9L293.2,628.0M161.2,627.3L163.4,627.0L165.3,625.7L167.4,624.8L170.0,625.0L172.5,624.4L174.9,623.6L176.8,624.2L178.8,624.5L180.6,625.1L182.4,626.1L184.2,627.2L186.2,628.0M57.0,621.8L58.6,623.0L60.5,623.3L62.2,623.1L64.0,622.8L65.0,625.3M80.0,631.1L82.0,629.8L83.2,632.3L81.2,634.3L80.8,632.6L80.0,631.1M70.0,646.1L72.5,644.8L73.4,646.6L73.7,648.6L72.8,650.0L71.2,650.3L70.3,648.3L70.0,646.1M59.5,648.8L61.5,648.3L62.0,650.8L60.0,651.3L59.5,648.8M158.5,628.0L158.3,630.3L157.4,632.5L156.9,634.6L155.9,636.4L155.7,638.7L154.8,640.6L153.7,642.5L152.2,644.2L150.9,646.0L150.5,648.4L148.7,650.0L147.5,651.5L146.2,653.0L148.7,653.4L151.2,653.7L152.5,655.3L154.0,656.8L154.9,658.7L155.4,660.8L155.2,663.0L156.2,664.9L155.6,667.0L155.0,669.1L154.9,671.2L155.7,673.4L157.4,674.9L156.2,676.4L155.9,678.3L154.9,679.9L156.4,681.3L156.8,683.2L157.4,684.9L158.4,686.4L159.5,687.8L161.2,688.7L161.9,690.7L163.8,691.9L164.9,693.7L163.7,695.2L163.2,697.0L162.4,698.7L163.5,700.0L165.2,700.9L166.2,702.4L168.4,702.9L170.4,704.0L172.4,704.9L174.1,705.7L175.1,707.2L176.1,708.7L177.2,710.5L178.8,711.9L179.9,713.7L181.5,715.0L182.4,717.0L183.6,718.6L185.7,719.9L186.8,722.1L188.6,723.6L190.5,724.9L191.3,726.9L192.4,728.6L193.5,730.8L195.5,732.4L196.1,734.9L196.8,737.0L198.3,738.8L198.6,741.1L198.7,743.2L199.3,745.3L198.6,747.4L200.0,748.9L201.5,750.4L202.4,752.4L204.2,753.9L205.4,756.0L207.4,757.4L209.3,758.5L210.9,760.2L212.7,761.5L214.9,762.4L216.7,763.7L218.4,765.0L220.1,766.5L221.1,768.6L222.6,770.2L223.7,772.3L226.0,773.1L227.4,774.9L228.8,776.6L230.2,778.3L231.9,779.7L233.6,781.1L234.9,782.9L236.2,784.7L238.6,785.5L239.8,787.3L241.9,788.6L243.4,790.5L244.9,792.2L246.1,794.3M154.9,669.9L157.4,669.9L159.9,669.4L162.4,668.6L164.9,668.7L167.5,668.4L170.0,667.8L172.3,666.3L174.9,666.2L177.4,666.8L179.8,667.4L182.4,667.4L184.4,667.5L186.0,669.1L187.8,670.0L189.9,669.9L191.1,671.6L191.1,673.7L189.2,674.8L187.0,674.8L184.9,674.9L182.5,674.0L180.1,672.9L177.4,672.9L174.9,673.3L172.4,673.0L169.9,674.1L167.4,673.7L164.9,673.7L162.4,674.1L160.0,675.2L157.4,674.9L156.5,673.4L154.9,672.4M157.4,684.9L160.0,685.1L162.4,684.5L164.8,683.4L167.4,683.7L169.9,684.4L172.4,684.1L174.9,683.4L177.4,683.6L179.9,683.7L182.4,683.5L184.9,683.7L187.4,683.4L189.9,684.2L192.4,683.7L191.5,685.7L192.1,688.0L191.1,689.9L190.0,691.9L190.1,694.0L189.9,696.2L187.9,697.0L186.4,698.4L184.9,699.9L183.7,701.5L182.1,702.8L180.6,704.2L179.9,706.2L178.9,708.2L177.4,709.9M185.5,628.0L187.1,629.9L189.2,631.0L191.1,632.5L192.4,634.0L193.7,635.5L194.6,637.4L196.1,638.7L197.7,640.2L198.2,642.4L199.9,643.7L201.2,645.4L203.6,645.7L204.9,647.5L205.7,649.1L207.6,649.7L208.6,651.2L210.5,649.9L212.4,648.7L213.8,646.7L214.7,644.5L216.1,642.5L217.8,641.2L219.9,641.2L221.2,642.9L223.5,643.3L224.9,645.0L227.2,643.9L229.9,643.7L231.9,643.5L233.5,642.2L235.7,642.4L237.3,641.2L239.3,640.9L241.0,639.6L242.7,638.6L244.8,638.7L246.1,641.2M293.5,628.0L292.6,630.1L293.7,632.5L292.6,634.6L292.7,636.8L292.1,639.0L292.3,641.2L246.1,641.2M209.9,651.2L210.2,653.5L210.9,655.6L211.8,657.8L212.4,659.9L212.7,662.1L214.4,663.7L215.0,665.8L215.1,668.0L216.1,669.9L217.3,671.7L217.9,673.7L219.0,675.5L219.9,677.4L220.1,679.6L220.6,681.8L220.4,684.0L221.1,686.2M192.4,683.7L194.9,683.7L197.3,684.5L199.9,684.1L202.4,684.3L204.9,684.9L207.2,684.5L209.5,684.8L211.9,684.9L214.1,685.7L216.4,686.2L218.8,685.5L221.1,686.2L222.9,687.1L224.2,688.7L225.6,690.2L227.4,691.2L229.9,691.9L232.3,691.2L234.8,691.2L236.6,689.9L238.3,688.8L240.3,688.0L242.3,687.4L244.3,686.6L246.4,686.1L248.6,686.2L249.9,687.8L249.8,689.9L250.8,691.7L251.1,693.7L251.7,696.1L253.5,697.9L254.8,699.9L255.0,702.5L256.2,704.8L256.1,707.4L256.5,709.5L258.0,711.1L258.4,713.3L259.8,714.9L260.3,717.4L261.1,719.9M261.1,719.9L262.6,718.6L264.1,717.3L265.5,715.8L267.3,714.9L269.6,714.5L271.6,716.2L273.9,715.8L276.1,716.2L278.0,715.3L279.3,713.5L281.1,712.4L282.5,713.8L282.5,715.8L283.6,717.4L285.6,716.4L287.9,716.3L290.1,716.6L292.3,716.2L292.4,714.0L293.9,712.1L293.5,709.9L293.3,707.3L294.6,705.0L294.6,702.4L294.8,699.9L296.4,698.1L296.9,695.5L298.5,693.7L300.1,692.1L301.6,690.5L303.2,688.9L304.8,687.4L305.6,685.3L306.1,683.2L305.4,680.8L306.0,678.7L307.7,677.6L309.3,676.3L310.9,675.2L312.3,673.7L314.5,673.4L315.8,671.4L317.7,670.5L319.8,669.9L321.2,668.2L321.8,665.9L323.1,664.0L324.8,662.4L326.4,660.9L328.2,659.9L330.4,659.6L332.3,658.7L334.2,657.9L335.9,656.5L338.0,655.8M261.1,719.9L261.8,722.3L261.4,724.9L261.7,727.4L262.3,729.9L263.0,732.4L263.3,735.0L263.6,737.5L264.8,739.9L263.8,741.6L263.4,743.6L262.7,745.4L262.3,747.4L260.2,748.6L259.1,750.8L257.3,752.4L256.4,754.4L255.5,756.5L254.8,758.6L252.3,759.9L249.8,759.3L247.3,759.9L246.8,757.8L244.9,756.4L244.1,754.5L243.6,752.4L242.9,749.9L243.1,747.3L242.3,744.9L240.5,744.2L238.5,743.9L236.5,743.5L234.8,742.4L233.1,743.0L231.4,743.8L229.9,744.9M198.6,741.1L200.0,739.1L200.1,736.6L200.9,734.4L201.0,731.9L202.4,729.9L203.1,727.9L204.8,726.7L205.9,725.0L207.4,723.6L209.8,722.8L212.3,722.2L215.0,723.0L217.4,721.9L219.7,723.0L222.3,723.2L224.9,723.6L225.2,726.1L226.0,728.3L227.4,730.3L228.6,732.4L229.6,734.2L230.5,735.9L230.1,738.1L231.1,739.9L230.5,742.4L229.9,744.9L229.0,746.7L228.0,748.4L228.4,750.6L227.4,752.4L226.0,754.2L224.7,756.0L223.6,758.0L222.4,759.9L221.1,762.0L219.2,763.4L217.4,764.9M252.3,759.9L253.3,761.8L253.6,764.0L254.1,766.0L255.6,767.8L256.1,769.9L257.5,771.3L259.4,772.1L260.3,774.1L262.3,774.9L263.2,777.0L264.8,778.6L266.1,780.4L267.3,782.3L267.8,784.7L268.1,787.1L267.4,789.6L268.5,791.9L268.6,794.3M338.0,707.1L335.6,707.1L333.2,706.5L330.8,707.0L328.3,707.2L325.9,707.5L323.5,707.4L324.2,709.9L324.1,712.4L323.7,714.9L324.0,717.4L324.0,719.9L325.0,722.4L324.8,724.9L324.9,727.4L324.5,729.9L325.5,732.4L325.3,734.9L326.4,737.3L326.0,739.9L324.7,742.2L324.6,744.8L324.5,747.5L324.0,750.0L322.8,752.4L322.3,754.9L321.8,757.4L322.0,760.0L320.3,762.2L320.0,764.8L320.2,767.4L319.8,769.9L321.0,772.2L320.5,775.0L321.7,777.3L322.0,779.9L322.9,782.3L323.5,784.8L324.5,787.1L324.3,789.7L324.7,792.1L326.0,794.3M292.3,716.2L294.1,717.4L295.2,719.2L296.9,720.5L297.8,722.6L299.8,723.6L301.5,724.5L302.9,725.8L304.8,726.1L307.4,726.0L309.7,724.6L312.4,724.7L314.8,723.6L317.1,723.3L319.6,723.9L321.9,723.1L324.3,722.9M488.4,71.8L489.9,72.5L491.2,74.5L493.4,75.6L494.9,77.5L497.4,77.6L499.8,78.4L502.4,78.7L504.6,78.5L506.1,76.8L507.7,75.5L509.8,75.0L511.7,74.1L513.5,72.9L515.5,72.2L517.3,71.2L519.9,70.7L522.3,70.0L524.0,71.6L525.9,73.1L527.3,75.0L529.3,76.3L530.5,78.5L532.3,80.0L534.9,79.5L537.3,78.7L539.3,77.7L541.6,77.9L543.4,76.2L545.8,76.6L547.8,75.9L549.8,75.0L552.0,74.8L553.9,73.6L556.1,73.3L558.3,73.0L560.4,72.6L562.3,71.2L564.8,70.7L567.2,69.6L569.8,69.7L572.3,69.4L574.8,68.7L577.4,69.0L579.9,68.7L582.3,67.7L584.8,67.5L586.6,68.2L588.6,68.7L590.3,69.7L592.3,70.0L594.8,70.3L597.2,71.1L599.8,71.2L601.2,69.9L603.1,69.5L604.8,68.7L602.4,67.7L599.7,68.4L597.3,67.5L594.8,67.5L592.3,67.0L589.8,66.3L587.3,66.0L584.8,66.2M437.4,182.4L436.0,184.0L435.7,186.2L434.8,188.1L433.7,189.9L435.7,190.6L437.7,191.1L439.9,191.1L440.7,193.1L443.0,194.1L443.7,196.1L445.8,195.5L448.0,196.3L450.2,196.8L452.4,196.1L454.6,195.9L456.3,194.6L458.0,193.2L459.9,192.4L462.1,192.2L464.0,193.4L466.1,193.6L466.9,195.8L468.6,197.4L469.8,195.3L471.4,193.4L472.4,191.1L475.0,191.3L477.3,189.6L479.9,189.9L481.1,188.4L481.3,186.4L482.4,184.9L481.4,183.6L480.5,182.4M487.4,177.4L488.9,176.9L490.5,176.5L492.0,176.0L493.6,175.5L495.2,175.1L496.7,174.6L498.3,174.1L499.9,173.7L502.3,173.2L504.8,172.5L507.4,172.8L509.8,172.4L512.3,172.9L514.8,173.7L517.3,173.7L516.2,171.6L515.5,169.5L516.0,166.9L514.8,164.9L516.8,163.5L518.3,161.5L520.9,160.7L522.3,158.7M522.3,158.7L520.4,157.3L519.3,155.2L517.6,153.7L516.1,151.9L514.8,149.9L513.0,148.5L512.7,145.9L511.6,144.0L509.8,142.4L509.2,140.1L507.5,138.3L507.0,135.9L506.1,133.7L508.2,132.8L510.5,132.6L512.7,132.0L514.8,131.2L516.9,130.3L518.9,129.2L521.3,129.2L523.0,127.4L525.2,126.9L527.3,126.2L529.8,125.7L532.3,124.8L534.8,124.8L537.3,124.3L539.8,123.7M539.8,123.7L540.2,121.1L538.9,118.7L539.6,116.1L538.6,113.7L538.2,111.1L537.0,108.8L536.8,106.2L536.1,103.7L535.6,101.6L534.9,99.6L533.2,98.0L533.2,95.7L532.3,93.7L532.6,91.5L533.6,89.4L532.9,87.1L533.6,85.0L532.7,83.0L531.2,81.6L529.8,80.0M539.8,123.7L541.9,124.2L543.7,125.4L545.8,126.1L547.7,126.9L549.8,127.4L551.5,128.7L553.5,129.5L555.2,130.7L557.3,131.2L559.1,132.0L560.9,133.0L562.9,133.3L564.8,133.7L566.8,133.0L568.9,132.8L571.0,132.4L572.6,134.2L574.1,136.0L576.0,137.4L578.1,138.2L579.7,139.7L581.1,141.5L583.3,142.0L584.8,143.7M522.3,158.7L524.7,157.5L527.3,157.5L530.0,157.5L532.3,156.2L534.8,155.6L537.5,155.5L539.9,154.8L542.3,153.7L544.9,153.6L547.3,154.8L549.8,154.6L552.3,154.9L554.8,155.7L557.3,155.9L559.8,155.6L562.3,156.2L564.5,156.9L566.0,158.7M566.0,158.7L567.9,156.9L568.1,154.2L569.8,152.4L572.1,151.8L573.8,150.4L575.6,149.0L577.3,147.4L579.5,147.1L581.4,146.2L583.1,145.0L584.8,143.7M584.8,143.7L586.7,144.1L588.4,145.3L590.6,144.9L592.3,146.2L594.8,145.8L597.3,145.3L599.8,144.9L601.5,146.1L603.4,147.0L605.3,147.9L607.3,148.7L609.3,148.5L611.3,148.0L613.0,146.8M566.0,158.7L567.0,160.6L567.3,162.8L567.3,164.9L567.1,166.9L565.1,168.0L564.8,169.9M564.8,169.9L567.0,169.4L569.3,169.3L571.2,167.6L573.5,167.4L575.5,166.2L578.0,166.6L580.3,166.1L582.3,164.9L584.7,164.0L587.2,163.5L589.6,162.5L592.3,162.4L594.5,162.3L596.2,160.6L598.3,160.2L600.1,158.8L602.3,158.7L604.8,158.9L607.2,157.5L609.8,157.7L612.3,157.4L613.0,157.3M564.8,169.9L563.3,171.6L562.0,173.5L560.5,175.2L559.8,177.4L559.5,179.9L558.6,182.3L558.6,184.9L557.7,186.9L556.2,188.3L554.8,189.9M482.4,184.9L484.7,183.7L487.4,183.6L489.8,182.9L492.4,182.4L494.9,182.8L497.3,181.2L499.8,181.5L502.3,181.3L504.9,181.1L506.5,182.8L508.6,183.6L511.1,183.6L512.7,185.4L514.8,186.1L517.3,186.8L519.7,188.1L522.4,187.8L524.8,188.6L527.3,188.5L529.8,188.2L532.3,188.1L534.8,189.2L537.3,188.6L539.8,188.3L542.3,188.3L544.8,187.9L547.3,187.4L549.1,188.2L551.3,188.0L552.8,189.7L554.8,189.9M554.8,189.9L553.6,191.1L552.3,192.4M524.8,192.4L524.8,190.5L524.8,188.6M554.8,189.9L556.1,190.9L557.3,192.0M609.8,192.4L610.8,191.3L611.9,190.2L613.0,189.1M443.7,196.1L443.2,198.4L442.5,200.5L441.2,202.4L441.7,204.3L443.0,205.9L442.7,208.1L443.7,209.9L443.7,212.0L443.2,214.1L442.4,216.1L443.2,218.5L445.1,220.1L446.2,222.4L448.4,222.7L450.1,224.6L452.4,224.9L454.3,226.3L454.9,228.6M340.0,234.9L341.7,236.3L344.2,236.4L346.2,237.4L348.2,238.5L350.0,239.8L352.6,239.9L354.9,241.1L357.6,240.6L360.1,241.1L362.5,242.3L364.9,243.3L367.5,243.0L370.0,243.6L372.6,243.9L375.0,244.8L377.6,244.7L379.9,246.2L382.4,246.4L384.9,247.2L387.5,247.3L389.6,247.6L391.8,248.4L394.0,248.3L396.2,248.6L397.4,250.3L397.4,252.3M387.5,266.0L389.1,264.5L391.1,263.4L391.7,260.9L393.7,259.8L395.0,258.1L396.1,256.3L396.5,254.2L397.4,252.3L397.0,249.8L397.3,247.2L396.2,244.8L396.2,242.8L397.4,241.1L397.9,239.2L398.7,237.3L400.7,236.7L402.4,235.5L404.6,235.1L406.2,233.6L408.3,232.7L410.5,232.4L412.8,232.8L414.9,232.4L417.6,232.3L420.0,233.3L422.4,234.4L424.9,234.9L426.9,235.7L429.0,236.1L430.7,237.8L432.9,237.9L434.9,238.6L436.8,237.6L438.7,236.9L440.3,235.3L442.4,234.9L444.4,233.9L446.4,232.8L448.2,231.3L449.9,229.9L452.5,229.6L454.9,228.6L456.8,227.2L457.9,225.0L459.9,223.6L461.9,222.3L463.8,220.8L466.1,219.9L468.4,220.3L470.5,221.0L472.7,221.6L474.9,222.4L475.9,223.4L477.0,224.5L478.1,225.6L479.2,226.6L480.2,227.7L481.3,228.8L482.4,229.9M338.0,187.5L339.5,188.3L340.0,189.9L340.8,191.8L341.3,194.0L342.4,195.8L343.5,197.7L343.7,199.9L343.7,202.5L345.6,204.7L345.1,207.5L346.2,209.9L346.2,212.5L345.6,215.0L344.0,217.3L343.7,219.9L342.7,222.2L342.4,224.8L341.7,227.3L341.2,229.9L340.5,232.3L340.0,234.9M463.6,247.3L464.7,245.9L465.7,244.4L467.4,243.6L469.5,243.8L471.5,244.7L473.6,244.8L474.6,242.4L474.9,239.8L475.0,242.5L475.8,244.9L476.1,247.5L477.4,249.8L477.5,252.4L478.2,254.8L478.2,257.3L478.6,259.8L478.0,262.1L476.4,263.8L475.5,266.0M466.9,266.0L465.9,264.1L465.0,262.1L464.9,259.8L465.0,257.2L463.9,254.9L463.6,252.3L464.0,249.8L463.6,247.3M377.9,266.0L377.5,266.2L375.5,267.1L373.5,267.7L371.6,268.6L370.0,270.0L368.1,271.2L367.1,273.0L366.2,275.0L365.1,276.8L364.2,278.6L364.0,280.9L362.5,282.5L361.0,284.1L360.2,286.0L360.0,288.2L358.7,290.0L358.6,292.0L357.2,293.6L357.1,295.7L356.2,297.5L357.3,299.4L358.6,301.3L358.7,303.7L357.0,304.9L356.2,306.8L355.1,308.5L353.7,309.9L352.9,311.8L351.1,312.9L350.5,315.1L348.7,316.2L346.7,317.1L345.2,319.0L343.2,320.0L341.2,321.2L339.8,322.7L338.0,323.8M387.5,290.0L389.4,288.5L391.8,287.7L393.7,286.2L395.9,286.2L397.9,285.5L399.9,285.0L401.7,286.5L402.4,288.7L401.7,290.8L400.4,292.4L398.7,293.7L396.7,294.8L394.9,296.2L393.4,295.1L391.5,294.8L389.9,293.7L388.9,291.7L387.5,290.0M406.2,283.7L408.1,283.1L409.9,282.5L411.0,283.7L411.9,285.0L410.5,286.1L408.7,286.7L407.7,285.0L406.2,283.7M373.7,298.7L375.3,297.3L377.5,297.0L378.2,298.4L378.7,300.0L377.7,301.7L376.2,303.0L375.2,300.7L373.7,298.7M338.0,352.0L339.7,350.5L341.7,349.3L342.8,347.1L345.0,346.2L346.9,345.3L349.0,344.8L350.7,343.2L352.9,342.9L355.0,342.4L356.8,341.3L358.8,340.4L360.8,339.8L362.9,339.2L365.0,338.7L366.7,337.2L369.1,337.5L370.8,336.0L372.9,335.5L375.0,334.9L377.1,334.5L379.0,333.4L381.1,333.1L383.1,332.4L385.0,331.2L387.4,330.2L390.0,331.1L392.4,329.6L394.9,329.9L397.4,328.9L400.0,329.9L402.5,329.5L404.9,328.7L407.4,328.8L409.9,328.8L412.4,329.0L414.9,328.7L417.4,328.9L420.0,328.7L422.5,328.9L424.9,329.9L426.8,328.9L429.1,328.9L431.0,327.8L433.1,327.4L434.9,326.2L437.3,327.1L440.0,326.2L442.3,327.6L444.9,327.4L447.4,327.4L449.9,328.2L452.4,328.4L454.9,328.7L456.7,327.6L458.5,326.6L460.4,325.7L462.4,324.9L464.8,324.3L467.3,323.6L469.9,323.7L472.4,323.3L474.8,322.3L477.4,322.4L479.0,323.3L480.4,324.6L482.4,324.9L484.4,326.0L486.1,327.4L487.9,328.4L489.9,328.7L491.5,330.3L493.6,331.2L492.4,332.6L492.3,334.7L491.1,336.2L489.7,337.5L488.0,338.2L486.1,338.7L486.8,340.4L487.4,342.2L488.6,343.7L489.7,345.9L491.5,347.6L492.4,349.9L492.0,352.4L492.4,354.9L492.4,357.4L490.5,358.7L489.0,360.3L487.7,362.1L486.1,363.6L484.4,364.9L483.5,366.9L482.4,368.6L483.0,370.4L483.9,372.1L484.9,373.6L486.3,375.0L488.1,375.5L489.9,376.1L491.2,377.6L492.1,379.2L492.4,381.1L494.5,382.3L496.7,383.4L498.6,384.9L500.8,385.4L503.0,385.9L504.9,387.4L507.3,387.7L509.9,387.7L512.4,388.2L514.8,388.6L517.4,388.2L519.8,389.6L522.4,388.7L524.8,390.2L527.3,389.9L529.3,391.0L531.4,391.3L533.6,391.8L535.7,392.3L537.7,393.1L539.8,393.6L541.6,395.2L543.5,396.6L545.9,397.3L547.6,399.0L549.8,399.9L551.7,401.5L554.0,402.7L555.8,404.3L558.1,405.4L559.8,407.4L562.1,407.8L564.1,408.8L565.5,410.9L567.9,411.1L569.8,412.4L571.7,413.6L573.8,414.4L576.0,414.9L578.0,416.0L579.8,417.4L581.7,418.5L583.6,419.8L585.4,421.1L587.3,422.3L589.2,422.7L590.7,423.8L592.3,424.8L594.2,423.3L596.4,422.2L598.5,421.1L599.6,418.9L601.1,417.0L602.3,414.9L603.1,412.4L603.3,409.9L603.5,407.4L603.7,405.0L604.6,403.0L606.0,401.1L607.7,400.1L608.9,398.4L610.9,397.6L612.3,396.1L613.0,395.8M488.9,374.9L489.9,372.9L491.9,372.9L492.9,374.9L491.6,376.9L489.6,376.6L488.9,374.9M459.9,328.7L459.7,330.9L459.3,333.1L459.3,335.2L459.9,337.4L460.4,339.9L460.4,342.4L461.4,344.8L461.1,347.4L460.7,350.0L459.2,352.2L459.0,354.8L458.6,357.4L457.5,359.5L456.0,361.3L454.3,363.1L453.9,365.5L452.4,367.4L451.9,369.3L450.7,371.0L450.1,372.9L449.9,374.9L450.7,377.0L451.5,379.1L452.6,381.0L453.6,383.0L454.9,384.9L456.4,386.4L457.7,388.0L459.5,389.3L461.0,390.7L462.4,392.4L463.8,394.1L465.3,395.9L466.5,397.8L467.4,399.9L467.5,402.1L468.9,403.9L470.0,405.7L470.9,407.7L471.1,409.9L472.4,412.2L471.9,415.0L473.6,417.2L473.6,419.9L473.6,422.0L474.0,424.1L474.9,426.1L473.1,427.7L472.4,429.8L473.8,431.6L474.1,433.8L474.3,436.0L475.9,437.6L476.1,439.8L476.2,440.0M498.6,384.9L499.2,387.3L499.9,389.8L499.9,392.4L497.7,393.6L495.8,395.2L493.9,396.7L492.4,398.6L490.8,400.3L488.7,401.2L486.8,402.5L484.9,403.6L483.8,405.6L483.6,407.9L482.4,409.9L482.9,412.3L483.5,414.8L483.6,417.4L481.8,418.7L480.6,420.5L478.9,422.0L477.4,423.6L476.3,425.0L474.9,426.1M338.0,371.4L337.8,373.5L338.5,375.4L338.7,377.4L338.9,380.0L340.2,382.3L340.0,385.0L341.2,387.4L341.9,389.4L343.8,390.5L345.2,391.9L346.2,393.6L345.6,395.4L344.5,396.9L343.7,398.6L341.8,397.9L339.9,398.1L338.0,398.6M459.9,268.7L461.8,268.3L463.0,266.6L464.9,266.2L467.0,266.3L469.0,267.3L471.1,267.5L472.2,266.0M476.0,266.0L476.2,268.2L477.4,270.0L477.4,272.5L478.2,274.9L477.2,277.5L477.9,280.0L476.9,282.4L477.3,285.0L476.2,287.4L476.1,290.0L475.5,292.0L473.7,293.4L473.8,295.8L472.4,297.5L470.3,298.4L468.0,298.5L466.1,300.0L464.3,299.5L462.8,298.4L461.1,297.5L460.1,295.9L458.8,294.4L458.6,292.5L458.3,289.9L459.3,287.5L459.2,284.9L459.9,282.5L460.2,279.8L458.9,277.5L458.6,275.0L458.4,272.8L460.1,270.9L459.9,268.7M550.4,311.8L549.8,313.7L551.5,314.8L553.6,314.9L554.8,313.7L556.1,312.4M508.6,312.4L510.2,312.1M548.3,311.4L548.1,312.9L547.8,314.4L547.6,315.9L547.3,317.4L546.5,319.2L545.7,321.0L546.0,323.2L544.8,324.9L544.7,327.1L543.5,329.0L543.6,331.2L541.6,330.1L539.2,330.0L537.3,328.7L535.6,327.5L533.5,326.9L531.4,326.5L529.8,324.9L527.7,324.6L525.9,323.4L524.4,321.7L522.3,321.2L520.5,320.5L518.7,319.6L516.7,319.3L514.8,318.7L512.9,318.4L511.4,317.3L509.8,316.2L508.9,314.4L508.6,312.4M478.6,440.0L479.6,442.4L479.4,445.0L479.1,447.5L479.9,450.0L479.6,452.5L479.8,455.1L478.3,457.4L478.6,460.0L478.7,462.5L479.8,464.9L479.4,467.5L480.0,469.9L479.9,472.5L479.8,474.5L478.7,476.2L477.8,478.0L477.4,480.0L476.4,481.5L475.0,482.5L473.6,483.7L474.3,486.0L476.1,487.8L475.8,490.5L477.4,492.4L478.9,494.4L479.2,496.8L480.2,499.0L481.1,501.2L481.1,503.3L482.3,505.0L483.2,506.8L483.6,508.7L485.8,509.3L487.9,510.1L490.0,511.3L492.4,511.2L494.4,511.5L496.3,511.7L497.8,513.5L499.9,513.7L501.1,515.6L501.5,517.8L502.7,519.8L503.5,521.9L504.9,523.7M504.9,523.7L502.8,524.8L501.3,526.7L499.6,528.4L497.3,529.2L495.2,530.3L493.9,532.5L491.5,533.2L489.9,534.9L472.4,548.6L454.9,563.6L453.1,565.4L450.9,566.9L449.1,568.6L447.1,570.2L446.0,572.7L443.4,573.6L441.8,575.7L439.9,577.4L438.1,578.9L436.3,580.5L434.2,581.5L432.3,583.0L429.9,583.6L427.3,583.5L424.9,584.7L422.3,584.5L419.9,585.7L417.5,586.7L414.8,586.5L412.4,587.4L410.2,588.2L407.9,588.4L405.5,588.2L403.2,588.5L401.0,589.7L398.7,589.9M338.0,531.8L340.1,532.8L341.6,534.5L342.9,536.5L345.0,537.4L346.6,539.3L348.4,541.0L350.7,542.0L352.0,544.2L354.4,545.2L356.2,546.8L357.7,548.8L360.0,549.9L361.7,551.3L363.3,553.1L365.1,554.4L367.5,555.1L368.8,557.2L370.4,558.8L372.5,559.9L373.7,562.0L375.2,563.9L376.2,566.1L378.3,566.9L379.6,568.8L381.6,569.6L383.1,571.3L385.0,572.4L386.9,573.2L388.6,574.5L390.7,575.0L392.4,576.1L394.5,576.8L395.4,579.1L397.4,579.9L398.0,582.3L397.3,585.0L398.7,587.3L398.7,589.9M411.2,587.9L410.5,590.3L410.5,592.7L411.8,595.1L411.0,597.6L411.4,600.0L410.7,602.4L411.2,604.9L410.8,607.3L410.3,609.8L411.4,612.4L410.6,614.8L410.2,617.3L411.2,619.9L410.4,622.3L410.8,624.3L409.5,626.1L409.6,628.0M504.9,523.7L507.0,524.1L509.1,524.8L511.1,525.6L513.1,526.3L515.2,527.0L517.3,527.4L519.0,529.0L521.4,529.2L523.2,530.8L525.3,531.5L527.3,532.4L529.0,534.1L530.8,535.6L532.3,537.4L534.4,536.6L536.2,535.1L538.1,533.9L540.5,533.7L542.3,532.4L544.2,531.2L546.0,529.8L548.0,528.7L549.6,527.1L551.5,525.9L553.6,524.9L555.6,525.9L557.1,527.7L559.6,527.8L561.1,529.7L563.4,530.3L565.6,530.8L567.3,532.4L569.2,534.1L571.6,534.8L573.4,536.7L575.9,537.3L578.3,538.1L580.0,540.1L582.3,541.2L584.2,542.9L586.7,543.4L588.8,544.7L591.2,545.6L593.0,547.5L594.8,549.2L597.3,549.9L599.1,551.6L601.4,552.7L603.4,554.2L605.7,555.1L607.8,556.5L610.1,557.4L612.3,558.6L613.0,559.1M542.3,532.4L543.2,534.8L543.4,537.4L543.8,539.8L543.6,542.4L543.4,545.0L544.9,547.3L544.4,549.9L544.8,552.4L545.9,554.2L546.3,556.3L547.6,558.1L548.6,559.9L549.7,562.1L551.6,563.7L552.3,566.1L553.0,568.2L552.4,570.4L553.6,572.4L552.6,574.1L552.3,576.1L551.3,577.9L551.1,579.9L550.3,582.3L551.2,584.9L549.6,587.3L549.9,589.8L549.8,592.4L549.6,594.9L549.0,597.3L549.3,599.9L548.2,602.3L548.6,604.9L547.9,607.3L547.9,609.8L548.3,612.4L546.9,614.8L547.3,617.3L546.4,619.4L544.8,621.1L544.9,623.6L543.8,625.6L542.3,627.3L541.8,628.0M409.7,628.0L409.8,630.4L409.5,632.7L408.7,635.0L407.6,636.7L405.9,637.9L405.1,639.8L403.7,641.2L401.3,641.2L399.2,641.9L397.0,642.6L394.9,643.7L392.5,644.3L389.9,643.9L387.4,644.2L385.0,644.5L382.5,645.1L380.0,645.0L377.5,644.8L375.0,645.0L373.0,645.7L371.1,646.9L368.7,646.6L367.2,648.4L365.0,648.7L363.0,649.1L361.2,650.0M338.0,655.9L339.9,655.0L341.6,653.7L343.5,652.8L345.0,651.2L346.9,650.4L349.0,649.8L350.3,647.8L352.5,647.5L354.9,647.4L356.8,648.9L359.0,649.4L361.2,650.0L361.2,652.2L361.2,654.4L361.9,656.5L362.0,658.7L362.9,660.7L364.1,662.4L365.0,664.4L366.2,666.2L368.0,667.9L368.8,670.4L370.9,671.8L372.5,673.7L373.7,675.3L375.4,676.4L377.3,677.2L378.7,678.7L380.8,679.9L382.5,681.5L383.7,683.7L385.0,685.3L386.2,687.0L387.5,688.7M387.5,688.7L389.9,687.8L392.5,688.0L394.9,687.4L396.4,688.8L397.2,690.8L398.4,692.3L399.9,693.7L400.3,696.0L400.9,698.1L402.4,699.9L403.4,702.3L403.5,704.9L403.7,707.4L403.3,709.9L403.3,712.4L402.8,714.9L402.4,717.4L401.8,719.6L400.8,721.6L400.0,723.7L398.7,725.5L397.4,727.4L397.3,729.6L396.6,731.7L396.9,734.0L396.2,736.1L394.1,736.2L392.4,737.4L392.9,739.9L392.5,742.4L392.0,744.9L392.3,747.4L391.9,749.9L391.7,752.4L392.1,754.9L392.2,757.4L392.3,759.9L392.4,762.4L392.7,764.9L393.2,767.4L391.8,769.9L392.4,772.4L392.4,774.9M387.5,688.7L385.7,689.8L385.3,692.1L383.9,693.5L382.5,694.9L381.0,696.7L378.7,697.4L376.5,698.2L375.0,699.9L373.5,701.9L372.5,704.1L371.2,706.2L370.3,707.8L369.1,709.3L368.7,711.2L369.4,713.3L369.4,715.7L370.3,717.8L371.2,719.9L372.1,722.0L373.9,723.5L375.1,725.4L376.2,727.4L376.6,729.9L377.7,732.3L377.6,734.9L378.8,737.3L378.7,739.9L378.7,742.4L378.3,744.9L379.0,747.4L378.0,749.9L378.4,752.4L378.7,754.9L379.4,757.3L378.3,759.9L379.3,762.4L378.9,764.9L379.7,767.3L379.0,769.9L379.4,772.4L380.0,774.9M338.0,706.9L340.3,706.5L342.7,706.9L345.0,706.9L347.5,706.9L350.0,706.2L352.5,706.4L355.0,706.7L357.5,706.9L359.7,707.7L362.0,708.5L364.2,709.6L366.5,710.3L368.7,711.2M357.5,706.9L358.6,708.8L359.2,711.0L360.7,712.7L361.2,714.9L360.7,717.5L361.4,719.9L362.3,722.4L362.5,724.9L362.5,727.4L362.6,729.4L363.7,731.2L364.0,733.1L365.0,734.9L365.0,737.4L363.9,739.8L364.2,742.4L363.7,744.9L364.1,747.4L364.3,750.0L365.5,752.4L366.2,754.9L366.1,757.4L366.5,759.9L366.9,762.4L367.5,764.9L368.8,767.2L368.8,769.8L368.7,772.5L370.0,774.9L370.9,777.0L372.5,778.6M401.2,693.7L402.0,691.7L402.1,689.5L402.4,687.4L403.2,685.0L403.4,682.5L403.7,679.9L403.6,677.4L404.7,675.0L404.9,672.4L406.7,671.3L408.6,670.3L409.9,668.7L411.6,667.6L413.8,667.7L415.3,666.2L417.4,666.2L419.7,666.7L421.7,665.2L423.9,664.9L426.2,665.4L428.3,665.8L430.5,666.3L432.4,667.4L433.9,668.9L435.8,669.8L437.4,671.2L438.8,672.8L440.4,674.2L442.4,674.9L445.0,675.1L447.5,674.5L449.9,673.7L452.5,673.5L455.0,674.0L457.4,674.9L459.5,675.5L461.3,676.6L462.9,678.0L464.9,678.7L467.4,679.1L469.9,679.2L472.4,679.9L473.8,678.7L476.0,678.8L477.4,677.4L478.9,676.0L480.6,674.8L482.4,673.7L484.9,673.8L487.4,673.4L489.9,673.0L492.4,672.4L494.8,673.0L497.3,673.2L499.9,672.9L502.4,673.7L504.9,673.7L507.3,674.6L509.8,674.9L511.3,673.4L513.6,673.0L514.8,671.2L516.3,669.7L518.0,668.4L519.8,667.4L520.7,665.5L522.6,664.3L523.6,662.4M540.4,628.0L539.6,629.9L538.4,631.6L536.6,632.9L536.1,635.0L534.5,636.5L533.9,638.7L532.8,640.5L530.9,641.8L529.8,643.7L528.7,646.0L526.7,647.7L525.7,650.0L524.8,652.5L523.8,654.9L523.8,657.4L524.2,660.0L523.6,662.4M523.6,662.4L524.6,664.3L524.8,666.6L526.0,668.4L526.7,670.4L527.3,672.4L528.9,674.1L529.9,676.2L531.5,677.8L532.3,679.9L533.2,681.8L533.6,684.0L534.9,685.7L536.1,687.4L536.9,689.5L536.5,691.8L536.9,694.0L537.3,696.2L536.4,698.4L534.6,700.2L533.6,702.4L531.9,704.0L530.1,705.6L528.6,707.4L527.9,709.7L526.2,711.2L524.6,712.8L523.6,714.9L523.4,717.1L521.7,718.8L522.0,721.2L520.5,722.9L519.8,724.9L518.5,726.7L518.5,728.9L517.0,730.7L516.3,732.7L516.1,734.9L515.2,736.8L514.6,738.8L512.7,740.2L512.3,742.4L511.6,744.4L510.3,746.0L509.0,747.7L508.6,749.9L508.4,752.1L507.0,753.8L506.3,755.8L505.3,757.7L504.9,759.9L503.4,761.7L502.6,763.8L502.4,766.1L501.5,768.0L499.4,768.9L499.0,771.1L497.4,772.4L495.3,772.4L493.6,773.6L493.7,770.9L492.4,768.6L491.0,767.5L489.9,766.1L488.6,764.9L486.3,765.1L484.2,765.9L482.4,767.4L480.4,768.4L479.0,770.0L478.4,772.4L476.3,773.3L474.9,774.9L474.1,776.8L471.8,777.5L471.4,779.7L469.9,781.1L468.3,782.6L467.9,784.8L467.1,786.7L466.1,788.6L465.5,790.7L465.6,792.8L466.1,794.8M532.3,679.9L534.4,680.7L536.7,681.2L538.6,682.4L539.9,684.2L540.5,686.2L540.9,688.4L541.9,690.3L542.3,692.4L542.8,694.9L542.0,697.4L541.9,699.9L542.3,702.4L543.0,704.4L543.5,706.5L545.0,708.2L544.8,710.6L546.1,712.4L546.5,714.8L547.5,717.0L548.9,719.0L549.8,721.1L547.4,722.1L544.8,721.5L542.4,722.6L539.8,722.4L537.4,723.2L534.9,723.3L532.4,723.7L529.8,723.6L529.5,725.6L528.6,727.4L530.4,729.0L531.4,731.4L532.7,733.4L534.8,734.9L536.6,736.6L537.7,738.8L540.1,740.0L541.1,742.4L542.1,744.4L543.3,746.3L545.4,747.6L546.1,749.9L547.2,751.6L547.6,753.5L548.1,755.4L548.6,757.4L550.6,757.0L552.8,757.1L554.8,756.1L556.8,755.8L558.5,754.6L560.2,753.7L562.3,753.6L563.1,755.3L564.8,756.1L566.9,754.9L569.2,754.4L571.2,752.9L573.5,752.4L575.6,751.2L577.8,750.6L580.2,750.9L582.3,749.9L583.7,747.9L584.7,745.6L586.0,743.6L587.3,742.0L588.5,740.3L589.8,738.6L591.7,738.1L593.6,737.6L595.3,736.4L597.3,736.1L599.0,734.9L601.2,734.6L603.1,733.8L604.8,732.4L606.4,731.2L608.5,731.1L610.5,730.8L612.3,729.9L613.0,729.1M548.6,757.4L548.2,759.5L546.6,761.1L546.3,763.3L544.8,764.9L543.8,766.7L542.9,768.6L541.9,770.4L541.1,772.4L540.2,774.3L538.8,775.8L537.3,777.3L536.7,779.2L536.6,781.3L535.9,783.1L534.8,784.8L535.0,787.4L536.1,789.8L535.7,792.3L536.1,794.8M345.0,794.8L347.3,793.7L348.9,791.8L351.0,790.4L352.9,788.8L355.0,787.3L356.7,786.0L359.0,785.8L361.1,785.5L363.1,784.7L365.0,783.6L366.8,782.2L369.0,781.5L370.8,780.2L372.5,778.6L374.4,778.1L376.0,776.7L378.0,776.5L380.0,776.1L382.4,775.2L385.0,776.3L387.5,776.0L389.9,774.5L392.4,774.9L394.9,775.5L397.4,774.1L399.9,774.7L402.4,774.9L404.9,775.7L407.4,776.1L409.9,776.1L411.1,778.3L413.1,779.6L414.9,781.1L416.3,782.6L416.8,784.7L418.8,785.7L419.9,787.3L420.7,789.3L421.9,791.0L423.7,792.3L424.9,794.8M613.0,73.7L615.3,73.6L617.7,74.0L620.0,73.7L622.5,73.8L625.0,73.4L627.5,73.3L630.0,72.7L632.4,72.2L635.0,72.5L636.9,74.0L638.9,75.5L640.8,77.3L643.2,78.2L645.0,80.0L647.3,78.6L649.8,78.0L652.4,77.8L655.0,77.5L657.5,77.1L660.0,76.3L662.5,75.7L664.9,75.0L667.0,75.6L669.1,74.9L671.2,75.5L671.3,73.5L671.5,71.4L672.8,69.6L672.4,67.5L672.8,65.6L672.4,63.7M635.0,63.7L635.9,65.9L635.1,68.2L636.0,70.3L636.2,72.5M645.0,80.0L645.3,82.1L645.9,84.2L647.9,85.7L648.4,87.8L648.7,90.0L648.7,92.6L648.1,95.1L646.7,97.4L646.2,100.0L644.3,101.4L643.4,103.8L641.2,105.0L642.2,107.3L643.8,109.3L645.3,111.3L646.2,113.7L647.5,115.7L647.6,118.3L649.6,120.0L650.0,122.4L650.6,124.3L651.5,126.1L651.4,128.2L652.5,129.9L650.3,131.2L648.6,133.2L646.4,134.3L644.3,135.7L642.5,137.4L641.1,139.5L639.6,141.4L638.2,143.4L636.2,144.9L635.4,147.4L635.0,149.9M646.2,113.7L648.2,112.4L650.5,111.6L652.5,110.3L655.0,110.0L657.4,110.8L659.9,110.9L662.4,111.2L664.9,111.0L667.5,110.9L669.9,111.2L672.4,111.4L674.9,112.3L677.4,112.5L679.9,112.3L682.4,112.7L684.9,112.5L687.5,112.7L690.0,113.3L692.5,113.4L695.0,114.3L697.4,115.0L699.9,115.6L702.4,115.4L704.9,116.2L707.4,115.7L709.9,116.2L712.4,116.3L715.0,116.2L717.5,116.1L719.9,115.3L722.4,115.0L724.0,116.5L726.1,116.9L728.3,117.3L729.9,118.7L730.1,116.4L730.7,114.2L732.0,112.2L732.4,110.0L734.6,109.8L736.6,108.9L738.2,107.1L740.5,107.3L742.4,106.2M734.9,65.0L736.5,66.7L737.7,68.8L738.4,71.1L739.8,73.1L741.1,75.0L742.3,77.2L744.6,78.4L745.5,80.9L747.4,82.5L749.4,83.7L751.7,84.4L753.9,85.3L756.1,86.2L754.2,87.0L753.2,88.9L751.0,89.4L749.9,91.2L747.8,92.3L745.4,91.2L743.2,91.5L741.1,92.5L742.1,94.9L741.2,97.6L742.4,100.0L742.4,102.0L742.8,104.1L742.4,106.2M742.4,106.2L744.9,105.9L747.3,104.8L750.0,105.3L752.4,104.3L754.9,103.7L757.4,104.1L759.9,103.5L762.4,103.8L764.9,103.5L767.4,103.4L769.9,103.7L771.7,105.3L773.6,106.8L775.9,107.9L777.4,110.0L776.0,111.9L776.1,114.3L775.0,116.4L774.9,118.7L777.2,119.8L779.9,119.5L782.4,120.1L784.8,120.8L787.3,121.2L788.5,123.0L789.3,125.0L789.9,127.1L789.7,129.4L791.1,131.2L793.4,131.7L795.7,131.9L798.1,131.9L800.3,132.6L802.6,133.1L804.8,133.7L807.3,134.2L809.8,133.7L812.3,133.9L814.8,134.0L817.3,133.7L819.4,134.6L820.8,136.6L822.6,138.0L824.8,138.7L827.3,139.4L829.8,139.7L832.4,139.7L834.7,141.1L837.3,141.2L839.5,141.5L841.2,143.0L843.3,143.4L845.1,144.8L847.3,144.9L846.8,146.4L846.3,147.9L845.8,149.4L845.3,150.9L844.8,152.4M613.0,146.8L615.0,146.9L617.5,147.3L620.0,147.8L622.6,147.3L625.1,147.6L627.5,148.7L629.9,149.6L632.4,150.2L635.0,149.9L633.5,152.0L632.1,154.1L631.3,156.5L630.0,158.7L631.1,160.9L633.4,162.2L634.4,164.5L636.2,166.2M630.0,158.7L627.6,159.7L625.0,159.3L622.5,159.8L620.0,159.9L617.7,159.4L615.4,159.1L613.0,159.0M636.2,166.2L634.2,167.6L632.5,169.3L630.6,170.9L628.7,172.4L627.7,174.8L625.5,176.1L624.6,178.5L622.5,179.9L621.4,181.9L620.8,184.0L618.8,185.6L619.1,188.2L617.5,189.9L616.0,191.1L614.5,192.4L613.0,193.6M636.2,166.2L638.4,166.9L640.7,166.9L642.9,167.4L645.1,167.8L647.5,167.4L650.1,167.3L652.6,167.8L655.1,168.4L657.5,169.0L660.0,169.9L662.0,169.3L664.3,169.1L666.1,167.7L668.2,167.3L670.3,166.6L672.4,166.2L674.5,165.4L676.6,165.0L678.9,165.0L680.7,163.3L682.9,163.3L684.9,162.4M684.9,162.4L685.7,164.7L687.2,166.5L688.2,168.7L689.6,170.6L691.2,172.4L692.1,173.8M684.9,162.4L686.5,162.1L688.1,161.8L689.6,161.5L691.2,161.2L692.7,160.9M691.4,225.6L689.9,224.9L687.4,225.5L684.9,225.0L682.4,224.8L679.9,224.9L678.2,226.5L676.3,227.5L674.2,228.3L671.9,228.9L669.9,229.9L667.5,230.3L664.9,230.1L662.4,230.7L660.0,231.1L657.6,230.0L654.8,230.4L652.5,229.2L650.0,228.6L647.4,229.0L644.9,228.4L642.5,227.1L640.0,227.4L638.7,225.3L636.6,224.1L635.0,222.4M613.0,198.6L614.5,199.9L616.0,201.1L617.5,202.4L618.6,204.8L619.0,207.3L618.7,209.9L620.7,211.7L622.9,212.9L625.4,213.7L628.1,214.3L630.0,216.1L630.7,218.1L632.7,219.1L633.2,221.2L635.0,222.4L634.2,224.2L633.4,226.0L632.8,227.9L632.5,229.9L633.9,231.6L635.5,233.3L636.6,235.2L637.5,237.3L637.2,239.3L635.7,240.9L635.8,243.0L635.0,244.8L635.0,246.9L636.5,248.5L636.5,250.6L637.5,252.3M637.5,252.3L638.4,254.7L637.6,257.5L638.7,259.8L637.8,261.6L637.5,263.6L640.0,263.6L642.5,264.3L645.0,262.9L647.5,263.5L650.0,263.6L652.3,264.6L654.9,264.3L657.2,265.4L659.5,266.2L662.1,266.0M662.8,266.0L665.2,265.4L667.8,265.4L670.0,263.9L672.5,263.7L674.9,263.6L677.1,262.4L678.3,260.2L679.9,258.6L682.4,258.0L685.0,258.4L687.4,257.3L688.9,256.6L690.4,255.8L691.9,255.1M679.9,258.6L680.7,261.0L681.1,263.6L682.1,266.0M613.0,250.7L614.7,250.5L616.5,250.3L618.2,250.1L620.0,249.8L622.5,250.4L625.1,249.8L627.5,251.0L630.0,251.1L632.4,251.9L634.9,252.2L637.5,252.3M632.6,266.0L634.0,264.6L635.6,263.9L637.5,263.6M633.4,266.0L632.6,266.4L630.5,266.7L628.4,267.4L626.4,268.2L624.2,268.3L622.2,269.3L620.1,269.5L617.7,270.7L615.1,270.8L613.0,269.0M615.1,270.8L615.1,273.2L613.8,275.2L613.0,276.1M680.1,266.0L679.9,267.5L679.1,268.9L678.4,270.5L677.2,272.0L677.9,274.5M677.9,274.5L680.4,274.5L682.9,275.2L685.3,274.0L687.9,273.9L689.6,273.1L691.3,272.2M716.8,272.0L719.4,271.9L721.8,272.6L720.0,273.0L718.1,273.3L716.2,273.8L714.3,274.5L712.4,275.0L710.5,275.2L712.3,275.9L713.0,277.7L711.2,278.5L709.3,278.9L706.7,279.2L704.2,278.3L701.7,278.5L699.2,278.9L697.3,278.5L695.5,277.7L692.9,276.4L690.4,277.0L688.6,277.8L686.7,278.3L685.0,278.3L683.5,277.7L682.1,279.1L680.4,280.2L679.6,281.9L677.9,282.7L677.0,284.1L677.2,285.8M677.9,274.5L678.8,276.0L680.4,276.4L682.9,277.7L680.5,278.7L679.1,280.8L677.2,282.7M677.9,274.5L676.2,273.6L674.3,273.3L672.8,272.0L671.1,271.5L669.3,271.3L667.8,270.1L665.3,270.1L662.8,269.5L660.9,270.4L659.0,271.4L657.0,271.7L655.3,270.8L653.4,271.5L651.5,272.0L649.7,273.1L647.7,273.9L648.4,275.8L649.0,277.7L651.2,278.4L652.7,280.2L655.3,281.4L653.5,282.4L651.5,282.7L649.4,281.4L647.7,279.5L645.2,280.8L646.3,282.5L647.7,283.9L645.9,283.5L643.9,283.3L642.4,282.7L641.4,281.4L642.7,278.9L640.6,278.9L638.9,277.7L637.5,276.6L636.4,275.2L634.7,275.6L633.9,277.0L633.8,279.3L633.3,281.4L634.0,283.4L635.2,285.2L636.0,287.3L637.7,289.0L639.4,290.7L640.8,292.7L639.7,294.2L638.3,295.3L639.5,297.4L641.4,299.0L642.8,300.7L644.4,302.1L646.5,302.8L648.5,303.6L650.0,305.1L651.5,306.6L652.3,308.3L654.3,308.8L655.3,310.3L656.7,311.4L657.3,313.3L659.0,314.1L659.8,315.8L661.8,316.4L662.8,317.9L664.5,319.7L666.6,321.0L664.0,320.4L662.2,319.1L660.3,317.9L658.4,317.1L656.5,316.6L654.4,315.7L652.7,314.1L650.8,313.0L649.0,311.6L646.9,312.1L645.2,313.5L643.9,315.4M657.5,273.6L658.4,272.4L660.0,272.6L660.3,274.1L659.0,275.2L657.8,274.6L657.5,273.6M638.9,296.5L640.7,297.2L642.5,297.7L643.9,299.0L645.6,300.1L647.2,301.2L649.0,302.2L650.8,303.8L652.7,305.3L653.4,307.3L654.6,309.1L656.1,310.7L657.8,312.2L655.3,311.6L653.8,309.5L651.5,308.4L650.0,307.4L648.7,306.1L647.1,305.3L645.6,304.3L644.0,303.5L642.7,302.2L641.0,300.4L638.9,299.0L638.9,296.5M613.0,298.9L615.1,300.3L614.0,302.0L613.8,304.0L615.4,305.7L617.6,306.6L620.1,306.7L622.6,307.2L625.1,306.9L627.6,306.6L630.1,306.8L632.6,306.6L634.5,307.0L635.9,308.4L637.7,309.1L639.4,310.6L641.4,311.6L642.3,313.7L643.9,315.4M617.6,310.3L619.0,308.9L621.2,309.3L622.6,307.8L625.1,308.1L627.6,308.4L629.7,308.7L631.8,309.3L633.9,309.7L635.3,310.9L637.1,311.2L638.9,311.6L640.1,312.9L641.1,314.4L642.7,315.4L643.7,316.9L643.8,319.0L645.2,320.4L643.9,321.6L642.7,322.9L640.9,321.5L638.9,320.4L636.4,319.1L637.6,321.5L637.7,324.1L637.9,326.4L638.7,328.4L639.5,330.4L640.4,332.6L640.8,334.8L639.7,333.7L638.3,332.9L636.7,331.4L636.4,329.2L635.2,331.7L633.3,333.2L632.6,335.5L631.9,334.0L630.8,332.9L630.0,331.3L629.9,329.5L628.9,327.9L627.1,328.7L626.4,330.4L623.8,331.7L623.1,329.2L622.6,326.7L621.2,324.3L621.3,321.6L619.8,320.6L618.8,319.1L617.6,317.9L616.3,316.0L615.1,314.1L616.4,312.3L617.6,310.3M613.0,315.3L613.3,315.6L613.0,316.4M637.4,337.3L638.7,336.7L639.5,338.2L638.4,339.5L637.4,338.6L637.4,337.3M645.2,349.3L646.5,348.4L647.7,347.4L650.2,347.9L652.7,348.6L654.5,349.1L655.9,350.3L657.8,350.5L660.3,350.5L662.8,350.3L665.3,350.7L667.8,351.2L670.4,351.2L672.8,351.8L675.4,351.4L677.9,352.4L679.7,354.3L677.9,356.2L675.3,356.5L672.8,355.6L670.3,356.0L667.8,356.2L665.4,355.2L662.8,355.6L660.2,355.8L657.8,354.9L655.3,354.0L652.7,354.3L650.2,354.5L647.7,353.7L646.3,353.0L645.2,351.8L645.2,349.3M677.2,285.8L678.2,287.4L679.1,289.0L681.3,288.7L683.3,289.4L685.4,289.6L684.2,291.2L682.9,292.7L680.4,293.1L677.9,293.4L675.8,294.0L674.1,295.3L676.7,295.6L679.1,296.5L681.6,295.6L684.1,295.3L685.0,297.4L686.7,299.0L685.1,300.8L682.9,301.5L684.3,302.8L686.1,303.4L687.9,304.0L686.4,305.8L685.4,307.8L687.6,308.7L689.2,310.3L689.1,313.0L690.4,315.4L688.7,316.3L686.7,316.6L688.3,317.5L689.5,318.8L690.4,320.4L691.6,322.3L692.9,324.1L691.7,325.8L691.7,327.9L694.3,328.2L696.7,329.2L699.2,328.4L701.7,327.9L700.9,330.1L699.2,331.7L701.8,331.3L704.2,330.4L706.8,331.0L709.3,331.7L711.1,331.7L712.4,332.9L712.6,334.9L713.0,336.7L715.1,337.2L716.8,338.6L718.7,339.0L720.6,339.2L723.1,338.4L725.6,338.0L727.5,338.0L729.4,337.3L729.2,335.1L730.0,332.9L731.8,331.6L733.1,329.8L735.6,330.6L738.2,330.4L740.1,330.4L741.7,331.1L743.2,332.3L744.6,333.6L746.8,333.6L748.2,334.8L750.2,335.9L752.0,337.3M695.5,341.7L696.7,340.4L697.7,339.0L699.2,338.0L701.2,337.4L702.6,335.9L704.2,334.8L702.8,336.6L701.7,338.6L700.1,340.4L698.6,342.4L697.1,341.9L695.5,341.7M688.5,345.5L690.2,344.9L690.3,347.1L690.7,349.3L689.2,351.2L688.7,349.3L689.3,347.3L688.5,345.5M716.9,272.0L718.8,272.2L720.8,272.3L722.8,272.5M700.0,276.2L702.2,276.7L704.4,277.2L706.7,277.0L708.8,277.1L710.6,276.2L712.6,276.2M700.0,327.6L701.6,328.9L703.7,329.4L705.1,331.0L707.1,332.3L708.4,334.4L710.4,334.7L711.9,335.8L713.5,336.9L715.4,337.6L716.7,339.4L718.6,340.3L720.2,339.7L721.9,339.1L723.6,338.6L725.1,337.5L726.9,337.3L728.7,336.9L729.1,334.6L730.4,332.7L732.2,331.2L733.7,329.3L736.2,330.0L738.8,330.2L740.4,331.2L741.8,332.5L743.9,332.7L745.5,333.9L747.2,334.9L748.9,336.1L751.0,337.4L752.3,339.5L754.1,339.7L755.7,340.5L757.3,341.1L759.5,340.2L761.8,340.4L764.1,340.3L766.2,339.0L768.5,338.6L770.8,338.6L772.8,337.6L774.7,336.3L775.9,334.4L777.6,333.3L779.3,332.1L781.0,331.0L782.8,330.4L784.3,329.2L786.0,328.5L788.5,329.4L791.1,329.3L791.9,331.0L792.8,332.7L793.8,331.1L795.1,329.9L797.0,329.3L798.7,331.0L797.7,332.6L797.8,334.5L797.0,336.1L796.7,337.9L795.8,339.4L795.3,341.1L796.2,343.6L796.1,346.2L795.6,348.5L794.7,350.6L794.5,352.9L794.3,355.2L794.9,357.5L795.3,359.7L795.6,362.0L795.3,364.3L794.5,366.4L793.2,368.5L792.3,370.8L791.9,373.2L791.3,375.5L789.8,377.5L789.4,379.9L789.5,382.3L787.9,384.3L787.7,386.7L786.8,388.9L785.3,390.9L785.2,393.4L785.2,395.3L783.6,396.6L783.5,398.5M751.4,356.3L753.7,355.4L755.7,353.8L757.2,352.7L759.4,352.8L760.7,351.3L763.0,350.9L765.2,350.5L767.5,350.4L769.3,350.3L770.8,349.2L772.5,348.7L775.0,348.6L777.2,347.4L779.3,346.2L777.8,347.9L775.6,348.7L774.2,350.4L773.2,352.5L772.5,354.6L771.9,356.8L770.8,358.8L769.0,359.4L767.4,360.4L765.8,361.4L763.3,362.3L760.7,362.2L758.1,362.3L755.7,361.4L753.8,360.9L752.3,359.7L751.4,358.1L751.4,356.3M796.1,346.2L797.5,344.8L799.5,344.5L800.4,342.7L801.5,341.0L802.9,339.5L803.4,336.9L803.7,334.4L804.6,332.7L806.8,332.2L809.1,332.4L811.3,331.9L813.5,331.3L815.8,331.0L818.1,331.0L819.8,331.2L821.4,331.4M860.9,351.3L860.8,352.9L860.7,354.6L860.5,356.3L860.4,358.0L860.2,359.7L859.2,361.2L858.4,362.8L858.5,364.8L856.7,365.8L855.5,367.8L853.1,368.0L851.8,369.8L849.5,370.7L847.3,371.8L845.1,373.0L843.4,374.9L841.0,375.7L839.4,377.9L836.8,378.2L834.9,379.9L833.0,381.5L830.6,382.2L828.4,383.3L826.5,385.0L824.2,385.9L822.1,387.3L820.2,388.8L818.1,390.0L815.8,391.1L813.7,392.6L811.3,393.4L809.7,394.1L808.0,394.6L806.3,395.1L804.1,394.4L801.9,393.4L799.5,393.4L797.5,392.8L796.2,391.2L794.5,390.0L792.9,388.1L791.9,385.8M831.6,381.6L831.5,384.0L832.9,386.1L833.2,388.4L833.0,391.0L834.3,393.4L835.2,395.8L834.9,398.5M794.5,363.1L796.6,363.0L798.7,362.2L800.7,363.0L802.9,363.1L802.0,364.6L801.8,366.5L801.2,368.1L799.9,369.7L799.1,371.6L797.8,373.2L797.2,375.2L795.5,376.5L794.5,378.2L794.0,380.1L792.9,381.7L791.9,383.3L790.9,384.5L789.4,385.0M787.7,386.7L789.7,385.9L791.9,385.8L791.2,387.7L791.6,389.8L791.1,391.7L790.4,394.0L789.9,396.2L789.4,398.5M613.0,392.5L615.0,391.1L617.2,390.2L619.3,389.0L621.7,388.6L623.7,387.4L626.3,387.1L628.8,387.6L631.2,388.6L633.1,390.2L635.4,391.1L637.5,392.4L639.9,393.1L641.6,395.3L644.1,396.0L646.2,397.4L648.7,397.6L650.3,399.9L652.9,399.8L655.0,401.1L656.7,402.3L659.0,402.5L660.5,404.1L662.5,404.9L665.0,404.9L667.3,406.5L670.0,406.0L672.4,406.9L674.9,407.2L677.5,406.7L679.9,407.0L682.4,407.4L684.8,408.6L687.6,408.1L690.0,409.1L692.4,409.9L694.5,410.3L696.3,411.6L698.6,411.7L700.3,413.1L702.4,413.6L704.8,414.5L707.6,414.1L709.9,415.4L712.4,416.1L714.8,415.1L717.3,414.9L719.9,414.9L721.9,413.8L723.2,411.7L725.7,411.4L727.4,409.9L729.3,409.5L731.1,408.8L732.4,407.4L734.9,407.7L737.5,407.7L739.9,408.6L742.5,408.4L744.9,409.3L747.4,409.9L749.1,410.9L751.3,410.8L753.1,411.8L754.9,412.9L757.3,413.6L759.9,412.7L762.3,413.8L764.9,413.6L767.0,413.3L768.7,411.8L771.1,412.4L772.7,410.5L774.9,410.4L776.6,408.6L777.6,406.2L779.9,404.9L781.0,402.8L781.6,400.5L783.0,398.4L783.6,396.1L784.4,394.0L784.3,391.6L785.3,389.5L786.1,387.4M662.5,404.9L661.9,407.3L661.3,409.8L662.1,412.4L661.2,414.9L662.4,417.2L662.1,419.9L662.9,422.4L663.7,424.8L663.6,427.4L662.4,429.8L663.0,432.4L662.5,434.8L663.0,437.4L662.5,440.0M777.4,411.1L778.1,413.3L778.8,415.6L778.5,418.0L778.9,420.3L779.3,422.6L779.9,424.8L779.9,427.4L780.4,429.9L780.6,432.4L781.3,434.9L782.2,437.3L782.3,439.8L782.4,440.0M757.4,413.6L757.0,415.8L756.7,418.0L756.1,420.1L756.1,422.3L756.0,424.9L755.9,427.5L754.9,429.8L753.5,431.2L752.6,432.9L752.4,434.8L753.2,436.6L754.6,438.0L755.0,440.0M754.9,429.8L755.7,431.9L756.4,434.0L757.3,436.0L757.5,438.2L758.9,440.0M786.1,387.4L786.4,389.6L787.4,391.4L789.4,392.8L789.8,394.9L789.0,397.3L789.1,399.9L789.1,402.4L788.6,404.9L788.0,407.3L787.6,409.8L787.0,412.3L787.3,414.9L786.7,417.3L787.7,419.9L787.4,422.4L786.9,424.9L787.0,427.4L786.1,429.8L786.5,432.4L785.2,434.9L785.5,437.5L785.2,440.0M786.8,396.1L789.3,394.9L789.5,397.0L790.0,399.0L790.3,401.1L790.0,403.2L789.0,405.2L788.8,407.4L787.4,406.5L786.8,404.9L786.9,402.7L787.0,400.5L786.5,398.3L786.8,396.1M794.7,440.0L794.8,439.8L797.3,439.2L799.8,439.2L802.3,438.5L804.8,438.6L806.8,437.0L808.2,434.9L809.7,432.9L811.6,431.2L813.5,429.6L814.8,427.3L816.3,426.0L816.8,423.8L818.8,422.8L819.8,421.1L818.7,418.9L817.4,416.9L815.0,415.6L813.6,413.6L812.6,411.3L811.2,409.4L809.8,407.4L812.0,406.5L813.9,405.0L816.2,404.6L818.3,403.5L820.0,401.6L822.3,401.1L824.7,400.7L826.9,399.9L828.9,398.4L831.5,398.8L833.6,397.4M833.6,397.4L835.4,398.6L837.1,400.2L839.0,401.4L841.3,402.0L843.2,403.1L844.8,404.9L846.7,406.5L849.1,407.1L850.7,409.1L852.9,410.2L855.6,410.5L857.3,412.4L859.1,414.0L861.6,414.6L863.9,415.5L865.4,417.6L867.6,418.7L869.8,419.9L872.2,420.6L874.0,422.3L876.1,423.4L878.1,424.8L880.1,426.2L882.3,427.3L883.7,427.9L885.0,428.8M663.0,440.0L663.0,546.2L739.9,546.2L741.1,543.7L742.4,546.2L764.9,546.2L766.7,547.1L768.6,548.2L769.9,549.9L771.6,548.3L773.4,546.8L774.9,544.9L777.3,543.9L779.9,543.7L781.1,541.6L781.8,539.1L783.6,537.4L785.5,536.6L786.5,534.6L788.3,533.6L789.8,532.4L791.0,531.0L792.3,529.9M663.0,549.9L663.0,575.4L660.6,576.1L658.2,575.0L655.9,575.3L653.6,575.9L651.2,576.1L651.2,628.0M613.0,558.4L614.4,559.9L616.3,560.7L618.3,561.3L620.0,562.4L622.3,563.4L624.3,564.8L626.2,566.4L628.7,567.1L631.0,568.1L632.9,569.7L635.0,571.1L637.2,572.4L639.1,574.2L641.8,574.5L643.6,576.5L645.7,578.0L647.9,579.2L650.5,579.9M756.5,440.0L758.2,441.3L758.8,443.3L759.9,445.0L761.4,446.7L761.9,449.0L763.8,450.5L764.9,452.5L765.7,454.4L767.4,455.9L768.1,457.9L768.6,460.0L769.5,461.9L770.7,463.6L771.3,465.7L772.4,467.5L773.3,469.6L774.1,471.9L775.2,474.0L776.1,476.2L776.7,478.6L778.4,480.4L778.4,483.0L779.9,485.0L780.4,487.3L782.1,489.2L783.3,491.2L783.6,493.7L784.7,495.8L785.8,497.9L786.6,500.2L787.3,502.4L787.8,504.8L788.7,507.0L789.5,509.3L791.1,511.2L792.4,512.8L792.1,515.0L792.5,517.0L793.6,518.7L792.8,520.7L793.3,523.0L792.3,524.9L792.3,527.4L792.3,529.9L793.9,531.3L794.8,533.2L796.1,534.9L797.9,536.1L798.0,538.5L799.6,539.8L801.1,541.2L802.6,542.8L802.4,545.2L803.4,547.0L804.8,548.6L805.7,550.5L806.4,552.5L807.8,554.2L808.6,556.1L808.7,558.5L810.8,560.1L811.1,562.4L812.1,564.8L812.4,567.3L812.3,569.9L812.2,572.4L813.6,574.8L813.2,577.4L813.6,579.9L814.3,581.7L814.2,583.8L815.8,585.4L816.1,587.4L817.3,589.1L818.2,591.0L818.5,593.2L819.8,594.9L820.8,597.1L822.0,599.2L823.6,601.1L825.0,602.6L826.3,604.2L827.3,606.1L828.7,607.9L829.4,610.1L829.8,612.3L830.4,614.4L831.6,616.1L833.1,617.7L833.6,619.8L834.7,621.6L834.9,623.6L835.6,625.4L836.1,627.3L836.3,628.0M759.3,440.0L760.3,441.9L760.9,444.1L762.9,445.4L763.6,447.5L765.1,449.5L766.4,451.7L767.9,453.8L768.6,456.2L770.3,457.5L770.9,459.5L772.0,461.2L773.6,462.5L775.6,461.5L777.4,460.0L778.1,458.2L779.9,457.5L781.2,455.6L781.3,453.2L782.3,451.2L782.1,449.0L782.6,446.8L783.1,444.6L783.6,442.5L783.8,440.0M786.8,440.0L786.6,442.5L786.1,445.0L786.5,447.5L785.8,450.0L784.6,451.6L785.4,453.9L784.3,455.6L783.6,457.5L785.3,458.7L786.7,460.3L788.6,461.2L790.2,462.9L791.1,464.9L792.0,467.1L793.6,468.7L795.3,470.6L796.7,472.7L796.9,475.5L798.6,477.5L798.9,479.7L801.0,481.0L801.0,483.3L802.3,485.0L803.3,486.5L803.8,488.4L804.8,489.9L804.0,491.8L803.6,493.7L805.2,495.0L807.1,495.9L808.6,497.4L809.1,499.5L811.1,500.9L812.0,502.8L812.3,504.9L812.7,507.1L814.3,508.6L815.6,510.3L816.1,512.4L816.8,514.4L818.2,515.9L820.0,517.0L821.1,518.7L822.9,519.8L823.6,521.8L825.2,523.0L826.1,524.9L826.9,526.8L827.5,528.9L829.0,530.5L829.8,532.4L831.1,534.1L830.8,536.2L832.1,537.9L832.3,539.9L833.0,542.0L833.4,544.2L833.6,546.4L833.6,548.6L833.6,551.0L835.5,552.8L835.3,555.3L836.1,557.4L837.6,559.4L838.8,561.6L839.9,563.9L841.0,566.1L842.2,568.4L844.1,570.2L845.1,572.5L846.0,574.9L847.7,576.4L848.9,578.4L849.3,580.8L851.0,582.4L852.3,584.3L853.4,586.2L854.4,588.2L856.0,589.9L856.6,591.9L857.3,593.9L858.5,595.7L859.8,597.4L861.2,599.1L862.2,601.1L863.5,603.0L864.8,604.9L865.5,607.1L867.3,608.6L868.7,610.4L869.8,612.3L871.1,614.0L871.9,616.0L873.0,617.8L873.5,619.8L873.9,622.0L875.0,623.8L876.9,625.2L877.3,627.3L877.5,628.0M791.1,440.0L793.1,441.1L795.3,440.9L797.3,441.2L798.4,440.0M827.3,606.1L825.4,607.0L823.5,608.0L822.3,609.8L820.0,610.5L818.9,612.8L816.6,613.4L814.8,614.8L813.9,616.9L811.9,618.3L810.6,620.1L809.8,622.3L809.8,624.4L807.9,625.9L807.9,628.0M879.8,627.3L880.4,625.1L882.2,623.6L883.2,621.5L883.6,619.2L884.8,617.3L885.0,617.2M651.2,628.0L650.7,630.4L650.7,632.7L651.7,635.1L651.2,637.5L649.0,637.6L646.8,637.6L644.6,638.1L642.5,638.7L640.7,640.2L640.6,642.9L638.5,644.2L637.5,646.2L635.9,647.8L635.5,649.9L634.6,651.8L633.7,653.7L634.6,655.7L633.8,658.0L635.0,659.9L633.1,660.8L631.9,662.5L630.5,663.9L628.7,664.9L629.2,667.0L630.2,669.0L630.0,671.2L628.6,673.1L626.9,674.8L625.0,676.2L625.4,678.3L626.6,680.2L626.2,682.4L627.6,683.8L629.8,683.7L631.2,684.9L631.4,687.1L630.1,689.0L630.0,691.2L630.7,693.6L632.0,695.6L633.7,697.4L633.4,700.0L632.5,702.4L634.3,703.6L634.9,705.8L636.2,707.4M613.0,729.3L614.9,728.0L616.2,726.1L617.7,724.5L618.7,722.4L620.4,720.8L621.8,719.0L622.3,716.7L623.7,714.9L625.8,713.8L626.7,711.7L628.0,709.8L630.0,708.7L632.0,707.9L634.0,707.3L636.2,707.4M636.2,707.4L637.6,709.1L637.5,711.5L638.6,713.2L640.0,714.9L640.6,717.2L642.3,718.8L644.1,720.3L645.0,722.4L644.6,725.0L645.3,727.4L645.3,730.0L646.2,732.4L645.4,734.4L645.8,736.6L645.0,738.6L647.0,740.0L649.4,740.7L651.2,742.4L652.3,743.9L652.6,745.8L653.7,747.4L655.8,747.8L657.3,749.6L659.0,750.8L661.2,751.1L661.9,753.1L663.8,754.1L664.4,756.3L666.2,757.4L666.9,759.4L669.2,760.1L669.8,762.1L671.2,763.6L672.3,765.6L673.8,767.2L676.2,768.0L677.4,769.9L678.3,771.8L678.7,773.9L680.7,775.2L681.2,777.3L682.5,779.2L684.6,780.2L685.4,782.5L687.4,783.6L688.8,785.2L688.8,787.6L690.8,788.9L691.2,791.1L690.3,792.9L689.9,794.8M655.0,794.8L656.9,794.4L658.9,794.1L660.6,792.9L662.5,792.3L664.0,791.2L665.6,790.3L667.4,789.8L669.4,790.1L670.9,791.2L672.4,792.3L675.0,792.2L677.6,792.4L679.9,793.6L682.4,793.6L684.9,794.3L687.4,794.8L689.9,794.3M802.3,659.9L801.1,662.3L801.1,664.9L800.6,667.5L799.8,669.9L798.8,671.9L798.4,674.2L796.9,675.9L795.3,677.7L794.8,679.9L793.4,681.8L792.1,683.8L791.5,686.2L790.4,688.3L788.6,689.9L787.4,691.7L787.4,694.0L786.6,696.0L785.0,697.7L784.8,699.9L784.8,702.0L784.1,703.8L783.2,705.6L782.3,707.4L780.5,708.4L779.0,709.9L777.4,711.2L776.2,713.2L776.7,715.7L775.3,717.7L774.9,719.9L774.4,722.4L774.3,724.9L774.6,727.5L773.6,729.9L772.6,732.3L773.5,734.9L772.1,737.3L772.4,739.9L771.1,741.9L769.5,743.6L767.4,744.9L765.4,746.1L763.4,747.0L761.1,747.4L760.2,749.8L759.9,752.4L761.6,753.9L763.4,755.2L765.7,755.8L767.4,757.4L768.9,758.7L770.2,760.2L771.6,761.6L772.4,763.6L773.5,765.2L774.5,767.1L776.5,768.0L777.4,769.9L778.5,771.6L779.3,773.6L780.4,775.3L781.1,777.3L781.8,779.3L782.8,781.2L784.3,782.8L784.8,784.8L786.9,785.5L788.5,786.9L789.8,788.6L791.9,789.6L793.6,791.1L794.8,792.8L794.8,794.8M807.2,628.0L806.1,630.2L806.3,632.8L805.6,635.1L804.8,637.5L804.5,640.0L804.0,642.4L804.5,645.0L803.6,647.5L803.3,650.0L803.6,652.5L802.3,654.9L802.8,657.5L802.3,659.9M802.3,659.9L804.8,659.5L807.3,658.8L809.8,658.7L811.9,659.5L814.1,660.0L816.1,661.2L816.5,659.1L817.0,657.0L818.7,655.3L819.3,653.3L819.8,651.2L822.0,651.9L823.7,653.5L825.4,655.0L827.3,656.2L829.4,656.2L831.1,655.1L833.0,654.4L834.8,653.7L836.5,654.8L838.4,655.4L840.5,655.5L842.3,656.2L844.3,657.7L846.0,659.6L848.3,660.7L849.9,662.7L852.3,663.7L854.2,665.2L856.4,666.3L857.5,668.8L859.8,669.9L861.1,671.7L862.8,672.9L863.9,674.9L865.5,676.3L867.3,677.4L868.6,679.2L870.3,680.7L872.4,681.7L873.5,683.7L875.0,685.2L877.1,685.8L878.5,687.4M837.2,628.0L837.4,630.6L838.3,632.9L839.8,635.0L840.7,637.1L842.8,638.4L843.6,640.5L844.8,642.5L845.8,644.5L848.0,645.5L849.0,647.7L851.0,648.7L852.5,650.1L853.9,651.6L856.0,652.2L857.3,653.7L858.4,656.0L859.9,657.8L862.5,658.9L863.5,661.2L865.2,663.0L866.8,664.8L868.4,666.7L869.8,668.7L871.6,670.4L872.9,672.4L874.0,674.7L876.0,676.2L877.4,678.2L879.2,679.6L881.0,681.2L883.0,682.8L885.0,684.4M885.0,693.6L884.8,693.7L885.0,693.8M878.5,687.4L876.5,688.4L874.4,689.2L872.3,689.9L871.5,692.1L869.7,693.6L868.2,695.3L867.3,697.4L867.0,700.0L867.5,702.5L868.5,704.9L870.7,705.3L873.0,704.9L875.1,705.5L877.3,706.2L878.6,704.1L879.6,701.9L881.0,699.9L883.0,699.4L885.0,699.1M877.3,706.2L878.1,708.3L878.5,710.5L879.0,712.8L879.8,714.9L881.4,716.6L882.1,718.7L883.2,720.7L883.6,723.0L884.8,724.9L885.0,725.2M875.0,628.0L876.0,630.0L876.5,632.1L878.2,633.7L877.7,636.2L879.3,637.9L879.8,640.0L880.8,642.4L880.7,645.1L881.0,647.6L882.3,650.0L881.9,652.5L883.5,654.9L882.5,657.5L883.6,659.9L883.5,662.4L884.2,664.9L884.2,667.4L884.2,670.0L884.8,672.4L885.0,673.2M808.6,689.9L809.4,688.2L811.1,687.4L812.8,688.6L814.8,688.7L816.0,690.4L816.1,692.4L814.6,693.8L814.5,695.8L813.6,697.4L811.9,696.3L809.8,696.2L809.1,694.2L808.9,692.0L808.6,689.9M956.4,189.9L955.1,188.2L953.1,187.2L951.6,185.7L950.8,183.6L948.9,182.4L947.7,180.2L946.3,178.2L944.9,176.1L943.3,174.1L941.4,172.4L939.3,171.1L936.8,170.4L934.7,168.9L932.7,167.4L931.2,165.9L929.3,164.8L928.6,162.5L927.1,161.0L925.2,159.9L925.1,157.2L926.0,154.8L927.6,152.5L927.7,149.9L928.8,147.5L928.6,144.8L929.5,142.4L930.2,139.9L932.0,138.4L933.0,136.4L933.7,134.1L935.2,132.4L937.6,133.3L940.2,133.3L942.7,133.7L944.1,135.4L946.2,136.4L947.9,137.9L948.9,139.9L950.0,138.0L951.6,136.3L952.3,134.0L953.9,132.4L953.6,130.2L952.4,128.2L951.4,126.2L953.4,125.2L955.3,124.2L957.6,124.5L959.6,123.5L961.4,122.4L963.5,121.4L965.0,119.7L967.0,118.6L968.9,117.5L970.5,115.8L972.7,115.0L974.9,114.3L976.4,112.5L978.8,113.3L981.4,113.3L983.9,113.7L986.4,113.7L988.9,113.0L991.4,112.9L993.8,112.1L996.4,112.5L998.1,113.8L1000.0,114.7L1002.3,114.6L1003.9,116.2L1005.6,117.4L1007.6,117.7L1009.5,118.2L1011.4,118.7L1013.7,119.7L1015.4,121.5L1016.7,123.7L1018.9,124.9L1021.3,124.0L1023.9,123.7L1025.4,125.5L1027.5,126.4L1029.6,127.3L1031.4,128.7L1033.9,128.5L1036.4,128.5L1038.9,128.7L1040.5,127.1L1042.6,126.2L1044.6,125.2L1046.4,123.7L1048.9,123.8L1051.3,122.7L1053.8,122.4L1056.3,121.9L1058.8,122.5L1061.3,122.7L1063.8,122.4L1065.5,123.6L1067.6,123.5L1069.4,124.5L1071.3,124.9L1073.1,126.0L1075.2,126.5L1077.2,127.2L1078.8,128.7L1081.5,128.7L1083.8,129.9L1085.9,129.3L1087.3,127.6L1088.8,126.2L1091.2,127.0L1093.9,126.5L1096.3,127.4L1098.8,127.4L1101.3,126.7L1103.0,124.7L1105.1,123.2L1107.6,122.4L1108.6,120.0L1108.8,117.5L1107.2,116.0L1105.3,115.2L1103.4,114.2L1101.3,113.7L1099.5,112.6L1097.7,111.6L1095.8,110.7L1093.8,110.0L1092.1,108.4L1090.1,107.5L1091.8,106.4L1093.7,105.5L1094.5,103.4L1096.3,102.5L1097.9,100.7L1099.5,99.0L1101.3,97.5L1102.9,95.9L1105.2,95.9L1107.0,94.8L1108.8,93.7L1110.3,92.5L1112.3,92.4L1113.8,91.2L1111.9,90.3L1110.5,88.7L1108.8,87.5L1106.8,86.6L1104.8,86.0L1102.6,86.2L1102.2,83.7L1101.3,81.2L1103.0,80.4L1104.9,80.0L1106.3,78.7L1108.8,79.2L1111.3,79.3L1113.8,78.3L1116.3,78.7L1118.6,77.5L1121.2,76.9L1123.7,76.5L1126.3,76.2L1128.8,76.4L1131.3,76.1L1133.7,75.0L1136.3,75.5L1138.8,75.0L1141.0,74.2L1143.1,73.4L1145.5,73.3L1147.8,73.3L1150.0,72.5M956.4,188.6L954.7,190.1L952.4,190.8L951.0,192.6L948.9,193.6L947.3,195.5L945.4,197.0L943.0,197.9L941.4,199.9L939.8,200.8L937.9,201.1L936.4,202.4L935.4,204.2L934.0,205.8L934.2,208.3L932.7,209.9L931.0,211.4L930.2,213.6L928.5,215.2L927.7,217.4L928.7,219.0L929.6,220.6L930.2,222.4L932.3,223.6L933.2,226.1L935.2,227.4L935.7,228.9L936.2,230.4L936.7,231.9M956.4,188.6L958.2,187.2L960.2,186.2L962.4,185.5L964.5,184.7L966.4,183.6L969.1,183.6L971.4,182.3L973.8,181.5L976.4,181.1L978.1,181.6L979.7,182.0M977.9,218.1L976.4,218.6L974.5,217.5L972.4,216.6L970.2,216.1L970.6,214.0L971.2,212.0L971.4,209.9L969.7,211.0L967.7,211.1L968.8,213.0L970.8,214.2L971.7,216.2L972.3,218.3L973.9,219.9L974.7,221.1L975.6,222.4L976.4,223.6L977.2,224.9L978.1,226.1M1148.4,230.0L1150.0,229.9M916.5,352.4L916.0,354.8L914.2,356.6L913.7,359.0L912.7,361.2L912.6,363.4L914.0,365.4L913.5,367.7L914.0,369.9L915.4,371.9L917.2,373.5L918.1,376.0L920.2,377.4L921.8,378.8L923.7,379.9L925.0,381.6L926.3,383.2L927.7,384.9L929.8,386.3L931.0,388.5L932.0,390.8L933.9,392.4L935.6,394.0L936.2,396.3L937.5,398.1L938.9,399.9L939.6,402.3L939.3,404.9L940.1,407.3L940.2,409.9L940.6,411.5L941.0,413.2L941.4,414.9L941.9,416.5M978.1,326.6L979.7,327.0L981.4,327.4L983.1,327.8L984.7,328.3L986.4,328.7L989.0,328.4L991.4,329.0L993.9,329.6L996.4,329.2L998.9,329.9L1001.4,330.4L1003.9,329.6L1006.4,329.6L1008.9,329.9L1011.0,329.8L1013.1,329.2L1015.1,328.7L1015.0,327.1L1014.8,325.5M1015.1,328.7L1015.5,327.2L1016.0,325.8M1087.6,326.4L1088.8,327.4L1090.8,328.5L1092.2,330.4L1094.0,331.8L1096.3,332.4L1098.4,332.6L1100.4,333.8L1102.6,333.7M1148.6,303.1L1150.0,303.7M1102.6,333.7L1103.1,335.8L1103.6,338.0L1102.8,340.3L1103.8,342.4L1105.0,344.5L1107.2,345.6L1108.8,347.4L1111.2,348.3L1113.0,350.2L1115.6,350.7L1117.5,352.4L1119.6,351.1L1121.4,349.4L1122.8,347.3L1125.0,346.2L1127.1,344.7L1129.5,343.9L1131.2,341.8L1133.8,341.2L1135.9,340.1L1137.0,337.9L1139.1,336.7L1140.3,334.7L1142.5,333.7L1144.9,332.7L1146.4,330.7L1148.3,329.2L1150.0,327.4M1102.6,333.7L1103.3,335.9L1102.3,338.2L1102.7,340.4L1102.7,342.7L1102.6,344.9L1102.0,347.4L1101.6,349.9L1101.6,352.5L1100.3,354.8L1100.1,357.4L1099.2,359.4L1099.1,361.7L1098.0,363.6L1097.3,365.7L1097.3,367.9L1096.3,369.9L1096.4,372.2L1097.4,374.3L1096.6,376.7L1097.9,378.8L1097.6,381.1L1097.7,383.5L1099.1,385.5L1099.6,387.8L1100.1,390.0L1100.1,392.4L1101.0,394.8L1101.5,397.3L1101.9,399.8L1102.0,402.4L1102.6,404.9L1104.7,405.7L1106.1,407.6L1108.3,408.4L1110.0,409.9L1110.4,412.4L1109.4,414.9L1109.5,417.4L1108.8,419.9L1107.0,421.4L1106.5,423.7L1105.7,425.9L1103.8,427.3L1102.3,428.9L1100.8,430.3L1100.1,432.3L1100.8,434.5L1102.2,436.3L1104.1,437.8L1104.8,440.0M1100.1,432.3L1102.5,432.4L1104.6,433.6L1106.8,434.5L1109.4,434.3L1111.6,435.1L1113.8,436.1L1116.4,436.1L1118.7,437.6L1121.3,437.0L1123.8,437.7L1126.4,437.6L1128.8,438.6L1131.2,437.9L1133.7,437.4L1136.2,437.5L1138.8,438.0L1141.3,437.3L1143.4,436.6L1145.7,436.7L1147.7,435.2L1150.0,435.3M885.0,423.9L886.5,424.8L888.4,426.4L891.0,426.8L892.5,429.0L894.7,430.1L897.2,430.7L899.0,432.3L901.2,433.2L903.3,434.4L905.3,435.7L907.3,437.1L910.0,437.1L911.6,439.2L914.0,439.8L914.6,440.0M907.7,440.0L910.0,440.4L911.9,441.5L914.0,442.5L916.4,443.4L919.0,442.6L921.5,443.1L923.9,444.0L926.5,443.7L927.5,441.9M1082.6,534.9L1083.5,536.2L1084.4,537.4L1085.4,538.7L1086.3,539.9L1085.3,541.6L1084.9,543.6L1084.0,545.4L1083.8,547.4L1083.4,549.5L1081.7,551.0L1081.6,553.3L1080.1,554.9L1078.3,556.4L1078.0,558.9L1076.4,560.6L1075.1,562.4L1073.7,564.4L1072.2,566.3L1071.3,568.6L1070.5,570.4L1070.5,572.5L1069.6,574.3L1068.8,576.1L1067.3,577.5L1065.9,579.2L1063.8,579.9L1063.0,581.7L1062.1,583.5L1061.3,585.3L1061.3,587.4L1060.5,589.4L1058.3,590.3L1057.6,592.4L1055.7,594.1L1053.3,595.0L1051.4,596.7L1048.9,597.4L1047.2,598.9L1045.3,600.1L1043.1,600.8L1041.4,602.4L1039.3,603.4L1037.4,604.5L1035.7,606.0L1033.9,607.3L1032.5,609.4L1030.8,611.1L1030.1,613.6L1027.8,614.3L1025.8,615.7L1023.5,616.4L1021.4,617.3L1019.1,618.0L1017.2,619.8L1014.7,619.9L1012.6,621.1L1010.6,622.1L1008.3,622.6L1006.0,622.7L1003.9,623.6L1002.1,624.7L999.9,625.0L998.2,626.3L996.4,627.3L995.7,628.0M1072.6,566.1L1075.1,567.4L1073.7,569.7L1073.8,572.4L1071.8,571.1L1071.5,568.5L1072.6,566.1M1029.8,537.1L1031.4,537.4L1031.9,539.5L1033.3,541.2L1033.1,543.6L1033.9,545.6L1035.1,547.4L1034.1,549.8L1034.7,552.5L1033.6,554.9L1033.5,557.5L1032.6,559.9L1031.3,562.2L1032.0,565.0L1031.1,567.5L1029.9,569.8L1029.6,572.4L1028.9,574.9M1028.9,574.9L1026.9,576.1L1024.6,576.7L1022.3,577.1L1020.3,578.5L1018.0,578.8L1016.1,580.3L1013.9,581.1L1012.0,582.5L1009.6,582.9L1007.4,583.6L1005.5,585.2L1003.2,585.7L1001.0,586.4L998.9,587.4M991.4,591.1L1003.9,623.6M983.9,592.4L951.4,601.1L931.3,628.0M922.8,628.0L921.4,626.0L921.5,623.6L919.0,623.1L917.2,621.3L915.1,620.2L912.8,619.6L910.8,618.2L908.4,617.6L906.5,616.1L904.0,615.2L901.6,614.2L898.9,614.4L896.5,613.6L894.2,614.0L891.9,613.5L889.7,612.9L887.5,612.5L885.2,612.3L885.0,612.4M1083.8,496.8L1085.5,497.0L1087.2,497.2L1088.8,497.4L1091.3,497.9L1093.8,498.0L1096.3,498.6L1098.8,498.7L1101.2,499.6L1103.9,499.4L1106.2,500.9L1108.8,501.2L1111.2,500.3L1113.7,500.0L1116.4,500.2L1118.9,499.9L1121.3,498.7L1123.8,498.4L1126.3,498.7L1128.8,499.0L1131.3,498.0L1133.8,498.7L1136.1,498.2L1138.4,498.2L1140.7,499.0L1143.1,499.0L1145.4,498.1L1147.7,498.9L1150.0,498.7M1106.3,440.0L1108.5,440.6L1110.0,442.6L1112.4,442.8L1114.3,443.9L1116.3,445.0L1117.5,446.8L1119.1,448.2L1121.2,449.1L1122.4,450.9L1123.8,452.5L1122.5,454.8L1122.0,457.4L1121.8,459.9L1121.3,462.5L1122.2,464.6L1123.8,466.2L1124.8,468.2L1126.3,470.0L1125.0,472.3L1125.6,475.1L1124.4,477.5L1123.8,480.0L1121.7,480.5L1119.8,481.9L1117.4,481.2L1115.3,482.0L1113.4,483.1L1111.3,483.7L1111.0,486.0L1110.2,488.1L1111.0,490.5L1110.2,492.7L1110.0,494.9L1109.3,497.0L1109.8,499.2L1108.8,501.2M885.0,682.3L887.1,681.7L889.3,681.7L891.5,681.2L893.5,681.1L895.2,679.9L897.1,679.1L899.0,678.7L901.2,678.4L903.0,677.4L904.8,676.2L906.5,674.9L908.2,674.0L910.4,674.3L912.3,673.7L914.0,672.4L916.4,671.7L918.8,670.7L921.4,670.4L924.0,669.9L926.1,669.5L928.1,668.8L929.8,667.4L932.1,667.2L933.9,666.2L936.1,666.0L938.1,665.0L940.2,664.6L942.0,663.4L943.9,662.4L946.4,661.6L949.0,661.8L951.4,661.2L953.1,659.7L955.1,658.5L957.2,657.7L958.9,656.2L961.2,655.6L962.8,653.9L964.9,653.0L966.4,651.2L968.3,650.3L970.3,649.6L971.9,648.2L973.9,647.5L975.6,646.3L977.6,646.0L979.5,645.6L981.4,645.0L983.3,644.4L985.2,644.0L987.0,643.0L988.9,642.5L990.8,641.1L992.6,639.5L993.9,637.5L994.4,635.3L996.0,633.5L996.4,631.2L998.6,630.0L1000.3,628.0M922.1,628.0L922.6,630.1L923.7,632.0L924.0,634.0L924.0,636.2L925.7,634.3L926.6,631.8L928.8,630.3L930.0,628.0M885.0,702.3L885.2,702.4L887.2,704.0L888.6,706.0L890.2,707.8L891.5,709.9L893.1,711.6L895.1,712.6L897.3,713.4L899.0,714.9L901.4,715.7L904.1,715.0L906.5,716.2L908.6,715.8L910.3,714.1L912.7,714.4L914.6,713.5L916.5,712.4L918.6,712.0L920.4,710.9L922.1,709.7L924.0,708.7L926.5,708.7L928.9,709.9L931.5,709.9L933.5,709.4L935.1,707.7L937.2,707.3L938.9,706.2L941.0,706.1L942.6,704.8L944.8,704.9L946.4,703.7L949.0,704.1L951.4,702.8L953.9,702.8L956.4,702.4L958.0,700.8L960.0,700.2L962.1,699.8L963.9,698.7L965.9,698.4L967.8,697.9L969.7,697.3L971.4,696.2L973.7,695.9L975.7,694.8L977.7,693.7L979.5,694.5L981.4,694.9L981.0,697.4L981.3,699.9L981.4,702.4L980.9,704.9L980.4,707.4L979.8,709.8L980.2,712.4L981.1,714.2L981.4,716.2L981.2,718.5L979.9,720.4L980.0,722.8L978.9,724.9L978.6,727.1L977.4,728.9L976.8,731.0L976.0,732.9L975.2,734.9L974.1,737.0L973.8,739.5L972.2,741.4L971.4,743.6L970.8,746.0L969.8,748.1L968.3,750.1L967.7,752.4L967.1,754.6L966.1,756.6L964.9,758.5L964.3,760.7L962.7,762.4L961.3,764.1L961.0,766.3L960.2,768.3L959.7,770.4L958.9,772.4L958.1,774.3L957.6,776.4L956.3,778.2L956.2,780.4L955.2,782.3L954.6,784.5L953.6,786.6L952.8,788.6L951.2,790.3L950.2,792.3L948.9,794.8M885.0,727.0L885.2,727.4L886.8,729.1L888.2,730.9L890.2,732.2L891.6,734.1L892.7,736.1L942.7,751.1L909.0,794.8M1008.9,683.7L1010.4,682.7L1012.1,682.3L1013.9,681.9L1016.0,682.3L1018.2,682.7L1020.1,683.7L1021.1,685.2L1022.6,686.2L1020.9,686.7L1019.0,686.6L1017.6,687.9L1015.6,687.3L1013.5,686.9L1011.4,687.4L1009.5,686.0L1008.9,683.7M692.0,159.6L694.1,159.6L696.0,161.2L698.2,162.4L700.1,162.7L701.8,163.9L703.7,163.7L705.5,164.4L707.4,164.8L709.2,165.1L710.9,167.1L713.3,167.9L713.5,169.8L714.5,171.5L714.7,173.3L715.6,175.8L717.5,177.5L717.5,179.5L719.0,181.1L719.5,183.0L720.6,184.4L722.1,185.5L723.0,187.1L723.8,189.5L725.7,191.2L727.1,193.0L729.1,194.0L727.9,195.5L726.4,196.7L724.4,197.3L723.0,198.8L721.3,200.2L719.5,201.5M692.0,173.4L693.6,174.3L694.1,176.1L695.0,178.3L697.2,179.5L698.2,181.6L699.1,183.4L699.5,185.6L701.0,187.1L701.7,188.9L700.8,190.8L701.7,192.6L701.4,194.4L701.9,196.3L701.0,198.1L702.3,199.7L702.1,201.8L703.0,203.6L704.5,205.3L706.5,206.3L708.7,206.1L710.6,204.9L712.7,204.8L714.7,204.9L716.7,204.0L718.8,204.3L719.5,201.5M706.5,206.3L707.0,204.0L707.7,201.8L707.9,199.4L709.0,197.8L709.2,195.9L709.2,194.0L710.8,192.4L712.0,190.5L714.0,190.7L715.7,190.0L717.5,189.1L719.4,188.9L721.1,189.5L723.0,189.8L724.4,190.3L725.7,191.2M719.5,204.3L720.1,206.7L719.5,209.1L719.1,211.1L717.5,212.5L715.0,212.4L712.7,213.2L710.6,214.6L709.8,216.6L709.2,218.7L708.7,220.5L708.7,222.4L707.9,224.2L708.0,226.0L707.6,227.8L707.2,229.7L706.3,230.9L705.8,232.4L704.1,233.9L702.4,235.2L701.6,237.6L699.6,239.3L698.9,241.0L698.6,242.9L698.2,244.8L696.1,246.0L694.1,247.5L694.6,249.6L695.5,251.6L696.3,253.3L697.7,254.5L698.9,255.8L699.7,257.9L701.0,259.9L702.8,260.8L703.3,263.1L705.1,264.0L707.2,264.4L708.6,266.2L710.6,266.7L712.9,266.9L715.3,267.0L717.5,268.1L719.8,268.5L722.0,268.0L724.3,268.1L726.6,267.7L728.9,267.9L731.2,267.4L733.5,267.2L735.8,267.0L738.1,266.7L739.8,264.9L742.2,264.0L743.9,262.5L746.1,261.6L747.7,259.9L750.0,259.0L752.5,258.7L754.6,257.1L756.7,255.9L759.2,256.0L761.4,255.1L763.8,255.5L766.0,255.1L768.3,254.4L770.6,254.7L772.9,254.2L775.2,254.4L777.3,254.9L779.3,254.1L781.3,253.9L783.4,253.7L785.2,254.7L786.1,256.4L788.5,256.8L790.3,258.5L792.1,259.1L793.9,259.5L795.8,259.9L796.7,261.7L798.7,262.4L799.9,264.0L801.6,265.0L803.3,265.9L805.4,266.1L807.2,266.1L809.0,266.4L810.9,266.7L812.6,267.4L814.5,267.7L816.4,268.1L818.3,268.1L820.1,268.6L821.9,269.5L823.7,269.8L825.5,268.6L827.3,268.8L829.2,268.6L831.0,269.7L832.8,269.5L834.8,269.5L836.6,269.1L838.3,268.1L840.0,269.2L841.8,269.8L843.8,269.5L845.9,269.0L848.0,268.7M692.0,224.1L693.7,224.5L695.5,224.9L697.5,225.7L699.5,226.6L701.0,228.3L703.5,228.0L705.8,229.0L705.5,230.7L705.8,232.4M692.0,267.6L694.4,267.2L696.9,266.7L699.2,266.7L701.5,266.6L703.7,267.4L706.0,267.4L708.3,266.4L710.6,266.7M729.1,194.0L730.4,192.7L731.9,191.6L732.6,189.8L734.5,188.2L736.7,187.1L738.7,186.7L740.8,186.4L742.9,188.5L743.8,189.9L744.9,191.2L747.1,191.6L749.1,192.6L751.1,193.4L753.2,194.0L755.0,194.3L756.9,194.2L758.7,194.6L760.5,194.1L762.3,194.1L764.2,194.0L766.1,192.9L768.3,193.3L770.3,192.5L772.4,192.6L774.3,192.6L776.0,193.8L777.9,194.0L780.0,193.9L782.0,194.0M782.0,194.0L779.7,194.9L777.9,196.7L776.2,197.7L774.2,197.3L772.4,198.1L770.4,198.0L768.8,199.0L766.9,199.4L765.2,200.3L763.4,201.1L761.4,201.5L759.6,202.1L757.9,203.3L755.9,203.6L754.6,204.9L756.6,205.8L758.7,206.3L760.3,207.7L762.1,208.6L764.2,209.1L765.9,210.0L766.9,211.8L766.2,213.8L765.5,215.9L767.2,217.0L768.3,218.7L770.3,219.6L772.4,219.4L774.2,217.8L776.5,217.3L777.5,215.7L778.8,214.5L780.6,213.9L782.5,213.2L784.1,211.8L786.1,211.8L788.3,210.5L790.3,209.1L792.3,208.2L794.4,207.7L796.5,207.1L798.5,206.3L800.7,206.6L802.6,205.6L804.7,205.4L806.7,204.9L808.8,205.3L810.9,205.6L813.0,206.0L815.0,204.9L816.3,204.2L817.7,203.6L817.4,201.4L816.4,199.4L817.6,197.9L819.1,196.7L820.2,195.0L821.9,194.0L823.8,194.7L826.0,194.6L827.3,192.6L825.7,191.3L823.5,191.0L821.9,189.8L820.4,188.5L819.1,187.1L817.7,185.7L819.8,185.4L821.9,185.0L823.6,184.2L825.5,183.7L827.3,183.0L829.3,182.5L831.2,182.1L832.8,180.9L835.0,180.7L837.0,179.5L835.6,178.2L833.7,178.2L832.0,179.1L830.1,178.8L828.0,179.2L826.0,179.5M782.0,194.0L784.0,192.5L786.1,191.2L788.0,189.7L790.3,189.1L792.3,189.1L794.0,188.0L795.8,187.1L797.8,187.1L799.5,186.0L801.2,185.0L803.1,184.3L804.8,183.5L806.7,183.0L808.4,181.9L810.4,181.6L812.2,180.9L813.9,179.8L815.9,179.8L817.7,179.5L819.5,178.6L821.3,178.6L823.2,178.8L825.0,178.3L826.0,176.8L825.1,175.1L824.6,173.3L826.6,171.9L828.7,170.6L830.5,169.6L832.1,168.2L834.2,167.9L836.1,168.3L837.8,167.1L839.7,167.2L841.3,166.3L842.5,164.9L843.8,163.7L844.5,162.0L844.8,160.1L844.5,158.2L843.5,156.3L843.1,154.1L844.0,152.0M817.7,203.6L816.3,204.9L815.3,206.7L813.6,207.7L812.7,209.0L812.2,210.4L814.4,211.6L816.4,213.2L818.0,214.7L819.7,216.3L821.9,217.3L823.7,218.7L825.6,219.9L827.3,221.4L828.8,223.3L831.0,224.2L832.8,225.5L834.8,226.7L836.2,228.7L838.3,229.7L840.2,230.6L842.0,231.5L843.8,232.4L845.1,233.6L846.6,234.5L848.0,234.2M846.6,234.5L848.0,235.7M987.3,182.0L989.1,182.2L990.9,181.8L992.6,182.4L994.8,181.7L997.1,182.0M1001.2,182.0L1002.9,182.8L1003.5,184.6L1004.9,185.7L1006.1,187.4L1007.0,189.3L1007.3,191.4L1007.8,193.6L1007.6,195.8L1008.2,198.0L1007.9,199.8L1006.9,201.4L1005.7,202.9L1004.5,204.3L1004.1,206.1M1004.1,206.1L1006.3,206.2L1008.4,205.5L1010.6,205.3L1012.5,204.7L1014.3,203.8L1016.3,203.7L1018.3,204.9L1019.6,206.9L1018.3,208.8L1017.9,211.0L1016.1,212.0L1014.2,212.2L1012.2,211.8L1010.5,213.4L1009.0,215.1L1008.2,217.4L1006.5,219.2L1005.7,216.7L1007.0,214.9L1007.3,212.6L1009.0,211.0L1006.8,210.4L1004.5,210.6L1002.4,209.4L1000.2,209.5L998.0,209.3L995.9,208.6L994.0,207.1L991.6,206.8L989.4,206.1L987.0,205.6L984.5,205.3L983.6,207.0L981.6,207.2L980.4,208.6L979.8,210.6L979.6,212.6L981.4,213.2L983.1,213.7L984.5,215.1L982.9,216.0L981.2,216.7L979.7,215.8L978.0,216.3M978.0,226.9L979.6,229.0L980.2,231.4L982.2,233.1L982.9,235.5L984.1,237.5L986.0,238.9L987.8,240.4L989.1,242.3L990.7,244.0L992.6,245.3L994.4,247.2L995.2,249.8L996.7,251.8L997.9,254.2L998.4,256.7L1000.8,255.1L1003.2,254.0L1005.0,252.2L1007.3,251.0L1009.5,250.7L1011.7,250.6L1013.9,250.2L1016.2,250.6L1018.3,251.7L1020.4,252.6L1022.4,253.6L1023.9,255.0L1025.3,256.7L1025.9,258.7L1027.5,260.0L1028.6,261.6L1027.9,264.1L1026.9,266.5L1026.3,268.4L1025.3,270.1L1023.7,271.4L1022.0,272.3L1020.4,273.0L1018.2,273.1L1016.1,274.3L1013.9,273.9L1012.1,272.9L1010.1,272.8L1008.2,272.2L1006.4,271.6L1005.4,270.1L1004.1,269.0L1002.6,268.0L1002.0,266.1L1000.8,264.9L1000.5,262.3L999.2,260.0L999.3,258.2L998.4,256.7M1000.8,264.9L1000.6,267.0L1001.0,269.0L1001.4,271.0L1001.6,273.0L1001.5,275.2L1001.8,277.5L1000.8,279.6L1001.6,281.2L1002.8,282.7L1003.3,284.5L1004.3,285.9L1005.7,287.0L1007.3,287.7L1009.0,288.0L1010.6,288.6L1008.9,289.7L1007.3,291.0L1005.8,292.4L1004.9,294.3L1005.4,296.1L1006.3,297.7L1007.3,299.2L1009.2,301.0L1010.5,303.2L1011.4,305.7L1012.3,307.9L1013.4,309.9L1013.9,312.2L1013.5,314.3L1014.6,316.3L1013.9,318.4L1014.7,320.4L1015.0,322.2L1015.5,324.1L1015.2,326.0M1040.0,210.2L1042.4,209.8L1044.7,209.3L1046.9,208.4L1049.0,207.0L1051.4,206.9L1053.4,205.7L1055.8,206.1L1058.0,205.6L1060.1,204.5L1062.2,204.0L1064.5,203.7L1066.4,202.8L1068.6,203.1L1070.5,202.1L1072.6,202.0M1040.0,210.2L1040.3,264.1M1025.3,264.1L1027.4,264.8L1029.7,264.3L1031.8,264.6L1033.9,264.2L1036.0,264.0L1038.2,264.5L1040.3,264.1L1042.6,264.3L1044.7,263.6L1047.0,264.0L1049.2,263.4L1051.4,263.3L1051.8,261.0L1052.6,258.9L1053.0,256.7L1054.4,254.8L1056.1,253.3L1057.9,251.8L1060.0,250.5L1062.4,249.9L1064.5,248.6L1066.3,247.5L1068.1,246.2L1069.4,244.5L1071.1,243.9L1072.6,242.8L1074.0,244.4L1075.9,245.3L1077.6,246.3L1079.0,247.7L1080.8,248.6L1083.4,248.9L1085.7,250.2L1087.1,251.6L1088.0,253.4L1089.0,255.1L1090.0,257.5L1090.6,260.0L1092.2,261.1L1093.7,262.4L1095.5,263.3L1097.8,264.4L1100.4,264.9L1102.9,264.8L1105.3,265.7L1106.4,267.8L1108.5,269.0L1110.3,270.2L1111.2,271.9L1111.8,273.9L1113.4,275.5L1113.4,278.0L1115.1,279.6L1116.8,281.1L1118.8,282.4L1120.0,284.5L1121.9,285.5L1123.6,286.7L1124.9,288.6L1126.8,288.7L1128.2,290.0L1129.8,291.0L1131.6,292.7L1134.0,293.3L1136.3,294.3L1138.5,295.7L1140.5,297.3L1142.8,298.3L1144.4,299.6L1145.7,301.1L1147.7,301.6M1072.6,202.0L1074.6,200.7L1076.0,198.9L1077.5,197.1L1079.1,196.0L1080.5,194.6L1082.4,193.9L1083.5,191.9L1084.1,189.8L1085.9,189.4L1087.2,187.9L1089.0,187.3L1091.0,186.4L1093.3,186.9L1095.5,186.5L1097.7,187.1L1099.9,187.2L1102.0,188.2L1103.3,190.0L1103.7,192.2L1102.0,194.1L1099.6,194.7L1099.7,196.9L1099.8,199.1L1098.8,201.2L1099.5,203.3L1098.6,205.7L1099.6,207.8L1098.7,210.1L1098.8,212.6L1097.9,214.7L1096.7,216.5L1095.5,218.4L1093.8,219.6L1092.2,221.1L1090.6,222.4L1088.3,222.9L1086.5,224.7L1084.1,224.9L1081.8,225.2L1079.7,224.7L1077.5,224.1L1076.1,222.8L1074.5,221.9L1072.6,221.6L1071.4,220.1L1071.0,218.0L1069.4,216.7L1068.5,214.9L1068.4,212.9L1067.7,211.0L1068.1,208.4L1069.4,206.1L1071.0,205.2L1071.6,203.5L1072.6,202.0M1089.0,187.3L1090.4,185.8L1092.2,184.9L1094.4,184.5L1096.5,183.8L1098.8,184.1L1101.2,184.3L1103.2,185.4L1105.3,186.5M1085.7,200.4L1088.1,199.6L1090.6,200.6L1089.0,202.0L1086.0,201.9L1085.7,200.4M1098.8,215.1L1099.9,217.4L1101.7,219.2L1103.7,220.8L1104.8,223.2L1106.5,225.0L1108.5,226.5L1109.8,228.5L1111.7,229.9L1113.4,231.4L1115.9,231.8L1118.3,232.4L1120.8,231.9L1123.2,231.9L1125.7,232.2L1128.2,232.1L1130.6,232.2L1133.0,231.4L1135.5,231.2L1137.9,231.0L1140.4,230.9L1142.8,230.6L1145.2,229.5L1147.7,229.8M1015.5,322.0L1016.8,320.3L1018.4,319.1L1020.5,318.5L1022.0,317.1L1024.6,316.4L1026.5,314.6L1028.6,313.0L1030.5,312.0L1032.6,311.6L1034.9,311.9L1036.7,310.6L1038.8,310.2L1040.7,309.1L1042.9,309.9L1044.9,309.0L1047.0,308.8L1049.0,308.8L1051.0,309.8L1053.0,309.8L1055.0,311.5L1057.7,312.0L1059.6,313.9L1061.5,315.5L1063.9,316.0L1066.1,317.1L1068.2,317.3L1070.1,318.5L1072.3,318.0L1074.3,318.8L1076.1,320.2L1078.2,320.6L1080.2,321.8L1082.4,322.0L1083.8,323.3L1085.4,324.4L1086.4,326.0M844.2,232.0L846.1,233.4L848.2,234.6L850.3,235.6L852.8,235.5L855.0,236.3L857.1,237.6L859.2,238.9L860.6,240.9L862.6,242.4L864.0,244.5L865.0,246.7L865.3,249.2L865.2,251.6L866.0,253.9L866.7,256.1L866.0,257.9L865.6,259.7L865.3,261.6L863.4,262.3L861.9,263.6L860.5,265.3L858.5,265.7L856.2,266.6L853.8,267.4L851.6,268.5L849.3,268.9L846.9,268.7L844.7,269.8L842.8,268.7L840.7,268.3L838.5,268.3L836.5,267.8L834.4,267.2L832.3,267.5L830.3,268.6L828.2,268.5L826.2,269.3L824.1,269.1L822.0,269.6M855.7,234.8L858.2,234.3L860.5,235.6L862.9,235.3L865.3,235.5L867.7,235.9L870.1,236.2L872.6,236.4L874.9,236.9L877.1,238.0L879.7,238.2L881.8,239.6L883.6,241.0L885.8,241.3L888.0,241.6L890.0,242.4L891.7,243.5L894.0,243.5L895.5,245.1L897.7,244.2L900.1,244.3L902.4,243.7L904.7,243.9L907.0,244.8L909.3,245.1L911.3,245.7L912.9,247.0L914.8,247.9L916.4,248.9L917.5,250.6L918.9,252.0L920.6,253.0L922.6,253.6L924.4,254.7L926.2,255.6L928.2,256.2L929.9,257.5L931.0,259.1L932.8,260.1L934.0,261.6L935.0,263.6L936.7,265.0L938.9,265.0L940.9,265.7L942.7,263.9L945.0,263.0L945.9,260.8L947.8,259.4L949.1,257.5M937.2,232.0L937.9,234.0L938.4,236.1L938.1,238.2L939.5,240.1L940.5,242.2L941.3,244.4L942.2,246.5L943.4,248.1L944.8,249.6L944.7,252.0L946.4,253.3L948.2,255.1L949.1,257.5L950.1,259.6L952.2,260.8L953.2,263.0L954.6,264.8L955.4,267.1L957.3,268.5L958.3,270.6L960.1,272.1L961.5,274.0L963.4,275.3L965.6,276.0L967.3,276.9L969.3,276.6L971.1,277.4L972.4,278.2L973.8,278.8L971.8,278.3L969.7,278.2L967.7,277.4L965.6,277.4L964.6,279.0L962.5,279.3L961.5,280.8L960.8,283.1L959.9,285.3L959.4,287.7L959.0,290.0L958.7,292.3L958.0,294.6L957.2,296.7L956.0,298.7L955.2,300.5L954.0,302.1L953.9,304.2L954.7,306.4L955.5,308.6L955.3,311.0L956.5,312.7L956.1,314.9L957.3,316.5L958.8,318.3L961.2,318.4L962.8,320.0L964.6,320.8L966.4,321.5L968.3,322.0L970.7,323.0L972.5,324.8L973.6,326.2L975.3,326.9L976.6,328.2L978.0,329.0M865.3,261.6L867.6,262.1L869.9,262.0L872.2,262.3L874.1,261.9L876.1,261.4L877.7,260.2L879.8,261.4L881.8,263.0L883.4,263.9L884.4,265.4L885.9,266.4L887.5,266.6L888.7,267.8M888.7,267.8L890.4,266.8L892.4,267.3L894.2,266.4L896.4,265.9L898.8,266.1L901.0,265.7L902.9,265.4L904.8,265.3L906.5,264.3L907.6,263.1L909.3,263.0L911.0,262.2L912.9,262.1L914.8,262.3L916.9,262.3L918.9,263.0L920.8,261.3L923.0,260.2L922.0,259.0L921.6,257.5L923.1,257.0L924.4,256.1M909.3,263.0L911.5,262.5L913.8,262.7L916.1,262.7L918.1,263.5L920.3,263.0L922.3,263.5L924.4,263.6L924.9,265.4L926.4,266.4L924.8,267.5L923.0,268.5M888.7,267.8L888.8,270.2L888.0,272.6L889.3,274.2L889.0,276.4L890.0,278.1L891.2,280.3L892.8,282.2L894.5,284.1L896.9,284.9L898.9,285.9L901.0,286.3L903.4,287.2L905.2,289.1L907.4,289.3L909.3,290.4L911.1,291.4L912.5,292.7L913.4,294.6L914.4,296.3L916.1,297.3L917.8,298.4L919.6,299.4M909.3,263.0L911.2,264.4L912.1,266.5L913.4,268.5L912.6,270.2L913.1,272.3L912.0,274.0L913.6,275.1L915.1,276.3L916.1,278.1L915.5,279.8L914.7,281.6L914.8,283.6L917.0,284.7L918.9,286.3L918.6,288.5L917.5,290.4L919.8,291.5L921.6,293.2L922.8,295.3L924.4,297.3L924.2,298.9L923.0,300.0M923.0,279.4L925.0,279.5L926.5,277.8L928.5,278.1L929.0,280.2L929.9,282.2L931.6,284.0L934.0,284.9L932.8,286.5L931.2,287.7L929.4,287.3L927.8,286.1L925.8,286.3L925.1,284.2L924.4,282.2L923.4,281.0L923.0,279.4M894.9,291.8L895.6,294.1L895.6,296.6L896.9,298.7L897.3,301.0L898.7,303.1L899.0,305.5L898.1,307.8L897.4,310.1L896.9,312.4L897.6,314.3L898.7,316.1L899.7,317.9L900.5,320.2L901.3,322.6L902.4,324.8M901.0,286.3L899.9,287.9L898.3,289.1L896.7,290.6L894.9,291.8L897.4,291.4L900.0,291.3L902.4,290.4L904.2,291.4L905.9,292.3L907.7,293.2L909.3,294.6L911.1,295.3L913.1,296.0L914.2,298.0L916.1,298.7L918.3,299.6L920.8,299.4L923.0,300.0L924.7,299.0L926.1,297.4L928.5,297.5L929.9,295.9L932.0,295.1L933.3,293.2L934.6,291.2L936.7,290.4L938.7,289.0L940.9,287.7L943.1,288.8L945.0,290.4L944.9,292.4L944.8,294.3L943.6,295.9L945.1,297.6L946.5,299.5L947.7,301.4L948.6,303.3L949.7,305.0L950.5,306.9L952.5,307.9L953.9,309.7M822.0,329.7L824.0,330.7L826.2,330.8L828.2,331.6L830.6,331.5L833.0,331.3L835.5,331.5L837.9,331.6L840.2,330.6L842.8,330.6L845.2,330.2L847.5,328.9L849.7,328.3L851.7,327.1L853.5,325.5L855.7,324.8L858.2,324.8L860.6,324.5L862.9,323.6L865.3,323.4L867.8,323.4L870.0,321.9L872.5,321.5L874.9,321.3L877.0,321.5L879.1,321.5L881.1,321.0L883.2,321.3L885.2,322.0L887.4,321.9L889.5,322.2L891.4,323.4L893.3,323.0L895.1,323.9L896.9,324.1L898.8,323.8L900.6,323.9L902.4,324.8M872.2,324.8L870.7,326.7L868.5,328.0L866.8,329.7L865.3,331.6L864.6,333.6L863.7,335.3L862.2,336.8L861.2,338.5L861.3,340.6L861.1,342.6L860.2,344.6L860.5,346.7L859.6,348.4L860.3,350.3L860.1,352.0M902.4,324.8L902.7,326.8L904.0,328.3L904.5,330.3L905.2,332.8L906.1,335.1L907.9,337.1L909.8,338.6L910.3,341.0L912.0,342.6L914.4,343.5L916.1,345.4L918.5,345.0L920.9,344.7M916.1,345.4L917.5,347.0L917.5,349.3L918.9,350.9L919.6,352.0M927.0,438.1L928.4,437.2L929.1,435.6L930.6,434.1L930.7,431.9L932.6,430.7L933.2,428.7L935.0,428.1L937.0,428.7L938.7,428.0L940.6,428.2L942.4,428.9L944.2,428.7M927.0,442.4L929.1,442.9L930.5,444.5L932.4,446.1L933.9,448.0L936.0,449.3L938.7,450.0L940.8,450.2L942.8,451.1L944.9,450.5L947.0,450.7M944.2,428.7L943.1,430.4L942.6,432.5L941.5,434.2L941.0,436.4L940.1,438.3L942.2,438.2L944.2,437.7L945.6,439.5L945.6,441.8L945.7,444.4L947.0,446.6L947.3,448.7L947.7,450.7M942.7,417.0L943.8,418.6L944.2,420.5L945.0,422.4L946.5,424.0L947.0,426.0L947.1,427.6L948.3,428.7M947.7,450.7L947.8,452.7L949.4,454.2L949.7,456.2L951.2,457.8L951.4,460.0L952.5,461.7L954.1,463.4L955.6,465.1L956.6,467.2L958.2,468.3L959.7,469.5L960.7,471.3L961.8,473.0L964.0,473.5L964.8,475.4L966.8,477.1L967.6,479.6L967.6,481.5L968.5,483.2L969.0,485.0L969.7,487.4L971.0,489.6L971.7,491.9L972.8,493.6L973.1,495.5L973.1,497.4L974.5,499.0L974.7,501.1L975.8,502.9L976.7,505.3L978.6,507.0L979.4,508.9L981.2,509.9L982.7,511.1L985.1,512.0L986.8,513.9L988.0,515.7L989.6,517.3M948.3,428.7L950.5,428.7L952.5,428.0L954.5,427.8L955.9,426.1L958.0,426.0L959.9,426.1L961.4,427.6L963.5,427.4L965.6,427.4L967.6,426.7L968.2,428.5L969.0,430.1L970.3,431.5L971.3,433.7L972.6,435.9L973.1,438.3L974.2,440.6L975.8,442.5L977.1,443.7L978.5,444.9L979.3,446.6L979.4,448.6L980.6,450.2L981.3,452.1L982.3,453.9L983.4,455.6L984.1,457.6L985.2,459.2L987.1,460.0L988.2,461.7L990.2,462.2L991.9,463.3L993.7,464.4L995.3,465.7L997.5,466.0L999.2,467.2L1000.2,468.9L1001.5,470.4L1003.3,471.3L1005.1,472.3L1007.2,472.6L1008.8,474.1L1010.8,474.5L1012.6,475.6L1014.3,476.8L1016.7,477.2L1018.9,478.0L1021.1,478.9L1023.1,478.4L1024.8,479.5L1026.6,479.6L1028.6,478.4L1030.8,477.5L1031.8,476.0L1033.0,474.6L1034.9,474.1L1036.9,473.6L1038.7,472.6L1040.4,471.3L1042.4,470.6L1044.5,470.6L1046.4,472.0L1048.6,472.7L1049.8,474.9L1051.4,476.8L1051.8,478.7L1052.4,480.4L1052.7,482.3L1053.6,484.1L1054.6,486.0L1055.5,487.8L1056.8,489.2L1058.1,490.7L1059.6,491.9L1061.5,492.4L1063.2,493.5L1065.1,494.0L1067.0,493.6L1068.7,494.5L1070.6,494.7L1072.6,494.5L1074.1,496.1L1076.1,496.0L1078.5,495.8L1080.6,497.2L1083.0,497.0M978.6,489.2L979.6,487.2L981.3,485.7L984.1,486.4L984.8,488.2L986.0,489.9L986.1,491.9L986.2,494.2L986.1,496.5L986.8,498.8L986.1,501.0L985.9,503.4L985.4,505.6L983.2,506.8L981.3,508.4L979.6,506.5L978.6,504.3L978.1,502.0L978.3,499.7L977.9,497.4L977.4,495.3L978.9,493.3L978.0,491.2L978.6,489.2M971.7,469.9L973.5,470.8L975.1,472.3L977.2,472.7L979.8,472.8L981.9,474.5L984.6,474.1L986.8,475.4L988.7,476.6L990.3,478.2L992.6,478.6L994.6,479.7L996.4,480.9L997.5,483.2L998.8,485.3L1000.8,486.9L1001.9,489.2L1003.3,491.3L1003.9,493.6L1004.0,496.0L1003.0,497.9L1001.0,499.1L999.8,500.8L999.2,502.9L997.1,504.4L994.5,504.4L992.3,505.6L990.0,506.1L987.8,507.0L985.4,507.0M964.8,448.0L965.5,450.0L966.6,452.0L966.7,454.2L967.6,456.2L969.0,457.7L969.3,459.8L970.8,461.3L971.7,463.1L973.3,464.7L973.7,467.0L975.2,468.7L976.1,470.7L977.2,472.7M989.6,517.3L991.9,517.3L994.2,517.4L996.4,516.6L998.1,515.7L1000.0,515.3L1001.9,515.3L1003.8,515.3L1005.6,515.5L1007.4,515.9L1009.1,515.0L1011.3,515.8L1012.9,514.6L1014.7,513.8L1016.5,513.0L1018.4,512.5L1020.1,510.9L1022.5,510.4L1023.9,508.4L1025.1,506.8L1026.5,505.5L1028.0,504.3L1029.7,503.2L1030.7,501.5L1032.1,500.2L1033.7,499.0L1035.0,497.5L1036.2,496.0L1037.7,494.0L1039.0,491.9L1039.5,489.9L1041.2,488.4L1041.7,486.4L1043.2,484.9L1043.2,482.6L1044.5,480.9L1046.1,480.0L1046.5,478.2L1045.9,480.0L1045.3,481.9L1044.5,483.7L1043.7,485.4L1042.9,487.2L1043.1,489.2L1043.7,491.3L1044.5,493.3L1045.0,491.5L1046.1,489.8L1045.9,487.8L1046.3,485.4L1046.9,483.1L1047.9,480.9L1049.3,482.8L1050.0,485.0L1049.0,487.2L1049.8,489.8L1048.6,491.9L1047.3,493.5L1046.5,495.4L1045.9,497.4L1045.7,499.3L1044.9,501.0L1044.5,502.9L1044.9,504.8L1044.8,506.7L1045.9,508.4L1047.2,510.0L1048.3,511.7L1048.6,513.9L1050.6,515.1L1052.6,516.2L1054.1,518.0L1056.0,518.5L1057.7,519.5L1059.6,520.1L1061.6,520.4L1063.1,521.9L1065.1,522.1L1067.2,522.5L1068.8,523.8L1070.6,524.9L1071.5,526.7L1073.1,527.9L1074.7,529.0L1075.8,530.6L1077.1,532.1L1078.8,533.1L1080.9,534.7L1082.2,537.0M989.6,517.3L990.5,519.7L992.1,521.6L993.6,523.6L994.5,525.9L996.4,527.6L997.7,529.4L999.4,530.9L1000.3,533.0L1001.9,534.5L1004.1,534.9L1006.4,534.4L1008.6,534.7L1010.7,536.0L1012.9,535.9L1015.2,535.9L1017.4,536.9L1019.7,536.6L1022.0,537.0M1030.8,537.0L1031.8,535.4L1032.2,533.6L1032.1,531.7L1032.2,529.4L1033.3,527.2L1033.5,524.9L1034.1,523.1L1033.7,521.0L1034.9,519.4L1037.2,518.4L1039.0,516.6L1038.6,514.8L1038.2,513.0L1038.3,511.1L1037.4,508.9L1037.9,506.6L1037.6,504.3L1039.8,504.5L1041.7,505.6L1043.1,504.3L1044.5,502.9M482.0,229.4L482.7,231.2L484.1,233.3L485.2,235.5L485.5,238.1L486.6,240.1L488.4,241.6L489.6,243.6L491.5,245.3L493.2,247.3L495.1,249.1L496.9,250.9L499.1,252.4L500.6,254.6L502.7,256.2L504.4,258.1L506.1,260.0L508.3,261.2L510.2,262.8L511.6,264.9L513.4,266.1L515.6,266.6L517.1,268.3L519.0,268.8L521.0,269.1L522.6,270.3L524.6,271.4L526.7,272.4L528.6,273.5L530.8,273.8L533.2,274.7L534.9,276.5L537.3,277.4L539.1,279.3L541.1,280.7L543.2,282.0L544.6,283.4L545.8,284.9L547.3,286.1L548.6,287.8L549.0,289.9L550.0,291.6L550.6,293.6L552.2,295.1L552.8,297.1L554.6,298.0L555.5,299.9L554.8,302.2L554.9,304.7L554.0,306.5L552.8,308.1L550.7,309.7L549.6,312.0M510.5,312.0L512.3,310.8L514.3,310.9L516.6,311.3L518.9,311.2L521.2,311.5L523.0,311.1L524.8,310.8L526.7,310.9L528.6,310.5L530.2,309.3L532.2,309.5L534.1,309.4L535.8,310.7L537.7,310.2L539.5,310.6L541.3,311.4L543.2,310.9L545.2,311.3L547.2,312.0M555.6,312.0L556.2,309.5L556.9,307.4L557.9,305.5L559.7,304.0L561.0,302.4L561.1,300.1L562.4,298.5L563.6,296.3L565.2,294.4L564.1,292.7L562.4,291.6L562.2,289.6L560.5,288.2L560.3,286.1L560.4,284.1L562.4,282.7L562.4,280.6L564.6,279.4L565.8,277.2L568.2,278.1L570.6,277.9L572.3,279.2L574.6,279.1L576.1,280.6L576.9,282.8L578.2,284.8L579.9,285.3L580.9,286.8L583.0,284.8L582.5,283.0L581.4,281.3L581.6,279.3L579.5,278.2L578.0,276.5L576.1,275.2L573.8,274.1L572.0,272.4L569.8,271.3L567.9,269.7L565.8,268.5L564.0,267.0L561.4,266.5L559.7,264.9L557.5,263.4L554.8,263.2L552.8,261.4L554.3,260.1L555.5,258.7L554.2,256.6L552.2,255.9L549.9,256.2L547.9,255.5L545.9,254.6L543.7,253.8L542.0,252.1L539.8,251.3L537.7,250.4L535.5,249.2L534.4,246.8L532.0,245.8L530.8,243.6L529.7,241.3L528.7,239.1L528.1,236.7L528.1,234.7L527.4,233.0L526.7,231.2L525.3,230.5L523.5,230.0L521.7,231.2L519.8,230.5L518.1,229.5L516.2,229.4L514.3,229.1L512.5,228.3L511.0,227.0L509.5,225.7L510.1,223.6L508.6,221.6L508.7,219.6L508.8,217.5L509.2,215.4L508.5,213.3L507.9,211.3L508.2,209.2L507.9,207.4L507.6,205.6L507.5,203.7L509.5,202.4L512.1,202.3L514.3,201.0L516.0,199.8L517.9,199.7L519.8,199.6L521.5,200.7L523.3,201.7M506.8,205.1L508.0,203.6L509.5,202.4L511.5,201.5L513.5,200.5L515.7,200.3L517.5,199.8L519.3,199.6L521.2,199.6L522.1,197.6L522.6,195.5L521.8,193.8L521.8,192.0M521.2,199.6L522.1,201.5L523.9,202.4L525.3,203.7L526.9,203.5L528.1,202.4L530.4,202.1L532.8,202.0L534.9,201.0L537.3,201.3L539.6,201.0L541.8,200.3L543.5,198.6L545.9,198.2L547.4,196.9L548.7,195.5L549.8,193.9L551.4,192.7L553.2,192.0L555.2,192.9L556.9,192.1L557.0,192.0M528.1,207.2L530.2,206.3L532.2,205.1L533.9,204.3L535.8,204.5L537.7,204.4L539.9,205.3L542.2,205.0L544.6,205.1L546.7,203.9L548.7,202.4L550.0,204.0L550.9,205.8L551.4,207.9M523.3,201.7L524.4,203.1L524.0,205.2L525.3,206.5L526.2,208.9L528.1,210.6L528.9,209.1L530.1,207.9L532.2,205.8L533.5,206.5L534.9,207.2L536.7,208.6L537.7,210.6L539.5,212.4L540.4,214.7L541.8,216.1L542.9,217.8L544.6,218.8L545.5,220.6L547.5,221.4L548.7,223.0L550.3,224.6L552.3,225.7L554.2,227.1L556.3,228.0L557.4,230.4L559.7,231.2L561.1,233.1L563.6,233.5L565.2,235.3L566.6,237.2L568.4,238.6L570.6,239.4L572.6,240.4L574.3,241.8L576.1,242.9L577.6,244.6L580.1,244.7L581.6,246.3L583.6,247.5L585.0,249.5L587.1,250.4L588.8,252.1L590.6,253.5L592.6,254.6L593.6,256.3L595.4,257.3L596.0,259.1L596.4,260.9L596.7,262.8L596.1,264.7L594.8,266.2L594.7,268.3L593.9,270.0L593.6,271.9L594.0,273.8L594.8,275.5L594.5,277.5L595.4,279.3L596.8,280.8L597.6,282.7L598.1,284.8L599.2,287.0L600.9,288.9L602.1,290.4L603.6,291.6L605.3,293.5L606.4,295.8L607.7,297.2L609.4,298.2L610.5,299.9L612.0,300.9L613.0,302.4M532.9,207.6L533.9,209.4L535.5,210.8L536.3,212.7L537.7,214.2L539.1,215.7L540.4,217.3L541.7,219.0L543.2,220.5L544.8,222.5L547.0,224.0L548.7,226.0L550.4,227.7L552.8,228.6L555.1,229.4L556.9,231.2L559.2,232.1L561.4,233.2L562.9,235.5L565.2,236.4L567.6,237.0L569.5,238.6L571.4,240.0L573.4,241.4L575.1,242.7L576.8,243.9L578.9,244.6L580.9,245.2M532.3,209.5L534.0,210.8L534.2,213.2L535.3,214.9L537.1,216.1L538.1,218.0L539.9,219.2L541.4,220.7L542.6,222.4L544.5,224.1L546.7,225.7L548.3,227.7L550.5,228.8L552.9,229.6L554.6,231.8L556.9,232.7L559.1,233.8L561.2,235.0L563.0,236.7L565.2,237.8L567.0,239.2L569.2,240.2L571.3,241.2L573.4,242.3L575.0,243.7L577.0,244.4L579.0,245.0L580.9,245.8M531.7,211.4L533.0,213.0L533.7,215.0L535.9,216.0L536.5,218.0L537.3,220.1L539.3,221.2L540.8,222.7L542.0,224.3L543.8,226.3L545.9,227.8L547.9,229.4L550.1,230.7L552.3,232.0L555.0,232.5L556.9,234.3L559.1,235.2L561.1,236.6L563.2,237.7L565.2,239.1L567.0,240.6L569.3,241.2L571.4,242.1L573.4,243.3L575.2,244.2L577.4,244.2L579.0,245.6L580.9,246.4M551.4,207.9L553.2,207.1L555.1,207.9L556.9,207.2L558.7,206.9L560.6,207.0L562.4,206.5L564.8,206.1L566.9,207.4L569.3,207.2L571.5,208.1L573.8,207.9L576.1,207.9L578.5,207.8L580.7,208.6L583.0,209.2L585.3,209.6L587.7,209.7L589.9,210.6L591.1,212.7L592.6,214.7L592.8,216.6L594.0,218.3L594.0,220.2L595.4,222.2L596.7,224.3L595.7,226.6L594.0,228.5L591.8,229.6L589.9,231.2L588.0,232.9L587.1,235.3L585.4,237.1L584.4,239.4L583.8,241.2L584.5,243.2L583.7,244.9L585.2,246.0L585.8,247.7M551.4,207.9L551.2,209.9L550.7,212.0L552.0,213.2L553.0,214.7L554.2,216.1L556.1,217.8L557.5,220.1L559.7,221.6L561.5,223.4L562.8,225.7L565.2,227.1L567.1,228.8L568.9,230.6L570.6,232.6L572.2,234.7L573.9,236.7L576.1,238.1L577.9,240.0L579.6,241.9L581.6,243.6L583.4,244.6L584.0,246.7L585.8,247.7M565.5,192.0L567.0,192.7L567.9,194.1L569.9,195.1L572.1,195.4L574.2,195.9L576.1,196.9L578.4,197.7L580.7,197.7L583.0,198.2L584.9,198.0L586.5,196.8L588.5,196.9L589.5,198.6L589.8,200.4L589.9,202.4L590.2,204.2L591.1,205.9L591.2,207.9L592.0,209.2L592.6,210.6M588.5,196.9L590.9,196.9L593.1,196.0L595.4,195.5L597.3,194.4L599.6,195.4L601.5,194.1L603.6,194.1L605.9,193.6L608.2,192.7L610.5,192.1L610.6,192.0M585.8,247.7L585.2,245.9L584.2,244.2L584.4,242.2L585.4,240.4L585.9,238.4L587.1,236.7L589.2,235.4L591.2,234.0L593.0,235.0L594.9,235.9L596.7,236.7L598.4,238.0L600.7,237.9L602.2,239.4L604.2,240.0L605.7,241.5L604.4,243.1L603.6,244.9L601.9,246.9L599.5,247.7L597.7,248.7L596.7,250.4L596.0,252.7L595.3,254.9L595.4,257.3M599.5,247.7L601.2,248.3L602.4,250.1L604.3,250.4L606.2,252.1L607.0,254.6L607.6,256.4L608.4,258.1L608.4,260.0L608.4,262.4L608.7,264.6L609.1,266.9L610.2,269.1L611.9,271.0L613.0,273.3M613.0,277.6L612.3,279.1L611.9,280.6L610.1,282.5L609.1,284.8L608.1,286.5L606.4,287.5L605.0,289.6L603.6,291.6M603.6,244.9L605.6,246.4L607.7,247.7L610.1,246.8L611.9,244.9L613.0,245.2M608.4,260.0L608.5,258.0L609.5,256.3L610.5,254.6L611.6,253.5L613.0,252.9M611.9,271.0L613.0,271.4M603.6,291.6L604.8,293.3L606.2,294.7L606.8,296.7L607.7,298.5L609.7,299.9L611.9,301.2L611.7,303.2L611.5,305.0L610.5,306.7L609.2,308.7L608.4,310.9L609.4,312.0M342.4,66.2L344.0,67.1L345.1,68.5L346.5,69.6L347.8,70.8L349.0,72.1L350.6,73.0L351.9,74.3L353.7,74.9L354.7,76.5L355.8,78.7L357.5,80.6L358.3,82.7L359.5,84.7L360.3,87.2L362.3,88.8L362.6,90.6L363.0,92.3L361.1,93.4L359.5,95.0L360.5,96.6L362.3,97.1L364.2,97.1L365.4,95.4L367.1,95.0L368.9,95.0L370.7,94.3L372.6,94.3L375.0,95.1L377.4,95.7L378.2,97.9L380.1,99.1L380.3,101.2L380.1,103.3L379.6,105.6L378.1,107.4L376.0,108.7L374.0,110.1L371.9,111.1L369.8,112.2L368.0,113.1L366.4,114.3L364.3,116.3L366.4,116.6L368.5,117.0L370.3,116.5L372.1,117.2L374.0,117.0L375.1,118.3L376.7,119.1L375.1,120.0L374.6,121.8L373.3,123.2L371.7,123.8L369.8,123.9L368.0,124.1L366.3,125.3L364.3,125.2L362.0,124.9L359.7,125.2L357.5,125.9L355.2,125.1L352.9,125.9L350.6,125.7L348.3,126.2L346.0,126.2L343.7,126.6L341.8,126.6L340.0,127.7L338.0,127.2M338.0,142.0L340.2,141.7L342.4,142.4L343.4,144.0L343.7,145.8L345.5,146.7L347.5,146.5L349.2,147.2L351.5,147.2L353.8,146.9L356.1,147.2L358.3,145.8L360.9,145.8L362.7,145.8L364.3,145.2L362.6,144.7L361.3,143.5L359.5,143.1L361.0,142.2L362.3,141.0L364.5,139.7L367.1,139.7L368.7,138.5L370.7,138.0L372.6,137.6L374.5,136.0L376.7,134.9L377.6,133.2L378.1,131.4L378.7,129.6L378.5,127.8L378.1,125.9L379.6,125.1L380.8,123.9L382.9,123.4L384.9,122.9L386.8,122.7L388.7,122.7L390.4,121.8L392.3,120.9L394.0,119.8L395.9,119.1L397.9,118.5L399.5,117.1L401.4,116.3L403.4,115.5L405.3,114.4L406.9,112.9L408.1,111.1L409.9,109.9L411.0,108.1L411.7,106.1L412.9,104.4L413.8,102.6L414.1,100.6L415.4,99.0L415.8,97.1L416.6,95.1L416.5,93.0L418.4,91.6L419.3,89.5L421.0,88.6L423.2,88.8L424.8,87.5L426.5,86.7L428.3,85.9L430.3,86.1L432.7,86.3L434.9,85.4L437.1,84.7L439.5,84.8L441.7,83.9L444.0,83.3L446.3,83.0L448.6,83.0L450.9,82.7L452.8,83.0L454.6,82.6L456.4,82.0L458.4,84.0L457.7,86.8L459.8,86.7L461.9,86.1L461.9,84.3L462.5,82.7L461.5,81.1L461.9,79.2L463.6,79.8L465.3,80.6L467.0,81.3L468.7,82.0L471.0,82.7L472.8,84.0L474.7,84.4L476.3,85.6L478.3,85.4M459.1,66.9L460.5,68.7L461.2,71.0L462.8,72.9L463.9,75.1L465.7,76.5L466.7,78.5L467.3,80.5L468.7,82.0M338.0,144.7L338.4,146.5L339.6,147.9L339.2,150.3L340.2,152.5L340.3,154.8L339.8,156.6L338.2,157.5L338.0,157.5M424.8,91.6L426.2,92.9L427.5,94.3L426.8,96.1L426.1,97.8L428.4,98.4L430.3,99.8L429.0,100.9L428.9,102.6L426.7,102.9L424.8,104.0L422.7,102.9L420.6,101.9L421.4,99.9L421.3,97.8L421.9,96.1L423.4,95.0L424.6,93.5L424.8,91.6M417.9,90.9L419.9,90.7L421.8,90.1L423.4,88.8L425.7,88.6L427.9,87.4L430.3,87.5L432.4,87.5L434.4,86.7L436.5,86.8L438.5,86.1M446.7,86.8L446.4,89.2L446.1,91.6L447.1,93.5L446.7,95.7L445.0,96.4L443.8,97.8L442.6,99.1L442.1,101.5L441.9,104.0L441.5,106.3L439.9,108.1L438.1,108.8L436.5,110.1L434.4,110.1L433.0,111.1L431.6,112.2L432.1,114.3L433.0,116.3L432.9,118.1L432.3,119.7L430.9,120.7L429.6,121.8M401.4,116.3L403.3,116.7L404.9,118.2L406.9,118.4L408.7,117.7L410.5,117.0L412.4,117.0L414.2,116.2L416.0,115.8L417.9,115.6L419.7,115.8L421.6,115.5L423.4,116.3L425.5,116.8L427.2,117.8L428.9,119.1L429.6,121.8L430.9,123.3L430.9,125.2L430.3,127.3M430.3,127.3L432.3,128.2L434.4,128.7L435.4,130.7L436.4,132.8L435.4,134.5L433.7,135.5L432.4,136.4L430.9,136.9L430.5,139.1L429.6,141.0L430.8,142.5L430.9,144.5L432.7,144.4L434.4,143.8M390.4,121.8L391.4,123.8L391.8,125.9L394.0,126.2L395.9,127.3L397.7,127.9L398.6,129.7L400.0,130.7L402.5,130.8L404.9,131.4L406.6,133.1L408.3,134.9L410.5,135.0L412.4,136.2L413.8,137.6L415.2,139.0L417.3,138.9L419.3,138.3L420.5,139.8L420.6,141.7L422.6,141.5L424.3,142.5L426.1,143.1L428.4,143.3L430.3,144.5M430.9,136.9L432.7,136.7L434.4,136.2L436.0,138.0L437.8,139.7L437.0,141.6L437.1,143.8L434.4,143.8M434.4,143.8L436.0,145.4L437.9,146.7L439.9,147.9L441.8,148.3L443.4,149.7L445.4,150.0L447.1,150.7L449.0,151.1L450.9,151.3L453.4,151.8L455.8,152.9L458.4,152.7L457.4,154.2L457.1,155.9L456.4,157.5L455.9,159.6L454.1,161.0L453.6,163.0L452.3,164.6L452.3,166.7L451.5,168.5L451.3,170.9L450.9,173.3M450.9,173.3L452.8,173.1L454.6,172.7L456.4,171.9L458.2,171.2L459.9,170.2L461.9,169.9L464.0,170.2L466.0,171.2L467.7,173.1L470.1,174.0L471.9,173.9L473.8,174.2L475.6,173.3L477.1,174.3L478.1,175.8L479.7,176.7L481.6,176.0L483.6,175.3L485.2,174.0L488.0,173.3M475.6,178.1L476.4,180.4L478.2,182.0"/>
<path fill="#000" stroke="none" d="M281.2,137.9L282.4,137.9L282.4,139.1L281.2,139.1ZM326.9,144.8L329.4,144.8L329.4,146.1L326.9,146.1ZM331.3,147.9L333.8,147.9L333.8,149.4L331.3,149.4ZM303.0,160.5L306.8,160.5L306.8,164.3L303.0,164.3ZM246.5,299.6L249.6,299.0L252.8,305.3L250.3,306.3L247.7,304.0ZM159.2,384.1L160.9,384.1L160.9,385.6L159.2,385.6ZM157.2,391.9L158.7,391.9L158.7,394.4L157.2,394.4ZM193.9,437.8L195.1,437.8L195.1,439.2L193.9,439.2ZM162.9,428.6L164.9,428.6L164.9,430.1L162.9,430.1ZM156.9,576.9L160.9,579.4L160.9,586.1L158.4,584.9ZM79.0,621.8L80.2,621.8L80.2,626.3L79.0,626.3ZM75.7,643.8L77.2,643.8L77.2,645.8L75.7,645.8ZM162.8,700.5L165.7,701.0L165.2,702.9L163.1,702.4ZM169.6,693.8L171.6,694.3L171.1,696.6L169.9,696.1ZM163.2,696.2L167.7,696.7L167.2,698.4L163.4,697.9ZM173.3,699.6L176.9,700.1L176.4,701.3L173.5,700.8ZM169.8,705.1L173.1,705.6L172.6,707.7L170.0,707.2ZM170.4,693.8L174.3,694.3L173.8,696.2L170.7,695.7ZM163.9,693.4L168.1,693.9L167.6,695.6L164.2,695.1ZM171.2,705.2L175.0,705.7L174.5,708.1L171.5,707.6ZM165.6,704.1L168.7,704.6L168.2,707.0L165.8,706.5ZM174.0,694.3L176.4,694.8L175.9,696.1L174.3,695.6ZM175.5,699.0L179.1,699.5L178.6,701.0L175.8,700.5ZM167.5,698.3L170.4,698.8L169.9,700.7L167.8,700.2ZM168.9,705.6L172.6,706.1L172.1,708.5L169.1,708.0ZM173.6,706.8L177.3,707.3L176.8,708.5L173.9,708.0ZM197.4,739.9L200.4,746.1L204.9,753.6L209.9,758.6L207.9,759.9L202.9,755.4L198.4,747.9ZM292.3,791.8L304.8,790.3L319.8,790.8L319.8,792.8L304.8,792.6L292.3,793.8ZM402.4,112.0L409.9,110.7L416.2,113.0L412.4,115.5L407.4,118.0L402.9,116.2ZM517.8,69.5L523.6,69.5L524.8,73.7L520.3,75.5L517.3,73.0ZM481.1,244.1L483.9,244.1L483.9,246.1L481.1,246.1ZM488.9,245.3L491.4,245.3L491.4,247.3L488.9,247.3ZM493.4,359.4L495.9,358.9L495.9,361.4L493.6,361.9ZM531.8,341.2L534.3,340.9L535.8,343.4L533.6,344.9L531.8,343.4ZM503.1,329.2L505.4,329.2L505.4,331.4L503.1,331.4ZM514.1,344.2L515.8,344.2L515.8,345.9L514.1,345.9ZM510.1,348.2L511.6,348.2L511.6,349.7L510.1,349.7ZM609.8,300.5L613.5,299.5L616.0,304.9L613.5,310.4L610.3,307.4ZM606.8,304.9L609.3,304.4L609.8,309.9L607.3,310.4ZM611.0,314.9L613.5,314.4L614.0,317.9L611.5,318.4ZM338.7,739.9L343.7,736.9L347.5,741.9L352.5,746.9L357.0,752.9L359.5,742.9L361.0,749.9L361.0,759.9L359.0,769.9L356.5,774.9L354.5,772.4L357.0,762.4L355.0,756.1L350.5,751.1L346.0,745.4L342.0,742.9ZM421.2,784.3L426.2,783.6L427.4,788.6L422.9,789.8ZM400.4,771.1L404.9,770.4L404.9,772.9L400.9,773.4ZM692.9,274.5L696.7,273.6L699.2,275.8L697.3,277.9L694.2,277.4ZM633.3,295.9L638.9,293.4L641.4,294.6L638.3,297.8L635.2,300.3L632.9,299.3ZM675.4,291.5L681.5,292.2L680.9,295.0L676.6,294.6ZM674.7,305.3L678.2,306.1L677.9,309.3L675.4,308.9ZM676.0,317.2L679.5,317.6L679.1,319.2L676.7,319.0ZM664.0,283.3L667.1,283.8L666.8,285.5L664.7,285.3ZM669.7,276.4L672.3,276.8L672.1,278.2L670.2,278.0ZM642.7,280.8L646.6,281.2L646.2,283.0L643.5,282.8ZM647.7,277.0L650.8,277.4L650.5,279.0L648.3,278.8ZM655.3,299.0L657.4,299.5L657.2,301.2L655.7,301.0ZM662.2,289.6L663.4,289.8L663.3,290.8L662.4,290.7ZM669.1,304.0L670.3,304.3L670.2,305.1L669.3,305.0ZM650.2,315.4L651.5,315.6L651.3,316.4L650.5,316.3ZM654.6,317.9L656.0,318.2L655.9,319.4L654.9,319.3ZM660.3,320.4L661.7,320.7L661.5,321.8L660.6,321.6ZM665.3,324.1L667.2,324.5L667.0,325.7L665.7,325.6ZM670.3,325.4L671.9,325.7L671.8,326.8L670.6,326.7ZM655.3,329.2L657.9,329.5L657.6,330.8L655.8,330.6ZM661.5,330.4L663.5,330.7L663.3,331.7L661.9,331.5ZM667.8,332.9L669.6,333.2L669.4,334.2L668.2,334.0ZM672.8,329.2L674.2,329.4L674.1,330.2L673.1,330.1ZM679.1,327.3L680.2,327.5L680.1,328.2L679.3,328.1ZM677.9,332.9L679.6,333.2L679.4,334.2L678.2,334.0ZM670.3,336.1L672.3,336.3L672.1,337.1L670.7,337.0ZM682.9,336.7L684.1,336.9L684.0,337.8L683.1,337.7ZM679.1,341.7L680.0,341.9L679.9,342.6L679.3,342.5ZM685.4,344.2L686.1,344.4L686.0,344.9L685.5,344.9ZM649.0,329.2L649.7,329.3L649.6,329.9L649.1,329.8ZM642.1,343.6L642.9,343.8L642.9,344.5L642.2,344.4ZM691.7,332.9L695.2,333.2L694.8,334.2L692.4,334.0ZM686.7,326.7L691.1,327.0L690.6,328.6L687.5,328.4ZM675.4,285.2L676.6,285.7L676.5,287.8L675.6,287.6ZM665.3,319.1L666.5,319.4L666.4,320.4L665.5,320.2ZM643.3,315.4L644.9,316.1L644.7,318.9L643.6,318.5ZM729.4,408.1L739.9,407.9L754.4,412.1L754.1,413.6L739.9,409.6L729.9,409.9ZM766.1,460.0L769.9,459.5L773.6,465.0L771.9,467.5L767.9,463.7ZM866.6,622.1L869.3,622.3L869.1,624.5L866.8,624.3ZM865.8,623.3L867.2,623.6L867.0,625.4L866.1,625.2ZM867.1,625.3L869.7,625.5L869.5,626.9L867.3,626.6ZM865.2,623.3L866.5,623.6L866.3,625.2L865.5,624.9ZM863.7,620.0L865.1,620.3L864.8,622.2L864.0,622.0ZM843.9,623.6L845.2,623.9L844.9,625.4L844.2,625.2ZM843.0,625.2L845.9,625.4L845.7,627.3L843.3,627.0ZM857.3,591.0L859.8,591.3L859.5,592.4L857.6,592.1ZM858.3,592.7L861.1,592.9L860.8,594.9L858.5,594.7ZM857.0,588.9L858.4,589.1L858.2,590.9L857.3,590.6ZM830.2,530.6L831.8,530.8L831.5,532.0L830.4,531.8ZM830.7,530.4L832.0,530.7L831.7,531.9L831.0,531.6ZM830.3,533.5L831.6,533.8L831.3,535.9L830.5,535.6ZM845.3,636.2L848.9,636.5L848.7,638.5L845.6,638.3ZM846.2,636.8L848.1,637.1L847.8,639.2L846.4,638.9ZM848.0,641.1L849.7,641.4L849.5,643.1L848.2,642.9ZM839.9,641.5L843.0,641.7L842.7,643.0L840.2,642.8ZM853.3,644.7L856.2,645.0L856.0,647.3L853.5,647.0ZM841.4,629.6L843.0,629.8L842.7,631.9L841.7,631.6ZM845.2,642.2L847.8,642.4L847.6,644.8L845.4,644.5ZM846.0,638.4L848.6,638.6L848.3,640.4L846.3,640.1ZM853.5,645.4L856.9,645.6L856.6,648.1L853.8,647.9ZM843.3,629.3L845.4,629.5L845.2,630.9L843.5,630.7ZM850.0,632.9L853.4,633.1L853.2,635.1L850.3,634.8ZM852.9,642.3L854.4,642.5L854.2,644.1L853.2,643.9ZM852.2,634.3L855.9,634.6L855.6,636.5L852.4,636.3ZM839.6,637.7L842.9,637.9L842.6,639.7L839.9,639.4ZM839.9,631.5L843.5,631.7L843.3,634.3L840.1,634.0ZM840.3,629.6L842.0,629.9L841.8,631.3L840.6,631.0ZM850.5,628.2L853.3,628.5L853.0,630.5L850.7,630.2ZM841.4,639.8L843.2,640.1L843.0,642.5L841.7,642.2ZM840.3,633.3L842.3,633.6L842.0,635.3L840.5,635.0ZM853.1,641.3L855.3,641.6L855.0,644.4L853.4,644.1ZM841.7,632.8L845.1,633.0L844.9,635.4L842.0,635.1ZM840.1,645.2L842.0,645.5L841.8,647.2L840.3,646.9ZM850.1,631.4L852.3,631.6L852.0,633.0L850.4,632.8ZM839.9,636.7L841.9,637.0L841.7,639.3L840.2,639.0ZM844.1,634.0L847.8,634.2L847.5,636.3L844.4,636.1ZM847.2,642.7L849.1,642.9L848.8,644.4L847.4,644.2ZM852.2,641.6L854.2,641.9L854.0,643.5L852.4,643.2ZM849.6,644.2L851.6,644.5L851.3,647.4L849.9,647.1ZM851.8,637.1L854.2,637.4L854.0,638.8L852.0,638.6ZM865.3,630.7L867.3,630.9L867.0,633.4L865.5,633.1ZM868.0,628.6L870.8,628.8L870.6,630.6L868.2,630.3ZM871.8,629.0L874.6,629.3L874.4,631.0L872.0,630.8ZM873.5,630.7L875.1,630.9L874.8,633.3L873.8,633.0ZM878.5,666.7L880.7,666.9L880.4,669.9L878.7,669.7ZM877.2,665.3L880.4,665.5L880.2,668.4L877.5,668.1ZM879.2,666.5L882.5,666.7L882.3,669.6L879.5,669.3ZM936.4,199.4L942.7,196.9L948.9,192.9L955.9,188.4L956.7,189.6L950.2,194.4L943.9,198.9L937.7,201.4ZM934.7,224.9L938.4,223.6L940.2,229.9L937.7,232.9L935.4,229.9ZM947.9,427.8L951.9,424.8L954.9,426.3L952.4,430.3L949.4,431.3ZM968.4,483.7L971.4,486.2L973.9,499.9L980.2,506.2L978.9,507.9L972.7,502.4L969.4,492.4ZM1030.1,475.0L1046.4,472.0L1046.9,474.5L1038.9,477.5L1031.4,478.0ZM1013.9,482.5L1016.1,482.5L1016.1,484.2L1013.9,484.2ZM1020.1,486.2L1022.4,486.2L1022.4,488.0L1020.1,488.0ZM1023.9,492.4L1026.1,492.4L1026.1,494.2L1023.9,494.2ZM1017.6,491.2L1019.9,491.2L1019.9,492.9L1017.6,492.9ZM1028.9,488.7L1031.1,488.7L1031.1,490.4L1028.9,490.4ZM1008.9,509.9L1011.1,509.9L1011.1,511.7L1008.9,511.7ZM1013.9,512.4L1016.1,512.4L1016.1,514.2L1013.9,514.2ZM998.9,509.9L1001.1,509.9L1001.1,511.7L998.9,511.7ZM979.4,712.9L983.9,713.7L983.9,716.4L979.9,716.4ZM991.9,688.2L994.9,688.2L994.9,689.7L991.9,689.7ZM996.9,688.9L998.9,688.9L998.9,690.2L996.9,690.2ZM1002.9,689.4L1004.9,689.4L1004.9,690.7L1002.9,690.7ZM708.5,211.1L712.7,210.4L712.0,214.6L709.9,218.7L708.4,218.4ZM720.9,200.1L729.8,193.3L730.7,194.2L722.3,201.1ZM744.3,177.2L745.6,177.5L747.0,181.6L748.4,185.4L750.4,188.2L755.2,186.0L755.9,186.8L751.1,190.1L746.3,190.9L742.9,190.1L742.2,188.5L745.2,187.4L746.6,186.0L745.2,181.9ZM769.7,191.9L775.2,192.3L780.6,194.2L785.0,199.2L787.8,204.7L789.2,207.0L786.1,206.6L783.4,202.5L779.3,198.3L773.8,195.6ZM802.6,204.9L806.7,204.1L810.9,204.8L816.4,204.1L817.2,206.3L810.9,207.1L805.4,207.1ZM1002.8,189.8L1004.1,189.8L1004.1,191.8L1002.8,191.8ZM1006.0,286.9L1010.9,287.7L1010.6,289.7L1006.7,290.3ZM1075.1,202.9L1079.2,201.2L1080.8,206.1L1078.3,212.6L1075.9,217.5L1074.3,214.3L1076.7,208.6ZM953.8,422.6L958.0,422.7L957.8,427.4L954.0,427.2ZM943.5,430.1L947.4,430.2L947.2,434.0L943.7,433.8ZM956.3,466.1L961.0,470.6L965.1,474.9L968.1,479.3L969.5,484.8L972.2,491.6L973.6,497.1L976.1,502.4L975.0,502.9L972.2,497.4L970.9,491.9L967.9,485.3L966.2,480.1L963.5,476.3L959.3,472.1L955.5,467.5ZM969.2,484.4L973.3,484.5L973.2,490.5L969.4,490.4ZM1030.8,475.4L1037.6,472.0L1043.1,471.0L1045.9,472.7L1040.4,474.3L1034.9,477.1ZM1015.0,513.6L1021.1,509.8L1024.6,507.3L1025.3,508.7L1021.8,511.8L1016.3,515.3ZM1019.1,488.5L1020.5,488.6L1020.3,489.6L1019.2,489.4ZM1022.5,490.3L1023.9,490.4L1023.8,491.4L1022.7,491.2ZM1026.6,489.2L1028.0,489.3L1027.9,490.3L1026.8,490.1ZM1028.7,491.2L1030.1,491.4L1029.9,492.3L1028.8,492.2ZM1021.1,491.9L1022.5,492.0L1022.4,493.0L1021.3,492.9ZM994.4,509.1L995.7,509.2L995.6,510.2L994.5,510.0ZM997.8,511.1L999.2,511.3L999.0,512.2L997.9,512.1ZM1001.2,512.8L1002.6,512.9L1002.5,513.9L1001.4,513.8ZM1005.3,511.8L1006.7,512.0L1006.6,512.9L1005.5,512.8ZM1008.8,513.2L1010.2,513.3L1010.0,514.3L1008.9,514.2ZM996.4,491.9L997.8,492.0L997.7,493.0L996.6,492.9ZM1001.9,502.9L1003.3,503.0L1003.1,504.0L1002.0,503.9ZM1034.9,479.6L1036.2,479.7L1036.1,480.7L1035.0,480.5ZM1039.0,480.9L1040.4,481.1L1040.2,482.0L1039.1,481.9ZM1041.7,483.0L1043.1,483.1L1043.0,484.1L1041.9,483.9ZM545.9,238.3L547.2,238.5L547.0,239.3L546.1,239.2ZM551.4,239.2L552.7,239.3L552.5,240.1L551.6,240.0ZM556.9,241.1L558.1,241.2L558.0,242.1L557.0,241.9ZM562.4,242.9L563.6,243.0L563.5,243.8L562.5,243.7ZM554.9,238.1L556.1,238.2L556.0,239.0L555.0,238.9ZM482.7,242.9L484.0,243.0L483.8,243.8L482.9,243.7ZM484.8,249.1L486.0,249.2L485.9,250.0L484.9,249.9ZM491.7,249.1L492.9,249.2L492.8,250.0L491.8,249.9ZM532.9,303.7L534.1,303.9L534.0,304.7L533.0,304.5ZM536.3,304.3L537.5,304.4L537.4,305.2L536.4,305.1ZM540.4,303.2L541.7,303.3L541.5,304.1L540.6,304.0ZM545.9,304.0L547.2,304.1L547.0,305.0L546.1,304.8ZM509.7,225.4L511.0,225.6L510.9,226.5L509.8,226.4ZM331.6,142.0L333.0,142.1L332.9,143.1L331.8,143.0ZM331.9,148.4L334.1,148.6L334.0,149.7L332.1,149.5ZM401.4,111.9L409.7,112.1L409.5,114.1L401.6,114.0ZM404.9,114.3L414.5,114.4L414.3,116.2L405.0,116.0ZM402.8,116.6L409.7,116.7L409.5,118.2L402.9,118.1ZM412.4,111.1L417.4,111.2L417.2,112.5L412.5,112.3ZM459.8,67.6L461.7,67.7L461.6,68.9L459.9,68.8ZM461.9,70.3L463.8,70.4L463.6,71.7L462.0,71.5ZM460.5,73.0L462.4,73.2L462.3,74.4L460.6,74.3ZM463.9,73.7L465.8,73.9L465.7,75.1L464.0,75.0ZM466.0,76.5L467.9,76.6L467.8,77.9L466.1,77.7ZM479.0,66.9L480.9,67.0L480.8,68.2L479.2,68.1ZM482.5,69.6L484.4,69.8L484.2,71.0L482.6,70.9ZM486.6,68.2L488.5,68.4L488.4,69.6L486.7,69.5ZM481.1,73.0L483.0,73.2L482.9,74.4L481.2,74.3ZM487.9,73.7L489.9,73.9L489.7,75.1L488.1,75.0ZM454.3,76.2L456.2,76.3L456.1,77.6L454.4,77.4ZM457.5,85.4L459.4,85.5L459.2,86.8L457.6,86.6Z"/>
</g>
<g id="wind" stroke="#a4a4a4" stroke-width="1.45" fill="none" stroke-linecap="round" stroke-linejoin="round">
<path d="M54.8,795.0 L53.0,777.8 M50.5,784.4 L53.0,777.8 L56.8,783.7M79.1,795.0 L76.8,776.5 M74.4,783.0 L76.8,776.5 L80.7,782.3M103.3,795.0 L100.6,775.1 M98.3,781.7 L100.6,775.1 L104.6,780.8M127.7,795.0 L122.0,774.4 M120.6,781.3 L122.0,774.4 L126.7,779.6M151.9,795.0 L143.4,773.7 M142.8,780.7 L143.4,773.7 L148.6,778.3M176.2,795.0 L169.9,774.4 M168.7,781.3 L169.9,774.4 L174.8,779.4M200.5,795.0 L196.4,775.1 M194.6,781.8 L196.4,775.1 L200.8,780.5M224.8,795.0 L223.0,779.2 M220.5,785.8 L223.0,779.2 L226.9,785.0M249.1,795.0 L249.5,783.3 M246.1,789.5 L249.5,783.3 L252.5,789.7M273.4,795.0 L273.3,784.4 M270.2,790.6 L273.3,784.4 L276.6,790.5M297.8,795.0 L297.1,785.4 M294.3,791.8 L297.1,785.4 L300.7,791.4M322.1,795.0 L322.6,788.5 M318.9,794.4 L322.6,788.5 L325.2,794.9M346.4,795.0 L348.1,791.6 M342.4,795.7 L348.1,791.6 L348.1,798.6M370.6,795.0 L372.9,792.4 M366.4,795.1 L372.9,792.4 L371.2,799.2M394.9,795.0 L397.7,793.3 M390.7,793.9 L397.7,793.3 L394.1,799.3M832.4,795.0 L832.4,791.6 M829.2,797.8 L832.4,791.6 L835.5,797.8M856.7,795.0 L857.7,787.8 M853.7,793.5 L857.7,787.8 L859.9,794.4M881.0,795.0 L883.0,784.0 M878.7,789.6 L883.0,784.0 L885.0,790.7M905.2,795.0 L908.0,781.8 M903.6,787.2 L908.0,781.8 L909.8,788.5M929.6,795.0 L933.0,779.5 M928.5,784.9 L933.0,779.5 L934.7,786.3M953.9,795.0 L962.4,776.1 M957.0,780.5 L962.4,776.1 L962.7,783.1M978.1,795.0 L991.9,772.7 M985.9,776.3 L991.9,772.7 L991.3,779.7M1002.5,795.0 L1017.0,776.1 M1010.7,779.1 L1017.0,776.1 L1015.7,783.0M1026.8,795.0 L1042.2,779.5 M1035.5,781.7 L1042.2,779.5 L1040.0,786.2M1051.1,795.0 L1067.4,782.5 M1060.5,783.7 L1067.4,782.5 L1064.3,788.8M1075.3,795.0 L1092.5,785.4 M1085.5,785.7 L1092.5,785.4 L1088.6,791.2M54.8,765.8 L59.9,755.5 M54.3,759.7 L59.9,755.5 L60.0,762.5M79.1,765.8 L83.5,754.4 M78.3,759.0 L83.5,754.4 L84.2,761.3M103.3,765.8 L107.1,753.3 M102.3,758.3 L107.1,753.3 L108.4,760.2M127.7,765.8 L129.5,749.1 M125.7,754.9 L129.5,749.1 L132.0,755.6M151.9,765.8 L151.9,744.9 M148.8,751.1 L151.9,744.9 L155.1,751.1M176.2,765.8 L175.5,749.1 M172.6,755.5 L175.5,749.1 L178.9,755.2M200.5,765.8 L199.0,753.4 M196.6,760.0 L199.0,753.4 L202.9,759.2M224.8,765.8 L225.2,756.0 M221.8,762.1 L225.2,756.0 L228.2,762.4M249.1,765.8 L251.4,758.6 M246.5,763.6 L251.4,758.6 L252.6,765.5M273.4,765.8 L275.6,759.0 M270.7,764.0 L275.6,759.0 L276.7,765.9M297.8,765.8 L299.8,759.4 M294.9,764.4 L299.8,759.4 L300.9,766.4M322.1,765.8 L324.8,761.5 M318.8,765.0 L324.8,761.5 L324.1,768.5M346.4,765.8 L349.8,763.6 M342.8,764.3 L349.8,763.6 L346.3,769.6M370.6,765.8 L375.1,764.1 M368.2,763.4 L375.1,764.1 L370.4,769.3M394.9,765.8 L400.4,764.6 M393.7,762.8 L400.4,764.6 L395.0,769.0M419.2,765.8 L424.6,765.0 M417.9,762.8 L424.6,765.0 L418.9,769.1M443.6,765.8 L448.7,765.5 M442.3,762.7 L448.7,765.5 L442.7,769.0M467.9,765.8 L472.1,765.5 M465.7,762.8 L472.1,765.5 L466.2,769.1M710.9,765.8 L712.9,764.3 M706.0,765.5 L712.9,764.3 L709.8,770.5M735.2,765.8 L737.2,764.1 M730.4,765.6 L737.2,764.1 L734.5,770.5M759.5,765.8 L760.7,764.4 M754.2,766.8 L760.7,764.4 L758.8,771.2M783.8,765.8 L784.3,764.8 M778.6,768.9 L784.3,764.8 L784.3,771.8M808.0,765.8 L808.7,763.7 M803.7,768.7 L808.7,763.7 L809.8,770.7M832.4,765.8 L833.2,762.7 M828.5,767.9 L833.2,762.7 L834.6,769.6M856.7,765.8 L858.1,759.6 M853.6,765.0 L858.1,759.6 L859.8,766.4M881.0,765.8 L883.0,756.5 M878.6,761.9 L883.0,756.5 L884.8,763.3M905.2,765.8 L908.0,754.9 M903.4,760.2 L908.0,754.9 L909.6,761.7M929.6,765.8 L933.0,753.3 M928.3,758.4 L933.0,753.3 L934.4,760.1M953.9,765.8 L962.4,747.9 M956.9,752.2 L962.4,747.9 L962.6,754.9M978.1,765.8 L991.9,742.6 M986.0,746.4 L991.9,742.6 L991.4,749.6M1002.5,765.8 L1018.2,744.2 M1011.9,747.3 L1018.2,744.2 L1017.1,751.1M1026.8,765.8 L1044.4,745.7 M1037.9,748.3 L1044.4,745.7 L1042.7,752.5M1051.1,765.8 L1071.1,749.1 M1064.2,750.6 L1071.1,749.1 L1068.3,755.5M1075.3,765.8 L1097.7,752.4 M1090.7,752.9 L1097.7,752.4 L1094.0,758.3M54.8,736.6 L66.8,733.2 M59.9,731.8 L66.8,733.2 L61.6,737.9M79.1,736.6 L90.2,732.3 M83.2,731.6 L90.2,732.3 L85.5,737.5M103.3,736.6 L113.7,731.4 M106.7,731.4 L113.7,731.4 L109.5,737.1M127.7,736.6 L137.1,723.7 M130.8,726.9 L137.1,723.7 L136.0,730.6M151.9,736.6 L160.5,716.0 M155.2,720.5 L160.5,716.0 L161.1,723.0M176.2,736.6 L181.1,723.9 M175.9,728.6 L181.1,723.9 L181.8,730.9M200.5,736.6 L201.6,731.8 M197.2,737.2 L201.6,731.8 L203.4,738.6M224.8,736.6 L227.4,732.8 M221.3,736.2 L227.4,732.8 L226.5,739.8M249.1,736.6 L253.3,733.9 M246.3,734.7 L253.3,733.9 L249.8,740.0M273.4,736.6 L277.9,733.7 M271.0,734.4 L277.9,733.7 L274.4,739.8M297.8,736.6 L302.6,733.5 M295.6,734.2 L302.6,733.5 L299.0,739.6M322.1,736.6 L327.0,734.5 M320.1,734.0 L327.0,734.5 L322.5,739.9M346.4,736.6 L351.5,735.6 M344.8,733.7 L351.5,735.6 L346.0,739.9M370.6,736.6 L377.3,735.7 M370.8,733.4 L377.3,735.7 L371.6,739.7M394.9,736.6 L403.2,735.9 M396.7,733.3 L403.2,735.9 L397.2,739.6M419.2,736.6 L426.8,736.8 M420.6,733.5 L426.8,736.8 L420.5,739.8M443.6,736.6 L450.4,737.6 M444.7,733.6 L450.4,737.6 L443.8,739.8M467.9,736.6 L474.7,736.8 M468.6,733.4 L474.7,736.8 L468.4,739.8M492.1,736.6 L499.0,735.9 M492.5,733.4 L499.0,735.9 L493.1,739.7M516.5,736.6 L522.5,736.6 M516.2,733.4 L522.5,736.6 L516.2,739.8M540.8,736.6 L545.9,737.3 M540.1,733.3 L545.9,737.3 L539.3,739.6M565.0,736.6 L569.0,736.9 M563.1,733.2 L569.0,736.9 L562.5,739.6M589.4,736.6 L592.1,736.6 M585.9,733.4 L592.1,736.6 L585.9,739.8M613.6,736.6 L616.4,737.1 M610.9,732.8 L616.4,737.1 L609.7,739.1M638.0,736.6 L640.7,737.6 M636.0,732.5 L640.7,737.6 L633.7,738.4M662.2,736.6 L665.7,735.7 M658.9,734.2 L665.7,735.7 L660.4,740.3M686.5,736.6 L690.7,733.9 M683.7,734.7 L690.7,733.9 L687.2,740.0M710.9,736.6 L715.0,733.5 M708.1,734.7 L715.0,733.5 L711.9,739.8M735.2,736.6 L739.3,733.2 M732.4,734.7 L739.3,733.2 L736.5,739.6M759.5,736.6 L762.0,733.9 M755.4,736.2 L762.0,733.9 L760.1,740.6M783.8,736.6 L784.8,734.5 M779.1,738.7 L784.8,734.5 L784.8,741.5M808.0,736.6 L809.4,734.2 M803.6,738.0 L809.4,734.2 L809.1,741.2M832.4,736.6 L834.1,733.9 M828.1,737.5 L834.1,733.9 L833.5,740.8M856.7,736.6 L858.5,731.4 M853.4,736.2 L858.5,731.4 L859.4,738.4M881.0,736.6 L883.0,729.0 M878.3,734.2 L883.0,729.0 L884.4,735.9M905.2,736.6 L908.0,728.0 M903.1,733.0 L908.0,728.0 L909.1,734.9M929.6,736.6 L933.0,727.0 M927.9,731.8 L933.0,727.0 L933.9,733.9M953.9,736.6 L962.4,719.8 M956.8,723.9 L962.4,719.8 L962.4,726.8M978.1,736.6 L991.9,712.6 M986.0,716.4 L991.9,712.6 L991.5,719.6M1002.5,736.6 L1019.3,712.2 M1013.1,715.6 L1019.3,712.2 L1018.3,719.2M1026.8,736.6 L1046.7,711.9 M1040.3,714.7 L1046.7,711.9 L1045.2,718.7M1051.1,736.6 L1074.7,715.7 M1068.0,717.4 L1074.7,715.7 L1072.2,722.2M1075.3,736.6 L1102.8,719.4 M1095.8,720.0 L1102.8,719.4 L1099.2,725.4M1099.7,736.6 L1127.1,719.4 M1120.1,720.0 L1127.1,719.4 L1123.5,725.4M54.8,707.4 L65.6,707.1 M59.2,704.1 L65.6,707.1 L59.4,710.4M79.1,707.4 L89.6,706.5 M83.1,703.8 L89.6,706.5 L83.7,710.2M103.3,707.4 L113.7,705.9 M107.0,703.6 L113.7,705.9 L108.0,709.9M127.7,707.4 L136.7,701.2 M129.7,702.1 L136.7,701.2 L133.3,707.4M151.9,707.4 L159.7,696.6 M153.5,699.8 L159.7,696.6 L158.6,703.5M176.2,707.4 L182.8,698.0 M176.6,701.3 L182.8,698.0 L181.8,704.9M200.5,707.4 L205.9,699.3 M199.8,702.8 L205.9,699.3 L205.1,706.3M224.8,707.4 L229.4,702.3 M222.9,704.9 L229.4,702.3 L227.6,709.1M249.1,707.4 L252.9,705.3 M245.9,705.5 L252.9,705.3 L249.0,711.1M273.4,707.4 L277.7,705.2 M270.7,705.2 L277.7,705.2 L273.7,710.9M297.8,707.4 L302.6,705.0 M295.6,704.9 L302.6,705.0 L298.4,710.6M322.1,707.4 L326.8,705.3 M319.8,704.9 L326.8,705.3 L322.4,710.7M346.4,707.4 L351.0,705.5 M344.0,704.9 L351.0,705.5 L346.4,710.8M370.6,707.4 L376.1,705.9 M369.2,704.5 L376.1,705.9 L370.9,710.6M394.9,707.4 L401.1,706.4 M394.5,704.3 L401.1,706.4 L395.5,710.5M419.2,707.4 L424.4,706.5 M417.7,704.5 L424.4,706.5 L418.8,710.7M443.6,707.4 L447.7,706.5 M440.9,704.7 L447.7,706.5 L442.2,710.9M467.9,707.4 L472.5,706.4 M465.7,704.6 L472.5,706.4 L467.1,710.8M492.1,707.4 L497.3,706.2 M490.5,704.5 L497.3,706.2 L491.9,710.7M516.5,707.4 L521.5,706.6 M514.9,704.4 L521.5,706.6 L515.8,710.7M540.8,707.4 L545.7,707.1 M539.3,704.3 L545.7,707.1 L539.7,710.7M565.0,707.4 L569.3,707.0 M562.8,704.4 L569.3,707.0 L563.5,710.8M589.4,707.4 L593.0,706.9 M586.3,704.6 L593.0,706.9 L587.2,710.9M613.6,707.4 L617.4,706.5 M610.6,704.8 L617.4,706.5 L612.0,711.0M638.0,707.4 L641.9,706.2 M635.0,705.0 L641.9,706.2 L636.9,711.1M662.2,707.4 L665.5,705.1 M658.6,706.1 L665.5,705.1 L662.3,711.3M686.5,707.4 L689.1,704.0 M682.8,707.0 L689.1,704.0 L687.9,710.9M710.9,707.4 L713.4,703.8 M707.2,707.0 L713.4,703.8 L712.4,710.7M735.2,707.4 L737.7,703.6 M731.6,707.0 L737.7,703.6 L736.8,710.6M759.5,707.4 L761.4,704.3 M755.4,707.9 L761.4,704.3 L760.7,711.3M783.8,707.4 L785.1,705.0 M779.3,708.8 L785.1,705.0 L784.8,712.0M808.0,707.4 L808.7,704.5 M804.2,709.8 L808.7,704.5 L810.4,711.3M832.4,707.4 L832.4,704.0 M829.2,710.2 L832.4,704.0 L835.5,710.2M856.7,707.4 L858.2,704.1 M852.7,708.4 L858.2,704.1 L858.5,711.0M881.0,707.4 L884.0,704.1 M877.4,706.5 L884.0,704.1 L882.1,710.9M905.2,707.4 L909.4,704.1 M902.5,705.5 L909.4,704.1 L906.5,710.5M929.6,707.4 L934.7,704.0 M927.7,704.8 L934.7,704.0 L931.3,710.1M953.9,707.4 L958.6,695.0 M953.4,699.7 L958.6,695.0 L959.3,701.9M978.1,707.4 L982.4,685.9 M978.1,691.4 L982.4,685.9 L984.3,692.7M1002.5,707.4 L1013.0,684.5 M1007.5,688.8 L1013.0,684.5 L1013.3,691.5M1026.8,707.4 L1043.6,683.0 M1037.4,686.4 L1043.6,683.0 L1042.6,690.0M1051.1,707.4 L1073.6,685.6 M1066.9,687.6 L1073.6,685.6 L1071.3,692.2M1075.3,707.4 L1103.7,688.2 M1096.7,689.0 L1103.7,688.2 L1100.3,694.3M1099.7,707.4 L1127.7,688.9 M1120.7,689.6 L1127.7,688.9 L1124.2,695.0M1124.0,707.4 L1151.4,690.2 M1144.4,690.8 L1151.4,690.2 L1147.8,696.2M1148.2,707.4 L1175.7,690.2 M1168.7,690.8 L1175.7,690.2 L1172.1,696.2M54.8,678.2 L64.4,680.9 M59.2,676.2 L64.4,680.9 L57.5,682.3M79.1,678.2 L89.0,680.6 M83.7,676.1 L89.0,680.6 L82.2,682.2M103.3,678.2 L113.7,680.3 M108.2,675.9 L113.7,680.3 L106.9,682.2M127.7,678.2 L136.2,678.7 M130.2,675.2 L136.2,678.7 L129.8,681.5M151.9,678.2 L158.8,677.2 M152.2,675.0 L158.8,677.2 L153.1,681.2M176.2,678.2 L184.5,672.0 M177.6,673.2 L184.5,672.0 L181.4,678.3M200.5,678.2 L210.2,666.9 M203.7,669.6 L210.2,666.9 L208.6,673.7M224.8,678.2 L231.4,671.8 M224.7,673.9 L231.4,671.8 L229.1,678.5M249.1,678.2 L252.6,676.8 M245.6,676.2 L252.6,676.8 L248.0,682.1M273.4,678.2 L277.6,676.7 M270.6,675.9 L277.6,676.7 L272.8,681.8M297.8,678.2 L302.6,676.5 M295.6,675.6 L302.6,676.5 L297.8,681.6M322.1,678.2 L326.5,676.0 M319.5,675.9 L326.5,676.0 L322.4,681.6M346.4,678.2 L350.5,675.5 M343.5,676.3 L350.5,675.5 L347.0,681.6M370.6,678.2 L374.8,676.1 M367.8,676.1 L374.8,676.1 L370.6,681.8M394.9,678.2 L399.1,676.8 M392.1,675.8 L399.1,676.8 L394.2,681.8M419.2,678.2 L422.0,676.1 M415.1,677.3 L422.0,676.1 L418.9,682.4M443.6,678.2 L444.9,675.5 M439.3,679.6 L444.9,675.5 L445.0,682.5M467.9,678.2 L470.3,676.0 M463.5,677.9 L470.3,676.0 L467.8,682.5M492.1,678.2 L495.6,676.5 M488.6,676.4 L495.6,676.5 L491.4,682.1M516.5,678.2 L520.6,676.7 M513.6,675.9 L520.6,676.7 L515.8,681.8M540.8,678.2 L545.6,676.8 M538.7,675.5 L545.6,676.8 L540.4,681.6M565.0,678.2 L569.7,677.0 M562.9,675.5 L569.7,677.0 L564.4,681.6M589.4,678.2 L593.8,677.2 M587.0,675.5 L593.8,677.2 L588.5,681.7M613.6,678.2 L618.5,676.0 M611.5,675.7 L618.5,676.0 L614.1,681.5M638.0,678.2 L643.1,674.8 M636.1,675.6 L643.1,674.8 L639.7,680.9M662.2,678.2 L665.3,674.4 M658.9,677.2 L665.3,674.4 L663.9,681.3M686.5,678.2 L687.6,674.1 M683.0,679.4 L687.6,674.1 L689.2,680.9M710.9,678.2 L711.9,674.1 M707.3,679.4 L711.9,674.1 L713.5,680.9M735.2,678.2 L736.2,674.1 M731.6,679.4 L736.2,674.1 L737.8,680.9M759.5,678.2 L760.8,674.8 M755.6,679.4 L760.8,674.8 L761.5,681.7M783.8,678.2 L785.5,675.5 M779.5,679.1 L785.5,675.5 L784.9,682.4M808.0,678.2 L808.0,674.8 M804.9,681.0 L808.0,674.8 L811.2,681.0M832.4,678.2 L830.6,674.1 M830.1,681.1 L830.6,674.1 L836.0,678.6M856.7,678.2 L857.9,676.7 M851.5,679.6 L857.9,676.7 L856.5,683.5M881.0,678.2 L885.1,679.2 M879.8,674.6 L885.1,679.2 L878.2,680.8M905.2,678.2 L910.7,680.1 M905.9,675.1 L910.7,680.1 L903.8,681.1M929.6,678.2 L936.4,680.9 M931.8,675.7 L936.4,680.9 L929.4,681.6M953.9,678.2 L954.7,670.1 M950.9,676.0 L954.7,670.1 L957.2,676.7M978.1,678.2 L973.0,659.3 M971.6,666.2 L973.0,659.3 L977.7,664.5M1002.5,678.2 L1006.7,656.7 M1002.4,662.2 L1006.7,656.7 L1008.6,663.5M1026.8,678.2 L1040.5,654.2 M1034.6,658.0 L1040.5,654.2 L1040.1,661.2M1051.1,678.2 L1072.5,655.5 M1065.9,657.9 L1072.5,655.5 L1070.5,662.3M1075.3,678.2 L1104.5,656.9 M1097.6,658.0 L1104.5,656.9 L1101.4,663.2M1099.7,678.2 L1128.0,659.0 M1121.0,659.8 L1128.0,659.0 L1124.6,665.1M1124.0,678.2 L1151.4,661.0 M1144.4,661.6 L1151.4,661.0 L1147.8,667.0M1148.2,678.2 L1175.7,661.0 M1168.7,661.6 L1175.7,661.0 L1172.1,667.0M54.8,649.0 L58.7,658.1 M59.1,651.1 L58.7,658.1 L53.3,653.6M79.1,649.0 L83.3,656.5 M83.0,649.5 L83.3,656.5 L77.4,652.6M103.3,649.0 L107.8,654.8 M106.5,648.0 L107.8,654.8 L101.5,651.8M127.7,649.0 L133.5,651.0 M128.6,646.0 L133.5,651.0 L126.6,652.0M151.9,649.0 L159.2,647.1 M152.3,645.6 L159.2,647.1 L153.9,651.8M176.2,649.0 L184.6,643.2 M177.6,644.1 L184.6,643.2 L181.3,649.3M200.5,649.0 L210.0,639.2 M203.4,641.5 L210.0,639.2 L207.9,645.9M224.8,649.0 L233.7,642.6 M226.8,643.7 L233.7,642.6 L230.5,648.8M249.1,649.0 L257.4,645.9 M250.4,645.1 L257.4,645.9 L252.7,651.1M273.4,649.0 L280.8,647.0 M274.0,645.6 L280.8,647.0 L275.6,651.7M297.8,649.0 L304.3,648.1 M297.7,645.8 L304.3,648.1 L298.5,652.1M322.1,649.0 L328.1,648.6 M321.6,645.8 L328.1,648.6 L322.1,652.2M346.4,649.0 L351.8,649.0 M345.6,645.8 L351.8,649.0 L345.6,652.2M370.6,649.0 L375.6,649.7 M369.9,645.7 L375.6,649.7 L369.0,652.0M394.9,649.0 L399.4,650.4 M394.4,645.5 L399.4,650.4 L392.5,651.6M419.2,649.0 L421.7,647.5 M414.7,648.2 L421.7,647.5 L418.1,653.5M443.6,649.0 L443.9,644.5 M440.2,650.5 L443.9,644.5 L446.6,651.0M467.9,649.0 L468.5,645.1 M464.4,650.8 L468.5,645.1 L470.6,651.8M492.1,649.0 L493.0,645.7 M488.3,651.0 L493.0,645.7 L494.5,652.6M516.5,649.0 L518.9,647.3 M512.0,648.2 L518.9,647.3 L515.6,653.4M540.8,649.0 L544.9,648.8 M538.5,645.9 L544.9,648.8 L538.8,652.3M565.0,649.0 L568.6,649.5 M562.9,645.5 L568.6,649.5 L561.9,651.8M589.4,649.0 L592.3,650.2 M587.7,644.9 L592.3,650.2 L585.3,650.8M613.6,649.0 L616.1,650.1 M611.7,644.7 L616.1,650.1 L609.1,650.5M638.0,649.0 L640.0,650.0 M635.9,644.4 L640.0,650.0 L633.0,650.1M662.2,649.0 L663.8,649.8 M659.6,644.1 L663.8,649.8 L656.8,649.8M686.5,649.0 L687.6,649.5 M683.4,643.9 L687.6,649.5 L680.6,649.6M710.9,649.0 L712.7,649.4 M707.4,644.9 L712.7,649.4 L706.0,651.1M735.2,649.0 L737.9,649.3 M732.1,645.4 L737.9,649.3 L731.3,651.7M759.5,649.0 L762.4,649.5 M756.8,645.3 L762.4,649.5 L755.7,651.6M783.8,649.0 L786.8,649.7 M781.4,645.2 L786.8,649.7 L780.1,651.4M808.0,649.0 L809.5,649.9 M805.7,644.0 L809.5,649.9 L802.5,649.4M832.4,649.0 L832.2,650.0 M836.3,644.4 L832.2,650.0 L830.1,643.4M856.7,649.0 L858.0,650.6 M856.4,643.8 L858.0,650.6 L851.6,647.9M881.0,649.0 L883.9,651.2 M880.8,644.9 L883.9,651.2 L877.0,650.0M905.2,649.0 L908.3,648.7 M901.9,646.1 L908.3,648.7 L902.4,652.4M929.6,649.0 L932.8,646.3 M926.0,647.8 L932.8,646.3 L930.1,652.7M953.9,649.0 L954.5,639.9 M950.9,645.9 L954.5,639.9 L957.2,646.4M978.1,649.0 L976.3,633.5 M973.9,640.1 L976.3,633.5 L980.2,639.4M1002.5,649.0 L1008.4,629.7 M1003.5,634.7 L1008.4,629.7 L1009.6,636.6M1026.8,649.0 L1040.5,625.8 M1034.6,629.6 L1040.5,625.8 L1040.0,632.8M1051.1,649.0 L1072.5,626.8 M1065.9,629.0 L1072.5,626.8 L1070.5,633.5M1075.3,649.0 L1104.5,627.7 M1097.6,628.8 L1104.5,627.7 L1101.4,634.0M1099.7,649.0 L1127.5,629.8 M1120.6,630.7 L1127.5,629.8 L1124.2,635.9M1124.0,649.0 L1150.6,631.8 M1143.6,632.5 L1150.6,631.8 L1147.0,637.9M1148.2,649.0 L1174.9,631.8 M1167.9,632.5 L1174.9,631.8 L1171.3,637.9M54.8,619.8 L53.0,635.3 M56.9,629.4 L53.0,635.3 L50.6,628.7M79.1,619.8 L77.5,632.3 M81.4,626.5 L77.5,632.3 L75.1,625.8M103.3,619.8 L102.0,629.4 M106.0,623.7 L102.0,629.4 L99.7,622.8M127.7,619.8 L130.7,623.2 M128.9,616.5 L130.7,623.2 L124.2,620.7M151.9,619.8 L159.5,617.1 M152.6,616.2 L159.5,617.1 L154.7,622.2M176.2,619.8 L184.7,614.3 M177.7,615.1 L184.7,614.3 L181.2,620.4M200.5,619.8 L209.8,611.6 M203.0,613.3 L209.8,611.6 L207.3,618.1M224.8,619.8 L236.0,613.3 M229.0,613.7 L236.0,613.3 L232.2,619.2M249.1,619.8 L262.2,615.0 M255.2,614.2 L262.2,615.0 L257.4,620.1M273.4,619.8 L284.1,617.4 M277.3,615.7 L284.1,617.4 L278.7,621.9M297.8,619.8 L306.0,619.8 M299.8,616.6 L306.0,619.8 L299.8,623.0M322.1,619.8 L329.6,621.2 M324.0,616.9 L329.6,621.2 L322.9,623.2M346.4,619.8 L353.2,622.5 M348.6,617.3 L353.2,622.5 L346.2,623.2M370.6,619.8 L376.5,623.2 M372.7,617.3 L376.5,623.2 L369.5,622.8M394.9,619.8 L399.8,623.9 M397.1,617.4 L399.8,623.9 L393.0,622.3M419.2,619.8 L421.3,618.8 M414.3,618.7 L421.3,618.8 L417.2,624.4M443.6,619.8 L442.9,613.6 M440.4,620.2 L442.9,613.6 L446.7,619.5M467.9,619.8 L466.6,614.3 M464.9,621.1 L466.6,614.3 L471.1,619.7M492.1,619.8 L490.4,615.0 M489.5,621.9 L490.4,615.0 L495.5,619.8M516.5,619.8 L517.3,617.9 M511.8,622.3 L517.3,617.9 L517.6,624.9M540.8,619.8 L544.2,620.8 M539.1,616.0 L544.2,620.8 L537.3,622.1M565.0,619.8 L567.5,622.0 M565.0,615.5 L567.5,622.0 L560.7,620.1M589.4,619.8 L590.7,623.2 M591.4,616.3 L590.7,623.2 L585.5,618.6M613.6,619.8 L613.8,624.3 M616.8,617.9 L613.8,624.3 L610.4,618.2M638.0,619.8 L636.9,625.3 M641.2,619.7 L636.9,625.3 L634.9,618.6M662.2,619.8 L662.2,625.1 M665.4,618.9 L662.2,625.1 L659.1,618.9M686.5,619.8 L687.6,625.0 M689.5,618.2 L687.6,625.0 L683.2,619.5M710.9,619.8 L713.6,624.8 M713.4,617.8 L713.6,624.8 L707.8,620.9M735.2,619.8 L739.6,624.6 M737.7,617.9 L739.6,624.6 L733.0,622.2M759.5,619.8 L763.9,624.3 M761.8,617.6 L763.9,624.3 L757.3,622.1M783.8,619.8 L788.2,623.9 M785.8,617.4 L788.2,623.9 L781.5,622.0M808.0,619.8 L811.0,625.0 M810.7,618.0 L811.0,625.0 L805.1,621.1M832.4,619.8 L833.7,626.0 M835.5,619.2 L833.7,626.0 L829.3,620.6M856.7,619.8 L858.2,624.6 M859.3,617.7 L858.2,624.6 L853.3,619.6M881.0,619.8 L882.7,623.2 M882.7,616.2 L882.7,623.2 L877.0,619.1M905.2,619.8 L905.9,617.4 M901.2,622.5 L905.9,617.4 L907.3,624.3M929.6,619.8 L929.2,611.6 M926.3,617.9 L929.2,611.6 L932.6,617.7M953.9,619.8 L954.4,609.7 M950.9,615.7 L954.4,609.7 L957.2,616.1M978.1,619.8 L979.5,607.8 M975.7,613.6 L979.5,607.8 L982.0,614.3M1002.5,619.8 L1010.0,602.6 M1004.6,607.1 L1010.0,602.6 L1010.4,609.6M1026.8,619.8 L1040.5,597.5 M1034.5,601.1 L1040.5,597.5 L1039.9,604.5M1051.1,619.8 L1072.5,598.0 M1065.9,600.2 L1072.5,598.0 L1070.4,604.7M1075.3,619.8 L1104.5,598.5 M1097.6,599.6 L1104.5,598.5 L1101.4,604.8M1099.7,619.8 L1127.1,600.6 M1120.2,601.5 L1127.1,600.6 L1123.8,606.8M1124.0,619.8 L1149.7,602.6 M1142.7,603.4 L1149.7,602.6 L1146.3,608.7M1148.2,619.8 L1174.0,602.6 M1167.0,603.4 L1174.0,602.6 L1170.6,608.7M54.8,590.6 L48.7,610.3 M53.6,605.3 L48.7,610.3 L47.5,603.5M79.1,590.6 L73.0,609.1 M77.9,604.1 L73.0,609.1 L71.9,602.1M103.3,590.6 L97.2,607.8 M102.3,603.0 L97.2,607.8 L96.3,600.8M127.7,590.6 L124.3,603.2 M129.0,598.0 L124.3,603.2 L122.8,596.4M151.9,590.6 L151.4,598.7 M155.0,592.6 L151.4,598.7 L148.7,592.2M176.2,590.6 L178.8,592.9 M176.3,586.4 L178.8,592.9 L172.1,591.1M200.5,590.6 L206.2,587.2 M199.2,587.7 L206.2,587.2 L202.5,593.1M224.8,590.6 L230.1,588.0 M223.1,587.9 L230.1,588.0 L225.9,593.6M249.1,590.6 L254.0,588.9 M247.0,588.0 L254.0,588.9 L249.2,594.0M273.4,590.6 L279.2,590.4 M272.9,587.4 L279.2,590.4 L273.1,593.8M297.8,590.6 L304.4,592.0 M299.0,587.6 L304.4,592.0 L297.7,593.8M322.1,590.6 L328.4,592.8 M323.6,587.8 L328.4,592.8 L321.5,593.8M346.4,590.6 L352.4,593.7 M348.3,588.0 L352.4,593.7 L345.4,593.7M370.6,590.6 L373.8,593.6 M371.5,587.0 L373.8,593.6 L367.1,591.6M394.9,590.6 L395.3,593.5 M397.7,587.0 L395.3,593.5 L391.4,587.7M419.2,590.6 L417.9,590.5 M423.9,594.1 L417.9,590.5 L424.3,587.7M443.6,590.6 L440.5,587.5 M442.6,594.2 L440.5,587.5 L447.1,589.7M467.9,590.6 L465.0,588.5 M468.2,594.8 L465.0,588.5 L471.9,589.6M492.1,590.6 L489.6,589.6 M494.2,594.8 L489.6,589.6 L496.5,588.9M516.5,590.6 L515.8,591.5 M521.9,588.0 L515.8,591.5 L516.5,584.6M540.8,590.6 L542.1,593.5 M542.3,586.5 L542.1,593.5 L536.6,589.2M565.0,590.6 L564.8,592.6 M568.8,586.8 L564.8,592.6 L562.4,586.0M589.4,590.6 L587.5,591.6 M594.5,591.4 L587.5,591.6 L591.4,585.9M613.6,590.6 L612.0,593.7 M617.7,589.7 L612.0,593.7 L612.1,586.7M638.0,590.6 L636.6,595.8 M641.3,590.5 L636.6,595.8 L635.1,588.9M662.2,590.6 L661.3,595.5 M665.6,590.0 L661.3,595.5 L659.4,588.8M686.5,590.6 L686.0,595.2 M689.9,589.4 L686.0,595.2 L683.6,588.7M710.9,590.6 L712.4,595.7 M713.6,588.8 L712.4,595.7 L707.5,590.6M735.2,590.6 L738.8,596.1 M738.0,589.1 L738.8,596.1 L732.7,592.6M759.5,590.6 L762.9,595.2 M761.7,588.3 L762.9,595.2 L756.6,592.1M783.8,590.6 L787.0,594.4 M785.3,587.6 L787.0,594.4 L780.5,591.7M808.0,590.6 L810.7,597.5 M811.4,590.5 L810.7,597.5 L805.5,592.8M832.4,590.6 L834.4,600.6 M836.3,593.8 L834.4,600.6 L830.0,595.1M856.7,590.6 L858.5,597.6 M860.0,590.8 L858.5,597.6 L853.8,592.4M881.0,590.6 L882.5,594.7 M883.3,587.8 L882.5,594.7 L877.3,590.0M905.2,590.6 L905.2,591.3 M908.4,585.0 L905.2,591.3 L902.1,585.0M929.6,590.6 L928.0,587.9 M928.3,594.8 L928.0,587.9 L933.8,591.7M953.9,590.6 L954.1,587.4 M950.4,593.4 L954.1,587.4 L956.8,593.9M978.1,590.6 L980.2,587.0 M974.4,590.8 L980.2,587.0 L979.9,594.0M1002.5,590.6 L1008.3,584.1 M1001.8,586.6 L1008.3,584.1 L1006.5,590.8M1026.8,590.6 L1036.4,581.2 M1029.7,583.3 L1036.4,581.2 L1034.1,587.8M1051.1,590.6 L1070.0,575.4 M1063.2,576.8 L1070.0,575.4 L1067.1,581.8M1075.3,590.6 L1103.7,569.7 M1096.8,570.8 L1103.7,569.7 L1100.6,575.9M1099.7,590.6 L1126.3,571.1 M1119.3,572.2 L1126.3,571.1 L1123.1,577.4M1124.0,590.6 L1148.8,572.6 M1141.9,573.7 L1148.8,572.6 L1145.7,578.8M1148.2,590.6 L1173.1,572.6 M1166.2,573.7 L1173.1,572.6 L1170.0,578.8M54.8,561.4 L44.4,585.4 M49.8,581.0 L44.4,585.4 L44.0,578.4M79.1,561.4 L68.4,585.8 M73.8,581.3 L68.4,585.8 L68.0,578.8M103.3,561.4 L92.4,586.1 M97.8,581.7 L92.4,586.1 L92.0,579.1M127.7,561.4 L117.9,583.2 M123.3,578.8 L117.9,583.2 L117.5,576.2M151.9,561.4 L143.4,580.3 M148.8,575.9 L143.4,580.3 L143.1,573.3M176.2,561.4 L173.0,571.5 M177.9,566.6 L173.0,571.5 L171.9,564.6M200.5,561.4 L202.6,562.8 M199.2,556.7 L202.6,562.8 L195.7,562.0M224.8,561.4 L224.2,562.8 M229.8,558.6 L224.2,562.8 L224.1,555.8M249.1,561.4 L245.7,562.8 M252.7,563.4 L245.7,562.8 L250.3,557.5M273.4,561.4 L274.3,563.5 M274.8,556.5 L274.3,563.5 L269.0,558.9M297.8,561.4 L302.9,564.1 M298.9,558.4 L302.9,564.1 L295.9,564.0M322.1,561.4 L327.2,564.5 M323.5,558.6 L327.2,564.5 L320.2,564.0M346.4,561.4 L351.5,564.8 M348.1,558.7 L351.5,564.8 L344.5,564.0M370.6,561.4 L371.2,564.0 M373.1,557.2 L371.2,564.0 L366.8,558.5M394.9,561.4 L390.8,563.1 M397.8,563.7 L390.8,563.1 L395.4,557.8M419.2,561.4 L414.4,562.3 M421.1,564.3 L414.4,562.3 L420.0,558.0M443.6,561.4 L438.1,561.4 M444.3,564.6 L438.1,561.4 L444.3,558.2M467.9,561.4 L463.4,562.8 M470.3,564.0 L463.4,562.8 L468.4,557.9M492.1,561.4 L488.7,564.1 M495.6,562.7 L488.7,564.1 L491.6,557.8M516.5,561.4 L514.4,565.2 M520.2,561.2 L514.4,565.2 L514.6,558.2M540.8,561.4 L540.1,566.2 M544.1,560.5 L540.1,566.2 L537.8,559.6M565.0,561.4 L562.1,563.1 M569.1,562.7 L562.1,563.1 L565.9,557.2M589.4,561.4 L584.2,560.0 M589.4,564.7 L584.2,560.0 L591.0,558.6M613.6,561.4 L610.2,563.1 M617.2,563.2 L610.2,563.1 L614.4,557.5M638.0,561.4 L636.2,566.2 M641.3,561.4 L636.2,566.2 L635.3,559.3M662.2,561.4 L660.4,565.9 M665.7,561.4 L660.4,565.9 L659.9,558.9M686.5,561.4 L684.5,565.5 M690.1,561.4 L684.5,565.5 L684.4,558.5M710.9,561.4 L711.2,566.6 M713.9,560.1 L711.2,566.6 L707.6,560.5M735.2,561.4 L737.9,567.6 M738.3,560.6 L737.9,567.6 L732.5,563.2M759.5,561.4 L761.9,566.2 M761.9,559.2 L761.9,566.2 L756.2,562.0M783.8,561.4 L785.8,564.8 M785.3,557.9 L785.8,564.8 L779.9,561.1M808.0,561.4 L810.5,570.0 M811.8,563.1 L810.5,570.0 L805.7,564.8M832.4,561.4 L835.1,575.1 M837.0,568.4 L835.1,575.1 L830.8,569.6M856.7,561.4 L858.7,570.7 M860.5,563.9 L858.7,570.7 L854.3,565.3M881.0,561.4 L882.3,566.2 M883.7,559.3 L882.3,566.2 L877.6,561.1M905.2,561.4 L904.6,565.2 M908.8,559.6 L904.6,565.2 L902.6,558.5M929.6,561.4 L926.8,564.1 M933.5,562.0 L926.8,564.1 L929.0,557.5M953.9,561.4 L953.9,565.2 M957.0,558.9 L953.9,565.2 L950.7,558.9M978.1,561.4 L980.9,566.2 M980.6,559.2 L980.9,566.2 L975.0,562.4M1002.5,561.4 L1006.6,565.5 M1004.4,558.9 L1006.6,565.5 L999.9,563.4M1026.8,561.4 L1032.2,564.8 M1028.6,558.8 L1032.2,564.8 L1025.3,564.2M1051.1,561.4 L1067.5,552.8 M1060.5,552.9 L1067.5,552.8 L1063.5,558.5M1075.3,561.4 L1102.8,540.8 M1095.9,542.0 L1102.8,540.8 L1099.7,547.1M1099.7,561.4 L1125.4,541.7 M1118.5,542.9 L1125.4,541.7 L1122.4,548.0M1124.0,561.4 L1148.0,542.5 M1141.1,543.9 L1148.0,542.5 L1145.0,548.9M1148.2,561.4 L1172.3,542.5 M1165.4,543.9 L1172.3,542.5 L1169.3,548.9M54.8,532.2 L42.7,557.1 M48.3,552.9 L42.7,557.1 L42.6,550.1M79.1,532.2 L66.7,557.7 M72.3,553.5 L66.7,557.7 L66.6,550.7M103.3,532.2 L90.6,558.3 M96.2,554.1 L90.6,558.3 L90.5,551.3M127.7,532.2 L116.6,556.7 M122.0,552.3 L116.6,556.7 L116.3,549.7M151.9,532.2 L142.5,555.0 M147.8,550.5 L142.5,555.0 L142.0,548.1M176.2,532.2 L172.5,547.8 M177.0,542.5 L172.5,547.8 L170.8,541.0M200.5,532.2 L202.4,540.6 M204.2,533.8 L202.4,540.6 L198.0,535.2M224.8,532.2 L224.2,537.4 M228.1,531.6 L224.2,537.4 L221.8,530.9M249.1,532.2 L246.1,534.3 M253.0,533.4 L246.1,534.3 L249.5,528.2M273.4,532.2 L272.3,534.6 M277.8,530.3 L272.3,534.6 L272.1,527.6M297.8,532.2 L298.6,534.9 M299.8,528.0 L298.6,534.9 L293.7,529.9M322.1,532.2 L322.7,536.3 M324.8,529.6 L322.7,536.3 L318.6,530.7M346.4,532.2 L346.9,537.7 M349.4,531.2 L346.9,537.7 L343.1,531.8M370.6,532.2 L370.7,536.9 M373.8,530.6 L370.7,536.9 L367.4,530.7M394.9,532.2 L394.6,536.1 M398.3,530.2 L394.6,536.1 L392.0,529.7M419.2,532.2 L418.1,535.2 M423.3,530.5 L418.1,535.2 L417.3,528.3M443.6,532.2 L441.7,534.3 M448.2,531.8 L441.7,534.3 L443.5,527.5M467.9,532.2 L464.5,534.1 M471.5,533.8 L464.5,534.1 L468.4,528.3M492.1,532.2 L487.3,533.9 M494.3,534.8 L487.3,533.9 L492.1,528.8M516.5,532.2 L513.5,535.5 M520.1,532.9 L513.5,535.5 L515.3,528.7M540.8,532.2 L539.7,537.0 M544.1,531.6 L539.7,537.0 L537.9,530.2M565.0,532.2 L562.6,535.3 M569.0,532.3 L562.6,535.3 L564.0,528.4M589.4,532.2 L585.6,533.6 M592.5,534.4 L585.6,533.6 L590.3,528.5M613.6,532.2 L611.7,535.8 M617.5,531.9 L611.7,535.8 L611.9,528.8M638.0,532.2 L637.8,538.0 M641.1,531.9 L637.8,538.0 L634.8,531.7M662.2,532.2 L661.9,537.4 M665.5,531.4 L661.9,537.4 L659.1,531.0M686.5,532.2 L686.0,536.8 M689.9,531.0 L686.0,536.8 L683.6,530.3M710.9,532.2 L712.0,537.8 M713.9,531.0 L712.0,537.8 L707.6,532.3M735.2,532.2 L737.9,538.7 M738.4,531.7 L737.9,538.7 L732.5,534.2M759.5,532.2 L763.1,538.5 M762.7,531.5 L763.1,538.5 L757.2,534.6M783.8,532.2 L788.2,538.2 M787.0,531.3 L788.2,538.2 L781.9,535.1M808.0,532.2 L813.4,539.1 M812.1,532.2 L813.4,539.1 L807.0,536.1M832.4,532.2 L838.5,539.9 M837.1,533.1 L838.5,539.9 L832.2,537.0M856.7,532.2 L860.4,538.6 M860.0,531.6 L860.4,538.6 L854.5,534.8M881.0,532.2 L882.3,537.2 M883.7,530.3 L882.3,537.2 L877.6,532.0M905.2,532.2 L906.5,537.3 M908.1,530.4 L906.5,537.3 L901.9,532.0M929.6,532.2 L930.8,537.4 M932.4,530.6 L930.8,537.4 L926.2,532.0M953.9,532.2 L957.0,537.5 M956.6,530.5 L957.0,537.5 L951.1,533.8M978.1,532.2 L983.3,537.7 M981.4,531.0 L983.3,537.7 L976.7,535.3M1002.5,532.2 L1009.8,536.2 M1005.9,530.5 L1009.8,536.2 L1002.8,536.0M1026.8,532.2 L1036.4,534.8 M1031.2,530.1 L1036.4,534.8 L1029.5,536.2M1051.1,532.2 L1064.3,527.0 M1057.3,526.4 L1064.3,527.0 L1059.6,532.3M1075.3,532.2 L1092.2,519.3 M1085.3,520.6 L1092.2,519.3 L1089.2,525.6M1099.7,532.2 L1115.4,519.8 M1108.5,521.2 L1115.4,519.8 L1112.4,526.2M1124.0,532.2 L1138.5,520.4 M1131.7,521.8 L1138.5,520.4 L1135.7,526.8M1148.2,532.2 L1162.8,520.4 M1156.0,521.8 L1162.8,520.4 L1160.0,526.8M54.8,503.0 L41.0,528.8 M46.8,524.7 L41.0,528.8 L41.1,521.8M79.1,503.0 L65.0,529.6 M70.7,525.6 L65.0,529.6 L65.1,522.6M103.3,503.0 L88.9,530.5 M94.6,526.4 L88.9,530.5 L89.0,523.5M127.7,503.0 L115.3,530.1 M120.8,525.8 L115.3,530.1 L115.0,523.1M151.9,503.0 L141.6,529.8 M146.9,525.1 L141.6,529.8 L140.9,522.8M176.2,503.0 L172.0,524.1 M176.3,518.6 L172.0,524.1 L170.1,517.4M200.5,503.0 L202.3,518.5 M204.7,511.9 L202.3,518.5 L198.4,512.6M224.8,503.0 L224.3,512.1 M227.9,506.1 L224.3,512.1 L221.5,505.7M249.1,503.0 L246.4,505.7 M253.1,503.6 L246.4,505.7 L248.6,499.1M273.4,503.0 L270.4,505.7 M277.1,504.0 L270.4,505.7 L272.9,499.2M297.8,503.0 L294.3,505.7 M301.2,504.3 L294.3,505.7 L297.2,499.4M322.1,503.0 L318.3,508.2 M324.5,505.0 L318.3,508.2 L319.4,501.2M346.4,503.0 L342.2,510.6 M348.0,506.6 L342.2,510.6 L342.4,503.6M370.6,503.0 L370.3,509.9 M373.8,503.8 L370.3,509.9 L367.4,503.5M394.9,503.0 L398.4,509.2 M398.1,502.2 L398.4,509.2 L392.6,505.3M419.2,503.0 L421.8,508.2 M421.9,501.2 L421.8,508.2 L416.2,504.0M443.6,503.0 L445.3,507.1 M445.8,500.1 L445.3,507.1 L439.9,502.6M467.9,503.0 L465.6,505.4 M472.2,503.0 L465.6,505.4 L467.5,498.7M492.1,503.0 L486.0,503.7 M492.5,506.2 L486.0,503.7 L491.8,499.8M516.5,503.0 L512.7,505.7 M519.6,504.6 L512.7,505.7 L515.8,499.5M540.8,503.0 L539.4,507.8 M544.1,502.7 L539.4,507.8 L538.0,500.9M565.0,503.0 L563.2,507.5 M568.5,503.0 L563.2,507.5 L562.7,500.5M589.4,503.0 L586.9,507.1 M592.8,503.3 L586.9,507.1 L587.3,500.1M613.6,503.0 L613.1,508.5 M616.9,502.6 L613.1,508.5 L610.6,502.0M638.0,503.0 L639.3,509.9 M641.2,503.1 L639.3,509.9 L635.0,504.4M662.2,503.0 L663.5,509.0 M665.3,502.3 L663.5,509.0 L659.1,503.5M686.5,503.0 L687.6,508.2 M689.5,501.4 L687.6,508.2 L683.2,502.7M710.9,503.0 L712.7,509.0 M713.9,502.1 L712.7,509.0 L707.8,504.0M735.2,503.0 L737.9,509.9 M738.5,502.9 L737.9,509.9 L732.6,505.3M759.5,503.0 L764.3,510.7 M763.7,503.8 L764.3,510.7 L758.3,507.1M783.8,503.0 L790.6,511.6 M789.2,504.7 L790.6,511.6 L784.2,508.7M808.0,503.0 L816.3,508.2 M812.7,502.1 L816.3,508.2 L809.3,507.5M832.4,503.0 L842.0,504.7 M836.4,500.5 L842.0,504.7 L835.3,506.7M856.7,503.0 L862.1,506.4 M858.5,500.4 L862.1,506.4 L855.2,505.8M881.0,503.0 L882.3,508.2 M883.8,501.3 L882.3,508.2 L877.6,502.9M905.2,503.0 L908.5,509.4 M908.5,502.4 L908.5,509.4 L902.8,505.3M929.6,503.0 L934.7,510.6 M933.8,503.6 L934.7,510.6 L928.6,507.2M953.9,503.0 L960.2,509.9 M958.3,503.1 L960.2,509.9 L953.6,507.4M978.1,503.0 L985.7,509.2 M982.9,502.8 L985.7,509.2 L978.9,507.7M1002.5,503.0 L1020.4,516.0 M1017.2,509.8 L1020.4,516.0 L1013.4,514.9M1026.8,503.0 L1044.7,504.4 M1038.7,500.7 L1044.7,504.4 L1038.2,507.1M1051.1,503.0 L1076.5,505.0 M1070.5,501.3 L1076.5,505.0 L1070.0,507.7M1075.3,503.0 L1081.5,497.8 M1074.7,499.4 L1081.5,497.8 L1078.8,504.3M1099.7,503.0 L1105.3,498.0 M1098.5,499.8 L1105.3,498.0 L1102.7,504.5M1124.0,503.0 L1129.1,498.2 M1122.4,500.1 L1129.1,498.2 L1126.7,504.8M1148.2,503.0 L1153.4,498.2 M1146.7,500.1 L1153.4,498.2 L1151.0,504.8M54.8,473.8 L41.0,498.7 M46.8,494.8 L41.0,498.7 L41.2,491.7M79.1,473.8 L65.0,499.8 M70.7,495.8 L65.0,499.8 L65.1,492.8M103.3,473.8 L88.9,500.9 M94.7,496.9 L88.9,500.9 L89.1,493.9M127.7,473.8 L115.3,500.9 M120.8,496.6 L115.3,500.9 L115.0,493.9M151.9,473.8 L141.6,500.9 M146.8,496.2 L141.6,500.9 L140.9,494.0M176.2,473.8 L171.1,500.7 M175.4,495.1 L171.1,500.7 L169.2,493.9M200.5,473.8 L200.5,500.4 M203.7,494.2 L200.5,500.4 L197.4,494.2M224.8,473.8 L225.5,488.2 M228.4,481.9 L225.5,488.2 L222.0,482.1M249.1,473.8 L250.4,476.0 M250.2,469.0 L250.4,476.0 L244.6,472.0M273.4,473.8 L273.9,474.6 M273.6,467.6 L273.9,474.6 L268.1,470.7M297.8,473.8 L297.4,473.1 M297.4,480.1 L297.4,473.1 L303.0,477.3M322.1,473.8 L319.6,476.2 M326.3,474.2 L319.6,476.2 L321.8,469.6M346.4,473.8 L341.7,479.3 M348.2,476.6 L341.7,479.3 L343.3,472.5M370.6,473.8 L367.3,480.2 M373.0,476.2 L367.3,480.2 L367.4,473.2M394.9,473.8 L392.9,481.2 M397.6,476.0 L392.9,481.2 L391.5,474.3M419.2,473.8 L418.1,479.7 M422.4,474.2 L418.1,479.7 L416.2,473.0M443.6,473.8 L443.4,478.3 M446.8,472.2 L443.4,478.3 L440.4,471.9M467.9,473.8 L465.1,476.4 M471.8,474.4 L465.1,476.4 L467.5,469.8M492.1,473.8 L486.8,474.5 M493.4,476.8 L486.8,474.5 L492.6,470.5M516.5,473.8 L512.2,476.5 M519.2,475.8 L512.2,476.5 L515.7,470.5M540.8,473.8 L537.7,478.6 M543.7,475.1 L537.7,478.6 L538.4,471.6M565.0,473.8 L562.9,479.0 M568.2,474.4 L562.9,479.0 L562.4,472.0M589.4,473.8 L588.1,479.3 M592.6,473.9 L588.1,479.3 L586.4,472.5M613.6,473.8 L613.4,480.0 M616.8,473.9 L613.4,480.0 L610.5,473.6M638.0,473.8 L638.6,480.7 M641.2,474.1 L638.6,480.7 L634.9,474.8M662.2,473.8 L662.2,479.7 M665.4,473.5 L662.2,479.7 L659.1,473.4M686.5,473.8 L685.7,478.8 M689.9,473.2 L685.7,478.8 L683.6,472.1M710.9,473.8 L711.3,480.2 M714.0,473.7 L711.3,480.2 L707.7,474.1M735.2,473.8 L736.9,481.5 M738.6,474.7 L736.9,481.5 L732.4,476.1M759.5,473.8 L762.0,481.1 M762.9,474.2 L762.0,481.1 L757.0,476.3M783.8,473.8 L787.2,480.7 M787.2,473.7 L787.2,480.7 L781.6,476.5M808.0,473.8 L812.5,479.4 M811.1,472.5 L812.5,479.4 L806.1,476.5M832.4,473.8 L837.8,478.1 M834.9,471.7 L837.8,478.1 L831.0,476.8M856.7,473.8 L861.3,478.6 M859.2,471.9 L861.3,478.6 L854.7,476.3M881.0,473.8 L884.7,479.1 M883.7,472.2 L884.7,479.1 L878.5,475.9M905.2,473.8 L910.7,480.1 M909.0,473.3 L910.7,480.1 L904.2,477.4M929.6,473.8 L936.6,481.0 M934.5,474.3 L936.6,481.0 L930.0,478.8M953.9,473.8 L960.5,479.8 M958.0,473.3 L960.5,479.8 L953.7,478.0M978.1,473.8 L993.9,482.7 M990.1,476.9 L993.9,482.7 L987.0,482.4M1002.5,473.8 L1023.1,486.8 M1019.5,480.8 L1023.1,486.8 L1016.1,486.2M1026.8,473.8 L1036.7,472.9 M1030.2,470.3 L1036.7,472.9 L1030.8,476.6M1051.1,473.8 L1059.3,471.2 M1052.4,470.1 L1059.3,471.2 L1054.3,476.1M1075.3,473.8 L1081.9,469.5 M1074.9,470.3 L1081.9,469.5 L1078.4,475.6M1099.7,473.8 L1105.4,470.0 M1098.4,470.8 L1105.4,470.0 L1101.9,476.1M1124.0,473.8 L1128.9,470.5 M1122.0,471.3 L1128.9,470.5 L1125.5,476.6M1148.2,473.8 L1153.2,470.5 M1146.3,471.3 L1153.2,470.5 L1149.8,476.6M54.8,444.6 L41.0,468.6 M46.9,464.8 L41.0,468.6 L41.4,461.6M79.1,444.6 L65.0,470.0 M70.8,466.1 L65.0,470.0 L65.2,463.0M103.3,444.6 L88.9,471.4 M94.7,467.4 L88.9,471.4 L89.1,464.4M127.7,444.6 L115.3,471.7 M120.8,467.4 L115.3,471.7 L115.0,464.7M151.9,444.6 L141.6,472.1 M146.8,467.3 L141.6,472.1 L140.9,465.1M176.2,444.6 L170.2,477.2 M174.5,471.7 L170.2,477.2 L168.2,470.5M200.5,444.6 L198.8,482.4 M202.3,476.3 L198.8,482.4 L195.9,476.0M224.8,444.6 L226.6,464.3 M229.2,457.9 L226.6,464.3 L222.9,458.4M249.1,444.6 L254.3,446.3 M249.4,441.3 L254.3,446.3 L247.4,447.4M273.4,444.6 L277.4,443.4 M270.5,442.2 L277.4,443.4 L272.4,448.3M297.8,444.6 L300.5,440.5 M294.4,443.9 L300.5,440.5 L299.7,447.4M322.1,444.6 L320.8,444.3 M326.0,449.0 L320.8,444.3 L327.7,442.9M346.4,444.6 L341.2,448.0 M348.2,447.2 L341.2,448.0 L344.6,441.9M370.6,444.6 L364.3,450.6 M371.0,448.6 L364.3,450.6 L366.6,444.0M394.9,444.6 L387.4,453.2 M393.9,450.6 L387.4,453.2 L389.1,446.4M419.2,444.6 L414.4,451.3 M420.7,448.1 L414.4,451.3 L415.5,444.4M443.6,444.6 L441.5,449.4 M446.9,444.9 L441.5,449.4 L441.0,442.4M467.9,444.6 L464.6,447.3 M471.4,445.8 L464.6,447.3 L467.3,440.9M492.1,444.6 L487.7,445.3 M494.3,447.5 L487.7,445.3 L493.4,441.2M516.5,444.6 L511.8,447.3 M518.8,446.9 L511.8,447.3 L515.6,441.4M540.8,444.6 L535.9,449.4 M542.6,447.2 L535.9,449.4 L538.1,442.7M565.0,444.6 L562.6,450.4 M568.0,445.9 L562.6,450.4 L562.1,443.5M589.4,444.6 L589.4,451.5 M592.5,445.2 L589.4,451.5 L586.2,445.2M613.6,444.6 L613.6,451.5 M616.8,445.2 L613.6,451.5 L610.5,445.2M638.0,444.6 L638.0,451.5 M641.1,445.2 L638.0,451.5 L634.8,445.2M662.2,444.6 L660.9,450.4 M665.4,445.1 L660.9,450.4 L659.2,443.6M686.5,444.6 L683.8,449.4 M689.7,445.6 L683.8,449.4 L684.1,442.4M710.9,444.6 L709.8,451.3 M713.9,445.6 L709.8,451.3 L707.6,444.6M735.2,444.6 L735.8,453.2 M738.5,446.7 L735.8,453.2 L732.2,447.2M759.5,444.6 L759.8,451.5 M762.7,445.1 L759.8,451.5 L756.3,445.4M783.8,444.6 L783.8,449.8 M786.9,443.5 L783.8,449.8 L780.6,443.5M808.0,444.6 L808.7,450.6 M811.2,444.1 L808.7,450.6 L804.9,444.8M832.4,444.6 L833.7,451.5 M835.6,444.7 L833.7,451.5 L829.4,446.0M856.7,444.6 L860.4,450.8 M859.9,443.8 L860.4,450.8 L854.5,447.1M881.0,444.6 L887.1,450.1 M884.6,443.6 L887.1,450.1 L880.4,448.3M905.2,444.6 L912.8,450.8 M910.0,444.4 L912.8,450.8 L906.0,449.3M929.6,444.6 L938.5,451.5 M935.5,445.1 L938.5,451.5 L931.6,450.2M953.9,444.6 L971.8,452.8 M967.4,447.3 L971.8,452.8 L964.8,453.1M978.1,444.6 L983.0,448.0 M979.7,441.8 L983.0,448.0 L976.0,447.0M1002.5,444.6 L1007.9,444.6 M1001.7,441.4 L1007.9,444.6 L1001.7,447.8M1026.8,444.6 L1032.9,441.2 M1025.9,441.4 L1032.9,441.2 L1029.0,447.0M1051.1,444.6 L1057.6,441.2 M1050.6,441.3 L1057.6,441.2 L1053.5,446.9M1075.3,444.6 L1082.2,441.2 M1075.2,441.1 L1082.2,441.2 L1078.1,446.8M1099.7,444.6 L1105.5,442.0 M1098.5,441.6 L1105.5,442.0 L1101.1,447.4M1124.0,444.6 L1128.8,442.9 M1121.8,442.0 L1128.8,442.9 L1124.0,448.0M1148.2,444.6 L1153.1,442.9 M1146.1,442.0 L1153.1,442.9 L1148.3,448.0M54.8,415.4 L41.9,436.9 M47.8,433.1 L41.9,436.9 L42.4,429.9M79.1,415.4 L66.6,438.8 M72.3,434.8 L66.6,438.8 L66.7,431.8M103.3,415.4 L91.3,440.8 M96.9,436.5 L91.3,440.8 L91.1,433.8M127.7,415.4 L118.0,442.7 M123.1,437.9 L118.0,442.7 L117.1,435.8M151.9,415.4 L144.7,444.6 M149.3,439.3 L144.7,444.6 L143.2,437.8M176.2,415.4 L172.0,448.4 M175.9,442.7 L172.0,448.4 L169.6,441.9M200.5,415.4 L199.2,452.3 M202.6,446.2 L199.2,452.3 L196.2,446.0M224.8,415.4 L225.5,443.7 M228.5,437.4 L225.5,443.7 L222.1,437.6M249.1,415.4 L251.7,435.1 M254.1,428.5 L251.7,435.1 L247.8,429.4M273.4,415.4 L276.5,424.9 M277.6,418.0 L276.5,424.9 L271.5,419.9M297.8,415.4 L301.2,414.7 M294.4,412.8 L301.2,414.7 L295.7,419.1M322.1,415.4 L324.4,415.2 M317.9,412.5 L324.4,415.2 L318.4,418.9M346.4,415.4 L347.6,415.7 M342.4,411.0 L347.6,415.7 L340.7,417.1M370.6,415.4 L371.3,418.1 M373.0,411.3 L371.3,418.1 L366.8,412.7M394.9,415.4 L394.9,420.4 M398.1,414.1 L394.9,420.4 L391.8,414.1M419.2,415.4 L417.4,418.7 M423.2,414.7 L417.4,418.7 L417.7,411.7M443.6,415.4 L439.9,416.9 M446.9,417.4 L439.9,416.9 L444.4,411.6M467.9,415.4 L462.4,416.6 M469.1,418.4 L462.4,416.6 L467.8,412.2M492.1,415.4 L484.8,416.3 M491.3,418.7 L484.8,416.3 L490.6,412.4M516.5,415.4 L512.0,418.7 M518.9,417.5 L512.0,418.7 L515.1,412.5M540.8,415.4 L539.2,421.2 M543.9,416.0 L539.2,421.2 L537.7,414.4M565.0,415.4 L565.0,421.8 M568.2,415.6 L565.0,421.8 L561.9,415.5M589.4,415.4 L590.7,422.3 M592.6,415.5 L590.7,422.3 L586.4,416.8M613.6,415.4 L615.6,422.3 M617.0,415.4 L615.6,422.3 L610.8,417.2M638.0,415.4 L640.5,422.3 M641.3,415.3 L640.5,422.3 L635.4,417.5M662.2,415.4 L664.6,421.8 M665.4,414.8 L664.6,421.8 L659.4,417.0M686.5,415.4 L688.6,421.2 M689.5,414.3 L688.6,421.2 L683.5,416.4M710.9,415.4 L714.2,422.9 M714.5,415.9 L714.2,422.9 L708.7,418.5M735.2,415.4 L739.8,424.5 M739.8,417.5 L739.8,424.5 L734.1,420.4M759.5,415.4 L763.9,423.0 M763.5,416.0 L763.9,423.0 L758.0,419.2M783.8,415.4 L788.0,421.4 M787.0,414.5 L788.0,421.4 L781.8,418.2M808.0,415.4 L812.1,421.8 M811.5,414.9 L812.1,421.8 L806.1,418.2M832.4,415.4 L836.1,422.3 M835.9,415.3 L836.1,422.3 L830.3,418.3M856.7,415.4 L862.4,421.9 M860.7,415.1 L862.4,421.9 L855.9,419.3M881.0,415.4 L888.7,421.6 M885.8,415.2 L888.7,421.6 L881.8,420.2M905.2,415.4 L913.2,422.3 M910.6,415.8 L913.2,422.3 L906.4,420.6M929.6,415.4 L937.8,423.0 M935.3,416.4 L937.8,423.0 L931.0,421.1M953.9,415.4 L960.7,421.3 M958.1,414.8 L960.7,421.3 L953.9,419.7M978.1,415.4 L983.6,419.7 M980.7,413.3 L983.6,419.7 L976.8,418.4M1002.5,415.4 L1005.2,417.5 M1002.2,411.2 L1005.2,417.5 L998.3,416.2M1051.1,415.4 L1049.5,417.1 M1056.0,414.6 L1049.5,417.1 L1051.3,410.4M1075.3,415.4 L1072.3,418.8 M1078.8,416.3 L1072.3,418.8 L1074.1,412.1M1099.7,415.4 L1097.2,419.7 M1103.0,415.9 L1097.2,419.7 L1097.5,412.7M1124.0,415.4 L1122.1,420.6 M1127.2,415.8 L1122.1,420.6 L1121.2,413.6M1148.2,415.4 L1146.4,420.6 M1151.5,415.8 L1146.4,420.6 L1145.5,413.6M54.8,386.2 L42.7,405.1 M48.8,401.5 L42.7,405.1 L43.4,398.1M79.1,386.2 L68.2,407.7 M73.9,403.5 L68.2,407.7 L68.2,400.7M103.3,386.2 L93.7,410.2 M99.0,405.6 L93.7,410.2 L93.1,403.3M127.7,386.2 L120.8,413.7 M125.4,408.4 L120.8,413.7 L119.2,406.8M151.9,386.2 L147.8,417.1 M151.8,411.3 L147.8,417.1 L145.5,410.5M176.2,386.2 L173.7,419.7 M177.3,413.7 L173.7,419.7 L171.0,413.2M200.5,386.2 L199.5,422.3 M202.9,416.1 L199.5,422.3 L196.5,415.9M224.8,386.2 L224.3,423.1 M227.6,416.9 L224.3,423.1 L221.2,416.8M249.1,386.2 L249.1,424.0 M252.3,417.7 L249.1,424.0 L246.0,417.7M273.4,386.2 L275.5,406.5 M278.0,399.9 L275.5,406.5 L271.7,400.6M297.8,386.2 L301.9,388.9 M298.4,382.8 L301.9,388.9 L294.9,388.1M322.1,386.2 L327.9,386.2 M321.6,383.0 L327.9,386.2 L321.6,389.4M346.4,386.2 L353.9,383.5 M347.0,382.6 L353.9,383.5 L349.1,388.6M370.6,386.2 L378.2,385.5 M371.7,382.9 L378.2,385.5 L372.3,389.2M394.9,386.2 L402.5,387.6 M396.9,383.3 L402.5,387.6 L395.8,389.6M419.2,386.2 L420.5,386.0 M413.8,383.8 L420.5,386.0 L414.7,390.1M443.6,386.2 L438.4,384.5 M443.3,389.5 L438.4,384.5 L445.3,383.4M467.9,386.2 L460.1,385.9 M466.2,389.3 L460.1,385.9 L466.5,383.0M492.1,386.2 L481.8,387.2 M488.4,389.8 L481.8,387.2 L487.7,383.4M516.5,386.2 L512.2,390.1 M518.9,388.3 L512.2,390.1 L514.6,383.6M540.8,386.2 L542.5,393.1 M544.0,386.2 L542.5,393.1 L537.9,387.8M565.0,386.2 L567.3,393.1 M568.4,386.2 L567.3,393.1 L562.3,388.1M589.4,386.2 L592.1,393.1 M592.7,386.1 L592.1,393.1 L586.8,388.5M613.6,386.2 L617.6,393.1 M617.2,386.1 L617.6,393.1 L611.7,389.2M638.0,386.2 L643.1,393.1 M641.9,386.2 L643.1,393.1 L636.8,390.0M662.2,386.2 L668.3,393.1 M666.5,386.3 L668.3,393.1 L661.8,390.5M686.5,386.2 L693.4,393.1 M691.3,386.4 L693.4,393.1 L686.8,390.9M710.9,386.2 L718.6,394.4 M716.6,387.7 L718.6,394.4 L712.0,392.1M735.2,386.2 L743.7,395.8 M742.0,389.0 L743.7,395.8 L737.2,393.3M759.5,386.2 L768.0,394.4 M765.7,387.8 L768.0,394.4 L761.3,392.4M783.8,386.2 L792.3,393.1 M789.4,386.7 L792.3,393.1 L785.5,391.7M808.0,386.2 L815.4,393.1 M813.0,386.5 L815.4,393.1 L808.7,391.1M832.4,386.2 L838.5,393.1 M836.7,386.3 L838.5,393.1 L832.0,390.6M856.7,386.2 L864.4,393.1 M861.8,386.5 L864.4,393.1 L857.6,391.3M881.0,386.2 L890.2,393.1 M887.1,386.8 L890.2,393.1 L883.3,391.9M905.2,386.2 L913.7,393.8 M911.1,387.2 L913.7,393.8 L906.9,392.0M929.6,386.2 L937.1,394.4 M935.2,387.7 L937.1,394.4 L930.5,392.0M953.9,386.2 L960.7,392.9 M958.5,386.3 L960.7,392.9 L954.0,390.8M978.1,386.2 L984.3,391.4 M981.6,384.9 L984.3,391.4 L977.5,389.8M1002.5,386.2 L1002.5,390.5 M1005.6,384.3 L1002.5,390.5 L999.3,384.3M1026.8,386.2 L1020.6,389.6 M1027.6,389.4 L1020.6,389.6 L1024.5,383.8M1051.1,386.2 L1041.4,393.1 M1048.4,392.0 L1041.4,393.1 L1044.7,386.9M1075.3,386.2 L1062.3,396.5 M1069.2,395.1 L1062.3,396.5 L1065.2,390.1M1099.7,386.2 L1088.8,397.4 M1095.5,395.1 L1088.8,397.4 L1090.9,390.7M1124.0,386.2 L1115.4,398.2 M1121.6,395.0 L1115.4,398.2 L1116.4,391.3M1148.2,386.2 L1139.7,398.2 M1145.9,395.0 L1139.7,398.2 L1140.7,391.3M54.8,357.0 L46.2,375.0 M51.7,370.8 L46.2,375.0 L46.0,368.0M79.1,357.0 L71.2,377.2 M76.4,372.5 L71.2,377.2 L70.5,370.2M103.3,357.0 L96.1,379.3 M101.1,374.4 L96.1,379.3 L95.0,372.4M127.7,357.0 L123.0,381.5 M127.3,375.9 L123.0,381.5 L121.1,374.7M151.9,357.0 L149.9,383.6 M153.5,377.6 L149.9,383.6 L147.2,377.1M176.2,357.0 L176.2,386.6 M179.4,380.4 L176.2,386.6 L173.1,380.4M200.5,357.0 L202.6,389.6 M205.4,383.2 L202.6,389.6 L199.0,383.6M224.8,357.0 L229.3,390.9 M231.7,384.3 L229.3,390.9 L225.3,385.1M249.1,357.0 L256.0,392.2 M257.9,385.5 L256.0,392.2 L251.7,386.7M273.4,357.0 L281.3,375.7 M281.8,368.7 L281.3,375.7 L276.0,371.2M297.8,357.0 L306.7,359.2 M301.4,354.6 L306.7,359.2 L299.9,360.8M322.1,357.0 L324.5,357.7 M319.4,353.0 L324.5,357.7 L317.7,359.1M346.4,357.0 L342.4,356.1 M347.8,360.6 L342.4,356.1 L349.2,354.4M370.6,357.0 L366.3,357.3 M372.7,360.0 L366.3,357.3 L372.2,353.7M394.9,357.0 L390.1,358.5 M397.1,359.7 L390.1,358.5 L395.1,353.6M419.2,357.0 L413.4,357.8 M420.0,360.1 L413.4,357.8 L419.2,353.8M443.6,357.0 L436.7,357.0 M442.9,360.2 L436.7,357.0 L442.9,353.8M467.9,357.0 L462.3,357.3 M468.6,360.1 L462.3,357.3 L468.4,353.8M492.1,357.0 L487.9,357.5 M494.4,359.9 L487.9,357.5 L493.7,353.6M516.5,357.0 L517.3,359.2 M518.0,352.3 L517.3,359.2 L512.1,354.6M540.8,357.0 L546.8,360.9 M543.3,354.9 L546.8,360.9 L539.8,360.2M565.0,357.0 L571.3,360.9 M567.7,354.9 L571.3,360.9 L564.3,360.3M589.4,357.0 L595.9,360.8 M592.1,354.9 L595.9,360.8 L588.9,360.4M613.6,357.0 L619.9,361.6 M616.8,355.4 L619.9,361.6 L613.0,360.5M638.0,357.0 L644.0,362.5 M641.5,355.9 L644.0,362.5 L637.2,360.6M662.2,357.0 L668.9,362.2 M665.9,355.8 L668.9,362.2 L662.0,360.8M686.5,357.0 L693.8,361.8 M690.3,355.7 L693.8,361.8 L686.8,361.0M710.9,357.0 L718.3,363.1 M715.5,356.7 L718.3,363.1 L711.5,361.6M735.2,357.0 L742.9,364.4 M740.6,357.8 L742.9,364.4 L736.2,362.4M759.5,357.0 L766.7,363.1 M764.0,356.7 L766.7,363.1 L759.9,361.5M783.8,357.0 L790.6,361.8 M787.3,355.6 L790.6,361.8 L783.7,360.8M808.0,357.0 L814.6,362.0 M811.5,355.7 L814.6,362.0 L807.7,360.7M832.4,357.0 L838.5,362.2 M835.8,355.7 L838.5,362.2 L831.7,360.6M856.7,357.0 L860.5,361.7 M859.0,354.9 L860.5,361.7 L854.1,358.9M881.0,357.0 L882.5,361.3 M883.4,354.3 L882.5,361.3 L877.4,356.5M905.2,357.0 L904.5,362.5 M908.5,356.8 L904.5,362.5 L902.2,355.9M929.6,357.0 L926.5,363.7 M932.0,359.4 L926.5,363.7 L926.2,356.7M953.9,357.0 L959.0,362.1 M956.8,355.4 L959.0,362.1 L952.3,360.0M978.1,357.0 L991.5,360.4 M986.3,355.8 L991.5,360.4 L984.7,362.0M1002.5,357.0 L1010.0,359.2 M1004.9,354.4 L1010.0,359.2 L1003.1,360.5M1026.8,357.0 L1028.5,358.0 M1024.8,352.1 L1028.5,358.0 L1021.5,357.5M1051.1,357.0 L1047.4,361.8 M1053.7,358.7 L1047.4,361.8 L1048.6,354.9M1075.3,357.0 L1066.4,365.6 M1073.1,363.6 L1066.4,365.6 L1068.7,359.0M1099.7,357.0 L1093.3,366.9 M1099.3,363.3 L1093.3,366.9 L1094.0,359.9M1124.0,357.0 L1120.2,368.2 M1125.2,363.3 L1120.2,368.2 L1119.2,361.2M1148.2,357.0 L1144.5,368.2 M1149.5,363.3 L1144.5,368.2 L1143.5,361.2M54.8,327.8 L49.6,345.0 M54.4,339.9 L49.6,345.0 L48.3,338.1M79.1,327.8 L74.1,346.7 M78.7,341.5 L74.1,346.7 L72.6,339.8M103.3,327.8 L98.5,348.4 M103.1,343.0 L98.5,348.4 L96.9,341.6M127.7,327.8 L125.2,349.3 M129.1,343.4 L125.2,349.3 L122.8,342.7M151.9,327.8 L151.9,350.1 M155.1,343.9 L151.9,350.1 L148.8,343.9M176.2,327.8 L178.8,353.6 M181.4,347.0 L178.8,353.6 L175.0,347.7M200.5,327.8 L205.7,357.0 M207.7,350.3 L205.7,357.0 L201.5,351.4M224.8,327.8 L234.3,358.7 M235.5,351.8 L234.3,358.7 L229.4,353.7M249.1,327.8 L262.9,360.4 M263.4,353.4 L262.9,360.4 L257.5,355.9M273.4,327.8 L287.2,345.0 M285.8,338.1 L287.2,345.0 L280.8,342.1M297.8,327.8 L311.5,329.5 M305.7,325.6 L311.5,329.5 L304.9,331.9M322.1,327.8 L321.2,329.2 M327.2,325.6 L321.2,329.2 L321.8,322.2M346.4,327.8 L330.9,328.8 M337.3,331.6 L330.9,328.8 L336.9,325.2M370.6,327.8 L354.3,329.2 M360.8,331.8 L354.3,329.2 L360.3,325.5M394.9,327.8 L377.8,329.5 M384.3,332.1 L377.8,329.5 L383.7,325.7M419.2,327.8 L406.4,329.5 M413.0,331.8 L406.4,329.5 L412.1,325.5M443.6,327.8 L435.0,329.5 M441.7,331.4 L435.0,329.5 L440.5,325.2M467.9,327.8 L464.4,328.7 M471.2,330.2 L464.4,328.7 L469.7,324.1M492.1,327.8 L493.9,327.8 M487.6,324.6 L493.9,327.8 L487.6,331.0M516.5,327.8 L522.5,328.3 M516.5,324.6 L522.5,328.3 L516.0,330.9M540.8,327.8 L551.1,328.8 M545.2,325.0 L551.1,328.8 L544.5,331.4M565.0,327.8 L575.4,328.7 M569.4,325.0 L575.4,328.7 L568.9,331.3M589.4,327.8 L599.7,328.5 M593.6,324.9 L599.7,328.5 L593.2,331.2M613.6,327.8 L622.2,330.2 M617.1,325.5 L622.2,330.2 L615.4,331.6M638.0,327.8 L644.8,331.9 M641.1,326.0 L644.8,331.9 L637.8,331.4M662.2,327.8 L669.5,331.2 M665.2,325.7 L669.5,331.2 L662.5,331.4M686.5,327.8 L694.1,330.5 M689.3,325.4 L694.1,330.5 L687.2,331.4M710.9,327.8 L718.1,331.7 M714.1,326.0 L718.1,331.7 L711.1,331.5M735.2,327.8 L742.0,333.0 M738.9,326.7 L742.0,333.0 L735.1,331.8M759.5,327.8 L765.5,331.7 M762.0,325.7 L765.5,331.7 L758.5,331.0M783.8,327.8 L788.9,330.5 M784.9,324.8 L788.9,330.5 L781.9,330.4M808.0,327.8 L813.7,330.9 M809.8,325.1 L813.7,330.9 L806.7,330.7M832.4,327.8 L838.5,331.2 M834.6,325.4 L838.5,331.2 L831.5,331.0M856.7,327.8 L856.7,330.4 M859.8,324.1 L856.7,330.4 L853.5,324.1M881.0,327.8 L874.8,329.5 M881.6,330.9 L874.8,329.5 L879.9,324.8M905.2,327.8 L895.3,331.2 M902.2,332.2 L895.3,331.2 L900.2,326.2M929.6,327.8 L915.8,333.0 M922.8,333.7 L915.8,333.0 L920.5,327.8M953.9,327.8 L957.3,331.2 M955.1,324.6 L957.3,331.2 L950.6,329.1M978.1,327.8 L998.8,329.5 M992.8,325.8 L998.8,329.5 L992.3,332.2M1002.5,327.8 L1017.6,328.0 M1011.4,324.7 L1017.6,328.0 L1011.3,331.1M1026.8,327.8 L1036.4,326.4 M1029.7,324.2 L1036.4,326.4 L1030.6,330.5M1051.1,327.8 L1053.5,330.5 M1051.7,323.8 L1053.5,330.5 L1047.0,327.9M1075.3,327.8 L1070.5,334.7 M1076.7,331.4 L1070.5,334.7 L1071.5,327.7M1099.7,327.8 L1097.8,336.4 M1102.2,331.0 L1097.8,336.4 L1096.0,329.6M1124.0,327.8 L1125.0,338.1 M1127.5,331.6 L1125.0,338.1 L1121.2,332.2M1148.2,327.8 L1149.3,338.1 M1151.8,331.6 L1149.3,338.1 L1145.5,332.2M54.8,298.6 L54.2,314.9 M57.6,308.8 L54.2,314.9 L51.3,308.6M79.1,298.6 L79.8,317.2 M82.7,310.9 L79.8,317.2 L76.4,311.1M103.3,298.6 L105.4,319.5 M108.0,313.0 L105.4,319.5 L101.6,313.6M127.7,298.6 L130.7,320.0 M133.0,313.3 L130.7,320.0 L126.7,314.3M151.9,298.6 L156.1,320.4 M158.0,313.7 L156.1,320.4 L151.8,314.9M176.2,298.6 L181.5,322.1 M183.2,315.3 L181.5,322.1 L177.0,316.7M200.5,298.6 L206.9,323.8 M208.5,317.0 L206.9,323.8 L202.3,318.6M224.8,298.6 L233.9,326.7 M235.0,319.8 L233.9,326.7 L228.9,321.7M249.1,298.6 L260.8,329.5 M261.6,322.5 L260.8,329.5 L255.6,324.8M273.4,298.6 L283.9,316.2 M283.5,309.2 L283.9,316.2 L278.0,312.5M297.8,298.6 L307.0,302.9 M302.7,297.4 L307.0,302.9 L300.0,303.2M322.1,298.6 L322.7,303.1 M325.0,296.5 L322.7,303.1 L318.7,297.4M346.4,298.6 L338.3,303.4 M345.3,302.9 L338.3,303.4 L342.0,297.5M370.6,298.6 L363.2,301.4 M370.1,302.2 L363.2,301.4 L367.9,296.2M394.9,298.6 L388.1,299.5 M394.7,301.8 L388.1,299.5 L393.9,295.5M419.2,298.6 L416.9,300.1 M423.9,299.3 L416.9,300.1 L420.4,294.0M443.6,298.6 L445.8,300.8 M443.6,294.2 L445.8,300.8 L439.1,298.7M467.9,298.6 L471.7,297.6 M464.9,296.1 L471.7,297.6 L466.5,302.2M492.1,298.6 L497.6,294.3 M490.8,295.6 L497.6,294.3 L494.7,300.7M516.5,298.6 L524.2,295.5 M517.2,294.9 L524.2,295.5 L519.6,300.8M540.8,298.6 L550.7,296.7 M544.0,294.8 L550.7,296.7 L545.2,301.0M565.0,298.6 L573.5,296.3 M566.6,294.9 L573.5,296.3 L568.3,301.0M589.4,298.6 L596.2,295.9 M589.2,295.2 L596.2,295.9 L591.6,301.1M613.6,298.6 L619.3,297.8 M612.7,295.5 L619.3,297.8 L613.6,301.8M638.0,298.6 L642.4,299.8 M637.2,295.1 L642.4,299.8 L635.6,301.2M662.2,298.6 L664.2,300.3 M661.6,293.8 L664.2,300.3 L657.4,298.6M686.5,298.6 L686.0,300.8 M690.5,295.5 L686.0,300.8 L684.3,294.0M710.9,298.6 L709.9,301.7 M714.8,296.7 L709.9,301.7 L708.7,294.8M735.2,298.6 L733.8,302.5 M738.8,297.7 L733.8,302.5 L732.8,295.6M759.5,298.6 L758.3,301.9 M763.3,297.0 L758.3,301.9 L757.3,295.0M783.8,298.6 L782.9,301.3 M787.8,296.3 L782.9,301.3 L781.7,294.4M808.0,298.6 L808.3,301.3 M810.9,294.8 L808.3,301.3 L804.6,295.4M832.4,298.6 L833.7,301.3 M833.8,294.3 L833.7,301.3 L828.1,297.2M856.7,298.6 L855.5,301.7 M860.6,296.9 L855.5,301.7 L854.7,294.7M881.0,298.6 L877.3,302.0 M884.1,300.0 L877.3,302.0 L879.7,295.4M905.2,298.6 L899.3,302.9 M906.2,301.8 L899.3,302.9 L902.5,296.7M929.6,298.6 L921.3,303.8 M928.3,303.1 L921.3,303.8 L924.9,297.7M953.9,298.6 L955.1,310.2 M957.6,303.6 L955.1,310.2 L951.3,304.3M978.1,298.6 L989.0,316.6 M988.5,309.6 L989.0,316.6 L983.0,312.9M1002.5,298.6 L1009.2,309.4 M1008.6,302.4 L1009.2,309.4 L1003.2,305.8M1026.8,298.6 L1029.5,302.2 M1028.2,295.3 L1029.5,302.2 L1023.2,299.2M1051.1,298.6 L1050.4,304.3 M1054.3,298.5 L1050.4,304.3 L1048.0,297.7M1075.3,298.6 L1071.2,306.3 M1077.0,302.3 L1071.2,306.3 L1071.4,299.3M1099.7,298.6 L1097.4,308.0 M1101.9,302.7 L1097.4,308.0 L1095.8,301.2M1124.0,298.6 L1123.6,309.8 M1127.0,303.6 L1123.6,309.8 L1120.6,303.4M1148.2,298.6 L1147.9,309.8 M1151.3,303.6 L1147.9,309.8 L1144.9,303.4M54.8,269.4 L58.9,284.9 M60.3,278.0 L58.9,284.9 L54.2,279.6M79.1,269.4 L85.6,287.8 M86.5,280.8 L85.6,287.8 L80.5,283.0M103.3,269.4 L112.3,290.7 M112.8,283.7 L112.3,290.7 L106.9,286.2M127.7,269.4 L136.2,290.7 M136.8,283.7 L136.2,290.7 L131.0,286.1M151.9,269.4 L160.2,290.7 M160.9,283.7 L160.2,290.7 L155.0,286.0M176.2,269.4 L184.1,290.7 M185.0,283.7 L184.1,290.7 L179.0,285.9M200.5,269.4 L208.1,290.7 M209.0,283.7 L208.1,290.7 L203.0,285.9M224.8,269.4 L233.4,294.6 M234.4,287.7 L233.4,294.6 L228.4,289.8M249.1,269.4 L258.8,298.6 M259.8,291.7 L258.8,298.6 L253.8,293.7M273.4,269.4 L280.7,287.4 M281.3,280.5 L280.7,287.4 L275.4,282.8M297.8,269.4 L302.6,276.3 M301.6,269.3 L302.6,276.3 L296.4,273.0M322.1,269.4 L324.1,277.1 M325.6,270.3 L324.1,277.1 L319.4,271.9M346.4,269.4 L345.7,278.0 M349.3,272.0 L345.7,278.0 L343.0,271.5M370.6,269.4 L372.0,273.7 M373.1,266.8 L372.0,273.7 L367.1,268.7M394.9,269.4 L398.4,269.4 M392.1,266.2 L398.4,269.4 L392.1,272.6M419.2,269.4 L427.5,270.8 M421.9,266.6 L427.5,270.8 L420.8,272.9M443.6,269.4 L456.6,272.1 M451.1,267.8 L456.6,272.1 L449.8,274.0M467.9,269.4 L479.0,266.5 M472.2,265.0 L479.0,266.5 L473.8,271.1M492.1,269.4 L501.4,260.8 M494.7,262.7 L501.4,260.8 L499.0,267.4M516.5,269.4 L525.9,262.7 M519.0,263.7 L525.9,262.7 L522.6,268.9M540.8,269.4 L550.4,264.6 M543.4,264.5 L550.4,264.6 L546.2,270.2M565.0,269.4 L571.6,263.9 M564.8,265.5 L571.6,263.9 L568.8,270.4M589.4,269.4 L592.8,263.2 M587.0,267.1 L592.8,263.2 L592.5,270.2M613.6,269.4 L616.4,265.5 M610.2,268.8 L616.4,265.5 L615.4,272.4M638.0,269.4 L640.0,267.7 M633.2,269.2 L640.0,267.7 L637.3,274.1M662.2,269.4 L659.0,269.4 M665.2,272.6 L659.0,269.4 L665.2,266.2M686.5,269.4 L678.0,271.1 M684.7,273.0 L678.0,271.1 L683.5,266.8M710.9,269.4 L701.8,271.6 M708.6,273.2 L701.8,271.6 L707.1,267.1M735.2,269.4 L725.5,272.1 M732.4,273.5 L725.5,272.1 L730.7,267.4M759.5,269.4 L751.2,272.1 M758.1,273.2 L751.2,272.1 L756.1,267.2M783.8,269.4 L776.9,272.1 M783.9,272.8 L776.9,272.1 L781.5,266.9M808.0,269.4 L802.9,271.8 M809.9,272.0 L802.9,271.8 L807.2,266.3M832.4,269.4 L828.9,271.5 M835.9,271.0 L828.9,271.5 L832.6,265.5M856.7,269.4 L854.4,273.0 M860.4,269.4 L854.4,273.0 L855.0,266.0M881.0,269.4 L879.9,274.6 M884.3,269.1 L879.9,274.6 L878.0,267.8M905.2,269.4 L903.4,274.6 M908.5,269.8 L903.4,274.6 L902.5,267.6M929.6,269.4 L926.8,274.6 M932.5,270.5 L926.8,274.6 L926.9,267.6M953.9,269.4 L953.0,289.1 M956.4,283.0 L953.0,289.1 L950.1,282.8M978.1,269.4 L979.2,303.7 M982.2,297.4 L979.2,303.7 L975.8,297.6M1002.5,269.4 L1000.9,290.9 M1004.5,284.9 L1000.9,290.9 L998.2,284.4M1026.8,269.4 L1022.6,278.0 M1028.2,273.7 L1022.6,278.0 L1022.5,271.0M1051.1,269.4 L1047.3,278.0 M1052.7,273.6 L1047.3,278.0 L1046.9,271.0M1075.3,269.4 L1071.9,278.0 M1077.2,273.4 L1071.9,278.0 L1071.3,271.0M1099.7,269.4 L1097.1,279.7 M1101.7,274.4 L1097.1,279.7 L1095.5,272.9M1124.0,269.4 L1122.2,281.4 M1126.3,275.7 L1122.2,281.4 L1120.0,274.8M1148.2,269.4 L1146.5,281.4 M1150.6,275.7 L1146.5,281.4 L1144.3,274.8M54.8,240.2 L63.2,253.1 M62.4,246.1 L63.2,253.1 L57.1,249.6M79.1,240.2 L88.1,256.3 M87.8,249.3 L88.1,256.3 L82.2,252.4M103.3,240.2 L113.0,259.4 M113.0,252.4 L113.0,259.4 L107.3,255.3M127.7,240.2 L136.6,259.9 M136.9,252.9 L136.6,259.9 L131.1,255.5M151.9,240.2 L160.2,260.3 M160.8,253.3 L160.2,260.3 L154.9,255.7M176.2,240.2 L183.7,260.3 M184.5,253.3 L183.7,260.3 L178.6,255.5M200.5,240.2 L207.2,260.3 M208.3,253.4 L207.2,260.3 L202.3,255.4M224.8,240.2 L232.3,261.4 M233.2,254.5 L232.3,261.4 L227.2,256.6M249.1,240.2 L257.4,262.5 M258.2,255.6 L257.4,262.5 L252.2,257.8M273.4,240.2 L282.9,255.7 M282.4,248.7 L282.9,255.7 L276.9,252.0M297.8,240.2 L308.4,248.8 M305.5,242.4 L308.4,248.8 L301.5,247.3M322.1,240.2 L331.5,247.8 M328.6,241.4 L331.5,247.8 L324.6,246.3M346.4,240.2 L354.6,246.7 M351.7,240.4 L354.6,246.7 L347.7,245.3M370.6,240.2 L379.5,243.5 M374.7,238.3 L379.5,243.5 L372.5,244.3M394.9,240.2 L404.4,240.2 M398.2,237.0 L404.4,240.2 L398.2,243.4M419.2,240.2 L429.6,241.6 M423.9,237.6 L429.6,241.6 L423.0,243.9M443.6,240.2 L454.9,242.9 M449.6,238.4 L454.9,242.9 L448.1,244.6M467.9,240.2 L478.7,237.0 M471.8,235.7 L478.7,237.0 L473.6,241.8M492.1,240.2 L502.5,231.1 M495.7,232.8 L502.5,231.1 L499.9,237.6M516.5,240.2 L524.4,233.2 M517.7,234.9 L524.4,233.2 L521.9,239.7M540.8,240.2 L546.4,235.2 M539.6,237.0 L546.4,235.2 L543.8,241.7M565.0,240.2 L569.4,235.5 M562.9,237.9 L569.4,235.5 L567.5,242.2M589.4,240.2 L592.4,235.7 M586.3,239.1 L592.4,235.7 L591.5,242.7M613.6,240.2 L615.5,236.5 M609.9,240.7 L615.5,236.5 L615.6,243.5M638.0,240.2 L638.5,237.3 M634.3,242.9 L638.5,237.3 L640.5,244.0M662.2,240.2 L660.6,237.3 M660.9,244.3 L660.6,237.3 L666.4,241.2M686.5,240.2 L682.8,237.3 M685.8,243.6 L682.8,237.3 L689.7,238.6M710.9,240.2 L706.6,236.9 M709.5,243.2 L706.6,236.9 L713.4,238.2M735.2,240.2 L720.8,237.5 M726.3,241.8 L720.8,237.5 L727.5,235.5M759.5,240.2 L747.1,236.1 M752.0,241.1 L747.1,236.1 L754.0,235.0M783.8,240.2 L785.8,236.7 M779.9,240.5 L785.8,236.7 L785.4,243.7M808.0,240.2 L812.0,244.2 M809.9,237.5 L812.0,244.2 L805.4,242.0M832.4,240.2 L837.9,244.2 M834.7,238.0 L837.9,244.2 L830.9,243.1M856.7,240.2 L856.1,244.6 M860.0,238.8 L856.1,244.6 L853.7,238.0M881.0,240.2 L879.1,245.4 M884.2,240.6 L879.1,245.4 L878.2,238.4M905.2,240.2 L903.6,239.8 M908.8,244.4 L903.6,239.8 L910.5,238.3M929.6,240.2 L928.2,234.2 M926.5,241.0 L928.2,234.2 L932.7,239.6M953.9,240.2 L955.1,246.8 M957.1,240.1 L955.1,246.8 L950.8,241.3M978.1,240.2 L982.1,259.4 M984.0,252.7 L982.1,259.4 L977.7,254.0M1002.5,240.2 L1004.1,252.8 M1006.4,246.2 L1004.1,252.8 L1000.1,247.0M1026.8,240.2 L1026.1,246.2 M1029.9,240.4 L1026.1,246.2 L1023.6,239.7M1051.1,240.2 L1050.9,246.4 M1054.2,240.2 L1050.9,246.4 L1047.9,240.1M1075.3,240.2 L1075.7,246.6 M1078.5,240.2 L1075.7,246.6 L1072.2,240.5M1099.7,240.2 L1099.7,247.2 M1102.8,241.0 L1099.7,247.2 L1096.5,241.0M1124.0,240.2 L1123.6,247.9 M1127.1,241.8 L1123.6,247.9 L1120.7,241.6M1148.2,240.2 L1147.9,247.9 M1151.4,241.8 L1147.9,247.9 L1145.0,241.6M54.8,211.0 L67.5,221.3 M64.6,214.9 L67.5,221.3 L60.6,219.8M79.1,211.0 L90.6,224.7 M89.0,217.9 L90.6,224.7 L84.1,222.0M103.3,211.0 L113.7,228.2 M113.2,221.2 L113.7,228.2 L107.7,224.5M127.7,211.0 L136.9,229.0 M136.9,222.0 L136.9,229.0 L131.2,224.9M151.9,211.0 L160.2,229.9 M160.6,222.9 L160.2,229.9 L154.8,225.4M176.2,211.0 L183.3,229.9 M184.1,222.9 L183.3,229.9 L178.1,225.1M200.5,211.0 L206.4,229.9 M207.6,223.0 L206.4,229.9 L201.5,224.9M224.8,211.0 L231.2,228.2 M232.0,221.2 L231.2,228.2 L226.1,223.4M249.1,211.0 L256.0,226.5 M256.4,219.5 L256.0,226.5 L250.6,222.0M273.4,211.0 L285.1,223.9 M283.3,217.1 L285.1,223.9 L278.6,221.4M297.8,211.0 L314.2,221.3 M310.6,215.3 L314.2,221.3 L307.3,220.7M322.1,211.0 L338.9,218.4 M334.4,213.0 L338.9,218.4 L331.9,218.8M346.4,211.0 L363.5,215.5 M358.3,210.8 L363.5,215.5 L356.7,217.0M370.6,211.0 L387.0,213.2 M381.2,209.2 L387.0,213.2 L380.3,215.5M394.9,211.0 L410.4,211.0 M404.2,207.8 L410.4,211.0 L404.2,214.2M419.2,211.0 L431.8,212.4 M425.9,208.5 L431.8,212.4 L425.2,214.9M443.6,211.0 L453.2,213.7 M448.0,209.0 L453.2,213.7 L446.3,215.1M467.9,211.0 L478.3,207.6 M471.4,206.5 L478.3,207.6 L473.4,212.5M492.1,211.0 L503.5,201.4 M496.7,203.0 L503.5,201.4 L500.8,207.8M516.5,211.0 L523.0,203.6 M516.5,206.2 L523.0,203.6 L521.2,210.4M540.8,211.0 L542.5,205.8 M537.5,210.8 L542.5,205.8 L543.5,212.8M565.0,211.0 L567.3,207.1 M561.4,210.9 L567.3,207.1 L567.0,214.0M589.4,211.0 L592.1,208.3 M585.4,210.4 L592.1,208.3 L589.9,214.9M613.6,211.0 L614.5,207.6 M609.9,212.8 L614.5,207.6 L616.1,214.4M638.0,211.0 L636.9,206.9 M635.3,213.7 L636.9,206.9 L641.5,212.2M662.2,211.0 L662.2,205.2 M659.1,211.4 L662.2,205.2 L665.4,211.4M686.5,211.0 L687.6,203.4 M683.6,209.2 L687.6,203.4 L689.9,210.1M710.9,211.0 L710.1,198.6 M707.3,205.0 L710.1,198.6 L713.7,204.6M735.2,211.0 L735.2,198.6 M732.0,204.8 L735.2,198.6 L738.3,204.8M759.5,211.0 L765.0,213.7 M760.8,208.1 L765.0,213.7 L758.0,213.8M783.8,211.0 L787.2,214.4 M785.0,207.8 L787.2,214.4 L780.5,212.3M808.0,211.0 L813.5,215.8 M810.9,209.3 L813.5,215.8 L806.8,214.1M832.4,211.0 L837.9,217.9 M836.4,211.0 L837.9,217.9 L831.5,215.0M856.7,211.0 L857.9,216.2 M859.5,209.4 L857.9,216.2 L853.3,210.8M881.0,211.0 L878.2,216.2 M883.9,212.1 L878.2,216.2 L878.3,209.2M905.2,211.0 L903.9,205.0 M902.2,211.8 L903.9,205.0 L908.4,210.4M929.6,211.0 L929.6,193.8 M926.4,200.1 L929.6,193.8 L932.7,200.1M953.9,211.0 L957.3,204.5 M951.6,208.5 L957.3,204.5 L957.2,211.5M978.1,211.0 L985.0,215.1 M981.3,209.2 L985.0,215.1 L978.0,214.6M1002.5,211.0 L1007.3,214.8 M1004.3,208.4 L1007.3,214.8 L1000.4,213.4M1026.8,211.0 L1029.5,214.4 M1028.1,207.6 L1029.5,214.4 L1023.1,211.5M1051.1,211.0 L1054.5,214.8 M1052.6,208.0 L1054.5,214.8 L1047.9,212.3M1075.3,211.0 L1079.5,215.1 M1077.3,208.5 L1079.5,215.1 L1072.8,213.0M1099.7,211.0 L1102.2,214.8 M1101.3,207.8 L1102.2,214.8 L1096.1,211.4M1124.0,211.0 L1125.0,214.4 M1126.2,207.5 L1125.0,214.4 L1120.1,209.4M1148.2,211.0 L1149.3,214.4 M1150.5,207.5 L1149.3,214.4 L1144.4,209.4M54.8,181.8 L70.0,188.2 M65.5,182.8 L70.0,188.2 L63.0,188.7M79.1,181.8 L94.1,191.0 M90.4,185.0 L94.1,191.0 L87.1,190.4M103.3,181.8 L118.1,193.8 M115.3,187.4 L118.1,193.8 L111.3,192.3M127.7,181.8 L141.3,195.7 M139.2,189.0 L141.3,195.7 L134.7,193.5M151.9,181.8 L164.5,197.6 M163.1,190.7 L164.5,197.6 L158.1,194.7M176.2,181.8 L187.8,199.1 M187.0,192.2 L187.8,199.1 L181.7,195.7M200.5,181.8 L211.0,200.7 M210.8,193.7 L211.0,200.7 L205.2,196.8M224.8,181.8 L236.2,199.8 M235.6,192.9 L236.2,199.8 L230.2,196.2M249.1,181.8 L261.3,199.0 M260.3,192.0 L261.3,199.0 L255.1,195.7M273.4,181.8 L288.0,196.6 M285.9,189.9 L288.0,196.6 L281.3,194.3M297.8,181.8 L314.6,194.2 M311.4,187.9 L314.6,194.2 L307.7,193.0M322.1,181.8 L339.3,190.8 M335.2,185.1 L339.3,190.8 L332.3,190.7M346.4,181.8 L364.0,187.5 M359.1,182.5 L364.0,187.5 L357.1,188.6M370.6,181.8 L388.1,185.1 M382.5,180.8 L388.1,185.1 L381.4,187.0M394.9,181.8 L412.1,182.7 M406.0,179.2 L412.1,182.7 L405.7,185.5M419.2,181.8 L432.6,182.4 M426.6,178.9 L432.6,182.4 L426.3,185.3M443.6,181.8 L453.2,182.1 M447.0,178.7 L453.2,182.1 L446.8,185.1M467.9,181.8 L477.7,176.0 M470.7,176.4 L477.7,176.0 L473.9,181.9M492.1,181.8 L502.3,170.0 M495.8,172.6 L502.3,170.0 L500.6,176.8M516.5,181.8 L523.5,173.7 M517.0,176.3 L523.5,173.7 L521.8,180.5M540.8,181.8 L544.7,177.5 M538.1,179.9 L544.7,177.5 L542.8,184.2M565.0,181.8 L568.7,177.9 M562.1,180.3 L568.7,177.9 L566.7,184.6M589.4,181.8 L592.8,178.4 M586.1,180.5 L592.8,178.4 L590.6,185.0M613.6,181.8 L615.8,178.5 M609.7,182.0 L615.8,178.5 L615.0,185.5M638.0,181.8 L638.8,178.7 M634.1,183.9 L638.8,178.7 L640.2,185.6M662.2,181.8 L663.6,177.5 M658.7,182.5 L663.6,177.5 L664.7,184.4M686.5,181.8 L688.4,176.3 M683.4,181.2 L688.4,176.3 L689.4,183.2M710.9,181.8 L706.8,166.0 M705.2,172.8 L706.8,166.0 L711.4,171.2M735.2,181.8 L735.2,166.8 M732.0,173.0 L735.2,166.8 L738.3,173.0M759.5,181.8 L763.5,177.0 M757.0,179.8 L763.5,177.0 L761.9,183.8M783.8,181.8 L786.3,185.2 M785.1,178.3 L786.3,185.2 L780.0,182.2M808.0,181.8 L813.5,176.3 M806.9,178.5 L813.5,176.3 L811.4,183.0M832.4,181.8 L836.3,186.1 M834.4,179.4 L836.3,186.1 L829.7,183.7M856.7,181.8 L857.4,186.1 M859.4,179.4 L857.4,186.1 L853.2,180.5M881.0,181.8 L878.5,186.1 M884.4,182.2 L878.5,186.1 L878.8,179.1M905.2,181.8 L904.3,180.9 M906.8,187.5 L904.3,180.9 L911.1,182.8M929.6,181.8 L930.1,175.8 M926.4,181.7 L930.1,175.8 L932.7,182.3M953.9,181.8 L956.2,182.0 M950.2,178.3 L956.2,182.0 L949.7,184.7M978.1,181.8 L982.3,188.2 M981.5,181.2 L982.3,188.2 L976.2,184.6M1002.5,181.8 L1004.9,188.8 M1005.8,181.9 L1004.9,188.8 L999.8,184.0M1026.8,181.8 L1027.4,189.5 M1030.0,183.0 L1027.4,189.5 L1023.7,183.6M1051.1,181.8 L1053.1,190.1 M1054.7,183.3 L1053.1,190.1 L1048.5,184.8M1075.3,181.8 L1078.8,190.7 M1079.5,183.8 L1078.8,190.7 L1073.6,186.0M1099.7,181.8 L1102.3,188.4 M1102.9,181.4 L1102.3,188.4 L1097.0,183.8M1124.0,181.8 L1125.8,186.1 M1126.2,179.1 L1125.8,186.1 L1120.4,181.7M1148.2,181.8 L1150.1,186.1 M1150.5,179.1 L1150.1,186.1 L1144.7,181.7M54.8,152.6 L72.6,155.0 M66.8,151.0 L72.6,155.0 L66.0,157.3M79.1,152.6 L97.6,157.2 M92.3,152.6 L97.6,157.2 L90.8,158.8M103.3,152.6 L122.6,159.5 M117.8,154.4 L122.6,159.5 L115.6,160.4M127.7,152.6 L145.7,162.4 M141.7,156.6 L145.7,162.4 L138.7,162.2M151.9,152.6 L168.8,165.3 M165.7,159.0 L168.8,165.3 L161.9,164.1M176.2,152.6 L192.2,168.4 M190.0,161.7 L192.2,168.4 L185.5,166.3M200.5,152.6 L215.7,171.5 M214.2,164.6 L215.7,171.5 L209.3,168.6M224.8,152.6 L241.2,171.5 M239.5,164.7 L241.2,171.5 L234.7,168.8M249.1,152.6 L266.7,171.5 M264.8,164.7 L266.7,171.5 L260.1,169.1M273.4,152.6 L290.8,169.3 M288.5,162.6 L290.8,169.3 L284.1,167.2M297.8,152.6 L314.9,167.0 M312.2,160.6 L314.9,167.0 L308.1,165.4M322.1,152.6 L339.7,163.2 M336.0,157.3 L339.7,163.2 L332.7,162.7M346.4,152.6 L364.5,159.5 M359.8,154.3 L364.5,159.5 L357.6,160.2M370.6,152.6 L389.2,156.9 M383.8,152.4 L389.2,156.9 L382.4,158.6M394.9,152.6 L413.8,154.3 M407.9,150.6 L413.8,154.3 L407.3,156.9M419.2,152.6 L433.5,152.4 M427.2,149.3 L433.5,152.4 L427.3,155.7M443.6,152.6 L453.2,150.5 M446.4,148.7 L453.2,150.5 L447.7,155.0M467.9,152.6 L477.1,144.5 M470.3,146.2 L477.1,144.5 L474.5,151.0M492.1,152.6 L501.1,138.5 M495.1,142.1 L501.1,138.5 L500.4,145.5M516.5,152.6 L524.0,143.8 M517.5,146.5 L524.0,143.8 L522.3,150.6M540.8,152.6 L546.9,149.2 M539.9,149.4 L546.9,149.2 L543.0,155.0M565.0,152.6 L570.2,148.8 M563.3,149.9 L570.2,148.8 L567.0,155.1M589.4,152.6 L593.5,148.5 M586.8,150.6 L593.5,148.5 L591.3,155.1M613.6,152.6 L617.1,149.5 M610.3,151.3 L617.1,149.5 L614.6,156.0M638.0,152.6 L640.7,150.5 M633.8,151.7 L640.7,150.5 L637.6,156.8M662.2,152.6 L665.0,149.9 M658.3,152.0 L665.0,149.9 L662.8,156.5M686.5,152.6 L689.3,149.2 M682.9,152.1 L689.3,149.2 L687.9,156.0M710.9,152.6 L712.7,147.8 M707.5,152.4 L712.7,147.8 L713.4,154.8M735.2,152.6 L736.2,146.4 M732.0,152.0 L736.2,146.4 L738.3,153.1M759.5,152.6 L760.8,151.2 M754.2,153.4 L760.8,151.2 L758.7,157.9M783.8,152.6 L785.5,156.0 M785.5,149.0 L785.5,156.0 L779.8,151.9M808.0,152.6 L810.3,156.0 M809.5,149.1 L810.3,156.0 L804.2,152.5M832.4,152.6 L835.1,156.0 M833.7,149.2 L835.1,156.0 L828.7,153.1M856.7,152.6 L857.0,156.0 M859.5,149.5 L857.0,156.0 L853.2,150.1M881.0,152.6 L878.9,156.0 M884.8,152.3 L878.9,156.0 L879.4,149.1M905.2,152.6 L904.7,156.9 M908.6,151.1 L904.7,156.9 L902.3,150.3M929.6,152.6 L930.6,157.8 M932.5,151.0 L930.6,157.8 L926.2,152.3M953.9,152.6 L955.1,159.5 M957.1,152.8 L955.1,159.5 L950.8,153.9M978.1,152.6 L979.5,161.2 M981.7,154.5 L979.5,161.2 L975.4,155.5M1002.5,152.6 L1002.5,162.9 M1005.6,156.7 L1002.5,162.9 L999.3,156.7M1026.8,152.6 L1025.4,164.6 M1029.2,158.8 L1025.4,164.6 L1022.9,158.1M1051.1,152.6 L1051.7,165.5 M1054.6,159.1 L1051.7,165.5 L1048.2,159.4M1075.3,152.6 L1078.1,166.3 M1080.0,159.6 L1078.1,166.3 L1073.8,160.8M1099.7,152.6 L1102.4,162.0 M1103.7,155.2 L1102.4,162.0 L1097.6,156.9M1124.0,152.6 L1126.7,157.8 M1126.6,150.8 L1126.7,157.8 L1121.0,153.7M1148.2,152.6 L1151.0,157.8 M1150.9,150.8 L1151.0,157.8 L1145.3,153.7M54.8,123.4 L72.6,125.8 M66.8,121.8 L72.6,125.8 L66.0,128.1M79.1,123.4 L97.6,128.0 M92.3,123.4 L97.6,128.0 L90.8,129.6M103.3,123.4 L122.6,130.3 M117.8,125.2 L122.6,130.3 L115.6,131.2M127.7,123.4 L144.7,133.0 M140.8,127.2 L144.7,133.0 L137.7,132.7M151.9,123.4 L167.9,134.4 M164.6,128.2 L167.9,134.4 L161.0,133.5M176.2,123.4 L191.8,138.1 M189.4,131.5 L191.8,138.1 L185.1,136.1M200.5,123.4 L215.7,141.8 M214.1,134.9 L215.7,141.8 L209.2,139.0M224.8,123.4 L240.2,141.6 M238.6,134.8 L240.2,141.6 L233.8,138.9M249.1,123.4 L264.8,141.4 M263.1,134.6 L264.8,141.4 L258.3,138.8M273.4,123.4 L288.3,139.6 M286.4,132.9 L288.3,139.6 L281.7,137.2M297.8,123.4 L311.8,137.8 M309.7,131.1 L311.8,137.8 L305.2,135.6M322.1,123.4 L334.9,135.8 M332.6,129.1 L334.9,135.8 L328.2,133.7M346.4,123.4 L358.0,133.7 M355.4,127.2 L358.0,133.7 L351.2,132.0M370.6,123.4 L381.6,130.9 M378.3,124.7 L381.6,130.9 L374.7,130.0M394.9,123.4 L405.3,128.0 M400.9,122.6 L405.3,128.0 L398.3,128.4M419.2,123.4 L427.8,123.5 M421.6,120.2 L427.8,123.5 L421.6,126.6M443.6,123.4 L450.4,118.9 M443.5,119.7 L450.4,118.9 L446.9,125.0M467.9,123.4 L476.3,115.1 M469.6,117.2 L476.3,115.1 L474.1,121.7M492.1,123.4 L502.1,111.2 M495.7,114.0 L502.1,111.2 L500.6,118.1M516.5,123.4 L526.4,115.2 M519.6,116.7 L526.4,115.2 L523.6,121.6M540.8,123.4 L550.7,119.1 M543.7,118.7 L550.7,119.1 L546.2,124.5M565.0,123.4 L572.8,120.8 M565.9,119.8 L572.8,120.8 L567.9,125.8M589.4,123.4 L594.8,122.5 M588.2,120.4 L594.8,122.5 L589.2,126.6M613.6,123.4 L617.8,123.5 M611.6,120.2 L617.8,123.5 L611.5,126.5M638.0,123.4 L640.7,124.4 M636.0,119.3 L640.7,124.4 L633.7,125.2M662.2,123.4 L665.3,122.0 M658.3,121.7 L665.3,122.0 L660.9,127.5M686.5,123.4 L690.0,119.6 M683.4,122.1 L690.0,119.6 L688.1,126.4M710.9,123.4 L714.4,119.1 M708.0,121.9 L714.4,119.1 L712.9,125.9M735.2,123.4 L738.8,118.6 M732.5,121.7 L738.8,118.6 L737.6,125.5M759.5,123.4 L762.9,121.2 M755.9,121.9 L762.9,121.2 L759.4,127.2M783.8,123.4 L787.0,123.7 M781.1,119.9 L787.0,123.7 L780.5,126.3M808.0,123.4 L811.7,123.9 M805.9,119.9 L811.7,123.9 L805.0,126.2M832.4,123.4 L836.3,124.1 M830.7,119.9 L836.3,124.1 L829.6,126.1M856.7,123.4 L859.5,124.9 M855.5,119.2 L859.5,124.9 L852.5,124.7M881.0,123.4 L882.7,125.8 M881.6,118.9 L882.7,125.8 L876.5,122.6M905.2,123.4 L907.5,126.7 M906.7,119.8 L907.5,126.7 L901.4,123.3M929.6,123.4 L932.3,127.7 M931.6,120.7 L932.3,127.7 L926.3,124.2M953.9,123.4 L956.4,128.8 M956.6,121.8 L956.4,128.8 L950.9,124.5M978.1,123.4 L980.6,129.9 M981.4,123.0 L980.6,129.9 L975.4,125.2M1002.5,123.4 L1003.6,131.8 M1005.9,125.1 L1003.6,131.8 L999.6,126.0M1026.8,123.4 L1025.4,135.4 M1029.2,129.6 L1025.4,135.4 L1022.9,128.9M1051.1,123.4 L1051.7,136.3 M1054.6,129.9 L1051.7,136.3 L1048.2,130.2M1075.3,123.4 L1078.1,137.1 M1080.0,130.4 L1078.1,137.1 L1073.8,131.6M1099.7,123.4 L1102.4,132.8 M1103.7,126.0 L1102.4,132.8 L1097.6,127.7M1124.0,123.4 L1126.7,128.6 M1126.6,121.6 L1126.7,128.6 L1121.0,124.5M1148.2,123.4 L1151.0,128.6 M1150.9,121.6 L1151.0,128.6 L1145.3,124.5M151.9,94.2 L167.1,103.5 M163.4,97.5 L167.1,103.5 L160.1,102.9M176.2,94.2 L191.4,107.8 M188.8,101.2 L191.4,107.8 L184.6,106.0M200.5,94.2 L215.7,112.1 M214.1,105.2 L215.7,112.1 L209.2,109.3M224.8,94.2 L239.3,111.7 M237.8,104.9 L239.3,111.7 L232.9,108.9M249.1,94.2 L262.9,111.4 M261.5,104.5 L262.9,111.4 L256.5,108.5M273.4,94.2 L285.8,110.0 M284.5,103.1 L285.8,110.0 L279.5,107.0M297.8,94.2 L308.7,108.6 M307.5,101.7 L308.7,108.6 L302.4,105.6M322.1,94.2 L330.1,108.3 M329.8,101.3 L330.1,108.3 L324.3,104.4M346.4,94.2 L351.5,107.9 M352.3,101.0 L351.5,107.9 L346.3,103.2M370.6,94.2 L374.1,104.8 M375.2,97.9 L374.1,104.8 L369.1,99.9M394.9,94.2 L396.7,101.8 M398.4,95.0 L396.7,101.8 L392.2,96.4M419.2,94.2 L422.2,94.5 M416.3,90.7 L422.2,94.5 L415.6,97.0M443.6,94.2 L447.7,87.3 M441.7,91.0 L447.7,87.3 L447.2,94.3M467.9,94.2 L475.4,85.6 M468.9,88.2 L475.4,85.6 L473.7,92.4M492.1,94.2 L503.1,83.9 M496.4,85.8 L503.1,83.9 L500.8,90.5M516.5,94.2 L528.8,86.5 M521.8,87.1 L528.8,86.5 L525.2,92.5M540.8,94.2 L554.5,89.0 M547.5,88.3 L554.5,89.0 L549.8,94.2M565.0,94.2 L575.4,92.8 M568.7,90.5 L575.4,92.8 L569.6,96.8M589.4,94.2 L596.2,96.6 M591.4,91.5 L596.2,96.6 L589.3,97.5M613.6,94.2 L618.5,97.5 M615.1,91.3 L618.5,97.5 L611.5,96.6M638.0,94.2 L640.7,98.3 M639.9,91.4 L640.7,98.3 L634.6,94.9M662.2,94.2 L665.7,94.2 M659.4,91.0 L665.7,94.2 L659.4,97.4M686.5,94.2 L690.7,90.1 M684.0,92.2 L690.7,90.1 L688.5,96.7M710.9,94.2 L716.0,90.4 M709.1,91.5 L716.0,90.4 L712.8,96.7M735.2,94.2 L741.3,90.8 M734.3,91.0 L741.3,90.8 L737.4,96.6M759.5,94.2 L764.9,91.1 M757.9,91.4 L764.9,91.1 L761.1,96.9M783.8,94.2 L788.6,91.5 M781.6,91.8 L788.6,91.5 L784.7,97.3M808.0,94.2 L813.0,91.8 M806.0,91.6 L813.0,91.8 L808.8,97.4M832.4,94.2 L837.5,92.1 M830.5,91.5 L837.5,92.1 L832.9,97.4M856.7,94.2 L862.0,93.9 M855.5,91.1 L862.0,93.9 L856.0,97.4M881.0,94.2 L886.4,95.6 M881.2,91.0 L886.4,95.6 L879.6,97.1M905.2,94.2 L910.2,96.6 M906.0,91.0 L910.2,96.6 L903.2,96.8M929.6,94.2 L934.0,97.6 M931.0,91.3 L934.0,97.6 L927.1,96.3M953.9,94.2 L957.8,98.1 M955.6,91.5 L957.8,98.1 L951.1,96.0M978.1,94.2 L981.6,98.7 M980.3,91.8 L981.6,98.7 L975.3,95.7M1002.5,94.2 L1005.9,98.7 M1004.6,91.8 L1005.9,98.7 L999.6,95.7M297.8,65.0 L308.7,79.4 M307.5,72.5 L308.7,79.4 L302.4,76.4M322.1,65.0 L330.1,79.1 M329.8,72.1 L330.1,79.1 L324.3,75.2M346.4,65.0 L351.5,78.7 M352.3,71.8 L351.5,78.7 L346.3,74.0M370.6,65.0 L374.1,75.6 M375.2,68.7 L374.1,75.6 L369.1,70.7M394.9,65.0 L396.7,72.6 M398.4,65.8 L396.7,72.6 L392.2,67.2M419.2,65.0 L422.2,65.3 M416.3,61.5 L422.2,65.3 L415.6,67.8"/>
</g>
</g>
<rect x="55.00" y="64.50" width="1093.50" height="730.00" fill="none" stroke="#000" stroke-width="2.6"/>
<g stroke="#000" stroke-width="2">
<line x1="49.5" y1="794.5" x2="55" y2="794.5"/><line x1="49.5" y1="722.0" x2="55" y2="722.0"/><line x1="49.5" y1="649.0" x2="55" y2="649.0"/><line x1="49.5" y1="576.0" x2="55" y2="576.0"/><line x1="49.5" y1="503.0" x2="55" y2="503.0"/><line x1="49.5" y1="430.0" x2="55" y2="430.0"/><line x1="49.5" y1="357.0" x2="55" y2="357.0"/><line x1="49.5" y1="284.0" x2="55" y2="284.0"/><line x1="49.5" y1="211.0" x2="55" y2="211.0"/><line x1="49.5" y1="138.0" x2="55" y2="138.0"/><line x1="49.5" y1="64.5" x2="55" y2="64.5"/><line x1="115.5" y1="794.5" x2="115.5" y2="800.0"/><line x1="237.0" y1="794.5" x2="237.0" y2="800.0"/><line x1="358.5" y1="794.5" x2="358.5" y2="800.0"/><line x1="480.0" y1="794.5" x2="480.0" y2="800.0"/><line x1="601.5" y1="794.5" x2="601.5" y2="800.0"/><line x1="723.0" y1="794.5" x2="723.0" y2="800.0"/><line x1="844.5" y1="794.5" x2="844.5" y2="800.0"/><line x1="966.0" y1="794.5" x2="966.0" y2="800.0"/><line x1="1087.5" y1="794.5" x2="1087.5" y2="800.0"/>
</g>
<g class="t" font-size="15.6" stroke="#000" stroke-width="0.55">
<text x="44.5" y="800.6" text-anchor="end" textLength="18.8" lengthAdjust="spacingAndGlyphs">5N</text><text x="44.5" y="727.6" text-anchor="end" textLength="28.3" lengthAdjust="spacingAndGlyphs">10N</text><text x="44.5" y="654.6" text-anchor="end" textLength="28.3" lengthAdjust="spacingAndGlyphs">15N</text><text x="44.5" y="581.6" text-anchor="end" textLength="28.3" lengthAdjust="spacingAndGlyphs">20N</text><text x="44.5" y="508.6" text-anchor="end" textLength="28.3" lengthAdjust="spacingAndGlyphs">25N</text><text x="44.5" y="435.6" text-anchor="end" textLength="28.3" lengthAdjust="spacingAndGlyphs">30N</text><text x="44.5" y="362.6" text-anchor="end" textLength="28.3" lengthAdjust="spacingAndGlyphs">35N</text><text x="44.5" y="289.6" text-anchor="end" textLength="28.3" lengthAdjust="spacingAndGlyphs">40N</text><text x="44.5" y="216.6" text-anchor="end" textLength="28.3" lengthAdjust="spacingAndGlyphs">45N</text><text x="44.5" y="143.6" text-anchor="end" textLength="28.3" lengthAdjust="spacingAndGlyphs">50N</text><text x="44.5" y="70.6" text-anchor="end" textLength="28.3" lengthAdjust="spacingAndGlyphs">55N</text><text x="115.5" y="815.6" text-anchor="middle" textLength="28.5" lengthAdjust="spacingAndGlyphs">20W</text><text x="237.0" y="815.6" text-anchor="middle" textLength="28.5" lengthAdjust="spacingAndGlyphs">10W</text><text x="358.5" y="815.6" text-anchor="middle" textLength="8.5" lengthAdjust="spacingAndGlyphs">0</text><text x="480.0" y="815.6" text-anchor="middle" textLength="27.0" lengthAdjust="spacingAndGlyphs">10E</text><text x="601.5" y="815.6" text-anchor="middle" textLength="27.0" lengthAdjust="spacingAndGlyphs">20E</text><text x="723.0" y="815.6" text-anchor="middle" textLength="27.0" lengthAdjust="spacingAndGlyphs">30E</text><text x="844.5" y="815.6" text-anchor="middle" textLength="27.0" lengthAdjust="spacingAndGlyphs">40E</text><text x="966.0" y="815.6" text-anchor="middle" textLength="27.0" lengthAdjust="spacingAndGlyphs">50E</text><text x="1087.5" y="815.6" text-anchor="middle" textLength="27.0" lengthAdjust="spacingAndGlyphs">60E</text>
</g>
<g class="t" font-size="21" stroke="#000" stroke-width="0.45">
<text x="55.5" y="32.7" textLength="79.5" lengthAdjust="spacingAndGlyphs">DREAM8</text>
<rect x="137" y="25.3" width="15" height="2.2" fill="#000"/>
<text x="153.8" y="32.7" textLength="63.7" lengthAdjust="spacingAndGlyphs">assim:</text>
<text x="231.5" y="32.7" textLength="76.5" lengthAdjust="spacingAndGlyphs">Surface</text>
<text x="322.0" y="32.7" textLength="43.0" lengthAdjust="spacingAndGlyphs">dust</text>
<text x="377.5" y="32.7" textLength="137.5" lengthAdjust="spacingAndGlyphs">concentration</text>
<text x="528.5" y="32.7" textLength="84.5" lengthAdjust="spacingAndGlyphs">(&#956;g/m&#179;)</text>
<text x="627.5" y="32.7" textLength="35.0" lengthAdjust="spacingAndGlyphs">and</text>
<text x="677.0" y="32.7" textLength="41.5" lengthAdjust="spacingAndGlyphs">wind</text>
<text x="734.5" y="32.7" textLength="60.0" lengthAdjust="spacingAndGlyphs">(m/s)</text>
<text x="55.5" y="54.0" textLength="87.0" lengthAdjust="spacingAndGlyphs">Forecast</text>
<text x="155.8" y="54.0" textLength="45.8" lengthAdjust="spacingAndGlyphs">base</text>
<text x="215.8" y="54.0" textLength="49.5" lengthAdjust="spacingAndGlyphs">time:</text>
<text x="278.5" y="54.0" textLength="151.5" lengthAdjust="spacingAndGlyphs">00Z06JUL2025</text>
<text x="479.5" y="54.0" textLength="44.0" lengthAdjust="spacingAndGlyphs">valid</text>
<text x="538.0" y="54.0" textLength="50.0" lengthAdjust="spacingAndGlyphs">time:</text>
<text x="604.0" y="54.0" textLength="148.5" lengthAdjust="spacingAndGlyphs">18Z06JUL2025</text>
<text x="768.0" y="54.0" textLength="58.5" lengthAdjust="spacingAndGlyphs">(+18)</text>
</g>
<g id="logo" fill="#808080">
<defs><clipPath id="lgc"><rect x="1015" y="20" width="62" height="26.3"/></clipPath></defs>
<circle cx="1028" cy="43.75" r="10"/><circle cx="1043.5" cy="36.3" r="12.3"/><circle cx="1061" cy="41.45" r="12.3"/><rect x="1028" y="43" width="33" height="10.75"/>
<g fill="#fff" clip-path="url(#lgc)"><circle cx="1031" cy="44.2" r="4.1"/><circle cx="1044.2" cy="39.6" r="6.3"/><circle cx="1059" cy="43.2" r="5.6"/><rect x="1031" y="41.2" width="28" height="6"/></g>
<path fill="#4b4b4b" stroke="#fff" stroke-width="0.7" d="M1041.6,46.3 L1046.5,46.3 L1049.8,50 L1046.5,53.8 L1041.6,53.8 L1044.8,50Z"/>
<text x="1077" y="53.4" font-size="32.8" font-weight="bold" textLength="73.5" lengthAdjust="spacingAndGlyphs" fill="#808080" stroke="#808080" stroke-width="0.5">SEEVCCC</text>
</g>
<g stroke="#000" stroke-width="2.2" stroke-linejoin="miter">
<path fill="#fff" d="M295.2,845.5 L207.5,856.4 L295.2,867.3 Z"/>
<rect x="295.2" y="845.5" width="87.6" height="21.8" fill="#c5f3ec"/>
<rect x="382.8" y="845.5" width="87.6" height="21.8" fill="#5ee2bb"/>
<rect x="470.4" y="845.5" width="87.6" height="21.8" fill="#f7e777"/>
<rect x="558.0" y="845.5" width="87.6" height="21.8" fill="#ea8968"/>
<rect x="645.6" y="845.5" width="87.6" height="21.8" fill="#ad4b44"/>
<rect x="733.2" y="845.5" width="87.6" height="21.8" fill="#870030"/>
<rect x="820.8" y="845.5" width="87.6" height="21.8" fill="#3b2314"/>
<path fill="#8c68a0" d="M908.4,845.5 L997.0,856.4 L908.4,867.3 Z"/>
</g>
<g class="t" font-size="24">
<text x="295.2" y="890.6" text-anchor="middle" textLength="14.5" lengthAdjust="spacingAndGlyphs">5</text><text x="382.8" y="890.6" text-anchor="middle" textLength="30.5" lengthAdjust="spacingAndGlyphs">20</text><text x="470.4" y="890.6" text-anchor="middle" textLength="30.5" lengthAdjust="spacingAndGlyphs">50</text><text x="558.0" y="890.6" text-anchor="middle" textLength="46.5" lengthAdjust="spacingAndGlyphs">200</text><text x="645.6" y="890.6" text-anchor="middle" textLength="46.5" lengthAdjust="spacingAndGlyphs">500</text><text x="733.2" y="890.6" text-anchor="middle" textLength="62.5" lengthAdjust="spacingAndGlyphs">2000</text><text x="820.8" y="890.6" text-anchor="middle" textLength="62.5" lengthAdjust="spacingAndGlyphs">5000</text><text x="908.4" y="890.6" text-anchor="middle" textLength="78.5" lengthAdjust="spacingAndGlyphs">20000</text>
</g>
<g stroke="#000" stroke-width="1.3" fill="none"><path d="M1067,856.7 L1124.5,856.7 M1117.5,853.2 L1124.5,856.7 L1117.5,860.2"/></g>
<text class="t" x="1095.5" y="873.6" font-size="15" text-anchor="middle" textLength="20.5" lengthAdjust="spacingAndGlyphs">20</text>
</svg>
</body></html>
